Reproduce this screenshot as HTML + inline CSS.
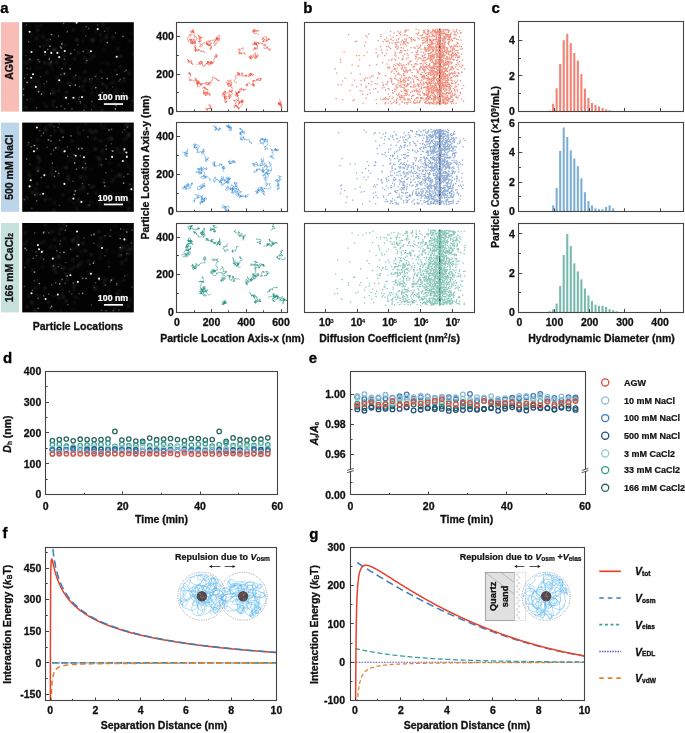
<!DOCTYPE html>
<html><head><meta charset="utf-8"><style>
html,body{margin:0;padding:0;background:#fff;}
svg{display:block;will-change:transform;}
text{font-family:"Liberation Sans",sans-serif;font-weight:bold;}
</style></head><body>
<svg width="685" height="733" viewBox="0 0 685 733">
<rect width="685" height="733" fill="#fff"/>
<defs><filter id="bl" x="-50%" y="-50%" width="200%" height="200%"><feGaussianBlur stdDeviation="0.55"/></filter><filter id="bl2" x="-50%" y="-50%" width="200%" height="200%"><feGaussianBlur stdDeviation="0.9"/></filter></defs>
<text x="0.3" y="13.1" font-size="15" text-anchor="start" fill="#000" stroke="#000" stroke-width="0.30" >a</text>
<text x="303.2" y="12.9" font-size="15" text-anchor="start" fill="#000" stroke="#000" stroke-width="0.30" >b</text>
<text x="491.6" y="13.3" font-size="15" text-anchor="start" fill="#000" stroke="#000" stroke-width="0.30" >c</text>
<text x="2.9" y="363" font-size="15" text-anchor="start" fill="#000" stroke="#000" stroke-width="0.30" >d</text>
<text x="308.8" y="363" font-size="15" text-anchor="start" fill="#000" stroke="#000" stroke-width="0.30" >e</text>
<text x="2.4" y="538.3" font-size="15" text-anchor="start" fill="#000" stroke="#000" stroke-width="0.30" >f</text>
<text x="309.2" y="538.7" font-size="15" text-anchor="start" fill="#000" stroke="#000" stroke-width="0.30" >g</text>
<rect x="1" y="22.2" width="18" height="89.4" fill="#F7BDB6"/>
<text transform="translate(13.2,66.9) rotate(-90)" font-size="10.5" text-anchor="middle" fill="#111" stroke="#111" stroke-width="0.3">AGW</text>
<rect x="22.2" y="22.2" width="111.6" height="89.4" fill="#030303"/>
<g fill="#fff" filter="url(#bl)"><circle cx="76.6" cy="22.7" r="1.05" fill-opacity="0.95"/><circle cx="90.9" cy="51.3" r="1.05" fill-opacity="0.95"/><circle cx="59.2" cy="57.0" r="1.05" fill-opacity="0.95"/><circle cx="73.4" cy="97.7" r="1.05" fill-opacity="0.95"/><circle cx="33.0" cy="74.2" r="1.05" fill-opacity="0.95"/><circle cx="35.9" cy="86.9" r="1.05" fill-opacity="0.95"/><circle cx="45.1" cy="52.1" r="1.05" fill-opacity="0.95"/><circle cx="31.5" cy="52.0" r="1.05" fill-opacity="0.95"/><circle cx="97.7" cy="29.1" r="1.05" fill-opacity="0.95"/><circle cx="116.7" cy="56.7" r="1.05" fill-opacity="0.95"/><circle cx="64.7" cy="51.0" r="1.05" fill-opacity="0.95"/><circle cx="57.4" cy="52.9" r="1.05" fill-opacity="0.95"/><circle cx="51.3" cy="52.9" r="1.05" fill-opacity="0.95"/><circle cx="29.6" cy="31.7" r="1.05" fill-opacity="0.95"/><circle cx="59.2" cy="80.2" r="1.05" fill-opacity="0.95"/><circle cx="82.0" cy="97.1" r="1.05" fill-opacity="0.95"/><circle cx="31.2" cy="77.8" r="1.05" fill-opacity="0.95"/><circle cx="66.0" cy="97.7" r="1.05" fill-opacity="0.95"/><circle cx="61.9" cy="43.9" r="0.85" fill-opacity="0.55"/><circle cx="61.4" cy="48.0" r="0.85" fill-opacity="0.55"/><circle cx="50.0" cy="46.2" r="0.85" fill-opacity="0.55"/><circle cx="70.8" cy="53.6" r="0.85" fill-opacity="0.55"/><circle cx="107.2" cy="42.6" r="0.85" fill-opacity="0.55"/><circle cx="64.4" cy="73.7" r="0.85" fill-opacity="0.55"/><circle cx="75.3" cy="85.1" r="0.85" fill-opacity="0.55"/><circle cx="51.6" cy="34.5" r="0.85" fill-opacity="0.55"/><circle cx="38.6" cy="91.7" r="0.85" fill-opacity="0.55"/><circle cx="27.1" cy="82.4" r="0.85" fill-opacity="0.55"/><circle cx="117.0" cy="74.5" r="0.85" fill-opacity="0.55"/><circle cx="107.2" cy="78.6" r="0.85" fill-opacity="0.55"/><circle cx="102.3" cy="92.5" r="0.85" fill-opacity="0.55"/><circle cx="115.4" cy="108.9" r="0.85" fill-opacity="0.55"/><circle cx="95.8" cy="87.6" r="0.85" fill-opacity="0.55"/><circle cx="41.5" cy="94.1" r="0.85" fill-opacity="0.55"/><circle cx="49.2" cy="59.0" r="0.85" fill-opacity="0.55"/><circle cx="69.9" cy="85.5" r="0.85" fill-opacity="0.55"/><circle cx="91.8" cy="101.6" r="0.8" fill-opacity="0.39"/><circle cx="47.8" cy="49.4" r="0.8" fill-opacity="0.41"/><circle cx="23.6" cy="95" r="0.8" fill-opacity="0.40"/><circle cx="74.5" cy="49.7" r="0.8" fill-opacity="0.28"/><circle cx="51" cy="62.1" r="0.8" fill-opacity="0.33"/><circle cx="83.9" cy="110.2" r="0.8" fill-opacity="0.39"/><circle cx="91.4" cy="109.6" r="0.8" fill-opacity="0.27"/><circle cx="40.6" cy="76.7" r="0.8" fill-opacity="0.23"/><circle cx="26.9" cy="68.2" r="0.8" fill-opacity="0.32"/><circle cx="123.9" cy="78.2" r="0.8" fill-opacity="0.33"/><circle cx="77.7" cy="44.8" r="0.8" fill-opacity="0.22"/><circle cx="44.2" cy="83.7" r="0.8" fill-opacity="0.26"/><circle cx="63.6" cy="23.5" r="0.8" fill-opacity="0.40"/><circle cx="40" cy="46.6" r="0.8" fill-opacity="0.41"/><circle cx="79.1" cy="97.2" r="0.8" fill-opacity="0.36"/><circle cx="104.6" cy="31.2" r="0.8" fill-opacity="0.34"/><circle cx="78.9" cy="99.4" r="0.8" fill-opacity="0.30"/><circle cx="88.8" cy="28.4" r="0.8" fill-opacity="0.31"/><circle cx="58.5" cy="36.3" r="0.8" fill-opacity="0.40"/><circle cx="64.7" cy="108.7" r="0.8" fill-opacity="0.35"/><circle cx="89.6" cy="79" r="0.8" fill-opacity="0.37"/><circle cx="39.6" cy="61.7" r="0.8" fill-opacity="0.27"/><circle cx="67.3" cy="31.7" r="0.8" fill-opacity="0.43"/><circle cx="46.7" cy="81.9" r="0.8" fill-opacity="0.29"/><circle cx="119.1" cy="81.1" r="0.8" fill-opacity="0.25"/><circle cx="116" cy="105.8" r="0.8" fill-opacity="0.42"/><circle cx="85.7" cy="35.9" r="0.8" fill-opacity="0.26"/><circle cx="125.1" cy="71.5" r="0.8" fill-opacity="0.26"/><circle cx="120.2" cy="79.3" r="0.8" fill-opacity="0.35"/><circle cx="64.4" cy="59.1" r="0.8" fill-opacity="0.27"/><circle cx="27.2" cy="99.8" r="0.8" fill-opacity="0.32"/><circle cx="83.2" cy="51.4" r="0.8" fill-opacity="0.39"/><circle cx="25.8" cy="55.7" r="0.8" fill-opacity="0.23"/><circle cx="36.5" cy="107.7" r="0.8" fill-opacity="0.36"/><circle cx="70.1" cy="69" r="0.8" fill-opacity="0.41"/><circle cx="60.9" cy="74.8" r="0.8" fill-opacity="0.37"/><circle cx="62.1" cy="68.6" r="0.8" fill-opacity="0.39"/><circle cx="123" cy="36.4" r="0.8" fill-opacity="0.43"/><circle cx="23.6" cy="89" r="0.8" fill-opacity="0.40"/><circle cx="38" cy="59.8" r="0.8" fill-opacity="0.40"/><circle cx="24.6" cy="78.1" r="0.8" fill-opacity="0.39"/><circle cx="79.4" cy="86.6" r="0.8" fill-opacity="0.27"/><circle cx="44.8" cy="54.9" r="0.8" fill-opacity="0.26"/><circle cx="61.1" cy="106.1" r="0.8" fill-opacity="0.35"/><circle cx="60.4" cy="46.9" r="0.8" fill-opacity="0.43"/><circle cx="71.9" cy="108.9" r="0.8" fill-opacity="0.33"/><circle cx="80.3" cy="101.6" r="0.8" fill-opacity="0.38"/><circle cx="86.9" cy="60.5" r="0.8" fill-opacity="0.41"/><circle cx="68.3" cy="103.8" r="0.8" fill-opacity="0.24"/><circle cx="70.3" cy="68.6" r="0.8" fill-opacity="0.43"/><circle cx="50.6" cy="93.6" r="0.8" fill-opacity="0.37"/><circle cx="101.9" cy="78.2" r="0.8" fill-opacity="0.43"/><circle cx="59.6" cy="58" r="0.8" fill-opacity="0.26"/><circle cx="28.6" cy="41.8" r="0.8" fill-opacity="0.42"/><circle cx="115.4" cy="33" r="0.8" fill-opacity="0.35"/><circle cx="75.7" cy="75.2" r="0.8" fill-opacity="0.37"/><circle cx="56.7" cy="107.2" r="0.8" fill-opacity="0.32"/><circle cx="92.1" cy="78.7" r="0.8" fill-opacity="0.26"/><circle cx="29.8" cy="59.2" r="0.8" fill-opacity="0.39"/><circle cx="112.7" cy="87" r="0.8" fill-opacity="0.24"/><circle cx="123.5" cy="93.3" r="0.8" fill-opacity="0.41"/><circle cx="80.6" cy="103.2" r="0.8" fill-opacity="0.23"/><circle cx="26.3" cy="25" r="0.8" fill-opacity="0.28"/><circle cx="50.3" cy="39.6" r="0.8" fill-opacity="0.34"/><circle cx="27.3" cy="74.8" r="0.8" fill-opacity="0.26"/><circle cx="97.6" cy="25" r="0.8" fill-opacity="0.29"/><circle cx="126.2" cy="70.3" r="0.8" fill-opacity="0.40"/><circle cx="95.4" cy="76.6" r="0.8" fill-opacity="0.26"/><circle cx="86.2" cy="26.7" r="0.8" fill-opacity="0.40"/><circle cx="128.6" cy="97.8" r="0.8" fill-opacity="0.23"/></g>
<g fill="#fff" filter="url(#bl2)"><circle cx="60.3" cy="51" r="1.1" fill-opacity="0.10"/><circle cx="91.9" cy="92.9" r="1.1" fill-opacity="0.13"/><circle cx="117.9" cy="92.9" r="1.1" fill-opacity="0.10"/><circle cx="107.4" cy="100.3" r="1.1" fill-opacity="0.11"/><circle cx="86.1" cy="79" r="1.1" fill-opacity="0.18"/><circle cx="33.6" cy="81" r="1.1" fill-opacity="0.18"/><circle cx="113.6" cy="93.4" r="1.1" fill-opacity="0.13"/><circle cx="102.4" cy="99" r="1.1" fill-opacity="0.22"/><circle cx="40.8" cy="25.5" r="1.1" fill-opacity="0.18"/><circle cx="46.6" cy="72.5" r="1.1" fill-opacity="0.23"/><circle cx="64.7" cy="45.3" r="1.1" fill-opacity="0.15"/><circle cx="95.3" cy="32" r="1.1" fill-opacity="0.14"/><circle cx="37.7" cy="81.1" r="1.1" fill-opacity="0.21"/><circle cx="64.5" cy="55.7" r="1.1" fill-opacity="0.17"/><circle cx="46.7" cy="44.8" r="1.1" fill-opacity="0.13"/><circle cx="73.3" cy="30.3" r="1.1" fill-opacity="0.20"/><circle cx="86.7" cy="49.4" r="1.1" fill-opacity="0.09"/><circle cx="106.9" cy="34.7" r="1.1" fill-opacity="0.10"/><circle cx="37.4" cy="30.3" r="1.1" fill-opacity="0.23"/><circle cx="52.6" cy="50" r="1.1" fill-opacity="0.21"/><circle cx="91.2" cy="39.6" r="1.1" fill-opacity="0.15"/><circle cx="120.2" cy="56" r="1.1" fill-opacity="0.19"/><circle cx="33.6" cy="86.8" r="1.1" fill-opacity="0.20"/><circle cx="113.8" cy="82.1" r="1.1" fill-opacity="0.14"/><circle cx="30.1" cy="68.5" r="1.1" fill-opacity="0.20"/><circle cx="44" cy="46.5" r="1.1" fill-opacity="0.17"/><circle cx="105.3" cy="101.6" r="1.1" fill-opacity="0.10"/><circle cx="43.3" cy="93.1" r="1.1" fill-opacity="0.18"/><circle cx="102.3" cy="110.3" r="1.1" fill-opacity="0.23"/><circle cx="115.7" cy="91.1" r="1.1" fill-opacity="0.14"/><circle cx="93.5" cy="39.3" r="1.1" fill-opacity="0.20"/><circle cx="106.3" cy="86.2" r="1.1" fill-opacity="0.15"/><circle cx="64.6" cy="59.9" r="1.1" fill-opacity="0.09"/><circle cx="115.9" cy="70.6" r="1.1" fill-opacity="0.14"/><circle cx="83.3" cy="86.3" r="1.1" fill-opacity="0.14"/><circle cx="114.4" cy="103.6" r="1.1" fill-opacity="0.14"/><circle cx="38.2" cy="89.7" r="1.1" fill-opacity="0.24"/><circle cx="39.3" cy="85.5" r="1.1" fill-opacity="0.21"/><circle cx="124.3" cy="34" r="1.1" fill-opacity="0.09"/><circle cx="131.7" cy="33.4" r="1.1" fill-opacity="0.11"/><circle cx="86.2" cy="62.2" r="1.1" fill-opacity="0.20"/><circle cx="44" cy="103.1" r="1.1" fill-opacity="0.11"/><circle cx="107.6" cy="29.1" r="1.1" fill-opacity="0.16"/><circle cx="26.6" cy="50.6" r="1.1" fill-opacity="0.13"/><circle cx="102.2" cy="63" r="1.1" fill-opacity="0.09"/><circle cx="132.5" cy="100.9" r="1.1" fill-opacity="0.23"/><circle cx="50.1" cy="57.6" r="1.1" fill-opacity="0.12"/><circle cx="36.7" cy="26.1" r="1.1" fill-opacity="0.16"/><circle cx="36.5" cy="38.6" r="1.1" fill-opacity="0.22"/><circle cx="76.3" cy="39.3" r="1.1" fill-opacity="0.19"/><circle cx="52.2" cy="69.3" r="1.1" fill-opacity="0.13"/><circle cx="79.8" cy="78.1" r="1.1" fill-opacity="0.17"/><circle cx="66.5" cy="92.3" r="1.1" fill-opacity="0.22"/><circle cx="42.7" cy="35.1" r="1.1" fill-opacity="0.10"/><circle cx="130.8" cy="105.5" r="1.1" fill-opacity="0.12"/><circle cx="129.7" cy="41.4" r="1.1" fill-opacity="0.16"/><circle cx="77.7" cy="103.2" r="1.1" fill-opacity="0.09"/><circle cx="57.7" cy="75.6" r="1.1" fill-opacity="0.09"/><circle cx="49" cy="63.8" r="1.1" fill-opacity="0.22"/><circle cx="106.7" cy="95.7" r="1.1" fill-opacity="0.20"/><circle cx="100.8" cy="97.5" r="1.1" fill-opacity="0.19"/><circle cx="103.9" cy="49.6" r="1.1" fill-opacity="0.11"/><circle cx="106.2" cy="37.7" r="1.1" fill-opacity="0.23"/><circle cx="88.6" cy="52" r="1.1" fill-opacity="0.23"/><circle cx="40.1" cy="68.2" r="1.1" fill-opacity="0.09"/><circle cx="129.2" cy="73.5" r="1.1" fill-opacity="0.21"/><circle cx="54" cy="93.3" r="1.1" fill-opacity="0.19"/><circle cx="93.8" cy="106.3" r="1.1" fill-opacity="0.15"/><circle cx="68.7" cy="83.7" r="1.1" fill-opacity="0.21"/><circle cx="59.9" cy="81.7" r="1.1" fill-opacity="0.11"/><circle cx="83.7" cy="90.4" r="1.1" fill-opacity="0.09"/><circle cx="103.1" cy="24.5" r="1.1" fill-opacity="0.23"/><circle cx="74.6" cy="59" r="1.1" fill-opacity="0.20"/><circle cx="80.6" cy="87.1" r="1.1" fill-opacity="0.09"/><circle cx="84.9" cy="72" r="1.1" fill-opacity="0.23"/><circle cx="27.4" cy="62.8" r="1.1" fill-opacity="0.18"/><circle cx="83.6" cy="29.7" r="1.1" fill-opacity="0.17"/><circle cx="47.4" cy="40.3" r="1.1" fill-opacity="0.22"/><circle cx="44.8" cy="62.9" r="1.1" fill-opacity="0.20"/><circle cx="100.8" cy="71.6" r="1.1" fill-opacity="0.21"/><circle cx="74.2" cy="77.4" r="1.1" fill-opacity="0.21"/><circle cx="97.6" cy="79.3" r="1.1" fill-opacity="0.14"/><circle cx="84.4" cy="57.8" r="1.1" fill-opacity="0.20"/><circle cx="64.8" cy="64" r="1.1" fill-opacity="0.20"/><circle cx="78.4" cy="52.7" r="1.1" fill-opacity="0.21"/><circle cx="64.9" cy="97" r="1.1" fill-opacity="0.21"/><circle cx="72.2" cy="85.5" r="1.1" fill-opacity="0.09"/><circle cx="65.9" cy="98.4" r="1.1" fill-opacity="0.17"/><circle cx="84.4" cy="81.3" r="1.1" fill-opacity="0.19"/><circle cx="87.2" cy="60" r="1.1" fill-opacity="0.11"/><circle cx="55.2" cy="48.8" r="1.1" fill-opacity="0.15"/><circle cx="132.9" cy="54" r="1.1" fill-opacity="0.15"/><circle cx="63.9" cy="74" r="1.1" fill-opacity="0.23"/><circle cx="120.8" cy="56.2" r="1.1" fill-opacity="0.12"/><circle cx="120.3" cy="66.4" r="1.1" fill-opacity="0.19"/><circle cx="31.1" cy="98.9" r="1.1" fill-opacity="0.13"/><circle cx="77.4" cy="40.5" r="1.1" fill-opacity="0.15"/><circle cx="114.1" cy="95.5" r="1.1" fill-opacity="0.16"/><circle cx="107.5" cy="63.2" r="1.1" fill-opacity="0.14"/><circle cx="83" cy="40.8" r="1.1" fill-opacity="0.13"/><circle cx="100.7" cy="90.5" r="1.1" fill-opacity="0.09"/><circle cx="103.6" cy="94.6" r="1.1" fill-opacity="0.15"/><circle cx="29.9" cy="82.9" r="1.1" fill-opacity="0.12"/><circle cx="93.8" cy="56.1" r="1.1" fill-opacity="0.18"/><circle cx="51.4" cy="64.8" r="1.1" fill-opacity="0.16"/><circle cx="92.4" cy="41" r="1.1" fill-opacity="0.23"/><circle cx="54.8" cy="49.9" r="1.1" fill-opacity="0.12"/><circle cx="30.4" cy="60.2" r="1.1" fill-opacity="0.20"/><circle cx="101.1" cy="40.3" r="1.1" fill-opacity="0.10"/><circle cx="58.4" cy="90.3" r="1.1" fill-opacity="0.16"/><circle cx="124.6" cy="80.6" r="1.1" fill-opacity="0.18"/><circle cx="107.4" cy="88.8" r="1.1" fill-opacity="0.14"/><circle cx="51.3" cy="61.4" r="1.1" fill-opacity="0.16"/><circle cx="38.6" cy="61.8" r="1.1" fill-opacity="0.18"/><circle cx="37.9" cy="35.3" r="1.1" fill-opacity="0.11"/><circle cx="54.2" cy="107.3" r="1.1" fill-opacity="0.08"/><circle cx="43.2" cy="37.6" r="1.1" fill-opacity="0.16"/><circle cx="24.7" cy="63.2" r="1.1" fill-opacity="0.11"/><circle cx="52.7" cy="92.5" r="1.1" fill-opacity="0.11"/><circle cx="90.9" cy="58.7" r="1.1" fill-opacity="0.15"/><circle cx="112.9" cy="37.3" r="1.1" fill-opacity="0.23"/><circle cx="121.3" cy="81.6" r="1.1" fill-opacity="0.09"/><circle cx="96" cy="75.7" r="1.1" fill-opacity="0.20"/><circle cx="46.5" cy="106.5" r="1.1" fill-opacity="0.22"/><circle cx="35.6" cy="50.7" r="1.1" fill-opacity="0.09"/><circle cx="114.4" cy="103.2" r="1.1" fill-opacity="0.24"/><circle cx="90.3" cy="81.4" r="1.1" fill-opacity="0.19"/><circle cx="85.7" cy="106.4" r="1.1" fill-opacity="0.18"/><circle cx="59.9" cy="68" r="1.1" fill-opacity="0.08"/><circle cx="102.7" cy="83.8" r="1.1" fill-opacity="0.15"/><circle cx="116.7" cy="89.2" r="1.1" fill-opacity="0.13"/><circle cx="31.5" cy="34.8" r="1.1" fill-opacity="0.11"/><circle cx="56.4" cy="62.3" r="1.1" fill-opacity="0.23"/><circle cx="53.6" cy="101.7" r="1.1" fill-opacity="0.19"/><circle cx="116.9" cy="58.4" r="1.1" fill-opacity="0.08"/><circle cx="109.6" cy="44.7" r="1.1" fill-opacity="0.10"/><circle cx="110.9" cy="83.2" r="1.1" fill-opacity="0.11"/><circle cx="52.4" cy="105.3" r="1.1" fill-opacity="0.12"/><circle cx="100.3" cy="34.5" r="1.1" fill-opacity="0.21"/><circle cx="35.9" cy="68.3" r="1.1" fill-opacity="0.09"/><circle cx="83.5" cy="97.2" r="1.1" fill-opacity="0.09"/><circle cx="53.2" cy="90" r="1.1" fill-opacity="0.18"/><circle cx="57.4" cy="78.2" r="1.1" fill-opacity="0.15"/><circle cx="117.9" cy="48.8" r="1.1" fill-opacity="0.20"/><circle cx="92.9" cy="87.9" r="1.1" fill-opacity="0.14"/><circle cx="102.7" cy="84.2" r="1.1" fill-opacity="0.14"/><circle cx="25.9" cy="107.4" r="1.1" fill-opacity="0.19"/><circle cx="45.5" cy="87.1" r="1.1" fill-opacity="0.12"/><circle cx="74.6" cy="98.4" r="1.1" fill-opacity="0.15"/><circle cx="54.7" cy="49.9" r="1.1" fill-opacity="0.09"/></g>
<text x="128.2" y="100.3" font-size="8.8" text-anchor="end" fill="#fff" stroke="#fff" stroke-width="0.21" >100 nm</text>
<rect x="103.9" y="103.2" width="19.1" height="1.7" fill="#fff"/>
<rect x="1" y="122.6" width="18" height="89.2" fill="#BDD5EA"/>
<text transform="translate(13.2,167.2) rotate(-90)" font-size="10.5" text-anchor="middle" fill="#111" stroke="#111" stroke-width="0.3">500 mM NaCl</text>
<rect x="22.2" y="122.6" width="111.6" height="89.2" fill="#030303"/>
<g fill="#fff" filter="url(#bl)"><circle cx="36.9" cy="127.5" r="1.05" fill-opacity="0.95"/><circle cx="126.4" cy="152.5" r="1.05" fill-opacity="0.95"/><circle cx="124.4" cy="149.1" r="1.05" fill-opacity="0.95"/><circle cx="44.3" cy="175.2" r="1.05" fill-opacity="0.95"/><circle cx="43.1" cy="193.7" r="1.05" fill-opacity="0.95"/><circle cx="73.4" cy="198.6" r="1.05" fill-opacity="0.95"/><circle cx="81.4" cy="201.9" r="1.05" fill-opacity="0.95"/><circle cx="84.0" cy="157.3" r="1.05" fill-opacity="0.95"/><circle cx="75.8" cy="155.8" r="1.05" fill-opacity="0.95"/><circle cx="64.7" cy="151.2" r="1.05" fill-opacity="0.95"/><circle cx="34.0" cy="151.2" r="1.05" fill-opacity="0.95"/><circle cx="131.4" cy="189.3" r="1.05" fill-opacity="0.95"/><circle cx="64.4" cy="183.9" r="1.05" fill-opacity="0.95"/><circle cx="29.6" cy="186.4" r="1.05" fill-opacity="0.95"/><circle cx="30.7" cy="180.2" r="1.05" fill-opacity="0.95"/><circle cx="112.1" cy="156.9" r="1.05" fill-opacity="0.95"/><circle cx="126.8" cy="156.9" r="1.05" fill-opacity="0.95"/><circle cx="122.8" cy="161.0" r="1.05" fill-opacity="0.95"/><circle cx="63.1" cy="137.0" r="0.85" fill-opacity="0.55"/><circle cx="48.4" cy="139.8" r="0.85" fill-opacity="0.55"/><circle cx="34.5" cy="145.5" r="0.85" fill-opacity="0.55"/><circle cx="37.2" cy="148.4" r="0.85" fill-opacity="0.55"/><circle cx="55.7" cy="171.3" r="0.85" fill-opacity="0.55"/><circle cx="55.7" cy="147.9" r="0.85" fill-opacity="0.55"/><circle cx="78.6" cy="148.8" r="0.85" fill-opacity="0.55"/><circle cx="81.9" cy="148.4" r="0.85" fill-opacity="0.55"/><circle cx="74.2" cy="194.5" r="0.85" fill-opacity="0.55"/><circle cx="75.3" cy="190.9" r="0.85" fill-opacity="0.55"/><circle cx="104.8" cy="186.0" r="0.85" fill-opacity="0.55"/><circle cx="123.6" cy="183.1" r="0.85" fill-opacity="0.55"/><circle cx="82.7" cy="167.6" r="0.85" fill-opacity="0.55"/><circle cx="112.9" cy="151.2" r="0.85" fill-opacity="0.55"/><circle cx="108.9" cy="130.0" r="0.85" fill-opacity="0.55"/><circle cx="47.1" cy="147.2" r="0.8" fill-opacity="0.26"/><circle cx="29.9" cy="164.2" r="0.8" fill-opacity="0.27"/><circle cx="104.3" cy="204" r="0.8" fill-opacity="0.28"/><circle cx="85.9" cy="167.8" r="0.8" fill-opacity="0.24"/><circle cx="36.7" cy="200.8" r="0.8" fill-opacity="0.32"/><circle cx="111.5" cy="129.4" r="0.8" fill-opacity="0.35"/><circle cx="118.2" cy="199.2" r="0.8" fill-opacity="0.22"/><circle cx="80.4" cy="155.8" r="0.8" fill-opacity="0.39"/><circle cx="31.1" cy="146.7" r="0.8" fill-opacity="0.40"/><circle cx="74.7" cy="163.1" r="0.8" fill-opacity="0.43"/><circle cx="58.2" cy="127.2" r="0.8" fill-opacity="0.31"/><circle cx="39.9" cy="130.7" r="0.8" fill-opacity="0.34"/><circle cx="127.9" cy="174.1" r="0.8" fill-opacity="0.36"/><circle cx="58.6" cy="173.4" r="0.8" fill-opacity="0.39"/><circle cx="87.8" cy="193.6" r="0.8" fill-opacity="0.34"/><circle cx="44.8" cy="174.4" r="0.8" fill-opacity="0.33"/><circle cx="41.3" cy="177.6" r="0.8" fill-opacity="0.40"/><circle cx="37.9" cy="171.1" r="0.8" fill-opacity="0.38"/><circle cx="67.3" cy="147.1" r="0.8" fill-opacity="0.30"/><circle cx="82.6" cy="183.5" r="0.8" fill-opacity="0.34"/><circle cx="34.8" cy="194.9" r="0.8" fill-opacity="0.42"/><circle cx="34.1" cy="145.4" r="0.8" fill-opacity="0.26"/><circle cx="116.4" cy="203" r="0.8" fill-opacity="0.23"/><circle cx="59.6" cy="140.4" r="0.8" fill-opacity="0.32"/><circle cx="124.4" cy="129.7" r="0.8" fill-opacity="0.26"/><circle cx="76.6" cy="169.3" r="0.8" fill-opacity="0.38"/><circle cx="71.1" cy="135.9" r="0.8" fill-opacity="0.30"/><circle cx="131" cy="189.1" r="0.8" fill-opacity="0.25"/><circle cx="111.9" cy="150.7" r="0.8" fill-opacity="0.39"/><circle cx="24.4" cy="199.6" r="0.8" fill-opacity="0.26"/><circle cx="73.1" cy="181.3" r="0.8" fill-opacity="0.33"/><circle cx="41.2" cy="135.7" r="0.8" fill-opacity="0.28"/><circle cx="28.8" cy="142.5" r="0.8" fill-opacity="0.25"/><circle cx="74.1" cy="154.7" r="0.8" fill-opacity="0.35"/><circle cx="53.9" cy="126.6" r="0.8" fill-opacity="0.29"/><circle cx="106.1" cy="145.9" r="0.8" fill-opacity="0.31"/><circle cx="106" cy="159.1" r="0.8" fill-opacity="0.42"/><circle cx="124" cy="150.7" r="0.8" fill-opacity="0.38"/><circle cx="50.8" cy="135.8" r="0.8" fill-opacity="0.32"/><circle cx="89.3" cy="205.2" r="0.8" fill-opacity="0.25"/><circle cx="101.4" cy="165.1" r="0.8" fill-opacity="0.25"/><circle cx="130" cy="184.3" r="0.8" fill-opacity="0.25"/><circle cx="122.6" cy="132.6" r="0.8" fill-opacity="0.24"/><circle cx="59.5" cy="205.4" r="0.8" fill-opacity="0.23"/><circle cx="124" cy="176.9" r="0.8" fill-opacity="0.23"/><circle cx="85.5" cy="163.6" r="0.8" fill-opacity="0.34"/><circle cx="104.1" cy="182.8" r="0.8" fill-opacity="0.44"/><circle cx="40.2" cy="194.5" r="0.8" fill-opacity="0.31"/><circle cx="109.2" cy="201.4" r="0.8" fill-opacity="0.44"/><circle cx="52.3" cy="163.1" r="0.8" fill-opacity="0.43"/><circle cx="127" cy="156.1" r="0.8" fill-opacity="0.43"/><circle cx="67.6" cy="156.3" r="0.8" fill-opacity="0.39"/><circle cx="74.8" cy="162.7" r="0.8" fill-opacity="0.30"/><circle cx="70.6" cy="135.8" r="0.8" fill-opacity="0.23"/><circle cx="105.9" cy="172.8" r="0.8" fill-opacity="0.37"/><circle cx="111.3" cy="143.7" r="0.8" fill-opacity="0.27"/><circle cx="53.6" cy="150.1" r="0.8" fill-opacity="0.39"/><circle cx="64.2" cy="151.8" r="0.8" fill-opacity="0.36"/><circle cx="43.5" cy="132.9" r="0.8" fill-opacity="0.37"/><circle cx="106.2" cy="149.4" r="0.8" fill-opacity="0.36"/><circle cx="26.7" cy="158.9" r="0.8" fill-opacity="0.35"/><circle cx="50.9" cy="154" r="0.8" fill-opacity="0.35"/><circle cx="87.9" cy="137" r="0.8" fill-opacity="0.38"/><circle cx="31.8" cy="208.2" r="0.8" fill-opacity="0.26"/><circle cx="50.9" cy="141.1" r="0.8" fill-opacity="0.44"/><circle cx="54.5" cy="176.4" r="0.8" fill-opacity="0.44"/><circle cx="127.5" cy="127.3" r="0.8" fill-opacity="0.33"/><circle cx="89.1" cy="184.8" r="0.8" fill-opacity="0.29"/><circle cx="59.1" cy="124" r="0.8" fill-opacity="0.23"/><circle cx="83.5" cy="130.2" r="0.8" fill-opacity="0.26"/></g>
<g fill="#fff" filter="url(#bl2)"><circle cx="59.7" cy="129.7" r="1.1" fill-opacity="0.08"/><circle cx="125" cy="161.6" r="1.1" fill-opacity="0.11"/><circle cx="100.9" cy="124.4" r="1.1" fill-opacity="0.12"/><circle cx="128.7" cy="201.9" r="1.1" fill-opacity="0.18"/><circle cx="33.3" cy="151.3" r="1.1" fill-opacity="0.08"/><circle cx="47.1" cy="125.8" r="1.1" fill-opacity="0.10"/><circle cx="92.7" cy="132.4" r="1.1" fill-opacity="0.10"/><circle cx="122.3" cy="152.9" r="1.1" fill-opacity="0.13"/><circle cx="32.5" cy="193" r="1.1" fill-opacity="0.19"/><circle cx="83.2" cy="177.5" r="1.1" fill-opacity="0.10"/><circle cx="51.6" cy="174.5" r="1.1" fill-opacity="0.23"/><circle cx="112.9" cy="179.5" r="1.1" fill-opacity="0.16"/><circle cx="24.7" cy="201.3" r="1.1" fill-opacity="0.09"/><circle cx="37.2" cy="184" r="1.1" fill-opacity="0.21"/><circle cx="109.5" cy="163" r="1.1" fill-opacity="0.11"/><circle cx="26.9" cy="197.8" r="1.1" fill-opacity="0.24"/><circle cx="49.9" cy="199.1" r="1.1" fill-opacity="0.14"/><circle cx="57.2" cy="167.6" r="1.1" fill-opacity="0.08"/><circle cx="71.7" cy="141" r="1.1" fill-opacity="0.19"/><circle cx="78.3" cy="199.4" r="1.1" fill-opacity="0.22"/><circle cx="57.8" cy="148" r="1.1" fill-opacity="0.23"/><circle cx="78.4" cy="132" r="1.1" fill-opacity="0.09"/><circle cx="131.9" cy="174.1" r="1.1" fill-opacity="0.09"/><circle cx="79.2" cy="167.6" r="1.1" fill-opacity="0.15"/><circle cx="127.6" cy="206.3" r="1.1" fill-opacity="0.10"/><circle cx="39.7" cy="159.1" r="1.1" fill-opacity="0.21"/><circle cx="91.6" cy="187.2" r="1.1" fill-opacity="0.17"/><circle cx="46.1" cy="194.9" r="1.1" fill-opacity="0.08"/><circle cx="99.8" cy="140.5" r="1.1" fill-opacity="0.16"/><circle cx="130.3" cy="170.6" r="1.1" fill-opacity="0.09"/><circle cx="70.2" cy="181.2" r="1.1" fill-opacity="0.09"/><circle cx="50.8" cy="125.2" r="1.1" fill-opacity="0.17"/><circle cx="65" cy="167.5" r="1.1" fill-opacity="0.13"/><circle cx="95.2" cy="138.7" r="1.1" fill-opacity="0.23"/><circle cx="128.6" cy="166.6" r="1.1" fill-opacity="0.15"/><circle cx="117.6" cy="148.9" r="1.1" fill-opacity="0.21"/><circle cx="54.6" cy="186.4" r="1.1" fill-opacity="0.13"/><circle cx="89.3" cy="204.3" r="1.1" fill-opacity="0.09"/><circle cx="111.8" cy="170.8" r="1.1" fill-opacity="0.14"/><circle cx="61.5" cy="129.7" r="1.1" fill-opacity="0.12"/><circle cx="91.5" cy="132.1" r="1.1" fill-opacity="0.19"/><circle cx="128.8" cy="209.1" r="1.1" fill-opacity="0.22"/><circle cx="111.7" cy="139.1" r="1.1" fill-opacity="0.24"/><circle cx="45.3" cy="199.4" r="1.1" fill-opacity="0.22"/><circle cx="91.4" cy="169.1" r="1.1" fill-opacity="0.11"/><circle cx="80.1" cy="148.9" r="1.1" fill-opacity="0.10"/><circle cx="37.1" cy="193.5" r="1.1" fill-opacity="0.23"/><circle cx="38.6" cy="124.8" r="1.1" fill-opacity="0.12"/><circle cx="37.8" cy="140" r="1.1" fill-opacity="0.17"/><circle cx="69.5" cy="161" r="1.1" fill-opacity="0.11"/><circle cx="96.1" cy="148.8" r="1.1" fill-opacity="0.14"/><circle cx="74" cy="202.5" r="1.1" fill-opacity="0.12"/><circle cx="102.1" cy="150.6" r="1.1" fill-opacity="0.22"/><circle cx="66.3" cy="167.7" r="1.1" fill-opacity="0.22"/><circle cx="97" cy="131.8" r="1.1" fill-opacity="0.10"/><circle cx="132" cy="126.1" r="1.1" fill-opacity="0.13"/><circle cx="128.5" cy="124.9" r="1.1" fill-opacity="0.11"/><circle cx="46.5" cy="131.1" r="1.1" fill-opacity="0.16"/><circle cx="88.2" cy="151.4" r="1.1" fill-opacity="0.10"/><circle cx="112.2" cy="193.7" r="1.1" fill-opacity="0.17"/><circle cx="38.2" cy="170.9" r="1.1" fill-opacity="0.18"/><circle cx="70.1" cy="198.9" r="1.1" fill-opacity="0.14"/><circle cx="79.2" cy="133.6" r="1.1" fill-opacity="0.17"/><circle cx="107.3" cy="187.4" r="1.1" fill-opacity="0.12"/><circle cx="132.1" cy="186.4" r="1.1" fill-opacity="0.15"/><circle cx="68.6" cy="191.6" r="1.1" fill-opacity="0.11"/><circle cx="93.4" cy="186.3" r="1.1" fill-opacity="0.16"/><circle cx="119.1" cy="164.5" r="1.1" fill-opacity="0.15"/><circle cx="54.3" cy="203.8" r="1.1" fill-opacity="0.13"/><circle cx="99.5" cy="159.3" r="1.1" fill-opacity="0.23"/><circle cx="127.3" cy="126.2" r="1.1" fill-opacity="0.24"/><circle cx="89.5" cy="130" r="1.1" fill-opacity="0.16"/><circle cx="28.4" cy="171.5" r="1.1" fill-opacity="0.11"/><circle cx="63.5" cy="150.2" r="1.1" fill-opacity="0.18"/><circle cx="113.5" cy="205.3" r="1.1" fill-opacity="0.13"/><circle cx="85.7" cy="124.1" r="1.1" fill-opacity="0.14"/><circle cx="128.7" cy="134" r="1.1" fill-opacity="0.22"/><circle cx="94.8" cy="149.2" r="1.1" fill-opacity="0.20"/><circle cx="54.8" cy="201.6" r="1.1" fill-opacity="0.09"/><circle cx="36.1" cy="189" r="1.1" fill-opacity="0.15"/><circle cx="39.2" cy="168.4" r="1.1" fill-opacity="0.13"/><circle cx="83.4" cy="188.5" r="1.1" fill-opacity="0.22"/><circle cx="29.5" cy="175.3" r="1.1" fill-opacity="0.24"/><circle cx="73.6" cy="190.7" r="1.1" fill-opacity="0.10"/><circle cx="119.1" cy="174.4" r="1.1" fill-opacity="0.22"/><circle cx="109.6" cy="199.4" r="1.1" fill-opacity="0.09"/><circle cx="101.7" cy="140.8" r="1.1" fill-opacity="0.12"/><circle cx="58.7" cy="175.2" r="1.1" fill-opacity="0.18"/><circle cx="125.5" cy="124.7" r="1.1" fill-opacity="0.11"/><circle cx="62.8" cy="194.9" r="1.1" fill-opacity="0.17"/><circle cx="79.3" cy="189.9" r="1.1" fill-opacity="0.18"/><circle cx="54.9" cy="131.2" r="1.1" fill-opacity="0.15"/><circle cx="119.8" cy="175.8" r="1.1" fill-opacity="0.09"/><circle cx="71.4" cy="157.1" r="1.1" fill-opacity="0.17"/><circle cx="87.6" cy="206.6" r="1.1" fill-opacity="0.13"/><circle cx="67.9" cy="177.1" r="1.1" fill-opacity="0.22"/><circle cx="100.7" cy="164.7" r="1.1" fill-opacity="0.21"/><circle cx="76.4" cy="207.6" r="1.1" fill-opacity="0.13"/><circle cx="37" cy="196" r="1.1" fill-opacity="0.13"/><circle cx="116.2" cy="176.7" r="1.1" fill-opacity="0.16"/><circle cx="32.6" cy="192.2" r="1.1" fill-opacity="0.09"/><circle cx="129.2" cy="200.1" r="1.1" fill-opacity="0.13"/><circle cx="37.1" cy="200.8" r="1.1" fill-opacity="0.16"/><circle cx="36.7" cy="167.1" r="1.1" fill-opacity="0.12"/><circle cx="67.9" cy="179.4" r="1.1" fill-opacity="0.23"/><circle cx="111.1" cy="137.6" r="1.1" fill-opacity="0.16"/><circle cx="77.1" cy="209.9" r="1.1" fill-opacity="0.09"/><circle cx="79.2" cy="203.3" r="1.1" fill-opacity="0.14"/><circle cx="51.8" cy="172.1" r="1.1" fill-opacity="0.13"/><circle cx="125" cy="131" r="1.1" fill-opacity="0.11"/><circle cx="32.2" cy="185.7" r="1.1" fill-opacity="0.13"/><circle cx="122" cy="201.5" r="1.1" fill-opacity="0.23"/><circle cx="51.2" cy="123.7" r="1.1" fill-opacity="0.14"/><circle cx="128.9" cy="190.2" r="1.1" fill-opacity="0.09"/><circle cx="100.3" cy="203.6" r="1.1" fill-opacity="0.23"/><circle cx="101.8" cy="198.9" r="1.1" fill-opacity="0.21"/><circle cx="62.4" cy="132.2" r="1.1" fill-opacity="0.20"/><circle cx="38.1" cy="157.1" r="1.1" fill-opacity="0.24"/><circle cx="84.6" cy="169.1" r="1.1" fill-opacity="0.23"/><circle cx="54.2" cy="210.8" r="1.1" fill-opacity="0.23"/><circle cx="63" cy="152.1" r="1.1" fill-opacity="0.10"/><circle cx="123.7" cy="139.8" r="1.1" fill-opacity="0.08"/><circle cx="120.9" cy="175.8" r="1.1" fill-opacity="0.19"/><circle cx="103.6" cy="127.3" r="1.1" fill-opacity="0.09"/><circle cx="78" cy="128" r="1.1" fill-opacity="0.16"/><circle cx="104" cy="180.9" r="1.1" fill-opacity="0.18"/><circle cx="28.1" cy="144.2" r="1.1" fill-opacity="0.22"/><circle cx="36.6" cy="170.1" r="1.1" fill-opacity="0.09"/><circle cx="126.3" cy="138.6" r="1.1" fill-opacity="0.15"/><circle cx="83.1" cy="186.3" r="1.1" fill-opacity="0.23"/><circle cx="104" cy="153.9" r="1.1" fill-opacity="0.09"/><circle cx="100.8" cy="208.4" r="1.1" fill-opacity="0.08"/><circle cx="108.2" cy="139" r="1.1" fill-opacity="0.15"/><circle cx="80.5" cy="177.2" r="1.1" fill-opacity="0.24"/><circle cx="98.6" cy="157.8" r="1.1" fill-opacity="0.19"/><circle cx="74.3" cy="159.6" r="1.1" fill-opacity="0.14"/><circle cx="77.3" cy="148.1" r="1.1" fill-opacity="0.12"/><circle cx="39.3" cy="162" r="1.1" fill-opacity="0.13"/><circle cx="115.1" cy="197.5" r="1.1" fill-opacity="0.14"/><circle cx="91.1" cy="202.3" r="1.1" fill-opacity="0.14"/><circle cx="84" cy="162.3" r="1.1" fill-opacity="0.18"/><circle cx="128.6" cy="135.7" r="1.1" fill-opacity="0.23"/><circle cx="96.2" cy="193" r="1.1" fill-opacity="0.18"/><circle cx="118.7" cy="152" r="1.1" fill-opacity="0.19"/><circle cx="52.1" cy="168" r="1.1" fill-opacity="0.19"/><circle cx="45.1" cy="128.9" r="1.1" fill-opacity="0.21"/><circle cx="112" cy="181.6" r="1.1" fill-opacity="0.13"/><circle cx="95.4" cy="130.9" r="1.1" fill-opacity="0.19"/><circle cx="86.4" cy="177.4" r="1.1" fill-opacity="0.15"/><circle cx="47.8" cy="186.9" r="1.1" fill-opacity="0.15"/></g>
<text x="128.2" y="200.7" font-size="8.8" text-anchor="end" fill="#fff" stroke="#fff" stroke-width="0.21" >100 nm</text>
<rect x="103.9" y="203.6" width="19.1" height="1.7" fill="#fff"/>
<rect x="1" y="223.0" width="18" height="89.4" fill="#C7E1DB"/>
<text transform="translate(13.2,267.7) rotate(-90)" font-size="10.5" text-anchor="middle" fill="#111" stroke="#111" stroke-width="0.3">166 mM CaCl<tspan font-size="6.6" dy="-0.2">2</tspan></text>
<rect x="22.2" y="223.0" width="111.6" height="89.4" fill="#030303"/>
<g fill="#fff" filter="url(#bl)"><circle cx="77.0" cy="231.5" r="1.05" fill-opacity="0.95"/><circle cx="78.6" cy="244.7" r="1.05" fill-opacity="0.95"/><circle cx="102.0" cy="248.0" r="1.05" fill-opacity="0.95"/><circle cx="41.8" cy="251.9" r="1.05" fill-opacity="0.95"/><circle cx="37.9" cy="245.1" r="1.05" fill-opacity="0.95"/><circle cx="52.9" cy="258.6" r="1.05" fill-opacity="0.95"/><circle cx="90.9" cy="273.7" r="1.05" fill-opacity="0.95"/><circle cx="77.8" cy="281.9" r="1.05" fill-opacity="0.95"/><circle cx="70.4" cy="275.3" r="1.05" fill-opacity="0.95"/><circle cx="99.0" cy="278.6" r="1.05" fill-opacity="0.95"/><circle cx="45.6" cy="299.0" r="1.05" fill-opacity="0.95"/><circle cx="57.8" cy="294.6" r="1.05" fill-opacity="0.95"/><circle cx="31.5" cy="293.3" r="1.05" fill-opacity="0.95"/><circle cx="39.0" cy="249.2" r="1.05" fill-opacity="0.95"/><circle cx="124.4" cy="239.4" r="1.05" fill-opacity="0.95"/><circle cx="94.1" cy="234.4" r="0.85" fill-opacity="0.55"/><circle cx="120.3" cy="238.5" r="0.85" fill-opacity="0.55"/><circle cx="43.5" cy="232.8" r="0.85" fill-opacity="0.55"/><circle cx="63.9" cy="252.4" r="0.85" fill-opacity="0.55"/><circle cx="34.5" cy="272.1" r="0.85" fill-opacity="0.55"/><circle cx="39.4" cy="283.5" r="0.85" fill-opacity="0.55"/><circle cx="59.8" cy="283.8" r="0.85" fill-opacity="0.55"/><circle cx="86.0" cy="278.3" r="0.85" fill-opacity="0.55"/><circle cx="111.3" cy="280.2" r="0.85" fill-opacity="0.55"/><circle cx="93.3" cy="263.1" r="0.85" fill-opacity="0.55"/><circle cx="25.1" cy="248.3" r="0.85" fill-opacity="0.55"/><circle cx="120.3" cy="247.5" r="0.85" fill-opacity="0.55"/><circle cx="67.2" cy="276.1" r="0.85" fill-opacity="0.55"/><circle cx="51.6" cy="306.4" r="0.85" fill-opacity="0.55"/><circle cx="82.7" cy="293.3" r="0.85" fill-opacity="0.55"/><circle cx="126.8" cy="232.0" r="0.85" fill-opacity="0.55"/><circle cx="105" cy="255.8" r="0.8" fill-opacity="0.24"/><circle cx="82.7" cy="278.4" r="0.8" fill-opacity="0.42"/><circle cx="120.7" cy="229" r="0.8" fill-opacity="0.39"/><circle cx="51.7" cy="284.9" r="0.8" fill-opacity="0.30"/><circle cx="58.4" cy="266.7" r="0.8" fill-opacity="0.34"/><circle cx="99.4" cy="279.8" r="0.8" fill-opacity="0.37"/><circle cx="65.2" cy="283.2" r="0.8" fill-opacity="0.30"/><circle cx="89.8" cy="264.2" r="0.8" fill-opacity="0.34"/><circle cx="24.9" cy="267.6" r="0.8" fill-opacity="0.27"/><circle cx="65.4" cy="230.4" r="0.8" fill-opacity="0.36"/><circle cx="121.3" cy="255" r="0.8" fill-opacity="0.24"/><circle cx="91.2" cy="235.1" r="0.8" fill-opacity="0.42"/><circle cx="36.5" cy="255.6" r="0.8" fill-opacity="0.33"/><circle cx="36" cy="251.9" r="0.8" fill-opacity="0.28"/><circle cx="101.5" cy="310.2" r="0.8" fill-opacity="0.30"/><circle cx="110" cy="236.3" r="0.8" fill-opacity="0.35"/><circle cx="70.6" cy="249.2" r="0.8" fill-opacity="0.40"/><circle cx="105.1" cy="235.7" r="0.8" fill-opacity="0.28"/><circle cx="113.1" cy="310.7" r="0.8" fill-opacity="0.35"/><circle cx="118.9" cy="310" r="0.8" fill-opacity="0.38"/><circle cx="93.9" cy="243.3" r="0.8" fill-opacity="0.30"/><circle cx="91.6" cy="305" r="0.8" fill-opacity="0.29"/><circle cx="66.5" cy="225.9" r="0.8" fill-opacity="0.37"/><circle cx="71.8" cy="293.7" r="0.8" fill-opacity="0.27"/><circle cx="95.6" cy="282.8" r="0.8" fill-opacity="0.32"/><circle cx="43.7" cy="259.2" r="0.8" fill-opacity="0.38"/><circle cx="43.8" cy="231.9" r="0.8" fill-opacity="0.32"/><circle cx="48.8" cy="294" r="0.8" fill-opacity="0.40"/><circle cx="127" cy="297.4" r="0.8" fill-opacity="0.36"/><circle cx="43.6" cy="295.9" r="0.8" fill-opacity="0.38"/><circle cx="105.2" cy="285" r="0.8" fill-opacity="0.40"/><circle cx="55.8" cy="282.8" r="0.8" fill-opacity="0.33"/><circle cx="60.2" cy="252.6" r="0.8" fill-opacity="0.25"/><circle cx="77.1" cy="256.2" r="0.8" fill-opacity="0.31"/><circle cx="116.7" cy="283.6" r="0.8" fill-opacity="0.37"/><circle cx="131.2" cy="243" r="0.8" fill-opacity="0.33"/><circle cx="33.2" cy="258.3" r="0.8" fill-opacity="0.43"/><circle cx="32.5" cy="290.2" r="0.8" fill-opacity="0.41"/><circle cx="79" cy="293.7" r="0.8" fill-opacity="0.32"/><circle cx="61.9" cy="268.2" r="0.8" fill-opacity="0.26"/><circle cx="56.8" cy="250.7" r="0.8" fill-opacity="0.44"/><circle cx="59.9" cy="244" r="0.8" fill-opacity="0.43"/><circle cx="38.2" cy="308.4" r="0.8" fill-opacity="0.41"/><circle cx="94.2" cy="261.4" r="0.8" fill-opacity="0.26"/><circle cx="34.7" cy="233.1" r="0.8" fill-opacity="0.30"/><circle cx="67.8" cy="304.7" r="0.8" fill-opacity="0.34"/><circle cx="132" cy="287" r="0.8" fill-opacity="0.25"/><circle cx="83.9" cy="237.9" r="0.8" fill-opacity="0.23"/><circle cx="126.8" cy="253.5" r="0.8" fill-opacity="0.26"/><circle cx="34.2" cy="281" r="0.8" fill-opacity="0.32"/><circle cx="24.3" cy="286.5" r="0.8" fill-opacity="0.28"/><circle cx="108.9" cy="266.7" r="0.8" fill-opacity="0.34"/><circle cx="73.3" cy="283.1" r="0.8" fill-opacity="0.44"/><circle cx="110.8" cy="230" r="0.8" fill-opacity="0.33"/><circle cx="48.8" cy="232.9" r="0.8" fill-opacity="0.26"/><circle cx="50.3" cy="307.9" r="0.8" fill-opacity="0.38"/><circle cx="116.8" cy="285.1" r="0.8" fill-opacity="0.29"/><circle cx="66" cy="262.5" r="0.8" fill-opacity="0.28"/><circle cx="69.4" cy="291.4" r="0.8" fill-opacity="0.24"/><circle cx="53.4" cy="265.9" r="0.8" fill-opacity="0.37"/><circle cx="94.1" cy="287.4" r="0.8" fill-opacity="0.24"/><circle cx="42.9" cy="251" r="0.8" fill-opacity="0.28"/><circle cx="106.1" cy="310.8" r="0.8" fill-opacity="0.37"/><circle cx="26.6" cy="250" r="0.8" fill-opacity="0.40"/><circle cx="124.7" cy="276" r="0.8" fill-opacity="0.30"/><circle cx="62.1" cy="279.4" r="0.8" fill-opacity="0.41"/><circle cx="60.5" cy="240.7" r="0.8" fill-opacity="0.22"/><circle cx="38.1" cy="298.4" r="0.8" fill-opacity="0.36"/><circle cx="132" cy="230.1" r="0.8" fill-opacity="0.30"/><circle cx="110.5" cy="281.8" r="0.8" fill-opacity="0.23"/></g>
<g fill="#fff" filter="url(#bl2)"><circle cx="67.2" cy="279.7" r="1.1" fill-opacity="0.19"/><circle cx="72.7" cy="240.4" r="1.1" fill-opacity="0.23"/><circle cx="74.3" cy="286.7" r="1.1" fill-opacity="0.17"/><circle cx="31.9" cy="244.7" r="1.1" fill-opacity="0.09"/><circle cx="44" cy="241.5" r="1.1" fill-opacity="0.15"/><circle cx="58.4" cy="255.7" r="1.1" fill-opacity="0.21"/><circle cx="25.3" cy="233" r="1.1" fill-opacity="0.21"/><circle cx="81.7" cy="262.4" r="1.1" fill-opacity="0.12"/><circle cx="82.7" cy="243.4" r="1.1" fill-opacity="0.22"/><circle cx="113.6" cy="252.1" r="1.1" fill-opacity="0.08"/><circle cx="120.6" cy="250.1" r="1.1" fill-opacity="0.19"/><circle cx="117.4" cy="293.8" r="1.1" fill-opacity="0.22"/><circle cx="76.8" cy="297.6" r="1.1" fill-opacity="0.15"/><circle cx="52" cy="266" r="1.1" fill-opacity="0.13"/><circle cx="107.4" cy="296.7" r="1.1" fill-opacity="0.10"/><circle cx="41.1" cy="257.5" r="1.1" fill-opacity="0.15"/><circle cx="128.2" cy="306.3" r="1.1" fill-opacity="0.23"/><circle cx="103.3" cy="283.2" r="1.1" fill-opacity="0.12"/><circle cx="64" cy="224.2" r="1.1" fill-opacity="0.21"/><circle cx="53.4" cy="230.9" r="1.1" fill-opacity="0.13"/><circle cx="58.5" cy="287.3" r="1.1" fill-opacity="0.08"/><circle cx="48.3" cy="302.4" r="1.1" fill-opacity="0.22"/><circle cx="92.2" cy="272.9" r="1.1" fill-opacity="0.12"/><circle cx="119.3" cy="290.5" r="1.1" fill-opacity="0.16"/><circle cx="40.7" cy="242.9" r="1.1" fill-opacity="0.14"/><circle cx="59.4" cy="229.3" r="1.1" fill-opacity="0.15"/><circle cx="72.4" cy="249.1" r="1.1" fill-opacity="0.14"/><circle cx="59.6" cy="256.9" r="1.1" fill-opacity="0.18"/><circle cx="77.7" cy="241.3" r="1.1" fill-opacity="0.21"/><circle cx="79.5" cy="264.1" r="1.1" fill-opacity="0.19"/><circle cx="105.7" cy="298.2" r="1.1" fill-opacity="0.21"/><circle cx="96.6" cy="287" r="1.1" fill-opacity="0.11"/><circle cx="99.9" cy="246.2" r="1.1" fill-opacity="0.12"/><circle cx="36.2" cy="258.7" r="1.1" fill-opacity="0.08"/><circle cx="95.3" cy="289.4" r="1.1" fill-opacity="0.20"/><circle cx="37.2" cy="280" r="1.1" fill-opacity="0.21"/><circle cx="27" cy="240.9" r="1.1" fill-opacity="0.12"/><circle cx="73.8" cy="239" r="1.1" fill-opacity="0.17"/><circle cx="60.8" cy="281.3" r="1.1" fill-opacity="0.17"/><circle cx="98.5" cy="245.5" r="1.1" fill-opacity="0.19"/><circle cx="103.8" cy="287.1" r="1.1" fill-opacity="0.09"/><circle cx="127.1" cy="274.4" r="1.1" fill-opacity="0.12"/><circle cx="70.8" cy="269.2" r="1.1" fill-opacity="0.16"/><circle cx="50.3" cy="247.2" r="1.1" fill-opacity="0.14"/><circle cx="108.9" cy="262.2" r="1.1" fill-opacity="0.09"/><circle cx="72.7" cy="241.6" r="1.1" fill-opacity="0.08"/><circle cx="130.5" cy="249.7" r="1.1" fill-opacity="0.17"/><circle cx="62.4" cy="228.7" r="1.1" fill-opacity="0.22"/><circle cx="125.9" cy="240.3" r="1.1" fill-opacity="0.15"/><circle cx="64.1" cy="238.6" r="1.1" fill-opacity="0.19"/><circle cx="109" cy="290.4" r="1.1" fill-opacity="0.19"/><circle cx="24.9" cy="244.1" r="1.1" fill-opacity="0.16"/><circle cx="100.3" cy="257.8" r="1.1" fill-opacity="0.15"/><circle cx="115.5" cy="226.1" r="1.1" fill-opacity="0.12"/><circle cx="54.9" cy="310.8" r="1.1" fill-opacity="0.12"/><circle cx="28.2" cy="260.4" r="1.1" fill-opacity="0.18"/><circle cx="39.9" cy="297.4" r="1.1" fill-opacity="0.11"/><circle cx="100.5" cy="238.1" r="1.1" fill-opacity="0.22"/><circle cx="45.1" cy="287.9" r="1.1" fill-opacity="0.21"/><circle cx="51" cy="232.1" r="1.1" fill-opacity="0.17"/><circle cx="77.9" cy="265.9" r="1.1" fill-opacity="0.21"/><circle cx="73.9" cy="267.4" r="1.1" fill-opacity="0.16"/><circle cx="73" cy="259.5" r="1.1" fill-opacity="0.11"/><circle cx="55.5" cy="247.2" r="1.1" fill-opacity="0.12"/><circle cx="109.1" cy="234" r="1.1" fill-opacity="0.11"/><circle cx="80.9" cy="251.3" r="1.1" fill-opacity="0.12"/><circle cx="64.1" cy="267.9" r="1.1" fill-opacity="0.19"/><circle cx="129.9" cy="298.5" r="1.1" fill-opacity="0.15"/><circle cx="72.7" cy="260.3" r="1.1" fill-opacity="0.12"/><circle cx="127.7" cy="230" r="1.1" fill-opacity="0.11"/><circle cx="95.8" cy="275.5" r="1.1" fill-opacity="0.12"/><circle cx="126.1" cy="259.8" r="1.1" fill-opacity="0.18"/><circle cx="33" cy="301.9" r="1.1" fill-opacity="0.10"/><circle cx="66.3" cy="301.4" r="1.1" fill-opacity="0.23"/><circle cx="122.4" cy="296.3" r="1.1" fill-opacity="0.12"/><circle cx="26.5" cy="263.5" r="1.1" fill-opacity="0.09"/><circle cx="128.7" cy="224.7" r="1.1" fill-opacity="0.13"/><circle cx="45.4" cy="225.2" r="1.1" fill-opacity="0.16"/><circle cx="31.4" cy="302.7" r="1.1" fill-opacity="0.19"/><circle cx="63.7" cy="297.6" r="1.1" fill-opacity="0.21"/><circle cx="58.9" cy="298" r="1.1" fill-opacity="0.23"/><circle cx="91.2" cy="254.7" r="1.1" fill-opacity="0.22"/><circle cx="126.7" cy="254.4" r="1.1" fill-opacity="0.09"/><circle cx="118.5" cy="282.1" r="1.1" fill-opacity="0.12"/><circle cx="85.4" cy="250.9" r="1.1" fill-opacity="0.23"/><circle cx="60.6" cy="241.2" r="1.1" fill-opacity="0.09"/><circle cx="60.7" cy="310.5" r="1.1" fill-opacity="0.11"/><circle cx="73.4" cy="309" r="1.1" fill-opacity="0.08"/><circle cx="55.5" cy="295.8" r="1.1" fill-opacity="0.10"/><circle cx="125.1" cy="296.9" r="1.1" fill-opacity="0.10"/><circle cx="88.2" cy="272.6" r="1.1" fill-opacity="0.19"/><circle cx="56.8" cy="257.6" r="1.1" fill-opacity="0.12"/><circle cx="55.1" cy="239.4" r="1.1" fill-opacity="0.22"/><circle cx="120.6" cy="255.5" r="1.1" fill-opacity="0.19"/><circle cx="76.9" cy="248.5" r="1.1" fill-opacity="0.14"/><circle cx="129.2" cy="253.8" r="1.1" fill-opacity="0.17"/><circle cx="127" cy="250" r="1.1" fill-opacity="0.21"/><circle cx="35.5" cy="288.1" r="1.1" fill-opacity="0.21"/><circle cx="115.1" cy="309.2" r="1.1" fill-opacity="0.19"/><circle cx="130.5" cy="248.3" r="1.1" fill-opacity="0.16"/><circle cx="46.5" cy="231.3" r="1.1" fill-opacity="0.15"/><circle cx="102.2" cy="292" r="1.1" fill-opacity="0.08"/><circle cx="126.6" cy="245.6" r="1.1" fill-opacity="0.13"/><circle cx="114.6" cy="302.2" r="1.1" fill-opacity="0.20"/><circle cx="59.6" cy="264.5" r="1.1" fill-opacity="0.21"/><circle cx="62.3" cy="294.4" r="1.1" fill-opacity="0.21"/><circle cx="74.6" cy="302.4" r="1.1" fill-opacity="0.14"/><circle cx="105.5" cy="279.9" r="1.1" fill-opacity="0.13"/><circle cx="81.5" cy="277" r="1.1" fill-opacity="0.17"/><circle cx="35.2" cy="310.7" r="1.1" fill-opacity="0.23"/><circle cx="27.1" cy="306.5" r="1.1" fill-opacity="0.17"/><circle cx="36.8" cy="295.7" r="1.1" fill-opacity="0.15"/><circle cx="101.5" cy="296.3" r="1.1" fill-opacity="0.17"/><circle cx="28.5" cy="295.9" r="1.1" fill-opacity="0.19"/><circle cx="123.1" cy="247.6" r="1.1" fill-opacity="0.21"/><circle cx="119" cy="255" r="1.1" fill-opacity="0.15"/><circle cx="59.7" cy="224.5" r="1.1" fill-opacity="0.12"/><circle cx="59.5" cy="233.5" r="1.1" fill-opacity="0.20"/><circle cx="70" cy="273.7" r="1.1" fill-opacity="0.13"/><circle cx="62.6" cy="289.8" r="1.1" fill-opacity="0.16"/><circle cx="88.6" cy="260.9" r="1.1" fill-opacity="0.17"/><circle cx="121.7" cy="247.4" r="1.1" fill-opacity="0.16"/><circle cx="98.6" cy="231.6" r="1.1" fill-opacity="0.23"/><circle cx="77.9" cy="245.4" r="1.1" fill-opacity="0.20"/><circle cx="112.7" cy="279.1" r="1.1" fill-opacity="0.23"/><circle cx="32.8" cy="270.1" r="1.1" fill-opacity="0.20"/><circle cx="123.8" cy="280.1" r="1.1" fill-opacity="0.18"/><circle cx="65.7" cy="274" r="1.1" fill-opacity="0.17"/><circle cx="122.6" cy="296.3" r="1.1" fill-opacity="0.20"/><circle cx="124.6" cy="229.8" r="1.1" fill-opacity="0.20"/><circle cx="74" cy="289.7" r="1.1" fill-opacity="0.13"/><circle cx="74.4" cy="296.1" r="1.1" fill-opacity="0.09"/><circle cx="55" cy="266.7" r="1.1" fill-opacity="0.22"/><circle cx="52.7" cy="295.9" r="1.1" fill-opacity="0.12"/><circle cx="56.3" cy="272.4" r="1.1" fill-opacity="0.18"/><circle cx="119.8" cy="300.9" r="1.1" fill-opacity="0.12"/><circle cx="105" cy="279.5" r="1.1" fill-opacity="0.14"/><circle cx="108.4" cy="302.4" r="1.1" fill-opacity="0.16"/><circle cx="123.8" cy="235.2" r="1.1" fill-opacity="0.11"/><circle cx="107.1" cy="250.7" r="1.1" fill-opacity="0.17"/><circle cx="77.7" cy="236.7" r="1.1" fill-opacity="0.20"/><circle cx="104.6" cy="236.7" r="1.1" fill-opacity="0.12"/><circle cx="111.1" cy="303.7" r="1.1" fill-opacity="0.22"/><circle cx="78.2" cy="256.1" r="1.1" fill-opacity="0.15"/><circle cx="42.4" cy="267.3" r="1.1" fill-opacity="0.12"/><circle cx="40.8" cy="257.3" r="1.1" fill-opacity="0.09"/><circle cx="74.7" cy="284.8" r="1.1" fill-opacity="0.18"/><circle cx="130.3" cy="301.4" r="1.1" fill-opacity="0.18"/><circle cx="121.7" cy="262.8" r="1.1" fill-opacity="0.21"/><circle cx="54.3" cy="270" r="1.1" fill-opacity="0.24"/></g>
<text x="128.2" y="301.1" font-size="8.8" text-anchor="end" fill="#fff" stroke="#fff" stroke-width="0.21" >100 nm</text>
<rect x="103.9" y="304" width="19.1" height="1.7" fill="#fff"/>
<text x="78" y="329.6" font-size="10.5" text-anchor="middle" fill="#111" stroke="#111" stroke-width="0.30" >Particle Locations</text>
<path transform="scale(0.25)" d="M791 160l-6-3 3-4-4-7-6 4 2-6-5-3 2-6-1-10-6 2 4-6-4 3-2-3 2 1 5 4-3-1 0-7-5 5-8 4 3 2 6-2 8 3-5-2-4 0 1 11-9 4 2-3-1-3 0 5-7 6-3 7 2 6 3 5 0-4 3 3 10-10-1 5-6-1 10 7-5 7 6 3-3-2 4 1 9-2-12-2 1 2 0-4 7-3 4-2-6 7-13-4 2-2 4-1-2 11-7-5 3 3 0-4 3-8-2-2-4 1-3-4 9 3 5 1 5 3 6 12-2-16-7 0 3-3M805 163l-8 1-3 2 5 1 6-4-2-5 0-5 2-3 5 1-8-1-7 5 7-1 2-6-11-3-1-7 4 9 3-2 1 3-5 6 4-1-3 18 4 4 9 5 1 3-5 3-7 2 3-7 9-5 5-3 1-3 12 5 9 4 3 1-1 3-6-2 3-2-3-5-3-1-1 5-5-10 3-2 0 12 6 3 5 1 5-3-4-2 8 8-3 5 0 5-2 5-3-7 8-1-8-11-13-2 7-8-2-8 6 1 1 7 8 5-2-6-5-8 9-1 10-1 6 1-1-8 5-4-2 1 0 6-3 1 5-1 6-3-6 0 5-2-2-2 2-8 8 3-4 6 2 8-5 8 0-10 4-1-5-1-9 3 6-1-3-4 0 5-2-4 4 0 0 10-5 1-8-1 3 5-6 5 4-1 12 0-4 3-9 7 5-2 3 3M783 196l1 4-3 2 6 0-3 2 0 3-4-3 0-5 3-6-2-5-2 3 2 3 2-7 0-5-3 0-2 6 2 3 2 3 0 6-3 2 1-3 2 2-2-3 6-1 3 2 7 1-1-4-2 4 1-2 2 3-6 1 5-3 3 2 2 3 6 1-3-2 7 3 5-2-2 2 7 4-5-2M751 246l4-6 3 4 1 4-5-5-1 2-3-8 5 7-3 6 5-3 3 2 6-7 0 9-2-2 7 10 1-3-2-1-4-3 3 0-4 3 1-2M869 225l-3-4-3-5 5 5-5-1-1 4-3 6 0-5 8 1 3-3-6 4 3-1-1 4-9 4-1 2 0 11-2 4-9 0 3-5-7 0 4 4-3 1-5 6-2 5 5-4 5-1-3-3 4-1-2-5 4 4 2 3-12-2-4-1-4 0-2-2 4 0 0-5-2 3 3 0-9 6 4 0 5-5 5 1 3-1 4 4 2-2 5 0-4-3-6 0-4 0-3 3-5-5 5 1-6 5 5 4-7 0-3-1-5 6-3 1 3 2 2-2-8 4-2-2-1-5-4-6 1 4 0-4 5-1-6-7 1 5-1-2-1-3-5 4-3 2 6-5 4 4-1 5-8 1 3-1-1 4 0-4-3-2-1-5 6 3-8 4-4 1-4 4M776 323l3 1-3 0-5-3-4-1-3-2-1 5 2-2-2-2-5 1 1 3-1-5-3-5 3-2 3-5 2-6 2-1-5 0 0-4 1-3-2-2-2 1-1 3 2-2-5 0 2 3 6 1-3 1 1-4 3 4M876 323l-4 0 5-1 1-2-6 1-1 2-2-5-3 0-2-1 3-1-2-3-7 2 3-3-3-3-5-1-3 0 1 8-2 6-3 0-3 4 4 5-4 4-6 6-1-6 1-3 3-5 1 4-4 2 2-2-5 0-2 5-1 2-2-1 0 4-2-4 3 3 2-3 3 1-1-4 1-2-4-2-9 3 0-3 6 0-5 4-3 3-1-2-7-2-3 0-3 3-2-2 6 2-2 2-5-3-1-2-3 2-1-3-2-2 2 1-5 4 4-1-3 0-2 2 0 3-5-2-1-5 6 0 2-3 3 4 6 5 5-1-2 4-3 1-2-3 1-3-1 3-1 3-5 5-6 0 2-7-5-5 5-2 4-7-4-3-4 1-1-6-3-5-2-1-2 4 6 1-5 4 7-1 1 4 0 3 2-2-4 3 3 0 3 4-3 4 1-2 0-4 3 1-1-4 6 0-6-2-4 4 0-6-5 0M826 378l7-6-7 6-7 1 3 4 0-4 5 3 6-6 8 3-2 4 0-10-3 2 1 1-4-6-2 1-4-1-4-1-3-1-2 7-4-5 2 9-1-6 4-6-6 3 3-7-2 1 4-10 2-5-11 4 6-6 4 1 4 10 6 0-6-3-2-4 2 3 10 6-7 14-9-2 12 0 3 2M839 429l2-1-2-6-5-3 6 1 3 1 0 5 0 3 1-2-2 2-1 4-1 2 2-1-2-2 4 2 3 3 0 4-2-6-10-1 4-1-15 4 5-2 1 4-2-2 1 2 1 3 1-3-6-1-3-7M910 397l-6-7 2 4 0 3-6-1-2-2 2-11-2 4-1-4 1-5 3-3 5 1-4 0-7 5-3-7-1-3 0 6-1 6 8 8 1 5 5 5 0 5 4 1-4 2 2-5-4 5-1 3-1-5-3-9 2-6 8-3 1-4-6 0-3 9-1-9 0-4-2-3-3-7 6-4-2 6 1-2-3-2 5-6 0 3 3-1-3 1 2 0-1 5 4 0 6-1 6 3 0 4-2 7-3 2 4 1 4 6-4-2 2 1-4 0 5 1 6-8-5-6 1 7-5-1 5-4 9-4-4-7 2-7-2-2-2 1-3-3-4 4 5 2-6 0 2 4 0-3 8 0-3 1 4-1 2 1 0-13 0-5-4 1-2-9-7 6-4-2 2-1-1-8-4 1 0 4 3-2 0-3 2-3 2 2 5-4 0-6 4-1-3-4-3-1-1 5-9-2 7 6-9 6-1-5 3 3 2 2 6-1 3 10 0-6 6 1-5 6 4 0 1-7 1-9-5 6M981 305l-5-1-8 0 3-3-4-3 0-6 3 1-4 2 5-4-2 3-3 7-4 0-3 3-4-3 1-4-3-2-4 2 5 4 1-5 3-2 0 4-1-2-3-3 3 4 1-4-6-1 1-4-5 3 1 2-1-1 5 2 4 3-9 4-7 2-1 3 3 2 2 4-2 4-4 2-3 6 2 3 6 4 5-4M985 358l-9 0-4-3 4 9-3-5-9-3 2-5-4 5 4 5-4-4-5-1-1 2 3 2 3 4-4 7-1-4-3-1 0 6-3 0 6-5-4 4-5 2-3 3 7-3-4 0-4-5-3-1 6 4 5 3-2-4 3-3 6-2-3 2 1 2-2 2-5 2-6 1 1 4 2-4-1 3 3-2 2 6-3 2 4 6 2 1-5-5-6-1-4-7 5-1 4 6 6 0-9 2M935 422l2-3-1 11 2 1 6-9 7 2 1-4 4-3-3-7 6-4-3 2 3 8-3-7-2-4-4-5 2 4 3-10-10 5-7 4-5-2 12 3-2 10-2-3 3 7 3 8 7 7 1-2-3 0-4-1-8-10 13 8 1 5 4 0-6 6 2-6 4-1 11-12 2-5 0-9-7 1 1-6 5-1 0 6-7 0 4-7 8 4-4 7-2-3-5 3 4 1-5-3-5 1 7-1M982 305l3-4-4 0-2 2 3-1 4 2-4 1-1-4 3-1 1 4 5-1 3 4 2 1-1-2 1-2 3-2 3-2-3-1 5 3-4 4-1-5 6-1-3 3 4-4 2-2-3 0-3-2 4-1 3-1-2 5 2 1 2 4 2-5 3 0-3 1-4-3-5 5-1-4 1-2 1 3 0-3-4-3 3 2-4 0-2 3-5 2M991 336l-3 2-4 4 0 3 4-7-2 2 3-4-2 3-1 3 1 1 5-2-4-4 3-3 3-4 3 3 4 2 4 2 2 2 5-1 4-2-2 4 1 2-2-2 1 4 3 3-3-6-4 0 6-1 1-3-1 6-1-8-6-2 4-2 3-5 0-2-2 1 1-4-4 1-1 2 1 3 2-2 2 1 2-6 4 4 4 0 0-3 3 1 3-5 5 0-1-4 1-2 1 3 2 2 7-2-3 3 1-4 1 4-4 1-3 3 3 1 2-2-2 3-2-1-2 2-5-4-8-2 2 2 2-2-4 0M983 217l-6 0 2-7-6 2-3 1-4 1 0 4-1-7-2 2-3 0 3-2-4-1-1 6-3 1 2-7-2-5 2 4 3-5-1-4-5-5 4 0-2 2 2 3 6-4 9-6-1 7-2 4M1031 226l-7-3-5-5 1-8 2 5 0 9 2-2 0 4-5 1-3 5 4-1 1 3 3-1 4-3-4-3 1 1 2-5 4-6 3 6-2 4-5 3-7 0-2-2-3 1-2-10-4 6-8-3-2 1-1 5 3-3-6 3 3 5 5 0 1-2 0 7 0-5-4-5 5-2-1 4 2-5-4 4-2 5 12-4M1014 131l1-5-6 0 6 0-3-6 5-3 3 4 2-3 2 3-2 4 3-5 4 4 7-1-7 1-8 3-2-2 0-3-6-2 2 3 0-4 4 7-5 3 3 3-2 1 6 1 7-1 7 7M1055 162l1 7-3-5-3 3 8-9-3 3-5-3-3 0 7-4 0-3-4 5 2-6 5-4 4 3 3-1 2-1 1 5 0 5 5 1 3-2 5 3-2-2-3-5-1 4-1 4-4 1-4 5 3-5-4-3 2 7 2-2-5-3-6-1-4 8M1016 198l-3-2 1 5 9-6-1-3-4-1 2 6-1-8 2 3 3 5 7-3-5-3 5-2-2-6-4-5 1-4-2 2 4-8 2 2-3 4-2-4 0 9-4-4-2-4 0 2 6 2 1 6 0-5-6 0 2-6-7 7 7 0-3 1-2 2-2-3-6 0 10-7-3-4 4 2-2 6 4 2 6 7 6-8 0-7 1 7 4-2 5-1 5 4 0-5 4 9 2 4 2 2-2 7 7 1 7-3-1-4 1 3 1 3 4 6 2 1 5 1 0-7-3 5-4-5-3-2-4-5-5-4-1-2 1-2-2-1-1 5-2-3 3-6M1114 418l6-5 2-3-1 3 3 6-2 2-3 0-2-3 0-3-4-8 5 6 5 4-2 2-1-3-8-3 10-2-3 3-1 5-5-6 4 3-4 2 5 1 5-1 2 1-3-4-2 7 9 3-7 3 8 4-8-9 6 0-3-3 2-3-5-2-6-3 5 3 2-2 2-5-4-6-5-7" fill="none" stroke="#EE4634" stroke-width="2.0" stroke-linejoin="round"/>
<rect x="176.5" y="22.5" width="111" height="89" fill="none" stroke="#444" stroke-width="1.1"/>
<text x="173.9" y="115.2" font-size="10.5" text-anchor="end" fill="#111" stroke="#111" stroke-width="0.30" >0</text>
<line x1="176.8" y1="74.5" x2="180.2" y2="74.5" stroke="#444" stroke-width="1" />
<text x="173.9" y="77.6" font-size="10.5" text-anchor="end" fill="#111" stroke="#111" stroke-width="0.30" >200</text>
<line x1="176.8" y1="36.5" x2="180.2" y2="36.5" stroke="#444" stroke-width="1" />
<text x="173.9" y="40" font-size="10.5" text-anchor="end" fill="#111" stroke="#111" stroke-width="0.30" >400</text>
<line x1="176.8" y1="92.5" x2="178.9" y2="92.5" stroke="#444" stroke-width="1" />
<line x1="176.8" y1="55.5" x2="178.9" y2="55.5" stroke="#444" stroke-width="1" />
<line x1="194.5" y1="111.6" x2="194.5" y2="109.5" stroke="#444" stroke-width="1" />
<line x1="211.5" y1="111.6" x2="211.5" y2="108.2" stroke="#444" stroke-width="1" />
<line x1="228.5" y1="111.6" x2="228.5" y2="109.5" stroke="#444" stroke-width="1" />
<line x1="246.5" y1="111.6" x2="246.5" y2="108.2" stroke="#444" stroke-width="1" />
<line x1="263.5" y1="111.6" x2="263.5" y2="109.5" stroke="#444" stroke-width="1" />
<line x1="281.5" y1="111.6" x2="281.5" y2="108.2" stroke="#444" stroke-width="1" />
<path transform="scale(0.25)" d="M849 504l4 0 7-1 2 2 0 6 4 4 4 0 2 3 5-1 7-4-4 2-5-3 4-1 1 5-3 3-1-2 0 5-3 1-1-2-4-3-3-1 1-4-2-3 1-4-7 3 2 5 3-3 3 1 2 4-7 2 0 5 3-5-4 1M924 519l-1 4 2-9-8-7 8 4-6 3-3 6 5 3 2 0 2-3 0-5 1-7-6 0-3 2-3-9 4 1 3 9-9 0-3-6 5 0 6 5-3 2-1-8-5 1 3 5-1 3-1-7-8-4 1 4 11-4-2-6M1003 568l3 7-3-7-6 1 1-9-4-2-8 3 0-3-5-1-5 3 1-6 2 2-7-4 2-6 2 1-2 2 1 3-3-2 2-1-4 1-2 4-2 1-1 3-2 2 0-5-2-3-2 2 8 4-1 3 5 0-1-3-3-3-2-4-4-2 6-4-1-8-5-7-1 9-1-3 6-2 0-5-5 0 0 6 4 1-2 3-1-5 4-8 6 2-1 4 4-1 1 3 3 0 1-7-4-2-5 0 4 3-6 0 1-4 2-4-6 1-6-7 5-1 1 6-2-5-5 0M1058 583l3 3 2 2-2-2-4 2 2 1 4 4-5 5 4 0 0-3 4 0 4 2-2-6-1-2-4-4 7-5 3-6-4-9-1 3-5-3-6-3 4 8-4-5-9-7 4-3-6 3-2-2 2-2 6 4-7 0-7 5 3 0-1 5 3-12 10-3 1 7 4-2-1-2 7 0-7 4 5-6 2 6 2 0 6 0-3 0-10-1-1 4-5 10 0 5-3-7-2-2-1 4-8 2 8-5M1109 606l-2-1-1-4-5-7 4 7-5-2 3-2-2 3 5-1 4 4 6-4-12 3-3-3-3-3 2 4 6-2 4 0-9 0 1-6-2 7 2 4-9-1-11-6 3 1 1 5 4 0 2 6-2 2-3-2 4 6 3 5-4 6-4-3-4 1 3 5 2 4 10 2-4-2-6-6 1-3-5 3-8 2M748 598l5 1-4 0 0 7-3 6 0 7-2 4-1 5 3-3 4 0-1-3 2-2-2 2-1-5 0-5 4 2-6-3-3 4-4-4-3-1 8 0 0-3 1-3-4 6 3 3 1 2-5 5 0 3-2-6 0-3-4-3-7-5M826 638l-3-1-1 2 1 1 3 5-3 3-4-4 9-6 5-3 2-5-7 4 1 5 4 2-5-4-2 4-5-5-1-6 5 0-4-5-5-8-3-2-3 2-5-6 4 1 0-3 5-1 3-1 0-3-5 4 1-6 0-7 0 3 4 0-4 0-1 2-2 7-1 2 3 0 3-1-4-1-7 1-4-3-1 2-1 3-10 0-2-1 4-4 4 0-4-1-2-6 1-2-2 2 5 1 2-5-4-1-7-5 2 2-3 4-1-3-4-3 3 0-1-6 1-3 4-1-1 3-5-3 1-3 4 1 2 1 10 5 3 4-4 5-2-3-2 0-13 1 3 0-5 1-2-2 5 0 2-6-1-3-2 2-4-6M921 638l-2 2-1 2-2 6 2 1 2 2-1 4 5-3 4-5 3 3 3-7-3-3 0 5-4 2-7 0-8-1 4 1 1 7 4-2-1 5-2-1 5-3 0 3 5-5 4-1 3 0 4-2-3-1-1-5 1 7 6 1-4-3 3-1-2-2M854 659l-5-6 3-2 4 2 5-6-6 1 4 2 0 5-1-2 0 6 2 2-4-6 2 4 0 5-6-5 7 5-3-2 4-3-1 7 7-2 5-3 4 3 2 1 0-3 1-2-1-5 4-1 4 5-3 1 7-2-5-1 1 5 4 1 3 4 3 1-2-2 1 5-6-1 0 3 2-4 3 2-1 5 3 0-1-2 5 1 0-5-4-5 2 5 0 6-3-3-4-2 1 2 3 9-1 3 4 2M844 726l-6-8 5 0-2-2-7-4-7-9-4 10-2-9-6 3 2-4 2 2 3 2-5-1 0 4-3-8 2-3-7 8 0-4-6 8 11 3 6-2 4 0-5-11-1-12-7-3-4-5-3 1 14-7 6 2 4 2-4-4 5-1-3-4-8 6-4-6-10 6 6 1-9-5-1 4-8 0-4-3 2 3 6-1-2 5 5-2-4-1 12-10-4 11 1 3 4 2 0 4-8 2 4 3 4-1-7 2 6 2-3 0 2-5-7 8-3-4-3-12-5 5-5 1 9 3 4 2 4-1-5-7 6 4-2-5 4-6 7-2M813 737l-2 12-1-2-3 4-1 3-1-5-6-3 2 3-1-3-4-2-3 3-3 2 0 10 11-1 0-4-3 2 5-2 3-1 1-4 2-6 5 0 8 3-6-3 1-5 2-5-4 1-14 8 6 4 1 6 1-2 3-2 7-4-3-2-3 4 3-4M772 735l-5-2 3 0-6 1 6 3-2-2-3-2 3 4-6 2-7 2-3-1-2 3 6-8-3 0-1 5-4 4 11 5-6-6-8-1 2-5 2-3 4 3-5 2 1 6-3 1-8-3 0 9 4-1-2-4-2 4-2 2-1 5-7-7 13-6 4 5 2 6-3-1 0 4-4-10 1-4 3 5 9 4 2 3 3-4 3 0 2-5 1-6 3 0M887 715l5 1-3 1-2-3-2 10-3-3 6-1 5 0-3 1 10-2 2-3 9 0 3-5 1-2-10 0 2 6 5-1 11-2-8 8 5-7-4 9 0 7-1 5-5-7-9-4-4 0 1-2 5 1 6 8 0 4 3-6-8 2-7 3-4 6-6 2-2 1 0-7 2-3-4 0 1-4 2-3-4-2-1 3-4 0 4-2 0 4-2 1 9 1 5 7 7-3 5-6 3 2 1-4 3-4 0 4 0-9 1-1-2 4 5-3 1-2-5 0 6 2-2 1-6 6-4 4 8 4-3-6-10 2-7-13 1-8-5 3-3-4-2 4 2 3-4 5-4 6-2 6 2-3-7-7-3-4-7 1 0-5-3-3-1 1 3-3-7 13 1 8 4-2-1 4 0-3 2-4 6-5 5 2M997 778l-16 3 1 10 9-5-2-1-9-2 5 3-11 1-2-1-3-4 6 0-4 4-12 1 1 2-7-2-8-6-2-6 10 1 2 0 6 6 7 3-9 4 4-4 0-4 4 5-11-4-3-5 0 6 3-2-4-11-1-4-9 2-2-4-10-14 0 6 3-11 7 0 4 2-2-2 8-1-13-9 5-6-6 4 5 4-4-6 4-1 8 6-3-5-1 6-3 5 0 4 4-1-3-1 9 9 3 8-4-4-6-5 2 6-1-4 3 5 0 7 3 0 5-5 5 9 3-5 3 3-6-1-11 8-5-8-8 5-12-2 3-4-1-3 4-5 1-2-3 2 4-2 10-2 0 6-7 6-6 7-5-3 3-5 3-11-4 0 2 7 1 5-6-8 6-8-4 4-6-2 1 8-6-6-10 9-5-3 10-11-6 1 5-6 5 2-5 7 8-1 4 6 4-3-5-8 5-3 1-5 9 8 1 7-2-1-4 5-1-4 5 4M1011 662l5-4 1-5-9 1 13 14-7-12 19 5-2-3-6-11-2 7 8 10 7-1 11-1 7-8 9 3-5 6-4 6 12-5-2 4 1 3 2 9 7-1-14 14 6-4 8-5-7 8 0 5 3 0 9-5-14 5 9 7-10 8-12-2 2 3 7 0 1-9-4 0 0-4-8 4-2-4 9-2 2-2 2-8 8 11-1-6-7 3-4-1-5-6-10-6-6-6-13 2 2 3 1-2-14 8 3 1 4 0 3-3 6-4-6-4 13-3 9 5 10 3-2 5-3 3 6-7-2-3-4-7 0-5 1 17-2-4 0 6 2-6 6 0 6-7 9 7 13 1-5-1 4 0 2-11-10-17 0-4-2-3 5 2 6 9-6 6-11 5 0-5-11-4-10-1-6 5-3-8 11-1-6-10 6 5-2-7-4-8 1 3 11 12-2-5-1-14M1045 768l7 7 4 0 4 6-8-5 5-4-3-6 5 1-7-2-8-4 6 8 1-9 2 2 2-1-8-4 3 1-2-7-5 3 4-3 2 2-2-5-7 4 7-3-1 3-5 7-10 1 1-2 5 5-6-2 8 2-5 5-8 4-1 2 4-5 0 6 4-3-2-3-9-4-1 2 8-7 7-11-4 7 0 6 3 0-9 7 7-5 3-3 7 0-2-3 2 1 6-1 11-5-4 2 2-3 9 2 5 2 8-1 3-2 0-3-1-2-6-8 6-5-6-1-6 4-7 6 6-5 2-5-9 3 3-6-2-7-4-3 0-3 6 2 4-3-6 4M1112 704l2-3 5 4 3 3 4-4-4 4-7-1 3 1-3 4 4 0 0 6 2-3 3 2-4 2-4 1 1 4 2 3-7 0-7-1-5-2 7-8 1 6-1 3 3-2-1-5 3 0 1 4 3-2-6 8 1 8 2-3 3 3-3 5 3-1-1 5-1-5 2 2-3 2-3-3 5-2-3-2-4 2 1 3 3 5-2-2 0 3 3 1 4 1 1 4-9 0-1 2 2 2-3-2 5 2-1-4M779 809l-1-6 0 4-5-4 4 1 3-4-1 1-1-8 5 3 7-2 0-10-8-6 4 2 8 3 1-4 9 5 3 4 3 5-3 4-3 6 1-9 6 0 9-2-4 13 4 0-4-4-2 7-6-5-7 7 8-1 7-8-1-4 13-1-7-7-3 9-6 2-2-4-3-6 1 13 2 3-5 4-3 8-3-8 3-2 6-3 4 2-4 5 7-7 4-2-2-2-5-4-2 0-1-3-5-2 6-5 1-5-8 5-5 3-4 2 0-7-3 5-6-1M909 840l-4 0-4 0 5 1-3-7 1 2-1-2 0-5-4-4 2 6-3 3 2-1 2 8 12-1 0 4 1-5-3-6 4-4-1-1-2-5-7 3 1 3-8-2-7 0-5 5 7-1 11-2-10-8-8 1" fill="none" stroke="#3D8FD6" stroke-width="2.0" stroke-linejoin="round"/>
<rect x="176.5" y="122.5" width="111" height="89" fill="none" stroke="#444" stroke-width="1.1"/>
<text x="173.9" y="215.4" font-size="10.5" text-anchor="end" fill="#111" stroke="#111" stroke-width="0.30" >0</text>
<line x1="176.8" y1="174.5" x2="180.2" y2="174.5" stroke="#444" stroke-width="1" />
<text x="173.9" y="177.8" font-size="10.5" text-anchor="end" fill="#111" stroke="#111" stroke-width="0.30" >200</text>
<line x1="176.8" y1="136.5" x2="180.2" y2="136.5" stroke="#444" stroke-width="1" />
<text x="173.9" y="140.2" font-size="10.5" text-anchor="end" fill="#111" stroke="#111" stroke-width="0.30" >400</text>
<line x1="176.8" y1="193.5" x2="178.9" y2="193.5" stroke="#444" stroke-width="1" />
<line x1="176.8" y1="155.5" x2="178.9" y2="155.5" stroke="#444" stroke-width="1" />
<line x1="194.5" y1="211.8" x2="194.5" y2="209.7" stroke="#444" stroke-width="1" />
<line x1="211.5" y1="211.8" x2="211.5" y2="208.4" stroke="#444" stroke-width="1" />
<line x1="228.5" y1="211.8" x2="228.5" y2="209.7" stroke="#444" stroke-width="1" />
<line x1="246.5" y1="211.8" x2="246.5" y2="208.4" stroke="#444" stroke-width="1" />
<line x1="263.5" y1="211.8" x2="263.5" y2="209.7" stroke="#444" stroke-width="1" />
<line x1="281.5" y1="211.8" x2="281.5" y2="208.4" stroke="#444" stroke-width="1" />
<path transform="scale(0.25)" d="M752 984l-2-7-4 8-3 1 6 2 5-3 0-6-5-5-3 4 5-4 16-1 4 6 1-3-4-1-6-6-3-5 8 3-5-6-3 5-2-4-5 5 7-6 9 1-7-1-1 8-6-3 3 1 6 2 5 1 3-6-4 3-10-1 0-4-9-1 2-2-1 2 6 6-2-14 6-2 5 12-1 9-1 3-4 3-2-6-5 5-1 3-5 2 1 9 2-2-6 0 2 6-1 6 6-1 3 5 2-4 4 18 4-5-1-7-11 4 6 5-5 0 0 5 2-1-3 7-8 1 3-13-16 3-2 3 9 8 8-14 1 7 5-10-2-1 0 11-5-6-8-6 6-9 5 1-1-4 8 3-4 2 15-10-6 3-6-1-5-12 4 7-3-5 6 0 10 1-3 13-3-4-6 8-7-7 12 7-7 4M770 907l-6-1 7-4-7 6-6-1 8-2-1 3-3 0-1 3 0 6 0-5 3-1-3 3 6-12-4 1 3 0-3 2-9-2-3 5 3 1-2 7 7 1 2 2-2 2 7-8 3 4 1-5 5 7 1-3 2 0 8 1 6-5 4 6 2-6-2 3-5-4 7 2-4 2-10 6-4 6-3 0 3 5 1-2-2 3 0-4-6-2 3 0 0 5 4 1 1-3 5 4-1 3 2-5-3 3 6 5 6 4-2-1-2 4 8 1 3 0 5-3 4-5 4-5-4 2-6 2-2-4-5-3 2-2 6 0 5 1 0-4-4-2 1 6-5 0 2 2 6 1 1 8 0 9 2-6 5-3 1-2-7 0 6-4-5-3 1-3-5 1-3 5-1-4 2-1-4-3 7-5 6 5-2-3 1-9 2 1-3-6-2 7-3 6-1 3-5 3 0 7 2 3 0-4M854 914l2 4-6-3-2 1-10 5 6 2-4-13 6 4 3 4-1 4-3-2 8-5-3 3 8-2-3 5-1 7 6 0-4-3 3 2 5-3-6-1-1 2 4 2-2-5-2-4 3-2-4-8-5-6 10 0-8 3 7 4 7 0-1 3M939 924l-2 1 5-3-3 3-3 1 2-2 3 3 0 5 8 0 3-2 5-2-3-2 5 7 0-3-4 3 1 3-5 3 4 2 11-6 2-2 0 3-3 6-1-2-5 4-3-2 4 2-1 3 1-4 7 2 4-2 2 2 2 3-2-3 0 4-1 7 1 5 2-6 0-5-3-1 1 4 6-5-1-3 4-2-2-5-2 2-6 6-1-4M865 983l3-3 1-3 3 1-6-3 2 4 3-3-2-7 6-1 2-1-2 9 6 2-8-5 3 5 5-2-6 0 5 6 3-10 0-3-4-5-5 2 2 4 2-4-2 1 4 1-4-5 3-2 0-7 0 8 0 6-9 2-4-3-5 2-2 5 1-4-3-2-2 8 3 0 1-4 5 1-5-1-9-5 2 2-7-7-1 6 7-1-2 1-6-7 3-2 3 1 5-4-5 2-4-1 1 5 3 1-2 3-5-2 4-2-7 2-4-4-10-7-3 3 6-4 6 3-2 2-10 4 6-4 0 3 6 3-1-2 0 3-3-4 2-3M916 1001l-3-1-2 2-1-4-3-1-2 4-2 2 2 1-4 3-3-2-2-3 3 1 2-2-4-4-7-4 4-2 4-1-2-2-2-3 3 1 6-1 4-2-2 2-2 2 2-3 2-1 1-4 1-5 0-3M930 1002l-2 6 6 0-2-2-4-1 3 4-2-5 1-3 1-3 0 2 3 3 3 1 2-1 4 1 1-6 3-9-3-1 5-3 3 2 0-3-1 2M1029 954l-4 3 7-1 6 3-2-1 6 0 1 3-3 5 1 4-3-2 2-3 2 5-4 3 3 2 0-3-1 5-2-5-6-5 2 2-6 2 0-4M1054 985l4-1 11 0-4-4 6-6 5 5-3 1 0-6 7 0-6 5 2-2-4 4-3-6-1-2 4 9-3-1 3-1-1-3 7 4 6-3 2 6-2 3 2-3-2 1-1-2-1-2 2 1 7-2 0-5 0-5 4 1-3 4 4-1 2-1-10-4 0-3 2 4-1 5 0 7 6-6 5-4 5-1-4 0 6 2 4 0-5-4-9 3-1 7-9-5-2-4 0-5-5-5-2 1-1-5 2 3-3-3 2 8 3 3-2-6M1083 920l2 1 2 0 2-3-1-4 3 0 3 0 3-1 3-1-1 3-2-2-1-4-2-1-3-2 5 0-4 0-2 2 0-4 1-3 4-3-4 0M1136 1030l6 4-6 4-9 1-3-5-3-3-4 1-3 3 4 4-3-4 3 0-6 0-3-2 1-2-4-4 4-1-3 6 2-4 2-4 4 0 3 1-1-3-2-3 5 0 0-3 5-5-4-5 7-4 2 1 2-3-6 5 0 7 1-3-3 5 2 6 0-3 2 6 3-4-1 3-3 2-5-1-2-2 5 4M784 1062l6-4-8-2 2-3-1 6 0 3-5 9-5-1 0-7-7-1 2 1 4-2-2 2-2 2 2 4-2 0 3 3-1 3 5 0-2 3 5-4-2-5 3 2 3 1 1-1-4-5-7-7-4-3 4 4 2 6 0 4 6 3-2 1 2 2 5-6-2 2-3 3 6-2-4-6-3-1 4-2 2 1 7-1 1-3 5-2-4 5 3-5 3-5 11-3 9 1 0-5-2-9-2-2 2 4 7-3-2 0-1-7-1-3-7 4 1 3 2-6 4 3-7 6-4 2M879 1080l2-2 9-7-3-5 3 1 5 15-4 3 4 2 2-3 5 3 6 0-5 2 1-3-3 5-1 4-2-4-4 5 2 1 2 5-6 2-4-7 1-4 2-2-7-1-15 2-4 1 4-1-3 6-6 5-9-4-4-7 5 1 1-6 1-3 6-1 1-1-7-3 2 3-2 3 9 2-6-7-7 7-6 2 0 5 3-8-4 4 1-7 2-3 5 1 8 5-6 4-3-14 7 6 4 5-4 1 2-4 4 0 1-5 2 2 3 1 0-5 0-7 1-3-5-1-2-2 1-4 1-10 10-5-1 2-6-3 1-2 1-7-4 5-3 4 4-7-4 2-6-4-5 5 7-2-5 6-7-6 4-5M963 1069l-6 2-4-8-3-2 6-3-8-9 1-1 3 1 2 2-2 4-4 0 6 1-7 4 5 0-6 7 2-8 7-2-3 2-2 5-7-4-3-1-5-10-2-15-3-4 8 16 4-3-2 3-4 4 3 8-1 3 5-3 3 4-4-4-11-5 9 1 4-6-2 5 4 1 9 0 4-1 1-10 8-2 1-3-4-5-6-5 5 8-5-7 3-2-6 1M1026 1047l2 3 3 0-3 1-5-3-5-5 1 4 6-2-3 6-3 9-7-1-3 3-3-3-2-5-2 8 6-2 2-3 4 0 8 1 4 3 1-2 5 2-5 0-2-3 3 5 3-5 2 4 4-2 6 2-4-3 0-4 4 0 4 1 4 4-2-2 6 3-9-2 7-2-1 2 6 3-3 2-2-4 1-2-2-1 3 4 2 5-4-1-3-4-3-1-3 3-7 8 1-6-3 1-2-1 2 4 1 4 0-3-7 0-10 2 5 4-3 6-1-9-1-3 5-3 0-3-3-3-5 2 3 0M1061 1099l-3 3-2 2 11-3-4 0 4 1 2-5 0-6-3-2 3 5-1 4 1-4 3 1 2 1 3-4-5-6-9 0-6 3-6-1 5-1-6-1-3 7-2 5-1 5 3 0 5 1-5 0-3 1-5 0-3-3-4 0-4-3 2-2 2 3 3-2-3 6-6 1 5-3 2-4 0-5-8 4-3 3-4 6-3 1-2 2-4-5-1-3 1-2 4-3 1 9 3 1 0-3-4-4-4-2 5 1 5 3 1 4-2 1 3-3 0 7 4 0-5-5 2-2 1 3 4-3-3-1-5-1 2 1-8-4-3-3 5 1 6-2 1-2 1-9-1 2M959 1120l-6-6-2 2-5 0-2-3-4 2-4 2 4 5-7 4 5-2-7 1 5-6-2-8 2-3-4 3-1-6 3 1 0 3-5-5 3 8-2 3-1 3-4 0 1 4-7-3-2-2 1-3 1-2-4-3 2-4 5-1-6-3-2 3 3 1 2-3 1 2 4 0-5 7 0-5-4-1 1-2-4-4-6 6-4 0-3 3-5 4-4 2 0 5 3-2 4 0-3-2-4 3-4 5 2 2-4 1 0-4 3-1-4 1-2-2 8 0 4 4 3-5 4-5 1-3-3 5 1-2-2-3-3 2-3-4-2 1-2-2 1 4-2 7M990 1105l1 9 0-4 5 4-1 4-4 2-6 10 5 0-2 5 2 6-6-5 5-8-4 5 4 2-2 3-3-3-2-6 3-13 5 10 5 4 0-4 0 2 1-6 2-2 5 0 6-11 7 2-1 5 6 0-1-4-6 2 1 2-12 8 3-4 0 3-1 4-5-8 1-3 1 3 4-7-6 6 9 1 3-1-7-2 3-2-1-3M845 1173l-7 6-1 2-10-9-5-8-1 3-8 3-3-10-3 9 2 2-5 0 5-5 17 1 2-3-9-3 8 2 5-3-8 0-2 6-6-2-3 8 6 8-5 1 3 3 7 0 1-4-12-1-6-3-1-3-6 1 8 1 2-2-5 0 6-7 3-2-2-2-4 5-5 5-3 4-2-1 5-6 9-9-3 0 4-5-1 1 6-4 2 4-2-2-7-3 2-5 1 4-3 2 2-2 1-3 8 0-5 5 4 0-9 3-5 2-2 6 0-6 4 2-3-4-1-3 2 6 11 1 4-2-11-1 0 3 3 1-4-1-6 6-7 3 4-5 2-7-2-11 5-12 4-8 6 4-15-4-6 3 7-2 5 2-5-3 6 2 6 1-1-8-2-13-4 2 3 3 1-2 2 2M995 1171l10 4-3 0 4 9 7-3-9 2 13-5-4 5 7 6-7-1 4-6 7 2 4 5-2 3 5 8-5 5 10 3 1-2 6 0-7-1 2-4 0-4 3 0 2 7 1 2-4 0-3-8-6 7-4-2-3 3 3 4-10-3 2 3 5-2-2-8-1-2-2-7-6-1 4-8-4 3 2-1 7 1 2 5 7 7-6 6-9 8 6-8-1 6 3 5-4 2M1073 1170l-3-1 2-4 3 2 2-5-1 3 3 0 2-2-5 0 4 0-2-2 0-2 3-1 1 2-2-3 4 0 3-1 4 0-3 3 3 0-1-5 3-2 1-2 3-2 6 2 3 0-3 2 2 0 0-4 4 2-2 2M1075 1193l0-4 2-4 8 1 4-1 10-1 3 0 5 1 3-4-2 6 7-2 2 7-5-7-3 10 2 1-9 4-6 0-5 3 3 1 3 2 3 1-4-4-5 0-2-9 5 2-2-3 1-2 1 5 6-6-6-5 3-5-5 7 4 3-2-4 3-6-3-2 1 6-4-9-1 2 7-4-4 2 4 4-3 5 7 1-1 6 0-7-2 7 7-2 3-6-8 1-3 0 9 2 4 6-1 3 0-3-2-8-3-6 4 3 4 11 3 4 9-6 2-3 4 0 3 10 3-3 2 6 3-2-8 6 4-3-2-3 0-4-7 1-3-1 1-3-5 7-1 7 0-8 4 3 1 3 8-4 7 3-1-3 9 2-4 2-6-8-3 5 1 5-3 1 0 4-2 6 3-2-3-2 3-10-3-2 0 3M906 1200l-7 2 0 8-4 3-7 0 12 3 4-3-9-3 3 2-3 0 3-2-1-6 2 11-1-4 11 1-10-8 2 10-2-2-3 3-9 3 7 1 0-10 7 5 1-4-7-7-3 5-2 0-5-1" fill="none" stroke="#1E8C7E" stroke-width="2.0" stroke-linejoin="round"/>
<rect x="176.5" y="223.5" width="111" height="89" fill="none" stroke="#444" stroke-width="1.1"/>
<text x="173.9" y="316" font-size="10.5" text-anchor="end" fill="#111" stroke="#111" stroke-width="0.30" >0</text>
<line x1="176.8" y1="274.5" x2="180.2" y2="274.5" stroke="#444" stroke-width="1" />
<text x="173.9" y="278.4" font-size="10.5" text-anchor="end" fill="#111" stroke="#111" stroke-width="0.30" >200</text>
<line x1="176.8" y1="237.5" x2="180.2" y2="237.5" stroke="#444" stroke-width="1" />
<text x="173.9" y="240.8" font-size="10.5" text-anchor="end" fill="#111" stroke="#111" stroke-width="0.30" >400</text>
<line x1="176.8" y1="293.5" x2="178.9" y2="293.5" stroke="#444" stroke-width="1" />
<line x1="176.8" y1="255.5" x2="178.9" y2="255.5" stroke="#444" stroke-width="1" />
<line x1="194.5" y1="312.4" x2="194.5" y2="310.3" stroke="#444" stroke-width="1" />
<line x1="211.5" y1="312.4" x2="211.5" y2="309" stroke="#444" stroke-width="1" />
<line x1="228.5" y1="312.4" x2="228.5" y2="310.3" stroke="#444" stroke-width="1" />
<line x1="246.5" y1="312.4" x2="246.5" y2="309" stroke="#444" stroke-width="1" />
<line x1="263.5" y1="312.4" x2="263.5" y2="310.3" stroke="#444" stroke-width="1" />
<line x1="281.5" y1="312.4" x2="281.5" y2="309" stroke="#444" stroke-width="1" />
<text x="176.8" y="326.1" font-size="10.5" text-anchor="middle" fill="#111" stroke="#111" stroke-width="0.30" >0</text>
<text x="211.5" y="326.1" font-size="10.5" text-anchor="middle" fill="#111" stroke="#111" stroke-width="0.30" >200</text>
<text x="246.3" y="326.1" font-size="10.5" text-anchor="middle" fill="#111" stroke="#111" stroke-width="0.30" >400</text>
<text x="281" y="326.1" font-size="10.5" text-anchor="middle" fill="#111" stroke="#111" stroke-width="0.30" >600</text>
<text transform="translate(149,167.4) rotate(-90)" font-size="10.5" text-anchor="middle" fill="#111" stroke="#111" stroke-width="0.3">Particle Location Axis-y (nm)</text>
<text x="232.3" y="341.6" font-size="10.5" text-anchor="middle" fill="#111" stroke="#111" stroke-width="0.30" >Particle Location Axis-x (nm)</text>
<line x1="439.8" y1="28.7" x2="439.8" y2="104.6" stroke="#7a3b33" stroke-width="1.9" />
<path transform="scale(0.5)" d="M894 161h2.5M872 68h2.5M857 62h2.5M889 161h2.5M907 69h2.5M814 198h2.5M886 95h2.5M846 134h2.5M844 137h2.5M884 142h2.5M770 199h2.5M878 67h2.5M882 112h2.5M878 109h2.5M834 102h2.5M877 202h2.5M923 97h2.5M918 114h2.5M696 69h2.5M886 134h2.5M802 183h2.5M817 197h2.5M872 159h2.5M889 116h2.5M867 158h2.5M883 170h2.5M861 64h2.5M869 144h2.5M858 192h2.5M847 75h2.5M863 119h2.5M845 187h2.5M841 176h2.5M900 147h2.5M834 143h2.5M900 203h2.5M846 167h2.5M878 121h2.5M760 198h2.5M762 100h2.5M878 103h2.5M894 199h2.5M886 177h2.5M829 206h2.5M912 164h2.5M879 166h2.5M870 105h2.5M865 125h2.5M881 154h2.5M854 198h2.5M881 120h2.5M905 112h2.5M880 152h2.5M901 155h2.5M902 125h2.5M859 205h2.5M804 175h2.5M877 132h2.5M739 155h2.5M894 158h2.5M889 164h2.5M921 80h2.5M883 191h2.5M875 96h2.5M806 140h2.5M777 137h2.5M866 100h2.5M880 207h2.5M791 93h2.5M844 153h2.5M924 131h2.5M865 199h2.5M897 61h2.5M801 128h2.5M885 67h2.5M882 156h2.5M855 167h2.5M876 179h2.5M864 112h2.5M858 127h2.5M785 205h2.5M862 112h2.5M844 113h2.5M882 125h2.5M864 123h2.5M890 70h2.5M878 166h2.5M792 80h2.5M875 80h2.5M869 72h2.5M872 101h2.5M801 190h2.5M815 199h2.5M872 181h2.5M802 136h2.5M895 72h2.5M808 205h2.5M854 194h2.5M850 165h2.5M791 89h2.5M791 172h2.5M855 66h2.5M882 142h2.5M725 206h2.5M911 192h2.5M889 165h2.5M897 150h2.5M871 171h2.5M860 94h2.5M855 206h2.5M680 119h2.5M907 97h2.5M701 146h2.5M859 171h2.5M885 67h2.5M863 111h2.5M897 69h2.5M877 70h2.5M792 188h2.5M862 68h2.5M791 206h2.5M808 160h2.5M897 89h2.5M880 150h2.5M846 76h2.5M859 160h2.5M871 100h2.5M862 185h2.5M809 143h2.5M857 145h2.5M890 152h2.5M855 138h2.5M914 120h2.5M904 190h2.5M871 71h2.5M889 205h2.5M856 102h2.5M792 176h2.5M853 81h2.5M875 68h2.5M884 86h2.5M877 72h2.5M867 131h2.5M812 181h2.5M895 75h2.5M869 128h2.5M885 188h2.5M753 168h2.5M862 124h2.5M738 131h2.5M884 114h2.5M671 197h2.5M894 164h2.5M831 205h2.5M886 171h2.5M879 72h2.5M853 80h2.5M887 95h2.5M866 109h2.5M874 119h2.5M856 173h2.5M920 161h2.5M864 141h2.5M920 185h2.5M902 78h2.5M875 63h2.5M882 162h2.5M784 168h2.5M889 136h2.5M877 148h2.5M857 95h2.5M868 167h2.5M864 86h2.5M801 104h2.5M907 99h2.5M904 167h2.5M891 192h2.5M776 206h2.5M889 160h2.5M846 116h2.5M849 60h2.5M842 71h2.5M876 86h2.5M892 200h2.5M894 201h2.5M902 155h2.5M782 158h2.5M831 197h2.5M918 73h2.5M870 179h2.5M874 181h2.5M848 190h2.5M896 187h2.5M854 82h2.5M875 111h2.5M896 106h2.5M875 184h2.5M890 206h2.5M857 90h2.5M896 103h2.5M898 141h2.5M889 198h2.5M796 129h2.5M858 141h2.5M894 143h2.5M892 186h2.5M793 169h2.5M811 136h2.5M912 173h2.5M859 194h2.5M822 129h2.5M791 180h2.5M885 93h2.5M876 84h2.5M902 114h2.5M885 79h2.5M865 113h2.5M885 112h2.5M863 103h2.5M837 115h2.5M895 202h2.5M853 207h2.5M821 164h2.5M870 93h2.5M885 96h2.5M918 123h2.5M870 198h2.5M880 208h2.5M768 79h2.5M835 159h2.5M890 142h2.5M893 123h2.5M887 198h2.5M877 78h2.5M912 59h2.5M864 101h2.5M870 65h2.5M918 92h2.5M847 63h2.5M864 179h2.5M874 108h2.5M838 95h2.5M809 61h2.5M880 191h2.5M880 205h2.5M731 71h2.5M902 193h2.5M835 97h2.5M891 102h2.5M760 93h2.5M871 76h2.5M833 105h2.5M812 118h2.5M814 100h2.5M888 129h2.5M896 60h2.5M894 96h2.5M845 133h2.5M868 151h2.5M874 65h2.5M812 129h2.5M905 138h2.5M917 147h2.5M842 154h2.5M892 195h2.5M867 187h2.5M894 164h2.5M850 204h2.5M814 189h2.5M879 111h2.5M777 133h2.5M809 199h2.5M880 171h2.5M788 137h2.5M892 139h2.5M903 112h2.5M897 168h2.5M885 153h2.5M802 154h2.5M813 184h2.5M854 166h2.5M900 103h2.5M901 190h2.5M890 138h2.5M842 76h2.5M911 195h2.5M879 135h2.5M880 65h2.5M883 70h2.5M923 144h2.5M888 153h2.5M855 179h2.5M787 168h2.5M876 160h2.5M828 199h2.5M875 162h2.5M820 204h2.5M872 79h2.5M857 157h2.5M883 168h2.5M860 194h2.5M687 104h2.5M887 187h2.5M912 101h2.5M863 166h2.5M900 80h2.5M876 162h2.5M874 166h2.5M847 151h2.5M766 169h2.5M901 116h2.5M876 169h2.5M798 208h2.5M884 164h2.5M876 62h2.5M800 159h2.5M800 64h2.5M895 153h2.5M870 62h2.5M881 167h2.5M797 131h2.5M922 108h2.5M914 115h2.5M862 86h2.5M854 198h2.5M893 166h2.5M861 174h2.5M731 175h2.5M894 115h2.5M809 83h2.5M908 151h2.5M886 201h2.5M717 111h2.5M869 136h2.5M741 169h2.5M808 196h2.5M828 81h2.5M852 129h2.5M858 184h2.5M881 67h2.5M897 84h2.5M915 196h2.5M876 158h2.5M802 131h2.5M813 107h2.5M869 68h2.5M820 141h2.5M908 146h2.5M892 170h2.5M797 186h2.5M879 141h2.5M885 59h2.5M846 138h2.5M849 108h2.5M916 115h2.5M912 62h2.5M898 173h2.5M870 175h2.5M815 115h2.5M857 98h2.5M780 63h2.5M899 119h2.5M887 67h2.5M842 195h2.5M902 207h2.5M924 120h2.5M874 150h2.5M884 94h2.5M899 148h2.5M846 85h2.5M882 110h2.5M810 164h2.5M872 75h2.5M872 148h2.5M910 110h2.5M871 196h2.5M870 165h2.5M891 157h2.5M885 168h2.5M730 84h2.5M868 192h2.5M883 76h2.5M852 132h2.5M742 152h2.5M859 84h2.5M849 127h2.5M870 59h2.5M883 167h2.5M894 142h2.5M868 64h2.5M904 81h2.5M883 125h2.5M764 125h2.5M860 84h2.5M846 175h2.5M871 174h2.5M914 93h2.5M884 143h2.5M860 84h2.5M879 105h2.5M888 81h2.5M792 90h2.5M771 107h2.5M841 149h2.5M831 181h2.5M887 127h2.5M822 79h2.5M846 158h2.5M812 182h2.5M883 144h2.5M901 172h2.5M910 146h2.5M853 177h2.5M826 160h2.5M846 150h2.5M906 177h2.5M823 145h2.5M887 152h2.5M898 186h2.5M860 110h2.5M867 176h2.5M889 195h2.5M888 88h2.5M867 134h2.5M883 152h2.5M894 118h2.5M863 120h2.5M909 182h2.5M861 141h2.5M860 106h2.5M901 161h2.5M894 200h2.5M856 88h2.5M839 71h2.5M900 73h2.5M860 144h2.5M815 110h2.5M680 124h2.5M902 184h2.5M871 106h2.5M888 129h2.5M825 134h2.5M790 120h2.5M871 89h2.5M885 169h2.5M813 145h2.5M877 98h2.5M796 116h2.5M835 109h2.5M871 105h2.5M863 149h2.5M895 86h2.5M887 143h2.5M902 136h2.5M873 178h2.5M833 128h2.5M899 124h2.5M775 177h2.5M849 135h2.5M859 140h2.5M863 174h2.5M867 162h2.5M754 113h2.5M877 128h2.5M851 68h2.5M914 87h2.5M838 140h2.5M897 197h2.5M867 73h2.5M839 136h2.5M818 124h2.5M891 151h2.5M888 197h2.5M848 189h2.5M672 146h2.5M854 193h2.5M881 175h2.5M789 156h2.5M888 96h2.5M831 58h2.5M872 183h2.5M862 89h2.5M833 159h2.5M858 157h2.5M819 166h2.5M819 200h2.5M790 140h2.5M829 96h2.5M751 98h2.5M863 114h2.5M890 163h2.5M854 63h2.5M823 80h2.5M907 76h2.5M859 111h2.5M783 142h2.5M867 172h2.5M837 205h2.5M880 85h2.5M865 207h2.5M904 203h2.5M705 201h2.5M797 66h2.5M875 167h2.5M890 208h2.5M874 107h2.5M897 74h2.5M901 117h2.5M860 106h2.5M874 144h2.5M905 60h2.5M877 80h2.5M836 160h2.5M734 155h2.5M858 91h2.5M847 155h2.5M861 81h2.5M885 88h2.5M904 118h2.5M847 144h2.5M847 80h2.5M880 124h2.5M870 196h2.5M922 144h2.5M775 82h2.5M832 114h2.5M875 81h2.5M881 76h2.5M868 132h2.5M861 73h2.5M861 187h2.5M902 145h2.5M876 167h2.5M850 198h2.5M862 160h2.5M812 155h2.5M883 91h2.5M880 69h2.5M877 166h2.5M769 207h2.5M745 152h2.5M873 176h2.5M886 134h2.5M896 198h2.5M848 134h2.5M873 161h2.5M903 102h2.5M838 178h2.5M858 129h2.5M873 83h2.5M820 185h2.5M870 170h2.5M852 151h2.5M805 82h2.5M794 160h2.5M876 90h2.5M871 107h2.5M860 168h2.5M795 161h2.5M858 80h2.5M887 148h2.5M902 182h2.5M819 122h2.5M858 141h2.5M897 188h2.5M709 83h2.5M810 156h2.5M849 66h2.5M864 69h2.5M882 154h2.5M796 166h2.5M898 199h2.5M761 69h2.5M848 154h2.5M883 103h2.5M857 159h2.5M782 164h2.5M882 119h2.5M840 165h2.5M879 172h2.5M895 108h2.5M867 80h2.5M905 93h2.5M897 76h2.5M874 185h2.5M834 144h2.5M887 64h2.5M858 141h2.5M712 111h2.5M849 109h2.5M885 192h2.5M845 128h2.5M861 89h2.5M865 185h2.5M880 100h2.5M822 193h2.5M829 80h2.5M886 153h2.5M897 109h2.5M872 99h2.5M847 121h2.5M873 66h2.5M862 118h2.5M891 129h2.5M771 168h2.5M908 68h2.5M790 86h2.5M879 123h2.5M834 181h2.5M873 204h2.5M834 142h2.5M886 82h2.5M865 102h2.5M827 180h2.5M876 119h2.5M805 82h2.5M882 145h2.5M802 105h2.5M681 169h2.5M799 163h2.5M854 187h2.5M675 169h2.5M892 118h2.5M893 113h2.5M918 61h2.5M874 101h2.5M854 63h2.5M846 151h2.5M801 95h2.5M872 78h2.5M888 92h2.5M886 110h2.5M850 147h2.5M886 110h2.5M803 202h2.5M799 173h2.5M896 83h2.5M870 178h2.5M874 87h2.5M809 179h2.5M864 144h2.5M807 191h2.5M826 79h2.5M825 134h2.5M861 93h2.5M881 113h2.5M858 196h2.5M882 114h2.5M869 129h2.5M883 139h2.5M865 136h2.5M872 65h2.5M879 79h2.5M785 74h2.5M839 190h2.5M839 148h2.5M915 139h2.5M850 175h2.5M865 133h2.5M893 129h2.5M887 143h2.5M881 59h2.5M856 199h2.5M867 155h2.5M876 137h2.5M805 194h2.5M814 167h2.5M909 174h2.5M887 126h2.5M841 118h2.5M813 171h2.5M896 196h2.5M842 127h2.5M811 190h2.5M870 121h2.5M896 166h2.5M854 187h2.5M866 177h2.5M885 104h2.5M861 80h2.5M848 115h2.5M880 162h2.5M848 187h2.5M859 176h2.5M878 181h2.5M848 64h2.5M904 148h2.5M854 79h2.5M902 113h2.5M888 89h2.5M810 88h2.5M856 131h2.5M873 139h2.5M807 130h2.5M836 171h2.5M825 174h2.5M864 88h2.5M855 70h2.5M874 162h2.5M887 173h2.5M900 195h2.5M885 129h2.5M833 169h2.5M852 135h2.5M853 68h2.5M888 182h2.5M807 165h2.5M872 64h2.5M886 147h2.5M812 170h2.5M895 118h2.5M823 182h2.5M858 78h2.5M875 182h2.5M863 157h2.5M892 126h2.5M715 132h2.5M895 124h2.5M842 174h2.5M864 171h2.5M881 112h2.5M879 77h2.5M902 167h2.5M904 135h2.5M801 191h2.5M897 160h2.5M889 78h2.5M843 155h2.5M810 182h2.5M890 135h2.5M855 63h2.5M850 103h2.5M833 122h2.5M884 82h2.5M822 197h2.5M897 103h2.5M886 154h2.5M887 145h2.5M909 167h2.5M854 176h2.5M886 109h2.5M788 110h2.5M863 140h2.5M881 191h2.5M890 120h2.5M887 204h2.5M883 164h2.5M809 64h2.5M880 59h2.5M821 174h2.5M826 163h2.5M883 90h2.5M891 130h2.5M867 110h2.5M915 87h2.5M884 151h2.5M882 177h2.5M879 124h2.5M826 190h2.5M876 75h2.5M728 91h2.5M905 199h2.5M865 82h2.5M864 109h2.5M779 71h2.5M871 100h2.5M880 91h2.5M865 93h2.5M872 138h2.5M866 157h2.5M885 121h2.5M884 92h2.5M808 78h2.5M796 78h2.5M868 150h2.5M859 122h2.5M863 190h2.5M879 108h2.5M907 77h2.5M893 206h2.5M815 168h2.5M885 159h2.5M880 184h2.5M893 149h2.5M878 198h2.5M879 126h2.5M901 126h2.5M880 86h2.5M902 109h2.5M776 93h2.5M892 151h2.5M820 156h2.5M920 66h2.5M876 157h2.5M921 134h2.5M907 90h2.5M872 182h2.5M802 138h2.5M911 70h2.5M869 62h2.5M890 60h2.5M913 179h2.5M903 125h2.5M879 187h2.5M865 94h2.5M854 187h2.5M789 104h2.5M887 98h2.5M862 166h2.5M857 197h2.5M764 165h2.5M773 128h2.5M872 92h2.5M908 143h2.5M866 202h2.5M887 66h2.5M782 207h2.5M882 110h2.5M890 164h2.5M867 138h2.5M881 86h2.5M870 92h2.5M866 156h2.5M889 100h2.5M854 59h2.5M864 120h2.5M909 101h2.5M866 166h2.5M799 68h2.5M857 146h2.5M856 181h2.5M809 161h2.5M850 115h2.5M867 63h2.5M752 207h2.5M894 79h2.5M832 195h2.5M818 154h2.5M871 127h2.5M807 175h2.5M855 107h2.5M860 148h2.5M794 160h2.5M853 102h2.5M902 134h2.5M806 83h2.5M766 198h2.5M910 153h2.5M841 98h2.5M756 145h2.5M865 116h2.5M880 122h2.5M875 124h2.5M892 59h2.5M871 93h2.5M879 169h2.5M867 114h2.5M805 169h2.5M794 84h2.5M865 103h2.5M799 157h2.5M824 151h2.5M874 132h2.5M891 139h2.5M733 74h2.5M758 147h2.5M790 131h2.5M884 86h2.5M862 84h2.5M848 135h2.5M857 182h2.5M800 101h2.5M886 59h2.5M871 183h2.5M878 164h2.5M789 85h2.5M885 165h2.5M852 167h2.5M795 191h2.5M862 82h2.5M785 81h2.5M866 61h2.5M921 65h2.5M787 138h2.5M854 117h2.5M838 168h2.5M858 208h2.5M881 108h2.5M848 152h2.5M803 80h2.5M905 106h2.5M894 127h2.5M882 162h2.5M893 98h2.5M884 194h2.5M845 170h2.5M817 75h2.5M875 95h2.5M894 143h2.5M739 186h2.5M879 136h2.5M859 89h2.5M901 67h2.5M792 71h2.5M862 68h2.5M849 100h2.5M866 87h2.5M889 141h2.5M826 164h2.5M805 112h2.5M855 160h2.5M824 157h2.5M889 169h2.5M889 76h2.5M874 157h2.5M883 64h2.5M880 142h2.5M867 116h2.5M885 76h2.5M881 173h2.5M898 73h2.5M866 127h2.5M774 163h2.5M871 126h2.5M798 126h2.5M879 72h2.5M888 142h2.5M831 152h2.5M881 187h2.5M888 165h2.5M834 205h2.5M891 137h2.5M783 197h2.5M894 198h2.5M791 112h2.5M892 161h2.5M791 205h2.5M768 111h2.5M894 129h2.5M885 81h2.5M866 198h2.5M889 172h2.5M894 194h2.5M808 143h2.5M905 96h2.5M873 124h2.5M899 175h2.5M892 187h2.5M783 118h2.5M843 151h2.5M878 169h2.5M703 170h2.5M883 158h2.5M774 135h2.5M883 122h2.5M869 120h2.5M855 97h2.5M913 130h2.5M841 198h2.5M895 62h2.5M845 132h2.5M861 94h2.5M877 88h2.5M914 66h2.5M807 181h2.5M874 147h2.5M837 184h2.5M878 198h2.5M861 112h2.5M868 142h2.5M801 101h2.5M808 108h2.5M895 173h2.5M864 69h2.5M868 200h2.5M885 198h2.5M809 187h2.5M905 105h2.5M899 123h2.5M856 61h2.5M864 61h2.5M887 206h2.5M787 147h2.5M896 176h2.5M853 190h2.5M872 145h2.5M855 195h2.5M801 84h2.5M803 138h2.5M861 199h2.5M835 142h2.5M880 79h2.5M754 156h2.5M827 139h2.5M878 84h2.5M888 173h2.5M774 164h2.5M884 111h2.5M810 179h2.5M874 141h2.5M892 107h2.5M893 165h2.5M861 159h2.5M887 186h2.5M869 125h2.5M853 157h2.5M860 79h2.5M805 198h2.5M880 173h2.5M859 164h2.5M912 151h2.5M865 198h2.5M791 158h2.5M916 146h2.5M871 71h2.5M875 83h2.5M867 205h2.5M882 149h2.5M874 89h2.5M803 119h2.5M877 135h2.5M828 168h2.5M897 199h2.5M899 71h2.5M901 194h2.5M819 139h2.5M776 188h2.5M802 170h2.5M875 79h2.5M864 184h2.5M876 86h2.5M872 110h2.5M828 132h2.5M727 158h2.5M883 120h2.5M881 174h2.5M891 70h2.5M842 168h2.5M897 146h2.5M880 178h2.5M790 107h2.5M894 153h2.5M910 165h2.5M827 206h2.5M857 107h2.5M849 133h2.5M858 72h2.5M874 144h2.5M861 160h2.5M866 196h2.5M876 103h2.5M887 206h2.5M863 84h2.5M889 73h2.5M852 100h2.5M891 156h2.5M863 110h2.5M803 191h2.5M865 192h2.5M861 166h2.5M811 186h2.5M893 69h2.5M870 64h2.5M859 66h2.5M861 179h2.5M860 116h2.5M885 82h2.5M777 136h2.5M708 160h2.5M810 190h2.5M864 86h2.5M914 160h2.5M844 81h2.5M868 137h2.5M889 88h2.5M886 179h2.5M853 98h2.5M874 100h2.5M866 160h2.5M907 191h2.5M865 192h2.5M875 180h2.5M796 190h2.5M867 208h2.5M856 204h2.5M868 175h2.5M909 91h2.5M811 173h2.5M842 134h2.5M880 155h2.5M909 64h2.5M846 164h2.5M861 105h2.5M908 162h2.5M855 157h2.5M828 174h2.5M876 195h2.5M876 163h2.5M906 110h2.5M909 69h2.5M794 148h2.5M853 166h2.5M883 96h2.5M847 123h2.5M853 160h2.5M892 185h2.5M840 135h2.5M886 116h2.5M887 204h2.5M893 191h2.5M780 156h2.5M870 171h2.5M922 198h2.5M813 143h2.5M890 137h2.5M861 111h2.5M905 107h2.5M913 194h2.5M842 177h2.5M864 94h2.5M818 139h2.5M896 64h2.5M889 127h2.5M890 105h2.5M889 153h2.5M814 167h2.5M859 117h2.5M853 191h2.5M884 199h2.5M871 193h2.5M865 80h2.5M890 69h2.5M879 172h2.5M887 170h2.5M808 206h2.5M829 110h2.5M885 172h2.5M892 179h2.5M905 94h2.5M856 197h2.5M865 66h2.5M809 69h2.5M914 182h2.5M866 87h2.5M777 178h2.5M887 202h2.5M884 110h2.5M855 182h2.5M804 134h2.5M892 138h2.5M777 120h2.5M850 84h2.5M896 123h2.5M912 78h2.5M899 103h2.5M904 187h2.5M880 136h2.5M897 78h2.5M820 173h2.5M770 205h2.5M887 78h2.5M862 142h2.5M884 100h2.5M889 59h2.5M870 102h2.5M883 88h2.5M858 140h2.5M879 124h2.5M896 199h2.5M878 157h2.5M887 64h2.5M886 121h2.5M795 93h2.5M896 125h2.5M872 143h2.5M875 134h2.5M868 181h2.5M842 149h2.5M792 199h2.5M920 98h2.5M889 149h2.5M926 171h2.5M915 145h2.5M816 204h2.5M895 122h2.5M892 105h2.5M815 60h2.5M731 196h2.5M835 172h2.5M764 199h2.5M862 205h2.5M869 181h2.5M862 64h2.5M922 93h2.5M864 71h2.5M813 205h2.5M889 188h2.5M865 161h2.5M908 179h2.5M914 112h2.5M808 169h2.5M885 137h2.5M788 182h2.5M885 94h2.5M864 161h2.5M851 146h2.5M867 98h2.5M798 193h2.5M879 174h2.5M855 72h2.5M898 178h2.5M874 58h2.5M757 148h2.5M854 169h2.5M877 131h2.5M894 151h2.5M890 164h2.5M901 204h2.5M821 122h2.5M895 65h2.5M884 91h2.5M875 113h2.5M896 65h2.5M901 127h2.5M806 150h2.5M863 88h2.5M914 150h2.5M796 84h2.5M908 109h2.5M923 130h2.5M886 116h2.5M834 155h2.5M900 69h2.5M876 103h2.5M891 188h2.5M847 167h2.5M899 138h2.5M884 166h2.5M795 96h2.5M724 188h2.5M899 103h2.5M848 143h2.5M882 115h2.5M903 133h2.5M913 93h2.5M865 155h2.5M885 95h2.5M882 64h2.5M807 70h2.5M771 82h2.5M731 172h2.5M906 120h2.5M843 145h2.5M900 192h2.5M859 114h2.5M879 200h2.5M910 188h2.5M719 148h2.5M898 169h2.5M900 94h2.5M879 177h2.5M838 139h2.5M878 177h2.5M792 201h2.5M885 76h2.5M846 154h2.5M892 73h2.5M883 108h2.5M868 167h2.5M793 136h2.5M910 134h2.5M813 71h2.5M866 71h2.5M815 158h2.5M812 205h2.5M890 84h2.5M903 82h2.5M856 148h2.5M880 138h2.5M863 137h2.5M809 181h2.5M872 115h2.5M861 117h2.5M919 187h2.5M770 195h2.5M864 61h2.5M861 206h2.5M896 88h2.5M836 65h2.5M790 151h2.5M865 157h2.5M872 126h2.5M901 111h2.5M849 156h2.5M890 125h2.5M721 169h2.5M911 129h2.5M886 157h2.5M751 199h2.5M899 93h2.5M914 125h2.5M864 206h2.5M884 186h2.5M880 100h2.5M905 201h2.5M834 69h2.5M684 199h2.5M894 59h2.5M855 149h2.5M863 174h2.5M860 114h2.5M854 172h2.5M809 62h2.5M878 196h2.5M854 137h2.5M876 200h2.5M897 114h2.5M874 86h2.5M876 104h2.5M886 192h2.5M889 110h2.5M917 112h2.5M891 172h2.5M858 132h2.5M890 129h2.5M892 100h2.5M853 189h2.5M801 182h2.5M900 95h2.5M852 190h2.5M915 100h2.5M888 94h2.5M767 175h2.5M887 92h2.5M834 101h2.5M805 163h2.5M857 118h2.5M883 126h2.5M871 168h2.5M793 98h2.5M846 140h2.5M888 85h2.5M788 178h2.5M839 203h2.5M830 206h2.5M866 159h2.5M878 73h2.5M784 181h2.5M849 97h2.5M871 120h2.5M806 85h2.5M884 134h2.5M865 182h2.5M865 206h2.5M884 187h2.5M881 98h2.5M857 185h2.5M878 83h2.5M871 114h2.5M788 156h2.5M852 198h2.5M876 127h2.5M904 100h2.5M850 77h2.5M852 151h2.5M839 127h2.5M838 202h2.5M806 159h2.5M781 144h2.5M815 179h2.5M856 156h2.5M879 89h2.5M853 201h2.5M833 92h2.5M840 132h2.5M879 186h2.5M859 166h2.5M872 122h2.5M815 200h2.5M890 67h2.5M860 191h2.5M816 169h2.5M853 86h2.5M869 124h2.5M894 170h2.5M909 93h2.5M859 81h2.5M809 144h2.5M858 141h2.5M868 192h2.5M886 202h2.5M874 111h2.5M807 156h2.5M876 156h2.5M793 127h2.5M885 205h2.5M876 200h2.5M910 114h2.5M903 106h2.5M898 182h2.5M869 94h2.5M889 166h2.5M889 155h2.5M896 79h2.5M784 185h2.5M867 153h2.5M733 104h2.5M843 197h2.5M858 183h2.5M885 62h2.5M911 206h2.5M901 66h2.5M890 84h2.5M773 168h2.5M872 160h2.5M856 187h2.5M835 118h2.5M857 100h2.5M876 122h2.5M876 94h2.5M868 157h2.5M874 165h2.5M851 125h2.5M807 177h2.5M828 152h2.5M883 171h2.5M840 196h2.5M880 67h2.5M912 109h2.5M892 114h2.5M765 83h2.5M871 196h2.5M895 185h2.5M900 157h2.5M878 74h2.5M885 206h2.5M790 94h2.5M887 112h2.5M828 153h2.5M815 126h2.5M798 171h2.5M882 154h2.5M734 189h2.5M842 160h2.5M840 92h2.5M883 149h2.5M861 178h2.5M877 205h2.5M879 131h2.5M876 182h2.5M707 199h2.5M904 167h2.5M808 199h2.5M892 140h2.5M864 174h2.5M780 203h2.5M909 76h2.5M751 105h2.5M831 104h2.5M894 207h2.5M885 166h2.5M869 87h2.5M881 182h2.5M848 94h2.5M885 86h2.5M816 128h2.5M882 102h2.5M866 179h2.5M914 112h2.5M896 134h2.5M699 181h2.5M778 193h2.5M851 82h2.5M860 120h2.5M831 67h2.5M832 139h2.5M810 101h2.5M876 94h2.5M870 79h2.5M885 61h2.5M755 184h2.5M876 114h2.5M868 197h2.5M878 97h2.5M900 196h2.5M860 135h2.5M824 191h2.5M787 66h2.5M844 86h2.5M861 159h2.5M887 194h2.5M723 182h2.5M831 178h2.5M900 185h2.5M812 78h2.5M899 75h2.5M827 95h2.5M847 175h2.5M899 171h2.5M860 105h2.5M835 196h2.5M879 111h2.5M712 82h2.5M839 90h2.5M727 111h2.5M895 154h2.5M881 136h2.5M886 145h2.5M837 188h2.5M770 151h2.5M875 92h2.5M867 79h2.5M856 114h2.5M909 146h2.5M868 195h2.5M787 129h2.5M851 125h2.5M804 194h2.5M801 150h2.5M831 155h2.5M888 66h2.5M773 198h2.5M860 170h2.5M872 128h2.5M895 126h2.5M851 174h2.5M844 184h2.5M800 101h2.5M799 170h2.5M857 98h2.5M861 151h2.5M875 204h2.5M866 149h2.5M873 107h2.5M804 118h2.5M768 197h2.5M856 193h2.5M857 145h2.5M773 82h2.5M794 175h2.5M669 137h2.5M871 195h2.5M871 150h2.5M847 98h2.5M883 92h2.5M872 134h2.5M835 146h2.5M752 129h2.5M796 146h2.5M854 68h2.5M887 96h2.5M874 148h2.5M876 127h2.5M815 141h2.5M894 185h2.5M856 94h2.5M893 161h2.5M898 150h2.5M923 177h2.5M855 66h2.5M890 176h2.5M862 136h2.5M858 178h2.5M852 81h2.5M892 68h2.5M896 203h2.5M780 79h2.5M855 145h2.5M883 168h2.5M847 190h2.5M859 100h2.5M861 106h2.5M805 161h2.5M776 198h2.5M893 200h2.5M878 201h2.5M891 117h2.5M870 194h2.5M866 182h2.5M901 139h2.5M885 150h2.5M864 72h2.5M914 152h2.5M850 189h2.5M871 97h2.5M891 123h2.5M841 104h2.5M849 157h2.5M867 113h2.5M782 161h2.5M872 137h2.5M805 89h2.5M743 163h2.5M862 197h2.5M872 152h2.5M913 85h2.5M883 201h2.5M749 167h2.5M897 181h2.5M884 105h2.5M813 85h2.5M888 103h2.5M887 176h2.5M862 134h2.5M830 127h2.5M912 121h2.5M847 111h2.5M879 143h2.5M908 181h2.5M813 208h2.5M873 127h2.5M878 117h2.5M703 130h2.5M906 146h2.5M867 189h2.5M881 119h2.5M880 159h2.5M877 184h2.5M861 181h2.5M832 183h2.5M832 109h2.5M881 59h2.5M902 110h2.5M880 116h2.5M772 76h2.5M894 154h2.5M878 89h2.5M883 193h2.5M805 96h2.5M805 130h2.5M874 186h2.5M843 111h2.5M856 177h2.5M867 96h2.5M881 184h2.5M892 180h2.5M896 160h2.5M870 143h2.5M852 156h2.5M903 161h2.5M895 126h2.5M814 160h2.5M882 123h2.5M879 195h2.5M846 61h2.5M811 59h2.5M834 168h2.5M870 129h2.5M865 59h2.5M797 148h2.5M875 140h2.5M807 85h2.5M856 110h2.5M792 143h2.5M801 174h2.5M894 157h2.5M887 202h2.5M876 170h2.5M890 120h2.5M880 101h2.5M882 146h2.5M866 128h2.5M825 133h2.5M915 79h2.5M859 89h2.5M800 70h2.5M867 148h2.5M883 124h2.5M843 196h2.5M836 60h2.5M867 135h2.5M833 202h2.5M855 169h2.5M792 173h2.5M877 75h2.5M872 72h2.5M839 162h2.5M871 146h2.5M798 195h2.5M851 195h2.5M860 146h2.5M820 77h2.5M851 180h2.5M867 150h2.5M817 190h2.5M850 133h2.5M782 120h2.5M871 132h2.5M870 155h2.5M865 153h2.5M855 95h2.5M903 97h2.5M894 59h2.5M882 174h2.5M835 182h2.5M796 189h2.5M807 101h2.5M883 171h2.5M868 136h2.5M719 181h2.5M853 79h2.5M910 106h2.5M889 94h2.5M881 91h2.5M813 170h2.5M864 143h2.5M800 196h2.5M909 69h2.5M877 201h2.5M865 108h2.5M887 74h2.5M889 75h2.5M908 188h2.5M827 133h2.5M852 164h2.5M812 172h2.5M873 180h2.5M873 112h2.5M857 185h2.5M751 98h2.5M891 166h2.5M869 192h2.5M837 185h2.5M871 156h2.5M901 161h2.5M772 93h2.5M861 144h2.5M861 137h2.5M876 135h2.5M834 188h2.5M899 80h2.5M906 206h2.5M892 95h2.5M788 118h2.5M795 129h2.5M822 75h2.5M868 157h2.5M874 165h2.5M888 100h2.5M866 185h2.5M883 119h2.5M882 157h2.5M877 148h2.5M858 206h2.5M893 71h2.5M860 166h2.5M777 94h2.5M858 135h2.5M845 120h2.5M895 199h2.5M883 164h2.5M864 102h2.5M902 203h2.5M897 70h2.5M885 203h2.5M873 205h2.5M847 85h2.5M803 204h2.5M883 145h2.5M857 93h2.5M828 128h2.5M871 206h2.5M755 81h2.5M871 99h2.5M884 67h2.5M689 156h2.5M884 170h2.5M865 199h2.5M878 190h2.5M801 195h2.5M859 149h2.5M849 141h2.5M837 78h2.5M815 86h2.5M878 158h2.5M855 189h2.5M871 77h2.5M830 172h2.5M838 205h2.5M902 160h2.5M886 124h2.5M851 203h2.5M824 183h2.5M832 128h2.5M867 79h2.5M897 114h2.5M893 173h2.5M878 112h2.5M864 207h2.5M821 83h2.5M855 76h2.5M899 139h2.5M834 195h2.5M811 78h2.5M848 205h2.5M855 194h2.5M916 106h2.5M866 141h2.5M859 132h2.5M870 119h2.5M872 101h2.5M828 182h2.5M881 63h2.5M763 176h2.5M892 72h2.5M861 98h2.5M828 200h2.5M874 178h2.5M871 204h2.5M875 200h2.5M902 165h2.5M837 173h2.5M916 128h2.5M864 157h2.5M839 116h2.5M850 120h2.5M907 63h2.5M881 144h2.5M912 111h2.5M857 165h2.5M867 201h2.5M861 156h2.5M876 82h2.5M879 176h2.5M893 205h2.5M796 77h2.5M847 188h2.5M792 143h2.5M880 157h2.5M868 194h2.5M875 179h2.5M870 170h2.5M871 63h2.5M873 64h2.5M896 166h2.5M730 156h2.5M807 87h2.5M899 147h2.5M839 201h2.5M848 139h2.5M888 131h2.5M854 132h2.5M886 173h2.5M870 196h2.5M882 180h2.5M886 92h2.5M882 97h2.5M879 105h2.5M872 208h2.5M876 185h2.5M878 147h2.5M867 142h2.5M862 176h2.5M770 180h2.5M893 161h2.5M853 181h2.5M858 167h2.5M896 85h2.5M878 138h2.5M857 165h2.5M864 62h2.5M891 76h2.5M874 114h2.5M778 86h2.5M871 83h2.5M865 148h2.5M898 117h2.5M888 76h2.5M896 65h2.5M900 100h2.5M890 178h2.5M879 76h2.5M857 163h2.5M900 155h2.5M887 82h2.5M886 148h2.5M765 171h2.5M846 105h2.5M865 132h2.5M889 170h2.5M879 177h2.5M848 174h2.5M877 114h2.5M882 110h2.5M879 125h2.5M800 165h2.5M893 179h2.5M895 169h2.5M852 196h2.5M910 107h2.5M853 207h2.5M856 184h2.5M909 172h2.5M877 79h2.5M877 71h2.5M841 165h2.5M867 137h2.5M844 69h2.5M844 121h2.5M853 74h2.5M811 92h2.5M862 183h2.5M865 99h2.5M866 193h2.5M885 200h2.5M874 190h2.5M823 105h2.5M816 155h2.5M763 105h2.5M760 73h2.5M900 176h2.5M850 206h2.5M891 201h2.5M881 105h2.5M864 172h2.5M892 70h2.5M830 113h2.5M868 62h2.5M783 86h2.5M887 65h2.5M897 149h2.5M864 161h2.5M880 165h2.5M888 89h2.5M845 196h2.5M892 70h2.5M855 153h2.5M888 153h2.5M799 199h2.5M798 105h2.5M812 140h2.5M900 110h2.5M874 197h2.5M926 202h2.5M883 148h2.5M843 75h2.5M793 196h2.5M839 191h2.5M844 87h2.5M736 68h2.5M882 132h2.5M826 171h2.5M795 63h2.5M889 163h2.5M871 150h2.5M893 201h2.5M880 194h2.5M878 63h2.5M839 116h2.5M721 161h2.5M884 167h2.5M873 84h2.5M893 104h2.5M863 136h2.5M879 163h2.5M821 95h2.5M877 105h2.5M879 131h2.5M884 206h2.5M805 117h2.5M855 191h2.5M884 192h2.5M873 179h2.5M808 135h2.5M871 92h2.5M886 103h2.5M837 94h2.5M879 84h2.5M738 179h2.5M881 173h2.5M861 175h2.5M873 102h2.5M876 113h2.5M736 167h2.5M851 195h2.5M867 79h2.5M872 174h2.5M886 193h2.5M875 206h2.5M850 95h2.5M781 78h2.5M881 86h2.5M896 131h2.5M854 137h2.5M854 91h2.5M874 167h2.5M894 69h2.5M897 128h2.5M901 133h2.5M750 177h2.5M878 64h2.5M886 205h2.5M877 90h2.5M874 135h2.5M900 178h2.5M835 67h2.5M879 149h2.5M831 205h2.5M870 191h2.5M867 174h2.5M889 157h2.5M879 190h2.5M876 64h2.5M811 62h2.5M887 131h2.5M853 77h2.5M868 127h2.5M798 131h2.5M835 76h2.5M840 182h2.5M853 119h2.5M872 115h2.5M802 194h2.5M867 177h2.5M785 186h2.5M883 133h2.5M915 169h2.5M832 178h2.5M893 198h2.5M874 63h2.5M851 184h2.5M867 182h2.5M869 60h2.5M806 147h2.5M870 126h2.5M844 138h2.5M876 146h2.5M816 161h2.5M887 207h2.5M887 78h2.5M808 171h2.5M886 192h2.5M793 204h2.5M875 133h2.5M906 137h2.5M913 138h2.5M886 72h2.5M886 131h2.5M917 191h2.5M890 197h2.5M830 117h2.5M799 161h2.5M826 203h2.5M855 67h2.5M876 68h2.5M811 81h2.5M875 133h2.5M875 196h2.5M892 142h2.5M887 137h2.5M907 119h2.5M871 148h2.5M863 95h2.5M879 98h2.5M904 199h2.5M788 202h2.5M885 160h2.5M712 173h2.5M884 105h2.5M791 85h2.5M865 78h2.5M881 206h2.5M874 89h2.5M895 102h2.5M900 195h2.5M897 83h2.5M886 107h2.5M865 112h2.5M840 195h2.5M881 166h2.5M883 92h2.5M879 183h2.5M838 137h2.5M864 120h2.5M874 194h2.5M874 145h2.5M903 194h2.5M884 142h2.5M810 140h2.5M882 190h2.5M861 174h2.5M779 157h2.5M863 148h2.5M890 182h2.5M882 132h2.5M826 205h2.5M894 136h2.5M849 139h2.5M851 73h2.5M718 119h2.5M869 109h2.5M802 163h2.5M905 146h2.5M859 90h2.5M847 200h2.5M905 153h2.5M874 61h2.5M806 142h2.5M887 138h2.5M862 163h2.5M870 170h2.5M812 183h2.5M878 73h2.5M876 124h2.5M861 160h2.5M785 194h2.5M893 164h2.5M878 186h2.5M866 136h2.5M868 154h2.5M836 168h2.5M780 97h2.5M868 170h2.5M894 99h2.5M881 154h2.5M872 95h2.5M898 79h2.5M865 145h2.5M896 108h2.5M843 111h2.5M864 135h2.5M813 188h2.5M808 151h2.5M918 132h2.5M828 168h2.5M861 172h2.5M868 62h2.5M867 146h2.5M773 100h2.5M850 99h2.5M871 167h2.5M902 92h2.5M887 96h2.5M871 179h2.5M684 162h2.5M875 170h2.5M754 155h2.5M892 173h2.5M872 145h2.5M864 186h2.5M755 110h2.5M746 178h2.5M865 155h2.5M882 141h2.5M877 61h2.5M879 177h2.5M853 187h2.5M728 161h2.5M882 183h2.5M888 111h2.5M856 111h2.5M878 72h2.5M883 175h2.5M856 175h2.5M864 98h2.5M846 65h2.5M860 93h2.5M789 137h2.5M861 96h2.5M909 134h2.5M914 105h2.5M716 132h2.5M800 89h2.5M884 109h2.5M888 154h2.5M895 158h2.5M928 138h2.5M858 157h2.5M890 147h2.5M854 174h2.5M875 164h2.5M896 65h2.5M912 90h2.5M860 90h2.5M853 173h2.5M873 187h2.5M786 133h2.5M884 80h2.5" stroke="#F0907F" stroke-width="2.5"/>
<rect x="304.5" y="22.5" width="170" height="89" fill="none" stroke="#444" stroke-width="1.1"/>
<line x1="325.5" y1="111.6" x2="325.5" y2="108.2" stroke="#444" stroke-width="1" />
<line x1="357.5" y1="111.6" x2="357.5" y2="108.2" stroke="#444" stroke-width="1" />
<line x1="388.5" y1="111.6" x2="388.5" y2="108.2" stroke="#444" stroke-width="1" />
<line x1="420.5" y1="111.6" x2="420.5" y2="108.2" stroke="#444" stroke-width="1" />
<line x1="452.5" y1="111.6" x2="452.5" y2="108.2" stroke="#444" stroke-width="1" />
<line x1="439.8" y1="129.1" x2="439.8" y2="204.8" stroke="#3e5675" stroke-width="1.9" />
<path transform="scale(0.5)" d="M758 266h2.5M829 364h2.5M907 325h2.5M845 381h2.5M825 329h2.5M869 326h2.5M807 345h2.5M864 268h2.5M885 309h2.5M843 408h2.5M862 281h2.5M873 283h2.5M907 280h2.5M880 385h2.5M907 320h2.5M862 371h2.5M891 354h2.5M909 305h2.5M880 290h2.5M862 389h2.5M833 351h2.5M783 335h2.5M877 407h2.5M890 292h2.5M834 405h2.5M861 276h2.5M878 328h2.5M898 315h2.5M800 274h2.5M896 378h2.5M844 343h2.5M856 353h2.5M861 389h2.5M901 347h2.5M784 407h2.5M879 261h2.5M848 349h2.5M911 321h2.5M880 369h2.5M895 335h2.5M888 386h2.5M863 304h2.5M836 322h2.5M885 384h2.5M890 314h2.5M892 285h2.5M913 379h2.5M889 370h2.5M914 287h2.5M886 327h2.5M878 344h2.5M899 314h2.5M859 269h2.5M893 286h2.5M841 391h2.5M843 327h2.5M894 347h2.5M858 368h2.5M857 282h2.5M905 315h2.5M893 381h2.5M776 304h2.5M902 387h2.5M812 404h2.5M895 303h2.5M855 305h2.5M872 380h2.5M801 351h2.5M840 271h2.5M862 397h2.5M888 302h2.5M801 396h2.5M868 319h2.5M883 297h2.5M865 299h2.5M799 378h2.5M803 385h2.5M853 393h2.5M870 384h2.5M830 291h2.5M896 351h2.5M886 381h2.5M894 352h2.5M805 386h2.5M837 391h2.5M846 315h2.5M806 405h2.5M890 297h2.5M818 271h2.5M877 297h2.5M841 395h2.5M879 396h2.5M872 350h2.5M832 369h2.5M789 359h2.5M805 369h2.5M874 315h2.5M763 342h2.5M886 356h2.5M868 265h2.5M867 303h2.5M903 342h2.5M886 291h2.5M813 368h2.5M801 398h2.5M881 336h2.5M894 299h2.5M893 283h2.5M893 391h2.5M840 390h2.5M805 371h2.5M920 392h2.5M906 275h2.5M893 298h2.5M889 357h2.5M855 401h2.5M856 360h2.5M855 406h2.5M893 310h2.5M808 371h2.5M873 308h2.5M875 385h2.5M859 381h2.5M905 403h2.5M872 365h2.5M873 368h2.5M875 289h2.5M882 353h2.5M863 359h2.5M893 401h2.5M861 307h2.5M901 383h2.5M839 352h2.5M876 317h2.5M877 265h2.5M816 265h2.5M889 321h2.5M903 393h2.5M853 277h2.5M863 382h2.5M825 334h2.5M867 268h2.5M877 320h2.5M812 395h2.5M874 351h2.5M795 351h2.5M890 281h2.5M795 301h2.5M876 313h2.5M878 270h2.5M865 279h2.5M776 298h2.5M873 391h2.5M908 324h2.5M868 301h2.5M891 389h2.5M885 282h2.5M871 398h2.5M819 393h2.5M903 354h2.5M888 292h2.5M878 350h2.5M815 333h2.5M774 403h2.5M799 336h2.5M882 261h2.5M881 323h2.5M852 396h2.5M903 348h2.5M872 403h2.5M738 402h2.5M764 376h2.5M862 366h2.5M860 356h2.5M869 390h2.5M797 388h2.5M904 307h2.5M849 356h2.5M923 347h2.5M883 402h2.5M880 397h2.5M750 407h2.5M810 309h2.5M895 395h2.5M913 384h2.5M867 332h2.5M814 385h2.5M866 272h2.5M853 267h2.5M894 292h2.5M902 275h2.5M875 338h2.5M781 290h2.5M908 308h2.5M811 346h2.5M779 407h2.5M861 302h2.5M898 352h2.5M862 396h2.5M905 370h2.5M924 320h2.5M886 329h2.5M894 270h2.5M905 277h2.5M838 271h2.5M773 402h2.5M884 356h2.5M907 285h2.5M889 343h2.5M806 309h2.5M821 343h2.5M817 342h2.5M892 299h2.5M837 260h2.5M872 368h2.5M899 377h2.5M788 400h2.5M858 357h2.5M851 341h2.5M885 262h2.5M783 402h2.5M867 341h2.5M754 307h2.5M841 370h2.5M900 374h2.5M837 386h2.5M871 351h2.5M888 391h2.5M834 282h2.5M851 395h2.5M871 344h2.5M851 374h2.5M874 391h2.5M857 399h2.5M810 279h2.5M871 329h2.5M866 304h2.5M867 391h2.5M873 276h2.5M881 391h2.5M885 344h2.5M901 301h2.5M810 332h2.5M750 282h2.5M865 348h2.5M802 357h2.5M808 316h2.5M847 335h2.5M855 330h2.5M859 273h2.5M788 368h2.5M884 274h2.5M869 282h2.5M814 395h2.5M862 393h2.5M798 281h2.5M817 330h2.5M864 327h2.5M872 267h2.5M763 344h2.5M865 397h2.5M875 340h2.5M919 398h2.5M859 310h2.5M890 287h2.5M888 314h2.5M884 324h2.5M852 383h2.5M837 348h2.5M815 330h2.5M867 316h2.5M895 315h2.5M799 342h2.5M867 261h2.5M784 313h2.5M857 384h2.5M874 401h2.5M871 291h2.5M847 353h2.5M892 293h2.5M886 300h2.5M800 319h2.5M844 281h2.5M808 353h2.5M861 395h2.5M800 333h2.5M880 341h2.5M746 395h2.5M863 304h2.5M880 403h2.5M859 341h2.5M855 402h2.5M895 268h2.5M894 265h2.5M884 300h2.5M870 408h2.5M724 408h2.5M735 354h2.5M899 386h2.5M870 261h2.5M866 287h2.5M831 344h2.5M854 330h2.5M888 269h2.5M806 368h2.5M858 398h2.5M877 375h2.5M807 337h2.5M881 307h2.5M837 269h2.5M867 298h2.5M871 336h2.5M847 359h2.5M904 302h2.5M896 408h2.5M878 335h2.5M924 329h2.5M852 315h2.5M801 293h2.5M848 270h2.5M870 320h2.5M916 387h2.5M855 402h2.5M869 282h2.5M858 381h2.5M849 336h2.5M894 323h2.5M821 364h2.5M854 377h2.5M879 348h2.5M858 287h2.5M888 325h2.5M823 263h2.5M854 311h2.5M908 358h2.5M883 288h2.5M751 391h2.5M763 308h2.5M880 269h2.5M888 320h2.5M894 321h2.5M828 342h2.5M881 300h2.5M800 291h2.5M683 317h2.5M793 316h2.5M883 347h2.5M890 336h2.5M834 390h2.5M788 304h2.5M856 303h2.5M926 277h2.5M875 289h2.5M753 297h2.5M889 360h2.5M894 398h2.5M865 372h2.5M809 292h2.5M899 283h2.5M792 277h2.5M846 297h2.5M814 322h2.5M869 289h2.5M870 388h2.5M833 370h2.5M871 303h2.5M802 375h2.5M868 315h2.5M911 305h2.5M891 337h2.5M771 356h2.5M872 356h2.5M894 281h2.5M841 263h2.5M814 401h2.5M820 391h2.5M818 391h2.5M884 288h2.5M876 297h2.5M819 285h2.5M906 296h2.5M882 375h2.5M879 298h2.5M906 297h2.5M860 370h2.5M868 375h2.5M750 384h2.5M852 329h2.5M902 278h2.5M824 301h2.5M879 363h2.5M772 358h2.5M795 373h2.5M916 403h2.5M854 403h2.5M884 335h2.5M850 340h2.5M889 376h2.5M788 382h2.5M899 270h2.5M867 385h2.5M854 389h2.5M870 261h2.5M891 389h2.5M793 345h2.5M878 285h2.5M767 309h2.5M860 371h2.5M815 334h2.5M767 287h2.5M871 376h2.5M850 327h2.5M894 375h2.5M864 302h2.5M889 376h2.5M895 351h2.5M830 386h2.5M866 343h2.5M901 267h2.5M896 404h2.5M850 327h2.5M780 298h2.5M850 393h2.5M875 264h2.5M858 271h2.5M868 339h2.5M884 287h2.5M900 314h2.5M893 328h2.5M889 362h2.5M907 307h2.5M872 370h2.5M891 284h2.5M894 383h2.5M843 302h2.5M882 312h2.5M809 285h2.5M892 391h2.5M873 363h2.5M917 361h2.5M860 368h2.5M787 361h2.5M849 350h2.5M810 387h2.5M904 372h2.5M713 357h2.5M880 304h2.5M857 355h2.5M893 369h2.5M904 296h2.5M907 388h2.5M912 329h2.5M912 406h2.5M881 317h2.5M895 288h2.5M881 324h2.5M877 322h2.5M909 300h2.5M886 292h2.5M808 364h2.5M860 375h2.5M815 355h2.5M807 295h2.5M875 287h2.5M895 298h2.5M727 383h2.5M827 408h2.5M913 358h2.5M885 330h2.5M874 359h2.5M888 262h2.5M855 308h2.5M888 355h2.5M843 378h2.5M810 316h2.5M913 324h2.5M851 317h2.5M869 327h2.5M795 284h2.5M819 290h2.5M860 334h2.5M889 321h2.5M872 326h2.5M860 296h2.5M770 266h2.5M876 285h2.5M892 281h2.5M903 302h2.5M892 352h2.5M915 334h2.5M769 403h2.5M844 358h2.5M750 374h2.5M875 339h2.5M858 349h2.5M823 389h2.5M808 373h2.5M839 287h2.5M863 264h2.5M800 327h2.5M881 353h2.5M888 395h2.5M901 288h2.5M870 355h2.5M882 395h2.5M895 271h2.5M864 336h2.5M850 265h2.5M855 275h2.5M886 273h2.5M894 372h2.5M849 330h2.5M832 391h2.5M849 370h2.5M761 275h2.5M812 405h2.5M877 289h2.5M891 399h2.5M797 343h2.5M866 351h2.5M879 281h2.5M884 298h2.5M873 331h2.5M906 334h2.5M794 395h2.5M747 331h2.5M891 382h2.5M881 260h2.5M867 369h2.5M862 336h2.5M869 288h2.5M819 345h2.5M867 300h2.5M834 378h2.5M818 286h2.5M839 341h2.5M895 374h2.5M894 325h2.5M874 347h2.5M869 394h2.5M824 345h2.5M807 375h2.5M907 283h2.5M859 341h2.5M858 387h2.5M873 314h2.5M893 264h2.5M896 315h2.5M868 288h2.5M860 286h2.5M904 310h2.5M691 405h2.5M861 271h2.5M794 312h2.5M875 392h2.5M794 277h2.5M795 409h2.5M845 287h2.5M853 330h2.5M859 293h2.5M852 276h2.5M835 352h2.5M866 394h2.5M680 387h2.5M879 340h2.5M873 375h2.5M797 329h2.5M736 331h2.5M816 311h2.5M855 374h2.5M882 263h2.5M864 271h2.5M755 358h2.5M883 377h2.5M886 331h2.5M807 362h2.5M856 377h2.5M866 335h2.5M806 336h2.5M763 366h2.5M862 404h2.5M891 381h2.5M869 291h2.5M872 333h2.5M734 323h2.5M879 304h2.5M845 349h2.5M898 291h2.5M886 260h2.5M882 277h2.5M896 274h2.5M896 376h2.5M884 387h2.5M841 378h2.5M883 387h2.5M884 261h2.5M864 334h2.5M899 314h2.5M904 297h2.5M881 283h2.5M887 317h2.5M809 289h2.5M826 352h2.5M849 390h2.5M771 312h2.5M878 386h2.5M892 372h2.5M891 334h2.5M709 378h2.5M885 406h2.5M852 342h2.5M857 282h2.5M896 336h2.5M868 373h2.5M802 295h2.5M857 279h2.5M856 260h2.5M875 308h2.5M780 401h2.5M893 347h2.5M896 333h2.5M857 390h2.5M896 375h2.5M898 337h2.5M787 355h2.5M860 333h2.5M769 273h2.5M862 332h2.5M815 305h2.5M854 408h2.5M834 368h2.5M811 400h2.5M840 315h2.5M899 297h2.5M869 311h2.5M810 331h2.5M808 309h2.5M851 295h2.5M892 263h2.5M797 320h2.5M880 317h2.5M835 335h2.5M840 382h2.5M872 321h2.5M783 332h2.5M855 395h2.5M891 395h2.5M880 282h2.5M810 352h2.5M890 262h2.5M814 299h2.5M894 392h2.5M898 376h2.5M905 372h2.5M901 365h2.5M883 350h2.5M861 315h2.5M780 272h2.5M878 341h2.5M903 294h2.5M881 322h2.5M867 304h2.5M846 353h2.5M887 298h2.5M891 278h2.5M902 363h2.5M883 395h2.5M873 404h2.5M806 328h2.5M883 297h2.5M831 290h2.5M889 375h2.5M758 291h2.5M916 338h2.5M852 403h2.5M884 384h2.5M801 325h2.5M898 387h2.5M886 312h2.5M885 377h2.5M812 376h2.5M807 348h2.5M856 320h2.5M899 390h2.5M908 312h2.5M863 275h2.5M875 353h2.5M881 325h2.5M833 264h2.5M810 271h2.5M840 263h2.5M831 383h2.5M880 392h2.5M841 396h2.5M798 299h2.5M896 261h2.5M811 392h2.5M879 275h2.5M749 323h2.5M891 380h2.5M785 311h2.5M905 345h2.5M911 294h2.5M778 317h2.5M897 335h2.5M866 305h2.5M873 374h2.5M854 303h2.5M839 365h2.5M867 260h2.5M805 345h2.5M883 319h2.5M891 390h2.5M853 279h2.5M882 300h2.5M895 349h2.5M798 392h2.5M853 369h2.5M898 317h2.5M775 375h2.5M929 281h2.5M866 301h2.5M883 389h2.5M871 345h2.5M831 379h2.5M882 364h2.5M786 279h2.5M890 285h2.5M876 267h2.5M797 319h2.5M878 364h2.5M883 270h2.5M841 295h2.5M841 319h2.5M836 269h2.5M862 407h2.5M873 294h2.5M893 325h2.5M873 265h2.5M841 365h2.5M869 271h2.5M871 401h2.5M889 324h2.5M838 297h2.5M889 319h2.5M882 385h2.5M866 307h2.5M871 332h2.5M837 387h2.5M875 363h2.5M873 310h2.5M811 385h2.5M681 378h2.5M746 386h2.5M892 345h2.5M893 274h2.5M900 371h2.5M874 337h2.5M829 273h2.5M875 355h2.5M833 269h2.5M903 321h2.5M893 314h2.5M881 343h2.5M900 279h2.5M839 368h2.5M898 296h2.5M891 309h2.5M890 296h2.5M863 335h2.5M871 290h2.5M873 373h2.5M874 264h2.5M887 289h2.5M862 326h2.5M814 358h2.5M855 293h2.5M850 360h2.5M845 383h2.5M897 343h2.5M825 333h2.5M874 326h2.5M776 360h2.5M875 284h2.5M907 268h2.5M891 365h2.5M888 295h2.5M831 305h2.5M852 317h2.5M886 365h2.5M848 377h2.5M889 338h2.5M803 335h2.5M896 293h2.5M870 356h2.5M865 293h2.5M903 340h2.5M864 303h2.5M850 284h2.5M874 390h2.5M857 373h2.5M821 332h2.5M894 365h2.5M899 359h2.5M892 409h2.5M786 328h2.5M893 335h2.5M867 398h2.5M791 268h2.5M875 314h2.5M893 350h2.5M897 329h2.5M892 359h2.5M863 397h2.5M831 291h2.5M879 373h2.5M824 385h2.5M825 402h2.5M877 310h2.5M851 335h2.5M880 400h2.5M897 367h2.5M869 295h2.5M834 351h2.5M854 373h2.5M880 335h2.5M853 382h2.5M885 331h2.5M721 384h2.5M903 286h2.5M863 331h2.5M890 351h2.5M859 372h2.5M840 333h2.5M889 304h2.5M833 346h2.5M912 352h2.5M864 318h2.5M847 362h2.5M879 314h2.5M901 407h2.5M849 325h2.5M860 360h2.5M832 386h2.5M798 335h2.5M893 367h2.5M810 285h2.5M859 274h2.5M780 311h2.5M869 270h2.5M794 381h2.5M894 280h2.5M867 401h2.5M781 371h2.5M852 332h2.5M886 269h2.5M851 332h2.5M821 335h2.5M847 361h2.5M870 274h2.5M853 367h2.5M771 372h2.5M864 284h2.5M881 404h2.5M902 294h2.5M864 301h2.5M834 301h2.5M868 378h2.5M876 287h2.5M882 339h2.5M836 387h2.5M882 296h2.5M897 348h2.5M898 329h2.5M895 279h2.5M860 315h2.5M780 326h2.5M870 329h2.5M874 286h2.5M900 289h2.5M877 382h2.5M856 371h2.5M891 306h2.5M879 370h2.5M868 334h2.5M911 276h2.5M802 310h2.5M864 275h2.5M874 265h2.5M806 343h2.5M773 363h2.5M802 363h2.5M847 391h2.5M855 262h2.5M815 269h2.5M791 270h2.5M913 407h2.5M828 407h2.5M889 344h2.5M838 356h2.5M813 373h2.5M888 310h2.5M790 384h2.5M897 299h2.5M850 346h2.5M913 386h2.5M783 337h2.5M881 351h2.5M885 374h2.5M873 334h2.5M872 352h2.5M891 300h2.5M919 280h2.5M858 345h2.5M866 405h2.5M867 406h2.5M878 364h2.5M775 390h2.5M883 298h2.5M886 361h2.5M877 263h2.5M886 360h2.5M897 384h2.5M790 338h2.5M781 404h2.5M876 271h2.5M892 358h2.5M885 327h2.5M918 286h2.5M829 287h2.5M898 290h2.5M886 267h2.5M896 403h2.5M797 295h2.5M679 331h2.5M830 321h2.5M832 316h2.5M856 302h2.5M888 344h2.5M897 373h2.5M896 333h2.5M871 398h2.5M870 291h2.5M885 293h2.5M898 403h2.5M856 378h2.5M858 398h2.5M798 368h2.5M925 293h2.5M839 320h2.5M856 393h2.5M902 403h2.5M897 332h2.5M860 388h2.5M874 400h2.5M813 345h2.5M900 328h2.5M867 347h2.5M862 283h2.5M876 315h2.5M868 379h2.5M860 270h2.5M865 337h2.5M883 313h2.5M880 278h2.5M865 312h2.5M871 389h2.5M884 267h2.5M776 353h2.5M879 266h2.5M762 359h2.5M878 286h2.5M763 364h2.5M905 393h2.5M877 376h2.5M865 341h2.5M846 261h2.5M891 359h2.5M871 316h2.5M876 357h2.5M699 328h2.5M880 341h2.5M891 271h2.5M806 315h2.5M888 301h2.5M859 323h2.5M838 336h2.5M870 339h2.5M876 295h2.5M906 280h2.5M906 342h2.5M813 313h2.5M810 353h2.5M878 261h2.5M904 395h2.5M855 303h2.5M680 371h2.5M847 405h2.5M836 377h2.5M905 334h2.5M841 315h2.5M787 263h2.5M884 387h2.5M825 283h2.5M879 306h2.5M865 316h2.5M837 406h2.5M804 376h2.5M883 309h2.5M886 293h2.5M894 305h2.5M731 359h2.5M865 297h2.5M890 288h2.5M899 403h2.5M867 261h2.5M875 382h2.5M754 395h2.5M881 366h2.5M886 382h2.5M753 369h2.5M709 328h2.5M820 261h2.5M845 342h2.5M905 406h2.5M874 302h2.5M910 380h2.5M824 299h2.5M887 308h2.5M799 348h2.5M859 387h2.5M895 276h2.5M913 357h2.5M806 363h2.5M853 282h2.5M861 373h2.5M870 298h2.5M906 266h2.5M908 313h2.5M902 377h2.5M856 350h2.5M902 389h2.5M898 302h2.5M886 275h2.5M877 366h2.5M910 326h2.5M860 406h2.5M839 356h2.5M769 305h2.5M772 359h2.5M893 316h2.5M783 341h2.5M867 319h2.5M873 358h2.5M912 356h2.5M883 319h2.5M880 355h2.5M859 383h2.5M908 263h2.5M829 347h2.5M894 367h2.5M873 403h2.5M869 369h2.5M892 381h2.5M723 345h2.5M856 393h2.5M878 378h2.5M890 345h2.5M817 300h2.5M911 275h2.5M864 399h2.5M865 291h2.5M884 362h2.5M868 403h2.5M806 370h2.5M853 284h2.5M868 327h2.5M847 295h2.5M894 314h2.5M888 289h2.5M821 363h2.5M888 375h2.5M881 406h2.5M845 260h2.5M826 337h2.5M821 352h2.5M827 399h2.5M886 300h2.5M895 296h2.5M886 320h2.5M786 359h2.5M791 290h2.5M861 362h2.5M840 298h2.5M872 329h2.5M829 302h2.5M872 354h2.5M905 375h2.5M833 406h2.5M870 291h2.5M812 359h2.5M805 378h2.5M866 397h2.5M853 356h2.5M855 325h2.5M911 293h2.5M864 314h2.5M844 270h2.5M861 264h2.5M874 363h2.5M862 273h2.5M867 399h2.5M859 300h2.5M823 372h2.5M876 325h2.5M901 367h2.5M870 264h2.5M780 350h2.5M881 360h2.5M850 322h2.5M841 309h2.5M862 390h2.5M857 396h2.5M872 260h2.5M867 282h2.5M896 277h2.5M854 304h2.5M872 364h2.5M860 303h2.5M894 310h2.5M851 359h2.5M923 363h2.5M884 321h2.5M867 370h2.5M888 332h2.5M903 395h2.5M895 346h2.5M719 374h2.5M858 398h2.5M886 388h2.5M878 399h2.5M807 265h2.5M868 293h2.5M895 357h2.5M903 382h2.5M811 392h2.5M850 361h2.5M915 402h2.5M891 366h2.5M859 270h2.5M845 303h2.5M854 317h2.5M834 338h2.5M688 381h2.5M792 385h2.5M883 358h2.5M878 302h2.5M896 283h2.5M884 340h2.5M887 307h2.5M851 330h2.5M896 377h2.5M855 287h2.5M844 333h2.5M865 371h2.5M878 330h2.5M874 346h2.5M812 379h2.5M869 320h2.5M894 331h2.5M902 292h2.5M910 367h2.5M818 370h2.5M863 304h2.5M849 353h2.5M917 371h2.5M874 380h2.5M850 385h2.5M904 346h2.5M850 357h2.5M861 376h2.5M873 376h2.5M824 388h2.5M884 385h2.5M799 364h2.5M871 358h2.5M890 293h2.5M873 314h2.5M882 301h2.5M897 384h2.5M900 326h2.5M868 296h2.5M813 336h2.5M884 362h2.5M868 268h2.5M897 299h2.5M874 359h2.5M806 280h2.5M856 395h2.5M905 269h2.5M793 394h2.5M881 381h2.5M848 321h2.5M882 313h2.5M907 268h2.5M869 295h2.5M852 281h2.5M864 325h2.5M870 355h2.5M881 296h2.5M813 280h2.5M880 326h2.5M905 402h2.5M871 334h2.5M893 273h2.5M892 323h2.5M867 292h2.5M873 336h2.5M869 266h2.5M904 335h2.5M889 359h2.5M878 313h2.5M730 337h2.5M876 357h2.5M871 343h2.5M874 262h2.5M870 400h2.5M867 398h2.5M892 286h2.5M748 370h2.5M876 346h2.5M889 389h2.5M826 327h2.5M777 387h2.5M909 312h2.5M888 330h2.5M872 325h2.5M869 389h2.5M881 352h2.5M820 365h2.5M889 386h2.5M865 406h2.5M900 384h2.5M904 282h2.5M898 385h2.5M861 317h2.5M837 341h2.5M894 354h2.5M860 284h2.5M857 321h2.5M889 344h2.5M886 321h2.5M822 404h2.5M871 364h2.5M892 353h2.5M887 279h2.5M861 264h2.5M815 348h2.5M854 355h2.5M879 299h2.5M857 399h2.5M810 353h2.5M873 289h2.5M882 296h2.5M875 260h2.5M796 333h2.5M894 387h2.5M693 393h2.5M861 364h2.5M849 259h2.5M924 377h2.5M875 389h2.5M877 322h2.5M885 389h2.5M890 343h2.5M878 304h2.5M906 384h2.5M854 346h2.5M880 360h2.5M820 358h2.5M866 407h2.5M850 265h2.5M768 279h2.5M864 363h2.5M853 301h2.5M888 351h2.5M870 348h2.5M851 403h2.5M885 320h2.5M878 274h2.5M874 340h2.5M881 393h2.5M836 384h2.5M844 288h2.5M877 342h2.5M870 339h2.5M900 393h2.5M866 343h2.5M858 380h2.5M780 386h2.5M878 267h2.5M888 379h2.5M782 375h2.5M866 304h2.5M902 381h2.5M903 381h2.5M866 393h2.5M870 287h2.5M854 264h2.5M869 292h2.5M901 351h2.5M891 282h2.5M876 308h2.5M838 366h2.5M813 339h2.5M885 376h2.5M868 263h2.5M887 408h2.5M867 404h2.5M858 294h2.5M848 396h2.5M865 262h2.5M916 344h2.5M894 334h2.5M912 362h2.5M882 273h2.5M843 368h2.5M868 380h2.5M895 375h2.5M878 259h2.5M863 340h2.5M827 358h2.5M851 284h2.5M835 408h2.5M871 297h2.5M823 261h2.5M826 338h2.5M881 381h2.5M853 370h2.5M878 370h2.5M902 336h2.5M904 360h2.5M830 331h2.5M880 297h2.5M908 309h2.5M847 401h2.5M885 332h2.5M871 359h2.5M872 368h2.5M870 305h2.5M807 325h2.5M858 279h2.5M860 325h2.5M874 320h2.5M858 335h2.5M890 380h2.5M835 363h2.5M862 303h2.5M844 392h2.5M869 262h2.5M798 360h2.5M925 370h2.5M807 284h2.5M850 294h2.5M712 346h2.5M863 281h2.5M884 383h2.5M887 354h2.5M879 297h2.5M765 268h2.5M842 389h2.5M895 265h2.5M788 307h2.5M847 366h2.5M861 362h2.5M881 265h2.5M749 265h2.5M883 287h2.5M873 304h2.5M878 403h2.5M792 303h2.5M857 310h2.5M848 325h2.5M880 286h2.5M856 333h2.5M814 404h2.5M858 388h2.5M858 290h2.5M895 331h2.5M880 336h2.5M898 337h2.5M856 408h2.5M784 271h2.5M791 350h2.5M776 278h2.5M727 260h2.5M918 325h2.5M895 279h2.5M854 376h2.5M818 389h2.5M876 260h2.5M888 360h2.5M871 364h2.5M856 357h2.5M874 348h2.5M883 328h2.5M849 390h2.5M832 263h2.5M875 403h2.5M891 404h2.5M883 301h2.5M863 384h2.5M878 386h2.5M843 387h2.5M849 291h2.5M900 370h2.5M861 335h2.5M857 321h2.5M795 406h2.5M778 328h2.5M854 384h2.5M867 338h2.5M887 392h2.5M749 330h2.5M806 401h2.5M883 395h2.5M831 344h2.5M873 353h2.5M860 295h2.5M865 273h2.5M907 337h2.5M878 348h2.5M788 346h2.5M869 376h2.5M807 378h2.5M904 354h2.5M860 333h2.5M919 280h2.5M881 339h2.5M891 330h2.5M731 264h2.5M866 347h2.5M868 356h2.5M845 340h2.5M876 358h2.5M851 380h2.5M885 264h2.5M855 264h2.5M874 274h2.5M886 267h2.5M877 300h2.5M901 301h2.5M871 343h2.5M833 372h2.5M891 316h2.5M859 364h2.5M849 319h2.5M817 399h2.5M884 386h2.5M780 327h2.5M866 318h2.5M855 361h2.5M868 330h2.5M866 337h2.5M865 387h2.5M766 392h2.5M888 297h2.5M825 370h2.5M802 384h2.5M892 402h2.5M892 358h2.5M888 273h2.5M881 380h2.5M870 388h2.5M887 371h2.5M884 297h2.5M814 292h2.5M800 362h2.5M784 366h2.5M747 267h2.5M894 293h2.5M920 370h2.5M900 284h2.5M880 263h2.5M740 346h2.5M886 278h2.5M818 273h2.5M834 399h2.5M804 274h2.5M887 362h2.5M873 369h2.5M875 337h2.5M870 378h2.5M888 284h2.5M889 360h2.5M874 290h2.5M885 322h2.5M885 282h2.5M877 324h2.5M768 379h2.5M885 351h2.5M870 339h2.5M860 299h2.5M807 291h2.5M876 274h2.5M885 354h2.5M906 368h2.5M844 341h2.5M789 338h2.5M858 327h2.5M857 391h2.5M876 278h2.5M860 403h2.5M884 384h2.5M905 300h2.5M870 386h2.5M867 262h2.5M904 344h2.5M879 279h2.5M894 399h2.5M807 335h2.5M870 284h2.5M860 391h2.5M902 271h2.5M797 394h2.5M822 342h2.5M877 395h2.5M882 340h2.5M815 392h2.5M897 294h2.5M789 329h2.5M888 396h2.5M898 280h2.5M850 328h2.5M850 404h2.5M882 283h2.5M887 359h2.5M868 322h2.5M859 408h2.5M877 266h2.5M788 355h2.5M889 402h2.5M887 376h2.5M845 384h2.5M846 328h2.5M908 346h2.5M856 394h2.5M864 360h2.5M804 366h2.5M875 386h2.5M797 360h2.5M867 382h2.5M777 387h2.5M890 333h2.5M873 320h2.5M727 354h2.5M884 289h2.5M851 304h2.5M889 267h2.5M882 305h2.5M831 268h2.5M807 274h2.5M788 317h2.5M873 404h2.5M859 347h2.5M887 382h2.5M900 394h2.5M872 273h2.5M870 276h2.5M856 347h2.5M857 392h2.5M834 332h2.5M831 355h2.5M877 343h2.5M857 271h2.5M885 330h2.5M831 388h2.5M905 400h2.5M878 352h2.5M884 329h2.5M877 371h2.5M875 383h2.5M884 336h2.5M861 273h2.5M862 293h2.5M790 381h2.5M913 353h2.5M907 292h2.5M834 353h2.5M887 323h2.5M872 309h2.5M883 277h2.5M902 326h2.5M861 328h2.5M704 400h2.5M863 307h2.5M872 352h2.5M789 405h2.5M871 268h2.5M817 342h2.5M825 360h2.5M791 408h2.5M879 374h2.5M899 269h2.5M879 261h2.5M892 327h2.5M922 373h2.5M850 386h2.5M906 306h2.5M784 310h2.5M893 310h2.5M852 317h2.5M830 373h2.5M770 265h2.5M847 313h2.5M867 261h2.5M850 364h2.5M796 343h2.5M877 380h2.5M896 342h2.5M860 392h2.5M852 272h2.5M828 315h2.5M886 345h2.5M813 311h2.5M916 371h2.5M895 327h2.5M889 383h2.5M836 355h2.5M899 360h2.5M841 323h2.5M847 390h2.5M880 283h2.5M827 286h2.5M880 369h2.5M777 277h2.5M885 391h2.5M870 375h2.5M853 273h2.5M882 271h2.5M860 371h2.5M908 278h2.5M808 329h2.5M766 394h2.5M903 360h2.5M873 267h2.5M884 281h2.5M889 347h2.5M831 318h2.5M896 288h2.5M873 340h2.5M804 329h2.5M885 334h2.5M803 392h2.5M863 393h2.5M854 397h2.5M812 328h2.5M765 331h2.5M898 353h2.5M874 314h2.5M847 377h2.5M894 259h2.5M855 283h2.5M894 380h2.5M869 289h2.5M873 285h2.5M825 347h2.5M845 294h2.5M897 325h2.5M840 401h2.5M862 398h2.5M877 375h2.5M875 302h2.5M920 328h2.5M879 295h2.5M868 295h2.5M902 275h2.5M894 358h2.5M880 397h2.5M878 348h2.5M890 271h2.5M896 360h2.5M822 341h2.5M877 393h2.5M783 351h2.5M862 338h2.5M883 363h2.5M891 356h2.5M916 330h2.5M890 296h2.5M854 402h2.5M780 375h2.5M835 303h2.5M892 327h2.5M890 277h2.5M858 362h2.5M872 316h2.5M894 290h2.5M891 407h2.5M898 359h2.5M904 378h2.5M889 286h2.5M875 391h2.5M796 323h2.5M834 389h2.5M919 283h2.5M870 366h2.5M889 380h2.5M736 341h2.5M887 330h2.5M913 327h2.5M861 259h2.5M888 267h2.5M855 340h2.5M886 291h2.5M815 346h2.5M784 274h2.5M872 324h2.5M875 338h2.5M861 342h2.5M868 303h2.5M862 305h2.5M870 361h2.5M872 321h2.5M825 382h2.5M893 297h2.5M865 319h2.5M780 344h2.5M884 281h2.5M890 299h2.5M803 357h2.5M868 351h2.5M871 373h2.5M856 270h2.5M903 271h2.5M860 403h2.5M876 325h2.5M872 400h2.5M877 309h2.5M870 274h2.5M834 357h2.5M866 299h2.5M843 392h2.5M876 287h2.5M857 335h2.5M902 390h2.5M850 391h2.5M872 259h2.5M848 289h2.5M873 407h2.5M849 356h2.5M881 261h2.5M869 265h2.5M870 277h2.5M899 407h2.5M880 331h2.5M877 355h2.5M761 361h2.5M746 373h2.5M892 354h2.5M901 351h2.5M825 325h2.5M882 307h2.5M881 348h2.5M882 268h2.5M790 358h2.5M887 294h2.5M819 275h2.5M869 333h2.5M899 334h2.5M889 388h2.5M873 340h2.5M874 389h2.5M922 356h2.5M852 305h2.5M871 402h2.5M872 364h2.5M842 347h2.5M811 350h2.5M909 343h2.5M865 295h2.5M875 287h2.5M857 378h2.5M883 318h2.5M780 320h2.5M873 289h2.5M882 328h2.5M870 271h2.5M886 346h2.5M893 347h2.5M682 370h2.5M787 372h2.5M886 266h2.5M872 317h2.5M792 406h2.5M842 363h2.5M853 289h2.5M878 394h2.5M842 384h2.5M897 395h2.5M893 371h2.5M851 264h2.5M784 397h2.5M877 371h2.5M676 265h2.5M874 352h2.5M916 390h2.5M848 316h2.5M877 376h2.5M802 380h2.5M898 283h2.5M883 300h2.5M860 370h2.5M900 372h2.5M750 325h2.5M908 268h2.5M883 284h2.5M881 290h2.5M870 320h2.5M875 358h2.5M906 390h2.5M862 377h2.5M885 403h2.5M908 293h2.5M895 380h2.5M846 276h2.5M874 367h2.5M825 335h2.5M881 303h2.5M861 271h2.5M880 393h2.5M859 357h2.5M771 398h2.5M815 276h2.5M896 363h2.5M891 329h2.5" stroke="#90ADD5" stroke-width="2.5"/>
<rect x="304.5" y="122.5" width="170" height="89" fill="none" stroke="#444" stroke-width="1.1"/>
<line x1="325.5" y1="211.8" x2="325.5" y2="208.4" stroke="#444" stroke-width="1" />
<line x1="357.5" y1="211.8" x2="357.5" y2="208.4" stroke="#444" stroke-width="1" />
<line x1="388.5" y1="211.8" x2="388.5" y2="208.4" stroke="#444" stroke-width="1" />
<line x1="420.5" y1="211.8" x2="420.5" y2="208.4" stroke="#444" stroke-width="1" />
<line x1="452.5" y1="211.8" x2="452.5" y2="208.4" stroke="#444" stroke-width="1" />
<line x1="439.8" y1="229.5" x2="439.8" y2="305.4" stroke="#2f6b60" stroke-width="1.9" />
<path transform="scale(0.5)" d="M797 609h2.5M876 542h2.5M811 579h2.5M872 480h2.5M843 508h2.5M860 498h2.5M760 547h2.5M763 510h2.5M877 561h2.5M860 542h2.5M856 556h2.5M808 519h2.5M856 603h2.5M851 561h2.5M887 573h2.5M880 573h2.5M862 533h2.5M776 602h2.5M904 491h2.5M869 603h2.5M805 594h2.5M887 517h2.5M875 546h2.5M861 591h2.5M880 560h2.5M884 492h2.5M845 549h2.5M874 571h2.5M884 504h2.5M855 577h2.5M880 467h2.5M860 588h2.5M790 494h2.5M897 581h2.5M881 587h2.5M870 491h2.5M895 516h2.5M872 517h2.5M880 556h2.5M875 493h2.5M885 502h2.5M896 564h2.5M865 568h2.5M861 580h2.5M884 463h2.5M825 605h2.5M873 596h2.5M828 535h2.5M809 478h2.5M883 545h2.5M911 523h2.5M860 572h2.5M841 551h2.5M870 553h2.5M873 534h2.5M893 608h2.5M880 487h2.5M864 604h2.5M892 501h2.5M844 572h2.5M885 475h2.5M845 593h2.5M786 548h2.5M890 473h2.5M856 558h2.5M886 550h2.5M885 587h2.5M876 462h2.5M827 482h2.5M899 558h2.5M794 546h2.5M881 565h2.5M869 586h2.5M865 609h2.5M795 583h2.5M733 521h2.5M877 543h2.5M894 528h2.5M880 533h2.5M871 554h2.5M836 580h2.5M898 589h2.5M862 583h2.5M879 580h2.5M884 575h2.5M884 590h2.5M874 601h2.5M841 598h2.5M781 477h2.5M846 502h2.5M832 474h2.5M809 532h2.5M807 586h2.5M867 592h2.5M888 579h2.5M802 586h2.5M857 564h2.5M863 517h2.5M867 558h2.5M903 509h2.5M824 599h2.5M892 563h2.5M905 539h2.5M798 596h2.5M862 579h2.5M757 550h2.5M829 489h2.5M843 598h2.5M802 510h2.5M805 531h2.5M857 515h2.5M891 547h2.5M797 540h2.5M823 606h2.5M889 545h2.5M865 522h2.5M862 491h2.5M858 580h2.5M901 504h2.5M883 496h2.5M892 564h2.5M852 572h2.5M907 469h2.5M880 473h2.5M893 559h2.5M838 502h2.5M912 599h2.5M899 586h2.5M823 567h2.5M849 487h2.5M674 587h2.5M884 591h2.5M870 522h2.5M765 535h2.5M870 606h2.5M909 561h2.5M858 604h2.5M883 549h2.5M873 490h2.5M857 572h2.5M892 482h2.5M887 527h2.5M891 522h2.5M867 478h2.5M817 542h2.5M857 597h2.5M907 475h2.5M880 571h2.5M821 510h2.5M886 501h2.5M795 538h2.5M876 560h2.5M805 555h2.5M809 547h2.5M880 508h2.5M874 553h2.5M861 604h2.5M873 521h2.5M851 546h2.5M893 608h2.5M873 479h2.5M891 575h2.5M893 467h2.5M813 507h2.5M813 591h2.5M888 580h2.5M856 555h2.5M708 486h2.5M811 465h2.5M870 588h2.5M878 539h2.5M875 562h2.5M901 591h2.5M859 576h2.5M863 481h2.5M883 506h2.5M728 595h2.5M888 495h2.5M791 474h2.5M868 555h2.5M793 571h2.5M877 498h2.5M885 519h2.5M783 606h2.5M877 474h2.5M899 491h2.5M826 569h2.5M864 601h2.5M862 518h2.5M832 592h2.5M870 492h2.5M869 570h2.5M889 544h2.5M902 529h2.5M802 584h2.5M913 480h2.5M871 496h2.5M912 492h2.5M873 572h2.5M751 593h2.5M869 600h2.5M845 588h2.5M867 462h2.5M866 562h2.5M868 607h2.5M847 515h2.5M891 535h2.5M915 572h2.5M674 520h2.5M838 600h2.5M731 574h2.5M863 476h2.5M908 511h2.5M806 572h2.5M825 567h2.5M848 527h2.5M868 529h2.5M805 585h2.5M864 598h2.5M917 593h2.5M809 603h2.5M817 485h2.5M881 487h2.5M888 534h2.5M916 580h2.5M891 606h2.5M849 505h2.5M866 607h2.5M874 528h2.5M889 583h2.5M870 555h2.5M839 537h2.5M882 566h2.5M878 608h2.5M780 483h2.5M881 537h2.5M874 554h2.5M847 576h2.5M876 589h2.5M874 495h2.5M860 551h2.5M861 581h2.5M881 582h2.5M752 475h2.5M832 550h2.5M889 485h2.5M891 544h2.5M923 572h2.5M907 591h2.5M890 526h2.5M895 596h2.5M865 609h2.5M878 553h2.5M799 497h2.5M829 546h2.5M881 470h2.5M880 604h2.5M843 492h2.5M738 567h2.5M852 485h2.5M883 521h2.5M797 570h2.5M902 543h2.5M872 512h2.5M888 466h2.5M849 587h2.5M881 462h2.5M891 497h2.5M805 591h2.5M812 557h2.5M882 485h2.5M856 535h2.5M782 585h2.5M810 501h2.5M871 491h2.5M906 595h2.5M867 545h2.5M825 573h2.5M893 588h2.5M868 522h2.5M808 553h2.5M881 594h2.5M892 517h2.5M891 594h2.5M840 488h2.5M887 475h2.5M881 545h2.5M891 554h2.5M858 489h2.5M866 608h2.5M700 604h2.5M902 497h2.5M917 595h2.5M851 526h2.5M876 468h2.5M812 537h2.5M826 573h2.5M799 558h2.5M883 465h2.5M869 544h2.5M867 488h2.5M824 464h2.5M904 483h2.5M880 608h2.5M865 561h2.5M787 569h2.5M895 592h2.5M874 473h2.5M858 517h2.5M839 573h2.5M794 568h2.5M864 569h2.5M907 541h2.5M853 496h2.5M897 506h2.5M748 566h2.5M865 521h2.5M893 491h2.5M893 539h2.5M867 599h2.5M866 480h2.5M886 508h2.5M856 602h2.5M883 608h2.5M886 522h2.5M789 595h2.5M877 603h2.5M820 511h2.5M880 498h2.5M902 524h2.5M867 593h2.5M897 475h2.5M883 485h2.5M897 472h2.5M880 527h2.5M904 527h2.5M867 496h2.5M862 464h2.5M751 510h2.5M816 604h2.5M929 542h2.5M871 467h2.5M889 594h2.5M883 491h2.5M871 526h2.5M872 593h2.5M833 551h2.5M840 605h2.5M897 601h2.5M812 560h2.5M887 588h2.5M857 549h2.5M916 552h2.5M873 484h2.5M882 539h2.5M867 560h2.5M867 474h2.5M790 566h2.5M757 496h2.5M891 469h2.5M920 554h2.5M870 571h2.5M881 478h2.5M812 477h2.5M899 462h2.5M855 573h2.5M918 608h2.5M860 464h2.5M792 484h2.5M814 539h2.5M921 562h2.5M840 564h2.5M825 603h2.5M872 602h2.5M797 487h2.5M894 569h2.5M868 583h2.5M866 515h2.5M903 548h2.5M870 525h2.5M825 562h2.5M845 550h2.5M884 586h2.5M863 572h2.5M888 606h2.5M789 592h2.5M820 508h2.5M888 540h2.5M858 557h2.5M842 550h2.5M884 514h2.5M880 541h2.5M897 545h2.5M888 464h2.5M835 545h2.5M770 610h2.5M864 486h2.5M872 585h2.5M814 601h2.5M834 526h2.5M787 494h2.5M907 564h2.5M897 495h2.5M789 562h2.5M756 491h2.5M844 597h2.5M774 469h2.5M833 587h2.5M846 599h2.5M696 565h2.5M878 564h2.5M797 551h2.5M887 464h2.5M904 500h2.5M790 516h2.5M863 527h2.5M877 491h2.5M882 596h2.5M817 582h2.5M813 584h2.5M896 466h2.5M847 490h2.5M881 568h2.5M810 514h2.5M892 570h2.5M881 544h2.5M880 514h2.5M813 594h2.5M906 482h2.5M910 571h2.5M810 539h2.5M852 514h2.5M872 529h2.5M902 556h2.5M865 562h2.5M800 531h2.5M820 592h2.5M885 584h2.5M767 573h2.5M854 544h2.5M892 520h2.5M787 484h2.5M813 467h2.5M683 559h2.5M870 461h2.5M914 522h2.5M883 577h2.5M874 599h2.5M890 505h2.5M899 469h2.5M887 608h2.5M887 541h2.5M839 533h2.5M890 512h2.5M857 547h2.5M901 607h2.5M903 501h2.5M859 597h2.5M881 526h2.5M871 607h2.5M861 515h2.5M783 602h2.5M859 545h2.5M804 534h2.5M917 575h2.5M802 522h2.5M791 599h2.5M885 494h2.5M888 539h2.5M867 577h2.5M850 581h2.5M806 489h2.5M863 550h2.5M879 505h2.5M854 581h2.5M848 552h2.5M865 486h2.5M881 512h2.5M833 609h2.5M878 464h2.5M839 544h2.5M890 486h2.5M883 475h2.5M871 591h2.5M791 533h2.5M824 605h2.5M897 501h2.5M803 562h2.5M793 507h2.5M754 533h2.5M904 606h2.5M821 466h2.5M797 531h2.5M873 530h2.5M849 487h2.5M870 502h2.5M806 527h2.5M885 540h2.5M897 508h2.5M881 478h2.5M792 589h2.5M824 461h2.5M791 488h2.5M883 519h2.5M790 518h2.5M865 590h2.5M893 583h2.5M838 538h2.5M880 467h2.5M908 550h2.5M774 598h2.5M854 491h2.5M882 598h2.5M860 511h2.5M873 520h2.5M871 515h2.5M918 540h2.5M898 539h2.5M754 556h2.5M862 471h2.5M703 466h2.5M904 499h2.5M889 548h2.5M876 575h2.5M879 596h2.5M880 515h2.5M877 469h2.5M771 475h2.5M870 467h2.5M851 562h2.5M886 582h2.5M855 469h2.5M848 593h2.5M856 586h2.5M881 566h2.5M878 570h2.5M877 556h2.5M861 487h2.5M792 487h2.5M912 602h2.5M876 495h2.5M876 553h2.5M797 566h2.5M878 478h2.5M919 473h2.5M813 464h2.5M904 531h2.5M799 546h2.5M895 602h2.5M876 503h2.5M881 586h2.5M883 526h2.5M877 533h2.5M889 522h2.5M799 468h2.5M902 469h2.5M853 567h2.5M879 551h2.5M775 550h2.5M927 462h2.5M886 492h2.5M913 553h2.5M873 511h2.5M891 578h2.5M894 568h2.5M779 586h2.5M823 534h2.5M890 473h2.5M720 565h2.5M877 525h2.5M905 470h2.5M876 576h2.5M852 488h2.5M865 546h2.5M886 562h2.5M871 552h2.5M879 474h2.5M904 603h2.5M840 573h2.5M879 567h2.5M800 546h2.5M787 521h2.5M893 605h2.5M898 523h2.5M895 503h2.5M875 514h2.5M869 605h2.5M874 475h2.5M883 510h2.5M799 564h2.5M827 540h2.5M789 533h2.5M836 518h2.5M927 507h2.5M852 468h2.5M905 550h2.5M893 461h2.5M916 595h2.5M871 530h2.5M884 591h2.5M876 580h2.5M876 536h2.5M869 461h2.5M903 488h2.5M887 570h2.5M826 554h2.5M887 518h2.5M874 520h2.5M845 532h2.5M888 461h2.5M888 541h2.5M874 576h2.5M858 516h2.5M880 465h2.5M884 494h2.5M859 501h2.5M845 501h2.5M814 471h2.5M871 528h2.5M893 503h2.5M842 586h2.5M804 567h2.5M903 569h2.5M890 594h2.5M908 492h2.5M890 471h2.5M899 577h2.5M879 509h2.5M744 485h2.5M862 586h2.5M877 553h2.5M871 542h2.5M802 604h2.5M894 540h2.5M872 551h2.5M720 537h2.5M843 564h2.5M890 502h2.5M803 580h2.5M835 562h2.5M847 575h2.5M890 552h2.5M826 601h2.5M892 483h2.5M805 470h2.5M836 485h2.5M856 585h2.5M785 563h2.5M859 601h2.5M836 477h2.5M865 540h2.5M853 609h2.5M852 488h2.5M802 480h2.5M900 496h2.5M831 461h2.5M804 553h2.5M899 533h2.5M918 595h2.5M862 516h2.5M872 546h2.5M875 586h2.5M872 499h2.5M804 542h2.5M768 486h2.5M892 568h2.5M782 533h2.5M873 591h2.5M737 527h2.5M859 583h2.5M877 584h2.5M895 466h2.5M875 505h2.5M862 574h2.5M877 481h2.5M904 559h2.5M794 594h2.5M881 537h2.5M819 491h2.5M875 601h2.5M824 587h2.5M902 571h2.5M881 607h2.5M869 597h2.5M839 555h2.5M831 519h2.5M849 499h2.5M874 516h2.5M867 499h2.5M887 510h2.5M885 582h2.5M893 474h2.5M927 606h2.5M870 488h2.5M863 486h2.5M811 598h2.5M884 561h2.5M875 535h2.5M815 576h2.5M908 491h2.5M868 559h2.5M854 537h2.5M826 569h2.5M906 487h2.5M881 463h2.5M870 464h2.5M874 585h2.5M889 545h2.5M860 477h2.5M896 525h2.5M915 607h2.5M869 500h2.5M877 584h2.5M891 553h2.5M787 465h2.5M900 584h2.5M894 501h2.5M882 574h2.5M871 518h2.5M880 486h2.5M886 605h2.5M883 542h2.5M804 536h2.5M788 533h2.5M767 475h2.5M872 583h2.5M782 546h2.5M789 545h2.5M889 480h2.5M876 466h2.5M793 485h2.5M891 511h2.5M852 574h2.5M889 605h2.5M827 568h2.5M833 573h2.5M858 603h2.5M892 604h2.5M731 466h2.5M698 524h2.5M902 597h2.5M887 495h2.5M877 591h2.5M807 579h2.5M758 520h2.5M866 541h2.5M795 466h2.5M894 504h2.5M894 533h2.5M887 486h2.5M874 483h2.5M876 568h2.5M859 496h2.5M854 561h2.5M859 596h2.5M862 487h2.5M842 525h2.5M843 563h2.5M870 488h2.5M867 598h2.5M899 550h2.5M831 602h2.5M899 536h2.5M808 593h2.5M889 543h2.5M887 583h2.5M851 539h2.5M865 584h2.5M864 496h2.5M876 482h2.5M875 486h2.5M860 566h2.5M882 531h2.5M900 527h2.5M791 546h2.5M882 581h2.5M802 539h2.5M814 531h2.5M879 503h2.5M770 538h2.5M872 583h2.5M880 548h2.5M890 489h2.5M864 548h2.5M897 602h2.5M879 500h2.5M896 575h2.5M892 542h2.5M841 546h2.5M858 581h2.5M845 497h2.5M847 554h2.5M875 563h2.5M877 466h2.5M793 474h2.5M794 502h2.5M886 579h2.5M818 507h2.5M855 547h2.5M885 475h2.5M828 531h2.5M876 537h2.5M881 528h2.5M815 478h2.5M854 604h2.5M899 607h2.5M890 494h2.5M804 594h2.5M737 572h2.5M856 496h2.5M893 485h2.5M772 502h2.5M859 580h2.5M781 466h2.5M869 480h2.5M803 573h2.5M813 547h2.5M875 583h2.5M887 536h2.5M805 570h2.5M871 600h2.5M873 593h2.5M887 470h2.5M876 495h2.5M854 541h2.5M860 560h2.5M891 465h2.5M794 490h2.5M853 564h2.5M838 593h2.5M894 600h2.5M873 495h2.5M894 484h2.5M808 609h2.5M878 553h2.5M915 470h2.5M780 590h2.5M859 557h2.5M899 606h2.5M787 536h2.5M778 585h2.5M848 568h2.5M911 509h2.5M874 607h2.5M837 558h2.5M842 508h2.5M794 550h2.5M792 478h2.5M790 560h2.5M860 461h2.5M885 548h2.5M897 496h2.5M758 535h2.5M906 570h2.5M873 604h2.5M862 536h2.5M849 605h2.5M856 548h2.5M785 539h2.5M870 552h2.5M837 585h2.5M777 524h2.5M897 463h2.5M914 576h2.5M820 609h2.5M886 476h2.5M883 540h2.5M886 575h2.5M888 578h2.5M860 586h2.5M849 608h2.5M902 504h2.5M897 504h2.5M866 492h2.5M881 464h2.5M882 547h2.5M881 527h2.5M901 477h2.5M871 574h2.5M880 578h2.5M896 494h2.5M872 525h2.5M870 550h2.5M883 556h2.5M808 604h2.5M794 503h2.5M889 489h2.5M809 572h2.5M878 530h2.5M884 574h2.5M873 522h2.5M811 582h2.5M849 473h2.5M900 497h2.5M724 470h2.5M858 527h2.5M867 493h2.5M839 467h2.5M876 595h2.5M920 478h2.5M872 483h2.5M793 545h2.5M840 549h2.5M833 540h2.5M897 602h2.5M868 525h2.5M762 506h2.5M879 570h2.5M897 517h2.5M881 518h2.5M892 574h2.5M850 570h2.5M911 575h2.5M889 540h2.5M860 546h2.5M872 602h2.5M815 507h2.5M909 464h2.5M897 504h2.5M882 565h2.5M803 583h2.5M854 558h2.5M897 596h2.5M875 531h2.5M777 470h2.5M877 506h2.5M916 498h2.5M900 486h2.5M850 585h2.5M874 472h2.5M861 509h2.5M921 463h2.5M861 540h2.5M898 608h2.5M872 542h2.5M849 529h2.5M874 517h2.5M879 481h2.5M904 547h2.5M789 547h2.5M855 496h2.5M869 494h2.5M813 512h2.5M795 592h2.5M868 603h2.5M866 465h2.5M884 564h2.5M878 571h2.5M883 461h2.5M875 512h2.5M873 586h2.5M876 525h2.5M912 517h2.5M799 521h2.5M764 536h2.5M874 553h2.5M865 490h2.5M886 520h2.5M879 490h2.5M781 599h2.5M793 539h2.5M878 587h2.5M869 592h2.5M797 515h2.5M808 566h2.5M804 528h2.5M847 529h2.5M895 502h2.5M802 588h2.5M865 539h2.5M889 463h2.5M866 561h2.5M900 473h2.5M804 568h2.5M896 504h2.5M882 539h2.5M899 550h2.5M841 560h2.5M890 540h2.5M860 475h2.5M862 586h2.5M833 515h2.5M864 466h2.5M913 607h2.5M896 474h2.5M798 545h2.5M809 584h2.5M871 536h2.5M877 565h2.5M888 553h2.5M913 553h2.5M810 505h2.5M892 556h2.5M773 562h2.5M877 554h2.5M895 565h2.5M812 526h2.5M892 526h2.5M861 506h2.5M855 467h2.5M883 569h2.5M807 535h2.5M810 552h2.5M861 468h2.5M805 492h2.5M894 486h2.5M869 517h2.5M899 491h2.5M811 568h2.5M900 555h2.5M896 504h2.5M893 607h2.5M768 509h2.5M904 553h2.5M884 604h2.5M826 487h2.5M858 579h2.5M738 465h2.5M718 570h2.5M900 461h2.5M814 604h2.5M852 514h2.5M673 577h2.5M914 489h2.5M881 580h2.5M865 461h2.5M826 555h2.5M855 528h2.5M889 553h2.5M857 560h2.5M887 511h2.5M875 587h2.5M823 585h2.5M767 587h2.5M847 559h2.5M852 590h2.5M863 500h2.5M862 559h2.5M889 530h2.5M900 608h2.5M860 607h2.5M863 504h2.5M898 501h2.5M918 484h2.5M886 508h2.5M876 476h2.5M890 554h2.5M868 564h2.5M858 481h2.5M879 554h2.5M907 566h2.5M807 529h2.5M879 493h2.5M884 609h2.5M883 586h2.5M858 525h2.5M877 482h2.5M887 543h2.5M858 539h2.5M753 549h2.5M815 529h2.5M845 482h2.5M841 598h2.5M859 520h2.5M810 579h2.5M890 484h2.5M822 589h2.5M844 479h2.5M884 608h2.5M875 589h2.5M828 511h2.5M859 590h2.5M897 499h2.5M902 586h2.5M862 556h2.5M824 472h2.5M880 462h2.5M891 467h2.5M886 555h2.5M867 573h2.5M875 490h2.5M811 602h2.5M873 548h2.5M821 466h2.5M903 605h2.5M896 585h2.5M794 596h2.5M831 567h2.5M794 533h2.5M883 524h2.5M882 484h2.5M912 476h2.5M889 485h2.5M791 528h2.5M830 475h2.5M918 552h2.5M794 470h2.5M914 471h2.5M763 594h2.5M869 583h2.5M715 470h2.5M885 526h2.5M882 536h2.5M909 528h2.5M897 520h2.5M881 477h2.5M898 554h2.5M898 573h2.5M728 606h2.5M872 584h2.5M773 538h2.5M894 480h2.5M835 577h2.5M841 595h2.5M787 488h2.5M902 487h2.5M882 483h2.5M900 532h2.5M859 570h2.5M912 566h2.5M817 556h2.5M900 601h2.5M889 600h2.5M876 574h2.5M892 466h2.5M859 565h2.5M906 522h2.5M892 598h2.5M881 564h2.5M877 555h2.5M913 498h2.5M879 584h2.5M860 603h2.5M890 486h2.5M916 482h2.5M892 497h2.5M868 608h2.5M880 561h2.5M852 542h2.5M875 508h2.5M882 490h2.5M783 549h2.5M920 581h2.5M889 531h2.5M851 557h2.5M897 528h2.5M929 491h2.5M801 608h2.5M843 528h2.5M877 490h2.5M865 578h2.5M885 588h2.5M850 579h2.5M867 585h2.5M811 600h2.5M795 562h2.5M841 484h2.5M848 562h2.5M868 507h2.5M888 561h2.5M791 499h2.5M750 587h2.5M857 598h2.5M873 547h2.5M837 595h2.5M810 528h2.5M886 529h2.5M873 575h2.5M830 590h2.5M897 566h2.5M866 568h2.5M741 585h2.5M845 598h2.5M882 461h2.5M872 601h2.5M817 528h2.5M668 587h2.5M858 581h2.5M904 488h2.5M790 527h2.5M783 489h2.5M813 579h2.5M826 592h2.5M863 559h2.5M860 514h2.5M826 584h2.5M806 557h2.5M853 601h2.5M905 462h2.5M851 581h2.5M793 553h2.5M868 553h2.5M875 552h2.5M899 585h2.5M856 581h2.5M882 472h2.5M783 486h2.5M805 602h2.5M893 505h2.5M871 607h2.5M862 537h2.5M855 543h2.5M905 592h2.5M785 578h2.5M831 567h2.5M879 533h2.5M745 462h2.5M883 475h2.5M905 465h2.5M870 569h2.5M888 478h2.5M889 593h2.5M901 470h2.5M908 508h2.5M883 585h2.5M878 533h2.5M904 478h2.5M863 577h2.5M872 472h2.5M892 588h2.5M857 533h2.5M881 545h2.5M885 593h2.5M900 480h2.5M873 564h2.5M880 472h2.5M915 462h2.5M889 585h2.5M893 516h2.5M869 586h2.5M854 494h2.5M871 501h2.5M899 506h2.5M774 602h2.5M884 545h2.5M870 544h2.5M876 567h2.5M837 494h2.5M897 475h2.5M906 589h2.5M769 594h2.5M838 462h2.5M855 568h2.5M856 537h2.5M827 542h2.5M877 500h2.5M891 579h2.5M855 585h2.5M896 461h2.5M866 583h2.5M869 563h2.5M872 576h2.5M843 567h2.5M873 486h2.5M879 606h2.5M887 504h2.5M861 589h2.5M752 582h2.5M852 598h2.5M809 597h2.5M859 569h2.5M828 589h2.5M902 518h2.5M911 540h2.5M882 559h2.5M849 542h2.5M887 510h2.5M867 549h2.5M812 480h2.5M875 573h2.5M908 493h2.5M876 575h2.5M859 483h2.5M861 587h2.5M895 555h2.5M883 469h2.5M886 468h2.5M886 480h2.5M854 534h2.5M870 526h2.5M911 479h2.5M682 598h2.5M880 510h2.5M858 552h2.5M816 524h2.5M800 548h2.5M885 582h2.5M865 610h2.5M873 491h2.5M875 599h2.5M828 601h2.5M863 460h2.5M846 598h2.5M899 600h2.5M869 555h2.5M874 544h2.5M733 556h2.5M877 538h2.5M867 583h2.5M872 563h2.5M881 478h2.5M858 571h2.5M815 581h2.5M893 579h2.5M872 583h2.5M836 528h2.5M808 545h2.5M875 589h2.5M850 539h2.5M871 538h2.5M822 532h2.5M907 602h2.5M770 524h2.5M844 607h2.5M908 584h2.5M917 476h2.5M827 601h2.5M913 528h2.5M850 557h2.5M888 517h2.5M882 535h2.5M882 575h2.5M783 608h2.5M880 517h2.5M851 559h2.5M864 583h2.5M881 548h2.5M917 522h2.5M887 515h2.5M844 504h2.5M882 520h2.5M899 519h2.5M913 487h2.5M855 567h2.5M899 603h2.5M867 535h2.5M903 606h2.5M853 576h2.5M888 505h2.5M826 539h2.5M854 560h2.5M885 483h2.5M889 473h2.5M850 578h2.5M852 603h2.5M825 526h2.5M862 580h2.5M742 598h2.5M875 484h2.5M866 541h2.5M821 581h2.5M762 586h2.5M852 554h2.5M819 557h2.5M905 589h2.5M833 564h2.5M889 528h2.5M883 513h2.5M838 593h2.5M877 482h2.5M864 507h2.5M907 497h2.5M888 496h2.5M800 596h2.5M891 589h2.5M859 547h2.5M880 582h2.5M889 575h2.5M876 556h2.5M885 487h2.5M889 490h2.5M774 594h2.5M886 514h2.5M819 604h2.5M909 577h2.5M901 589h2.5M910 545h2.5M831 466h2.5M807 540h2.5M884 553h2.5M897 521h2.5M848 501h2.5M816 486h2.5M884 598h2.5M897 583h2.5M846 605h2.5M834 552h2.5M770 533h2.5M902 574h2.5M870 567h2.5M785 588h2.5M874 597h2.5M901 598h2.5M882 495h2.5M884 560h2.5M892 555h2.5M863 532h2.5M888 549h2.5M873 514h2.5M803 545h2.5M771 563h2.5M864 537h2.5M839 541h2.5M875 579h2.5M879 511h2.5M788 609h2.5M784 596h2.5M915 499h2.5M794 605h2.5M696 570h2.5M859 467h2.5M893 506h2.5M904 463h2.5M832 469h2.5M920 505h2.5M870 543h2.5M881 552h2.5M868 517h2.5M883 552h2.5M818 530h2.5M798 475h2.5M809 467h2.5M915 497h2.5M879 493h2.5M875 483h2.5M821 538h2.5M911 604h2.5M863 564h2.5M728 580h2.5M883 523h2.5M864 469h2.5M872 467h2.5M901 462h2.5M847 561h2.5M826 502h2.5M850 507h2.5M854 541h2.5M882 473h2.5M888 606h2.5M875 465h2.5M910 508h2.5M841 523h2.5M867 592h2.5M887 593h2.5M883 546h2.5M894 603h2.5M865 547h2.5M910 535h2.5M885 520h2.5M846 599h2.5M756 567h2.5M764 579h2.5M808 506h2.5M869 492h2.5M885 565h2.5M865 551h2.5M893 527h2.5M889 542h2.5M813 545h2.5M866 575h2.5M886 518h2.5M863 607h2.5M837 569h2.5M877 466h2.5M862 609h2.5M909 466h2.5M880 591h2.5M787 526h2.5M857 504h2.5M841 583h2.5M887 602h2.5M851 534h2.5M827 550h2.5M859 545h2.5M845 540h2.5M825 557h2.5M848 604h2.5M899 543h2.5M873 582h2.5M823 517h2.5M884 483h2.5M839 569h2.5M877 506h2.5M873 514h2.5M883 531h2.5M851 554h2.5M885 549h2.5M887 513h2.5M881 512h2.5M886 527h2.5M892 515h2.5M867 470h2.5M920 550h2.5M833 491h2.5M807 578h2.5M859 601h2.5M899 593h2.5M865 521h2.5M855 491h2.5M890 507h2.5M889 553h2.5M851 552h2.5M891 461h2.5M885 609h2.5M878 587h2.5M903 516h2.5M798 525h2.5M904 523h2.5M851 574h2.5M864 529h2.5M890 586h2.5M834 513h2.5M890 582h2.5M884 493h2.5M861 524h2.5M895 553h2.5M855 552h2.5M873 486h2.5M866 539h2.5M814 594h2.5M895 475h2.5M874 482h2.5M799 485h2.5M868 539h2.5M822 596h2.5M909 481h2.5M762 540h2.5M907 554h2.5M893 480h2.5M873 526h2.5M775 590h2.5M874 473h2.5M769 574h2.5M905 501h2.5M885 601h2.5M706 554h2.5M913 478h2.5M868 484h2.5M866 500h2.5M812 521h2.5M859 530h2.5M879 590h2.5M795 548h2.5M852 546h2.5M876 524h2.5M808 534h2.5M873 498h2.5M856 522h2.5M873 546h2.5M836 560h2.5M864 501h2.5M885 549h2.5M801 521h2.5M844 583h2.5M882 599h2.5M903 549h2.5M883 485h2.5M848 586h2.5M807 532h2.5M859 562h2.5M827 564h2.5M806 517h2.5M738 502h2.5M868 533h2.5M801 504h2.5M861 542h2.5M885 464h2.5M866 567h2.5M853 542h2.5M868 480h2.5M869 477h2.5M834 513h2.5M906 587h2.5M886 491h2.5M858 600h2.5M835 486h2.5M872 565h2.5M670 548h2.5M800 495h2.5M808 573h2.5M801 515h2.5M925 526h2.5M890 476h2.5M881 531h2.5M891 512h2.5M870 552h2.5M805 599h2.5M881 554h2.5M887 557h2.5M889 567h2.5M861 567h2.5M801 540h2.5M811 589h2.5M868 566h2.5M873 592h2.5M806 560h2.5M861 486h2.5M851 607h2.5M799 568h2.5M896 592h2.5M885 470h2.5M885 554h2.5M871 557h2.5M883 482h2.5M866 491h2.5M868 502h2.5M784 602h2.5M882 493h2.5M805 501h2.5M896 547h2.5M912 565h2.5M841 569h2.5M865 465h2.5M892 590h2.5M867 474h2.5M911 482h2.5M814 554h2.5M876 463h2.5M855 531h2.5M837 573h2.5M812 590h2.5M859 539h2.5M879 604h2.5M870 540h2.5M899 525h2.5M890 604h2.5M869 572h2.5M901 544h2.5M865 586h2.5M855 590h2.5M901 495h2.5M814 491h2.5M858 547h2.5M832 568h2.5M744 541h2.5M924 562h2.5M869 512h2.5M888 482h2.5M855 552h2.5M744 578h2.5M896 605h2.5M909 517h2.5M780 476h2.5M807 550h2.5M888 499h2.5M799 601h2.5M850 520h2.5M883 598h2.5M897 470h2.5M886 516h2.5M860 527h2.5M874 514h2.5M864 573h2.5M759 551h2.5M773 480h2.5M928 552h2.5M834 548h2.5M898 505h2.5M865 468h2.5M882 502h2.5M895 556h2.5M870 579h2.5M882 464h2.5M869 560h2.5M792 565h2.5M876 515h2.5M898 600h2.5M861 610h2.5M885 463h2.5M881 522h2.5M878 481h2.5M868 571h2.5M837 590h2.5M920 569h2.5M885 467h2.5M791 475h2.5M890 558h2.5M850 485h2.5M848 562h2.5M869 607h2.5M873 565h2.5M874 530h2.5M878 511h2.5M824 603h2.5M872 580h2.5M817 483h2.5M824 491h2.5M865 596h2.5M765 591h2.5M867 557h2.5M844 600h2.5M891 565h2.5M856 519h2.5M880 541h2.5M866 460h2.5M867 591h2.5M871 539h2.5M870 531h2.5M855 508h2.5M855 509h2.5M776 498h2.5M818 506h2.5M888 598h2.5M790 563h2.5M875 476h2.5M896 592h2.5M882 536h2.5M898 592h2.5M894 554h2.5M758 500h2.5M892 605h2.5M863 559h2.5M814 474h2.5M903 601h2.5M860 562h2.5M863 478h2.5M881 555h2.5M865 562h2.5M879 470h2.5M874 567h2.5M769 569h2.5M888 468h2.5M708 554h2.5M813 545h2.5M845 555h2.5M887 482h2.5M800 517h2.5M871 546h2.5M857 560h2.5M905 509h2.5M848 596h2.5M903 567h2.5M848 475h2.5M911 474h2.5M885 574h2.5M869 544h2.5M878 549h2.5M850 578h2.5M869 479h2.5M885 512h2.5M849 597h2.5M859 591h2.5M862 596h2.5M836 586h2.5M903 470h2.5M883 586h2.5M855 471h2.5M895 522h2.5M797 581h2.5M868 475h2.5M829 568h2.5M906 528h2.5M901 564h2.5M852 579h2.5M802 567h2.5M870 568h2.5M877 584h2.5M822 602h2.5M881 507h2.5M878 573h2.5M891 544h2.5M860 481h2.5M866 510h2.5M882 509h2.5M880 490h2.5M860 606h2.5M904 551h2.5M874 495h2.5M857 529h2.5M799 481h2.5M874 519h2.5M871 599h2.5M857 484h2.5M886 568h2.5M866 526h2.5M844 581h2.5M891 503h2.5M886 547h2.5M813 545h2.5M860 500h2.5M781 547h2.5M870 557h2.5M746 605h2.5M876 472h2.5M896 470h2.5M908 486h2.5M790 561h2.5M869 534h2.5M907 493h2.5M808 553h2.5M840 610h2.5M876 470h2.5M918 603h2.5M882 483h2.5M876 492h2.5M911 532h2.5M903 498h2.5M901 582h2.5M856 497h2.5M894 551h2.5M878 485h2.5M881 524h2.5M899 561h2.5M898 523h2.5M895 483h2.5M924 590h2.5M884 527h2.5M895 556h2.5M928 495h2.5M865 562h2.5M897 530h2.5M859 559h2.5M907 465h2.5M906 491h2.5M791 586h2.5M883 508h2.5M847 556h2.5M885 499h2.5M823 466h2.5M907 584h2.5M879 531h2.5M877 529h2.5M802 506h2.5M905 465h2.5M866 552h2.5M793 487h2.5M840 559h2.5M794 544h2.5M826 493h2.5M874 558h2.5M852 516h2.5M873 477h2.5M836 514h2.5M912 511h2.5M790 534h2.5M883 523h2.5M874 584h2.5M874 479h2.5M846 547h2.5M848 542h2.5M850 489h2.5M773 577h2.5M883 490h2.5M883 474h2.5M897 569h2.5M874 557h2.5M759 478h2.5M867 534h2.5M715 584h2.5M874 478h2.5M840 530h2.5M785 574h2.5M868 548h2.5M899 563h2.5M883 582h2.5M866 579h2.5M823 570h2.5M915 503h2.5M889 525h2.5M796 490h2.5M902 506h2.5M830 567h2.5M874 499h2.5M893 560h2.5M879 479h2.5M867 549h2.5M775 520h2.5M808 602h2.5M849 574h2.5M901 472h2.5M873 573h2.5M856 460h2.5M886 600h2.5M887 536h2.5M813 463h2.5M827 605h2.5M827 580h2.5M737 591h2.5M896 474h2.5M817 599h2.5M885 503h2.5M806 564h2.5M879 594h2.5M869 591h2.5M885 609h2.5M905 480h2.5M869 483h2.5M843 510h2.5M887 564h2.5M875 598h2.5M927 609h2.5M801 567h2.5M858 569h2.5M869 573h2.5M881 547h2.5M882 584h2.5M866 520h2.5M863 523h2.5M859 533h2.5M876 589h2.5M823 574h2.5M871 547h2.5M815 609h2.5M839 560h2.5M813 538h2.5M865 551h2.5M852 593h2.5M835 593h2.5M864 502h2.5M881 488h2.5M889 523h2.5M900 560h2.5M817 560h2.5M878 464h2.5M860 522h2.5M820 505h2.5M885 533h2.5M847 605h2.5M892 461h2.5M871 468h2.5M840 496h2.5M896 590h2.5M799 570h2.5M891 472h2.5M888 560h2.5M861 515h2.5M892 512h2.5M892 574h2.5M862 547h2.5M819 507h2.5M860 490h2.5M913 491h2.5M873 491h2.5M896 502h2.5M807 565h2.5M840 540h2.5M878 564h2.5M883 570h2.5M900 507h2.5M844 535h2.5M880 465h2.5M917 543h2.5M710 586h2.5M759 547h2.5M845 484h2.5M835 596h2.5M866 543h2.5M845 531h2.5M874 566h2.5M811 462h2.5M844 543h2.5M899 538h2.5M891 603h2.5M836 473h2.5M804 481h2.5M878 575h2.5M867 539h2.5M808 578h2.5M890 552h2.5M819 504h2.5M893 552h2.5M873 550h2.5M876 530h2.5M867 597h2.5M900 506h2.5M871 532h2.5M901 494h2.5M903 546h2.5M798 582h2.5M851 590h2.5M897 548h2.5M895 597h2.5M857 525h2.5M885 537h2.5M893 579h2.5M874 540h2.5M831 473h2.5M928 500h2.5M867 503h2.5M882 500h2.5M869 511h2.5M695 496h2.5M790 519h2.5M808 543h2.5M880 556h2.5M868 588h2.5M908 490h2.5M885 575h2.5M867 528h2.5M907 463h2.5M903 502h2.5M805 590h2.5M906 467h2.5M838 556h2.5M843 469h2.5M809 531h2.5M877 573h2.5M796 530h2.5M878 497h2.5M844 598h2.5M760 474h2.5M870 553h2.5M880 543h2.5M840 520h2.5M843 486h2.5M887 527h2.5M910 604h2.5M846 572h2.5M895 577h2.5M823 501h2.5M837 510h2.5M803 492h2.5M882 479h2.5M871 567h2.5M881 474h2.5M805 596h2.5M926 543h2.5M911 519h2.5M834 589h2.5M827 548h2.5M900 477h2.5M852 585h2.5M865 501h2.5M889 593h2.5M834 565h2.5M894 579h2.5M902 589h2.5M867 607h2.5M848 554h2.5M861 511h2.5M891 539h2.5M850 604h2.5M889 554h2.5M877 571h2.5M815 536h2.5M916 547h2.5M784 598h2.5M872 501h2.5M869 586h2.5M895 556h2.5" stroke="#86C6B7" stroke-width="2.5"/>
<rect x="304.5" y="223.5" width="170" height="89" fill="none" stroke="#444" stroke-width="1.1"/>
<line x1="325.5" y1="312.4" x2="325.5" y2="309" stroke="#444" stroke-width="1" />
<line x1="357.5" y1="312.4" x2="357.5" y2="309" stroke="#444" stroke-width="1" />
<line x1="388.5" y1="312.4" x2="388.5" y2="309" stroke="#444" stroke-width="1" />
<line x1="420.5" y1="312.4" x2="420.5" y2="309" stroke="#444" stroke-width="1" />
<line x1="452.5" y1="312.4" x2="452.5" y2="309" stroke="#444" stroke-width="1" />
<text x="324.9" y="326.4" font-size="10.5" text-anchor="middle" fill="#111" stroke="#111" stroke-width="0.30" >10</text>
<text x="330.2" y="323" font-size="6.2" text-anchor="start" fill="#111" stroke="#111" stroke-width="0.10" >3</text>
<text x="356.5" y="326.4" font-size="10.5" text-anchor="middle" fill="#111" stroke="#111" stroke-width="0.30" >10</text>
<text x="361.8" y="323" font-size="6.2" text-anchor="start" fill="#111" stroke="#111" stroke-width="0.10" >4</text>
<text x="388.2" y="326.4" font-size="10.5" text-anchor="middle" fill="#111" stroke="#111" stroke-width="0.30" >10</text>
<text x="393.5" y="323" font-size="6.2" text-anchor="start" fill="#111" stroke="#111" stroke-width="0.10" >5</text>
<text x="419.8" y="326.4" font-size="10.5" text-anchor="middle" fill="#111" stroke="#111" stroke-width="0.30" >10</text>
<text x="425.1" y="323" font-size="6.2" text-anchor="start" fill="#111" stroke="#111" stroke-width="0.10" >6</text>
<text x="451.4" y="326.4" font-size="10.5" text-anchor="middle" fill="#111" stroke="#111" stroke-width="0.30" >10</text>
<text x="456.7" y="323" font-size="6.2" text-anchor="start" fill="#111" stroke="#111" stroke-width="0.10" >7</text>
<text x="389.6" y="341.6" font-size="10.5" text-anchor="middle" fill="#111" stroke="#111" stroke-width="0.30" >Diffusion Coefficient (nm<tspan font-size="6.3" dy="-3.3">2</tspan><tspan dy="3.3">/s)</tspan></text>
<rect x="548.55" y="110.6" width="2.1" height="0.7" fill="#F38374"/>
<rect x="552.08" y="103.8" width="2.1" height="7.5" fill="#F38374"/>
<rect x="555.61" y="88.2" width="2.1" height="23.1" fill="#F38374"/>
<rect x="559.14" y="63.9" width="2.1" height="47.4" fill="#F38374"/>
<rect x="562.67" y="40.2" width="2.1" height="71.1" fill="#F38374"/>
<rect x="566.20" y="33.9" width="2.1" height="77.4" fill="#F38374"/>
<rect x="569.73" y="43.2" width="2.1" height="68.1" fill="#F38374"/>
<rect x="573.26" y="53.0" width="2.1" height="58.3" fill="#F38374"/>
<rect x="576.79" y="60.6" width="2.1" height="50.7" fill="#F38374"/>
<rect x="580.32" y="74.0" width="2.1" height="37.3" fill="#F38374"/>
<rect x="583.85" y="88.6" width="2.1" height="22.7" fill="#F38374"/>
<rect x="587.38" y="98.0" width="2.1" height="13.3" fill="#F38374"/>
<rect x="590.91" y="103.0" width="2.1" height="8.3" fill="#F38374"/>
<rect x="594.44" y="105.1" width="2.1" height="6.2" fill="#F38374"/>
<rect x="597.97" y="106.5" width="2.1" height="4.8" fill="#F38374"/>
<rect x="601.50" y="108.0" width="2.1" height="3.3" fill="#F38374"/>
<rect x="605.03" y="109.4" width="2.1" height="1.9" fill="#F38374"/>
<rect x="608.56" y="110.3" width="2.1" height="1.0" fill="#F38374"/>
<rect x="518.5" y="21.5" width="165" height="90" fill="none" stroke="#444" stroke-width="1.1"/>
<text x="514.9" y="114.9" font-size="10.5" text-anchor="end" fill="#111" stroke="#111" stroke-width="0.30" >0</text>
<line x1="518.9" y1="75.5" x2="522.3" y2="75.5" stroke="#444" stroke-width="1" />
<text x="514.9" y="79.5" font-size="10.5" text-anchor="end" fill="#111" stroke="#111" stroke-width="0.30" >2</text>
<line x1="518.9" y1="40.5" x2="522.3" y2="40.5" stroke="#444" stroke-width="1" />
<text x="514.9" y="44.1" font-size="10.5" text-anchor="end" fill="#111" stroke="#111" stroke-width="0.30" >4</text>
<line x1="518.9" y1="93.5" x2="521" y2="93.5" stroke="#444" stroke-width="1" />
<line x1="518.9" y1="58.5" x2="521" y2="58.5" stroke="#444" stroke-width="1" />
<line x1="554.5" y1="111.3" x2="554.5" y2="107.9" stroke="#444" stroke-width="1" />
<line x1="589.5" y1="111.3" x2="589.5" y2="107.9" stroke="#444" stroke-width="1" />
<line x1="624.5" y1="111.3" x2="624.5" y2="107.9" stroke="#444" stroke-width="1" />
<line x1="660.5" y1="111.3" x2="660.5" y2="107.9" stroke="#444" stroke-width="1" />
<rect x="548.55" y="211.0" width="2.1" height="0.7" fill="#7DB0D9"/>
<rect x="552.08" y="205.4" width="2.1" height="6.3" fill="#7DB0D9"/>
<rect x="555.61" y="187.9" width="2.1" height="23.8" fill="#7DB0D9"/>
<rect x="559.14" y="150.8" width="2.1" height="60.9" fill="#7DB0D9"/>
<rect x="562.67" y="127.5" width="2.1" height="84.2" fill="#7DB0D9"/>
<rect x="566.20" y="137.0" width="2.1" height="74.7" fill="#7DB0D9"/>
<rect x="569.73" y="150.4" width="2.1" height="61.3" fill="#7DB0D9"/>
<rect x="573.26" y="158.5" width="2.1" height="53.2" fill="#7DB0D9"/>
<rect x="576.79" y="166.1" width="2.1" height="45.6" fill="#7DB0D9"/>
<rect x="580.32" y="178.2" width="2.1" height="33.5" fill="#7DB0D9"/>
<rect x="583.85" y="192.2" width="2.1" height="19.5" fill="#7DB0D9"/>
<rect x="587.38" y="201.1" width="2.1" height="10.6" fill="#7DB0D9"/>
<rect x="590.91" y="205.4" width="2.1" height="6.3" fill="#7DB0D9"/>
<rect x="594.44" y="208.3" width="2.1" height="3.4" fill="#7DB0D9"/>
<rect x="597.97" y="209.2" width="2.1" height="2.5" fill="#7DB0D9"/>
<rect x="601.50" y="209.2" width="2.1" height="2.5" fill="#7DB0D9"/>
<rect x="605.03" y="207.0" width="2.1" height="4.7" fill="#7DB0D9"/>
<rect x="608.56" y="205.2" width="2.1" height="6.5" fill="#7DB0D9"/>
<rect x="612.09" y="208.4" width="2.1" height="3.3" fill="#7DB0D9"/>
<rect x="615.62" y="211.0" width="2.1" height="0.7" fill="#7DB0D9"/>
<rect x="518.5" y="122.5" width="165" height="89" fill="none" stroke="#444" stroke-width="1.1"/>
<text x="514.9" y="215.3" font-size="10.5" text-anchor="end" fill="#111" stroke="#111" stroke-width="0.30" >0</text>
<line x1="518.9" y1="182.5" x2="522.3" y2="182.5" stroke="#444" stroke-width="1" />
<text x="514.9" y="185.7" font-size="10.5" text-anchor="end" fill="#111" stroke="#111" stroke-width="0.30" >2</text>
<line x1="518.9" y1="152.5" x2="522.3" y2="152.5" stroke="#444" stroke-width="1" />
<text x="514.9" y="156.1" font-size="10.5" text-anchor="end" fill="#111" stroke="#111" stroke-width="0.30" >4</text>
<text x="514.9" y="126.5" font-size="10.5" text-anchor="end" fill="#111" stroke="#111" stroke-width="0.30" >6</text>
<line x1="518.9" y1="196.5" x2="521" y2="196.5" stroke="#444" stroke-width="1" />
<line x1="518.9" y1="167.5" x2="521" y2="167.5" stroke="#444" stroke-width="1" />
<line x1="518.9" y1="137.5" x2="521" y2="137.5" stroke="#444" stroke-width="1" />
<line x1="554.5" y1="211.7" x2="554.5" y2="208.3" stroke="#444" stroke-width="1" />
<line x1="589.5" y1="211.7" x2="589.5" y2="208.3" stroke="#444" stroke-width="1" />
<line x1="624.5" y1="211.7" x2="624.5" y2="208.3" stroke="#444" stroke-width="1" />
<line x1="660.5" y1="211.7" x2="660.5" y2="208.3" stroke="#444" stroke-width="1" />
<rect x="548.55" y="311.2" width="2.1" height="1.2" fill="#78BBAE"/>
<rect x="552.08" y="309.4" width="2.1" height="3.0" fill="#78BBAE"/>
<rect x="555.61" y="303.6" width="2.1" height="8.8" fill="#78BBAE"/>
<rect x="559.14" y="286.0" width="2.1" height="26.4" fill="#78BBAE"/>
<rect x="562.67" y="255.1" width="2.1" height="57.3" fill="#78BBAE"/>
<rect x="566.20" y="234.0" width="2.1" height="78.4" fill="#78BBAE"/>
<rect x="569.73" y="246.1" width="2.1" height="66.3" fill="#78BBAE"/>
<rect x="573.26" y="263.3" width="2.1" height="49.1" fill="#78BBAE"/>
<rect x="576.79" y="271.4" width="2.1" height="41.0" fill="#78BBAE"/>
<rect x="580.32" y="279.4" width="2.1" height="33.0" fill="#78BBAE"/>
<rect x="583.85" y="288.5" width="2.1" height="23.9" fill="#78BBAE"/>
<rect x="587.38" y="295.4" width="2.1" height="17.0" fill="#78BBAE"/>
<rect x="590.91" y="300.9" width="2.1" height="11.5" fill="#78BBAE"/>
<rect x="594.44" y="304.6" width="2.1" height="7.8" fill="#78BBAE"/>
<rect x="597.97" y="305.7" width="2.1" height="6.7" fill="#78BBAE"/>
<rect x="601.50" y="305.8" width="2.1" height="6.6" fill="#78BBAE"/>
<rect x="605.03" y="307.0" width="2.1" height="5.4" fill="#78BBAE"/>
<rect x="608.56" y="309.1" width="2.1" height="3.3" fill="#78BBAE"/>
<rect x="612.09" y="310.1" width="2.1" height="2.3" fill="#78BBAE"/>
<rect x="615.62" y="311.3" width="2.1" height="1.1" fill="#78BBAE"/>
<rect x="518.5" y="223.5" width="165" height="89" fill="none" stroke="#444" stroke-width="1.1"/>
<text x="514.9" y="316" font-size="10.5" text-anchor="end" fill="#111" stroke="#111" stroke-width="0.30" >0</text>
<line x1="518.9" y1="273.5" x2="522.3" y2="273.5" stroke="#444" stroke-width="1" />
<text x="514.9" y="276.8" font-size="10.5" text-anchor="end" fill="#111" stroke="#111" stroke-width="0.30" >2</text>
<line x1="518.9" y1="233.5" x2="522.3" y2="233.5" stroke="#444" stroke-width="1" />
<text x="514.9" y="237.6" font-size="10.5" text-anchor="end" fill="#111" stroke="#111" stroke-width="0.30" >4</text>
<line x1="518.9" y1="292.5" x2="521" y2="292.5" stroke="#444" stroke-width="1" />
<line x1="518.9" y1="253.5" x2="521" y2="253.5" stroke="#444" stroke-width="1" />
<line x1="554.5" y1="312.4" x2="554.5" y2="309" stroke="#444" stroke-width="1" />
<line x1="589.5" y1="312.4" x2="589.5" y2="309" stroke="#444" stroke-width="1" />
<line x1="624.5" y1="312.4" x2="624.5" y2="309" stroke="#444" stroke-width="1" />
<line x1="660.5" y1="312.4" x2="660.5" y2="309" stroke="#444" stroke-width="1" />
<text x="519.3" y="326.1" font-size="10.5" text-anchor="middle" fill="#111" stroke="#111" stroke-width="0.30" >0</text>
<text x="554.5" y="326.1" font-size="10.5" text-anchor="middle" fill="#111" stroke="#111" stroke-width="0.30" >100</text>
<text x="589.7" y="326.1" font-size="10.5" text-anchor="middle" fill="#111" stroke="#111" stroke-width="0.30" >200</text>
<text x="624.9" y="326.1" font-size="10.5" text-anchor="middle" fill="#111" stroke="#111" stroke-width="0.30" >300</text>
<text x="660.1" y="326.1" font-size="10.5" text-anchor="middle" fill="#111" stroke="#111" stroke-width="0.30" >400</text>
<text transform="translate(499,167) rotate(-90)" font-size="10.5" text-anchor="middle" fill="#111" stroke="#111" stroke-width="0.3">Particle Concentration (×10<tspan font-size="6.3" dy="-3.3">9</tspan><tspan dy="3.3">/mL)</tspan></text>
<text x="601.5" y="341.6" font-size="10.5" text-anchor="middle" fill="#111" stroke="#111" stroke-width="0.30" >Hydrodynamic Diameter (nm)</text>
<g fill="none" stroke="#29685E" stroke-width="1.3"><circle cx="52.4" cy="440.5" r="2.2"/><circle cx="59.3" cy="439.5" r="2.2"/><circle cx="66.3" cy="439.0" r="2.2"/><circle cx="73.2" cy="440.8" r="2.2"/><circle cx="80.2" cy="439.2" r="2.2"/><circle cx="87.1" cy="439.5" r="2.2"/><circle cx="94.1" cy="439.8" r="2.2"/><circle cx="101.0" cy="439.6" r="2.2"/><circle cx="108.0" cy="439.0" r="2.2"/><circle cx="114.9" cy="431.4" r="2.2"/><circle cx="121.9" cy="440.0" r="2.2"/><circle cx="128.8" cy="439.0" r="2.2"/><circle cx="135.8" cy="441.0" r="2.2"/><circle cx="142.7" cy="441.3" r="2.2"/><circle cx="149.7" cy="438.1" r="2.2"/><circle cx="156.6" cy="439.7" r="2.2"/><circle cx="163.6" cy="439.0" r="2.2"/><circle cx="170.5" cy="438.6" r="2.2"/><circle cx="177.5" cy="439.6" r="2.2"/><circle cx="184.4" cy="440.6" r="2.2"/><circle cx="191.4" cy="438.6" r="2.2"/><circle cx="198.3" cy="438.5" r="2.2"/><circle cx="205.3" cy="440.1" r="2.2"/><circle cx="212.2" cy="439.5" r="2.2"/><circle cx="219.2" cy="431.4" r="2.2"/><circle cx="226.1" cy="441.4" r="2.2"/><circle cx="233.1" cy="437.9" r="2.2"/><circle cx="240.0" cy="439.7" r="2.2"/><circle cx="247.0" cy="440.2" r="2.2"/><circle cx="253.9" cy="438.8" r="2.2"/><circle cx="260.9" cy="439.2" r="2.2"/><circle cx="267.8" cy="437.8" r="2.2"/></g>
<g fill="none" stroke="#29685E" stroke-width="1.3"><circle cx="357.3" cy="406.7" r="2.3"/><circle cx="364.4" cy="408.0" r="2.3"/><circle cx="371.4" cy="406.4" r="2.3"/><circle cx="378.5" cy="406.7" r="2.3"/><circle cx="385.5" cy="406.9" r="2.3"/><circle cx="392.5" cy="406.3" r="2.3"/><circle cx="399.6" cy="404.6" r="2.3"/><circle cx="406.6" cy="407.6" r="2.3"/><circle cx="413.6" cy="404.6" r="2.3"/><circle cx="420.7" cy="406.4" r="2.3"/><circle cx="427.7" cy="408.3" r="2.3"/><circle cx="434.8" cy="409.3" r="2.3"/><circle cx="441.8" cy="406.4" r="2.3"/><circle cx="448.8" cy="408.0" r="2.3"/><circle cx="455.9" cy="408.3" r="2.3"/><circle cx="462.9" cy="406.5" r="2.3"/><circle cx="470.0" cy="406.2" r="2.3"/><circle cx="477.0" cy="409.1" r="2.3"/><circle cx="484.0" cy="408.6" r="2.3"/><circle cx="491.1" cy="408.3" r="2.3"/><circle cx="498.1" cy="406.3" r="2.3"/><circle cx="505.1" cy="406.4" r="2.3"/><circle cx="512.2" cy="405.1" r="2.3"/><circle cx="519.2" cy="407.9" r="2.3"/><circle cx="526.3" cy="407.1" r="2.3"/><circle cx="533.3" cy="405.3" r="2.3"/><circle cx="540.3" cy="407.6" r="2.3"/><circle cx="547.4" cy="408.3" r="2.3"/><circle cx="554.4" cy="409.7" r="2.3"/><circle cx="561.4" cy="406.8" r="2.3"/><circle cx="568.5" cy="405.7" r="2.3"/><circle cx="575.5" cy="408.2" r="2.3"/></g>
<g fill="none" stroke="#3A9E92" stroke-width="1.3"><circle cx="52.4" cy="444.5" r="2.2"/><circle cx="59.3" cy="444.4" r="2.2"/><circle cx="66.3" cy="446.2" r="2.2"/><circle cx="73.2" cy="447.0" r="2.2"/><circle cx="80.2" cy="445.6" r="2.2"/><circle cx="87.1" cy="445.2" r="2.2"/><circle cx="94.1" cy="444.5" r="2.2"/><circle cx="101.0" cy="444.4" r="2.2"/><circle cx="108.0" cy="443.2" r="2.2"/><circle cx="114.9" cy="446.3" r="2.2"/><circle cx="121.9" cy="444.3" r="2.2"/><circle cx="128.8" cy="445.5" r="2.2"/><circle cx="135.8" cy="445.3" r="2.2"/><circle cx="142.7" cy="442.8" r="2.2"/><circle cx="149.7" cy="445.7" r="2.2"/><circle cx="156.6" cy="443.9" r="2.2"/><circle cx="163.6" cy="444.2" r="2.2"/><circle cx="170.5" cy="445.8" r="2.2"/><circle cx="177.5" cy="446.3" r="2.2"/><circle cx="184.4" cy="444.8" r="2.2"/><circle cx="191.4" cy="445.0" r="2.2"/><circle cx="198.3" cy="444.1" r="2.2"/><circle cx="205.3" cy="443.8" r="2.2"/><circle cx="212.2" cy="446.1" r="2.2"/><circle cx="219.2" cy="444.6" r="2.2"/><circle cx="226.1" cy="443.1" r="2.2"/><circle cx="233.1" cy="445.5" r="2.2"/><circle cx="240.0" cy="444.3" r="2.2"/><circle cx="247.0" cy="445.0" r="2.2"/><circle cx="253.9" cy="445.4" r="2.2"/><circle cx="260.9" cy="443.0" r="2.2"/><circle cx="267.8" cy="444.8" r="2.2"/></g>
<g fill="none" stroke="#3A9E92" stroke-width="1.3"><circle cx="357.3" cy="403.5" r="2.3"/><circle cx="364.4" cy="402.1" r="2.3"/><circle cx="371.4" cy="399.7" r="2.3"/><circle cx="378.5" cy="401.9" r="2.3"/><circle cx="385.5" cy="403.7" r="2.3"/><circle cx="392.5" cy="403.9" r="2.3"/><circle cx="399.6" cy="399.5" r="2.3"/><circle cx="406.6" cy="399.4" r="2.3"/><circle cx="413.6" cy="398.6" r="2.3"/><circle cx="420.7" cy="401.3" r="2.3"/><circle cx="427.7" cy="400.1" r="2.3"/><circle cx="434.8" cy="402.7" r="2.3"/><circle cx="441.8" cy="403.0" r="2.3"/><circle cx="448.8" cy="401.6" r="2.3"/><circle cx="455.9" cy="399.6" r="2.3"/><circle cx="462.9" cy="401.8" r="2.3"/><circle cx="470.0" cy="404.8" r="2.3"/><circle cx="477.0" cy="405.1" r="2.3"/><circle cx="484.0" cy="401.1" r="2.3"/><circle cx="491.1" cy="403.3" r="2.3"/><circle cx="498.1" cy="403.6" r="2.3"/><circle cx="505.1" cy="403.1" r="2.3"/><circle cx="512.2" cy="397.7" r="2.3"/><circle cx="519.2" cy="403.5" r="2.3"/><circle cx="526.3" cy="405.1" r="2.3"/><circle cx="533.3" cy="399.8" r="2.3"/><circle cx="540.3" cy="401.4" r="2.3"/><circle cx="547.4" cy="401.2" r="2.3"/><circle cx="554.4" cy="406.1" r="2.3"/><circle cx="561.4" cy="403.4" r="2.3"/><circle cx="568.5" cy="401.7" r="2.3"/><circle cx="575.5" cy="398.3" r="2.3"/></g>
<g fill="none" stroke="#8FD0C6" stroke-width="1.3"><circle cx="52.4" cy="448.3" r="2.2"/><circle cx="59.3" cy="447.8" r="2.2"/><circle cx="66.3" cy="447.7" r="2.2"/><circle cx="73.2" cy="448.2" r="2.2"/><circle cx="80.2" cy="448.0" r="2.2"/><circle cx="87.1" cy="447.6" r="2.2"/><circle cx="94.1" cy="447.0" r="2.2"/><circle cx="101.0" cy="448.0" r="2.2"/><circle cx="108.0" cy="447.8" r="2.2"/><circle cx="114.9" cy="447.0" r="2.2"/><circle cx="121.9" cy="447.9" r="2.2"/><circle cx="128.8" cy="447.4" r="2.2"/><circle cx="135.8" cy="447.6" r="2.2"/><circle cx="142.7" cy="446.5" r="2.2"/><circle cx="149.7" cy="448.0" r="2.2"/><circle cx="156.6" cy="447.8" r="2.2"/><circle cx="163.6" cy="447.2" r="2.2"/><circle cx="170.5" cy="447.9" r="2.2"/><circle cx="177.5" cy="446.9" r="2.2"/><circle cx="184.4" cy="447.6" r="2.2"/><circle cx="191.4" cy="448.9" r="2.2"/><circle cx="198.3" cy="447.8" r="2.2"/><circle cx="205.3" cy="449.2" r="2.2"/><circle cx="212.2" cy="447.8" r="2.2"/><circle cx="219.2" cy="448.2" r="2.2"/><circle cx="226.1" cy="448.5" r="2.2"/><circle cx="233.1" cy="446.9" r="2.2"/><circle cx="240.0" cy="447.9" r="2.2"/><circle cx="247.0" cy="446.8" r="2.2"/><circle cx="253.9" cy="446.7" r="2.2"/><circle cx="260.9" cy="446.9" r="2.2"/><circle cx="267.8" cy="447.4" r="2.2"/></g>
<g fill="none" stroke="#8FD0C6" stroke-width="1.3"><circle cx="357.3" cy="397.9" r="2.3"/><circle cx="364.4" cy="398.1" r="2.3"/><circle cx="371.4" cy="397.5" r="2.3"/><circle cx="378.5" cy="401.4" r="2.3"/><circle cx="385.5" cy="399.8" r="2.3"/><circle cx="392.5" cy="402.5" r="2.3"/><circle cx="399.6" cy="397.9" r="2.3"/><circle cx="406.6" cy="401.6" r="2.3"/><circle cx="413.6" cy="400.2" r="2.3"/><circle cx="420.7" cy="401.4" r="2.3"/><circle cx="427.7" cy="405.7" r="2.3"/><circle cx="434.8" cy="400.4" r="2.3"/><circle cx="441.8" cy="399.0" r="2.3"/><circle cx="448.8" cy="398.8" r="2.3"/><circle cx="455.9" cy="398.4" r="2.3"/><circle cx="462.9" cy="398.6" r="2.3"/><circle cx="470.0" cy="401.4" r="2.3"/><circle cx="477.0" cy="402.3" r="2.3"/><circle cx="484.0" cy="401.3" r="2.3"/><circle cx="491.1" cy="400.7" r="2.3"/><circle cx="498.1" cy="400.1" r="2.3"/><circle cx="505.1" cy="398.2" r="2.3"/><circle cx="512.2" cy="400.7" r="2.3"/><circle cx="519.2" cy="401.1" r="2.3"/><circle cx="526.3" cy="400.6" r="2.3"/><circle cx="533.3" cy="398.6" r="2.3"/><circle cx="540.3" cy="397.2" r="2.3"/><circle cx="547.4" cy="400.6" r="2.3"/><circle cx="554.4" cy="400.3" r="2.3"/><circle cx="561.4" cy="399.9" r="2.3"/><circle cx="568.5" cy="401.7" r="2.3"/><circle cx="575.5" cy="400.1" r="2.3"/></g>
<g fill="none" stroke="#25507D" stroke-width="1.3"><circle cx="52.4" cy="449.8" r="2.2"/><circle cx="59.3" cy="449.6" r="2.2"/><circle cx="66.3" cy="449.9" r="2.2"/><circle cx="73.2" cy="448.5" r="2.2"/><circle cx="80.2" cy="450.3" r="2.2"/><circle cx="87.1" cy="449.3" r="2.2"/><circle cx="94.1" cy="449.1" r="2.2"/><circle cx="101.0" cy="449.3" r="2.2"/><circle cx="108.0" cy="449.5" r="2.2"/><circle cx="114.9" cy="449.0" r="2.2"/><circle cx="121.9" cy="449.9" r="2.2"/><circle cx="128.8" cy="449.7" r="2.2"/><circle cx="135.8" cy="449.8" r="2.2"/><circle cx="142.7" cy="450.6" r="2.2"/><circle cx="149.7" cy="450.3" r="2.2"/><circle cx="156.6" cy="450.0" r="2.2"/><circle cx="163.6" cy="450.8" r="2.2"/><circle cx="170.5" cy="449.9" r="2.2"/><circle cx="177.5" cy="450.2" r="2.2"/><circle cx="184.4" cy="449.6" r="2.2"/><circle cx="191.4" cy="450.2" r="2.2"/><circle cx="198.3" cy="449.9" r="2.2"/><circle cx="205.3" cy="450.8" r="2.2"/><circle cx="212.2" cy="450.7" r="2.2"/><circle cx="219.2" cy="449.5" r="2.2"/><circle cx="226.1" cy="450.9" r="2.2"/><circle cx="233.1" cy="450.2" r="2.2"/><circle cx="240.0" cy="450.1" r="2.2"/><circle cx="247.0" cy="451.4" r="2.2"/><circle cx="253.9" cy="449.0" r="2.2"/><circle cx="260.9" cy="449.7" r="2.2"/><circle cx="267.8" cy="450.3" r="2.2"/></g>
<g fill="none" stroke="#25507D" stroke-width="1.3"><circle cx="357.3" cy="409.4" r="2.3"/><circle cx="364.4" cy="410.7" r="2.3"/><circle cx="371.4" cy="407.7" r="2.3"/><circle cx="378.5" cy="409.4" r="2.3"/><circle cx="385.5" cy="408.7" r="2.3"/><circle cx="392.5" cy="409.4" r="2.3"/><circle cx="399.6" cy="408.9" r="2.3"/><circle cx="406.6" cy="407.0" r="2.3"/><circle cx="413.6" cy="410.5" r="2.3"/><circle cx="420.7" cy="409.7" r="2.3"/><circle cx="427.7" cy="407.9" r="2.3"/><circle cx="434.8" cy="407.8" r="2.3"/><circle cx="441.8" cy="408.9" r="2.3"/><circle cx="448.8" cy="410.9" r="2.3"/><circle cx="455.9" cy="410.1" r="2.3"/><circle cx="462.9" cy="410.1" r="2.3"/><circle cx="470.0" cy="409.2" r="2.3"/><circle cx="477.0" cy="409.8" r="2.3"/><circle cx="484.0" cy="409.3" r="2.3"/><circle cx="491.1" cy="407.7" r="2.3"/><circle cx="498.1" cy="410.8" r="2.3"/><circle cx="505.1" cy="408.7" r="2.3"/><circle cx="512.2" cy="407.3" r="2.3"/><circle cx="519.2" cy="409.5" r="2.3"/><circle cx="526.3" cy="410.6" r="2.3"/><circle cx="533.3" cy="407.8" r="2.3"/><circle cx="540.3" cy="408.3" r="2.3"/><circle cx="547.4" cy="407.9" r="2.3"/><circle cx="554.4" cy="409.3" r="2.3"/><circle cx="561.4" cy="407.7" r="2.3"/><circle cx="568.5" cy="408.5" r="2.3"/><circle cx="575.5" cy="409.9" r="2.3"/></g>
<g fill="none" stroke="#3F7DB8" stroke-width="1.3"><circle cx="52.4" cy="450.1" r="2.2"/><circle cx="59.3" cy="451.7" r="2.2"/><circle cx="66.3" cy="449.9" r="2.2"/><circle cx="73.2" cy="449.7" r="2.2"/><circle cx="80.2" cy="450.4" r="2.2"/><circle cx="87.1" cy="450.7" r="2.2"/><circle cx="94.1" cy="451.2" r="2.2"/><circle cx="101.0" cy="451.6" r="2.2"/><circle cx="108.0" cy="449.9" r="2.2"/><circle cx="114.9" cy="450.0" r="2.2"/><circle cx="121.9" cy="449.5" r="2.2"/><circle cx="128.8" cy="451.0" r="2.2"/><circle cx="135.8" cy="451.3" r="2.2"/><circle cx="142.7" cy="450.7" r="2.2"/><circle cx="149.7" cy="451.3" r="2.2"/><circle cx="156.6" cy="450.6" r="2.2"/><circle cx="163.6" cy="450.3" r="2.2"/><circle cx="170.5" cy="450.4" r="2.2"/><circle cx="177.5" cy="450.6" r="2.2"/><circle cx="184.4" cy="451.0" r="2.2"/><circle cx="191.4" cy="450.7" r="2.2"/><circle cx="198.3" cy="450.6" r="2.2"/><circle cx="205.3" cy="451.2" r="2.2"/><circle cx="212.2" cy="450.9" r="2.2"/><circle cx="219.2" cy="451.0" r="2.2"/><circle cx="226.1" cy="450.3" r="2.2"/><circle cx="233.1" cy="451.7" r="2.2"/><circle cx="240.0" cy="451.7" r="2.2"/><circle cx="247.0" cy="451.5" r="2.2"/><circle cx="253.9" cy="450.2" r="2.2"/><circle cx="260.9" cy="451.3" r="2.2"/><circle cx="267.8" cy="449.7" r="2.2"/></g>
<g fill="none" stroke="#3F7DB8" stroke-width="1.3"><circle cx="357.3" cy="396.5" r="2.3"/><circle cx="364.4" cy="399.2" r="2.3"/><circle cx="371.4" cy="401.5" r="2.3"/><circle cx="378.5" cy="397.9" r="2.3"/><circle cx="385.5" cy="398.4" r="2.3"/><circle cx="392.5" cy="397.6" r="2.3"/><circle cx="399.6" cy="396.2" r="2.3"/><circle cx="406.6" cy="394.5" r="2.3"/><circle cx="413.6" cy="400.8" r="2.3"/><circle cx="420.7" cy="397.2" r="2.3"/><circle cx="427.7" cy="396.5" r="2.3"/><circle cx="434.8" cy="397.9" r="2.3"/><circle cx="441.8" cy="396.9" r="2.3"/><circle cx="448.8" cy="397.1" r="2.3"/><circle cx="455.9" cy="399.0" r="2.3"/><circle cx="462.9" cy="403.6" r="2.3"/><circle cx="470.0" cy="393.9" r="2.3"/><circle cx="477.0" cy="400.5" r="2.3"/><circle cx="484.0" cy="398.2" r="2.3"/><circle cx="491.1" cy="401.9" r="2.3"/><circle cx="498.1" cy="401.2" r="2.3"/><circle cx="505.1" cy="399.4" r="2.3"/><circle cx="512.2" cy="397.9" r="2.3"/><circle cx="519.2" cy="398.3" r="2.3"/><circle cx="526.3" cy="397.2" r="2.3"/><circle cx="533.3" cy="396.0" r="2.3"/><circle cx="540.3" cy="393.9" r="2.3"/><circle cx="547.4" cy="398.9" r="2.3"/><circle cx="554.4" cy="398.0" r="2.3"/><circle cx="561.4" cy="400.7" r="2.3"/><circle cx="568.5" cy="397.2" r="2.3"/><circle cx="575.5" cy="397.4" r="2.3"/></g>
<g fill="none" stroke="#91BADB" stroke-width="1.3"><circle cx="52.4" cy="453.7" r="2.2"/><circle cx="59.3" cy="452.9" r="2.2"/><circle cx="66.3" cy="451.1" r="2.2"/><circle cx="73.2" cy="453.0" r="2.2"/><circle cx="80.2" cy="450.5" r="2.2"/><circle cx="87.1" cy="453.2" r="2.2"/><circle cx="94.1" cy="452.8" r="2.2"/><circle cx="101.0" cy="453.2" r="2.2"/><circle cx="108.0" cy="452.7" r="2.2"/><circle cx="114.9" cy="453.2" r="2.2"/><circle cx="121.9" cy="451.6" r="2.2"/><circle cx="128.8" cy="451.6" r="2.2"/><circle cx="135.8" cy="453.8" r="2.2"/><circle cx="142.7" cy="450.6" r="2.2"/><circle cx="149.7" cy="452.0" r="2.2"/><circle cx="156.6" cy="453.3" r="2.2"/><circle cx="163.6" cy="453.5" r="2.2"/><circle cx="170.5" cy="451.1" r="2.2"/><circle cx="177.5" cy="450.4" r="2.2"/><circle cx="184.4" cy="450.7" r="2.2"/><circle cx="191.4" cy="451.8" r="2.2"/><circle cx="198.3" cy="451.5" r="2.2"/><circle cx="205.3" cy="451.7" r="2.2"/><circle cx="212.2" cy="450.7" r="2.2"/><circle cx="219.2" cy="451.9" r="2.2"/><circle cx="226.1" cy="449.3" r="2.2"/><circle cx="233.1" cy="451.7" r="2.2"/><circle cx="240.0" cy="451.9" r="2.2"/><circle cx="247.0" cy="451.1" r="2.2"/><circle cx="253.9" cy="453.0" r="2.2"/><circle cx="260.9" cy="452.6" r="2.2"/><circle cx="267.8" cy="454.3" r="2.2"/></g>
<g fill="none" stroke="#91BADB" stroke-width="1.3"><circle cx="357.3" cy="396.3" r="2.3"/><circle cx="364.4" cy="394.1" r="2.3"/><circle cx="371.4" cy="398.3" r="2.3"/><circle cx="378.5" cy="397.2" r="2.3"/><circle cx="385.5" cy="394.8" r="2.3"/><circle cx="392.5" cy="398.2" r="2.3"/><circle cx="399.6" cy="398.3" r="2.3"/><circle cx="406.6" cy="397.1" r="2.3"/><circle cx="413.6" cy="397.1" r="2.3"/><circle cx="420.7" cy="395.8" r="2.3"/><circle cx="427.7" cy="396.4" r="2.3"/><circle cx="434.8" cy="398.0" r="2.3"/><circle cx="441.8" cy="396.7" r="2.3"/><circle cx="448.8" cy="398.4" r="2.3"/><circle cx="455.9" cy="397.3" r="2.3"/><circle cx="462.9" cy="394.4" r="2.3"/><circle cx="470.0" cy="399.8" r="2.3"/><circle cx="477.0" cy="397.2" r="2.3"/><circle cx="484.0" cy="397.7" r="2.3"/><circle cx="491.1" cy="396.1" r="2.3"/><circle cx="498.1" cy="399.0" r="2.3"/><circle cx="505.1" cy="400.5" r="2.3"/><circle cx="512.2" cy="399.7" r="2.3"/><circle cx="519.2" cy="395.9" r="2.3"/><circle cx="526.3" cy="396.0" r="2.3"/><circle cx="533.3" cy="399.6" r="2.3"/><circle cx="540.3" cy="396.0" r="2.3"/><circle cx="547.4" cy="396.7" r="2.3"/><circle cx="554.4" cy="399.7" r="2.3"/><circle cx="561.4" cy="396.4" r="2.3"/><circle cx="568.5" cy="399.3" r="2.3"/><circle cx="575.5" cy="400.0" r="2.3"/></g>
<g fill="none" stroke="#DD4E3D" stroke-width="1.3"><circle cx="52.4" cy="454.0" r="2.2"/><circle cx="59.3" cy="453.8" r="2.2"/><circle cx="66.3" cy="453.8" r="2.2"/><circle cx="73.2" cy="453.9" r="2.2"/><circle cx="80.2" cy="453.8" r="2.2"/><circle cx="87.1" cy="453.8" r="2.2"/><circle cx="94.1" cy="453.8" r="2.2"/><circle cx="101.0" cy="454.1" r="2.2"/><circle cx="108.0" cy="453.8" r="2.2"/><circle cx="114.9" cy="453.7" r="2.2"/><circle cx="121.9" cy="454.1" r="2.2"/><circle cx="128.8" cy="453.5" r="2.2"/><circle cx="135.8" cy="453.8" r="2.2"/><circle cx="142.7" cy="453.8" r="2.2"/><circle cx="149.7" cy="453.8" r="2.2"/><circle cx="156.6" cy="453.8" r="2.2"/><circle cx="163.6" cy="454.0" r="2.2"/><circle cx="170.5" cy="453.3" r="2.2"/><circle cx="177.5" cy="454.4" r="2.2"/><circle cx="184.4" cy="453.0" r="2.2"/><circle cx="191.4" cy="454.1" r="2.2"/><circle cx="198.3" cy="454.3" r="2.2"/><circle cx="205.3" cy="453.7" r="2.2"/><circle cx="212.2" cy="453.9" r="2.2"/><circle cx="219.2" cy="454.1" r="2.2"/><circle cx="226.1" cy="453.6" r="2.2"/><circle cx="233.1" cy="453.6" r="2.2"/><circle cx="240.0" cy="453.9" r="2.2"/><circle cx="247.0" cy="454.2" r="2.2"/><circle cx="253.9" cy="453.8" r="2.2"/><circle cx="260.9" cy="454.2" r="2.2"/><circle cx="267.8" cy="453.5" r="2.2"/></g>
<g fill="none" stroke="#DD4E3D" stroke-width="1.3"><circle cx="357.3" cy="405.2" r="2.3"/><circle cx="364.4" cy="403.9" r="2.3"/><circle cx="371.4" cy="402.1" r="2.3"/><circle cx="378.5" cy="404.7" r="2.3"/><circle cx="385.5" cy="404.3" r="2.3"/><circle cx="392.5" cy="401.0" r="2.3"/><circle cx="399.6" cy="405.1" r="2.3"/><circle cx="406.6" cy="404.1" r="2.3"/><circle cx="413.6" cy="401.7" r="2.3"/><circle cx="420.7" cy="403.5" r="2.3"/><circle cx="427.7" cy="402.5" r="2.3"/><circle cx="434.8" cy="400.7" r="2.3"/><circle cx="441.8" cy="399.4" r="2.3"/><circle cx="448.8" cy="403.7" r="2.3"/><circle cx="455.9" cy="404.2" r="2.3"/><circle cx="462.9" cy="402.5" r="2.3"/><circle cx="470.0" cy="402.9" r="2.3"/><circle cx="477.0" cy="405.1" r="2.3"/><circle cx="484.0" cy="400.9" r="2.3"/><circle cx="491.1" cy="402.4" r="2.3"/><circle cx="498.1" cy="403.5" r="2.3"/><circle cx="505.1" cy="403.2" r="2.3"/><circle cx="512.2" cy="402.3" r="2.3"/><circle cx="519.2" cy="404.7" r="2.3"/><circle cx="526.3" cy="403.4" r="2.3"/><circle cx="533.3" cy="404.2" r="2.3"/><circle cx="540.3" cy="405.3" r="2.3"/><circle cx="547.4" cy="401.8" r="2.3"/><circle cx="554.4" cy="404.5" r="2.3"/><circle cx="561.4" cy="403.0" r="2.3"/><circle cx="568.5" cy="402.2" r="2.3"/><circle cx="575.5" cy="401.1" r="2.3"/></g>
<rect x="45.5" y="371.5" width="232" height="123" fill="none" stroke="#444" stroke-width="1.1"/>
<text x="41.3" y="498.4" font-size="10.5" text-anchor="end" fill="#111" stroke="#111" stroke-width="0.30" >0</text>
<line x1="45.6" y1="479.5" x2="47.7" y2="479.5" stroke="#444" stroke-width="1" />
<line x1="45.6" y1="463.5" x2="49" y2="463.5" stroke="#444" stroke-width="1" />
<text x="41.3" y="467.5" font-size="10.5" text-anchor="end" fill="#111" stroke="#111" stroke-width="0.30" >100</text>
<line x1="45.6" y1="448.5" x2="47.7" y2="448.5" stroke="#444" stroke-width="1" />
<line x1="45.6" y1="432.5" x2="49" y2="432.5" stroke="#444" stroke-width="1" />
<text x="41.3" y="436.6" font-size="10.5" text-anchor="end" fill="#111" stroke="#111" stroke-width="0.30" >200</text>
<line x1="45.6" y1="417.5" x2="47.7" y2="417.5" stroke="#444" stroke-width="1" />
<line x1="45.6" y1="402.5" x2="49" y2="402.5" stroke="#444" stroke-width="1" />
<text x="41.3" y="405.6" font-size="10.5" text-anchor="end" fill="#111" stroke="#111" stroke-width="0.30" >300</text>
<line x1="45.6" y1="386.5" x2="47.7" y2="386.5" stroke="#444" stroke-width="1" />
<text x="41.3" y="374.7" font-size="10.5" text-anchor="end" fill="#111" stroke="#111" stroke-width="0.30" >400</text>
<text x="45.6" y="510.3" font-size="10.5" text-anchor="middle" fill="#111" stroke="#111" stroke-width="0.30" >0</text>
<line x1="84.5" y1="494.8" x2="84.5" y2="492.7" stroke="#444" stroke-width="1" />
<line x1="122.5" y1="494.8" x2="122.5" y2="491.4" stroke="#444" stroke-width="1" />
<text x="122.8" y="510.3" font-size="10.5" text-anchor="middle" fill="#111" stroke="#111" stroke-width="0.30" >20</text>
<line x1="161.5" y1="494.8" x2="161.5" y2="492.7" stroke="#444" stroke-width="1" />
<line x1="200.5" y1="494.8" x2="200.5" y2="491.4" stroke="#444" stroke-width="1" />
<text x="200.1" y="510.3" font-size="10.5" text-anchor="middle" fill="#111" stroke="#111" stroke-width="0.30" >40</text>
<line x1="238.5" y1="494.8" x2="238.5" y2="492.7" stroke="#444" stroke-width="1" />
<text x="277.3" y="510.3" font-size="10.5" text-anchor="middle" fill="#111" stroke="#111" stroke-width="0.30" >60</text>
<text x="161.5" y="522.6" font-size="10.5" text-anchor="middle" fill="#111" stroke="#111" stroke-width="0.30" >Time (min)</text>
<text transform="translate(10.9,434) rotate(-90)" font-size="10.5" text-anchor="middle" fill="#111" stroke="#111" stroke-width="0.3"><tspan font-style="italic">D</tspan><tspan font-size="6.5" dy="1.2">h</tspan><tspan dy="-1.2"> (nm)</tspan></text>
<rect x="350.5" y="371.5" width="235" height="123" fill="none" stroke="#444" stroke-width="1.1"/>
<rect x="347.5" y="469.3" width="6" height="2.2" fill="#fff"/>
<line x1="347.2" y1="470.4" x2="353.8" y2="468.4" stroke="#444" stroke-width="0.9" />
<line x1="347.2" y1="472.6" x2="353.8" y2="470.6" stroke="#444" stroke-width="0.9" />
<rect x="582.1" y="469.3" width="6" height="2.2" fill="#fff"/>
<line x1="581.8" y1="470.4" x2="588.4" y2="468.4" stroke="#444" stroke-width="0.9" />
<line x1="581.8" y1="472.6" x2="588.4" y2="470.6" stroke="#444" stroke-width="0.9" />
<line x1="350.5" y1="394.5" x2="353.9" y2="394.5" stroke="#444" stroke-width="1" />
<text x="345.6" y="398.2" font-size="10.5" text-anchor="end" fill="#111" stroke="#111" stroke-width="0.30" >1.00</text>
<line x1="350.5" y1="424.5" x2="353.9" y2="424.5" stroke="#444" stroke-width="1" />
<text x="345.6" y="428.2" font-size="10.5" text-anchor="end" fill="#111" stroke="#111" stroke-width="0.30" >0.98</text>
<line x1="350.5" y1="454.5" x2="353.9" y2="454.5" stroke="#444" stroke-width="1" />
<text x="345.6" y="458.2" font-size="10.5" text-anchor="end" fill="#111" stroke="#111" stroke-width="0.30" >0.96</text>
<line x1="350.5" y1="409.5" x2="352.6" y2="409.5" stroke="#444" stroke-width="1" />
<line x1="350.5" y1="439.5" x2="352.6" y2="439.5" stroke="#444" stroke-width="1" />
<line x1="350.5" y1="482.5" x2="352.6" y2="482.5" stroke="#444" stroke-width="1" />
<text x="345.6" y="498.5" font-size="10.5" text-anchor="end" fill="#111" stroke="#111" stroke-width="0.30" >0.00</text>
<text x="350.5" y="510.3" font-size="10.5" text-anchor="middle" fill="#111" stroke="#111" stroke-width="0.30" >0</text>
<line x1="389.5" y1="494.9" x2="389.5" y2="492.8" stroke="#444" stroke-width="1" />
<line x1="428.5" y1="494.9" x2="428.5" y2="491.5" stroke="#444" stroke-width="1" />
<text x="428.7" y="510.3" font-size="10.5" text-anchor="middle" fill="#111" stroke="#111" stroke-width="0.30" >20</text>
<line x1="467.5" y1="494.9" x2="467.5" y2="492.8" stroke="#444" stroke-width="1" />
<line x1="506.5" y1="494.9" x2="506.5" y2="491.5" stroke="#444" stroke-width="1" />
<text x="506.9" y="510.3" font-size="10.5" text-anchor="middle" fill="#111" stroke="#111" stroke-width="0.30" >40</text>
<line x1="546.5" y1="494.9" x2="546.5" y2="492.8" stroke="#444" stroke-width="1" />
<text x="585.1" y="510.3" font-size="10.5" text-anchor="middle" fill="#111" stroke="#111" stroke-width="0.30" >60</text>
<text x="466.8" y="522.6" font-size="10.5" text-anchor="middle" fill="#111" stroke="#111" stroke-width="0.30" >Time (min)</text>
<text transform="translate(317.6,433.6) rotate(-90)" font-size="10.5" text-anchor="middle" fill="#111" stroke="#111" stroke-width="0.3"><tspan font-style="italic">A</tspan><tspan font-size="5.8" dy="1.2">t</tspan><tspan dy="-1.2">/</tspan><tspan font-style="italic">A</tspan><tspan font-size="5.8" dy="1.2">0</tspan></text>
<circle cx="605.2" cy="382.4" r="3.55" fill="none" stroke="#DD4E3D" stroke-width="1.35"/>
<text x="623.9" y="385.7" font-size="9.0" text-anchor="start" fill="#111" stroke="#111" stroke-width="0.22" >AGW</text>
<circle cx="605.2" cy="400.4" r="3.55" fill="none" stroke="#91BADB" stroke-width="1.35"/>
<text x="623.9" y="403.7" font-size="9.0" text-anchor="start" fill="#111" stroke="#111" stroke-width="0.22" >10 mM NaCl</text>
<circle cx="605.2" cy="418.1" r="3.55" fill="none" stroke="#3F7DB8" stroke-width="1.35"/>
<text x="623.9" y="421.4" font-size="9.0" text-anchor="start" fill="#111" stroke="#111" stroke-width="0.22" >100 mM NaCl</text>
<circle cx="605.2" cy="435.7" r="3.55" fill="none" stroke="#25507D" stroke-width="1.35"/>
<text x="623.9" y="439" font-size="9.0" text-anchor="start" fill="#111" stroke="#111" stroke-width="0.22" >500 mM NaCl</text>
<circle cx="605.2" cy="453.4" r="3.55" fill="none" stroke="#8FD0C6" stroke-width="1.35"/>
<text x="623.9" y="456.7" font-size="9.0" text-anchor="start" fill="#111" stroke="#111" stroke-width="0.22" >3 mM CaCl2</text>
<circle cx="605.2" cy="470.1" r="3.55" fill="none" stroke="#3A9E92" stroke-width="1.35"/>
<text x="623.9" y="473.4" font-size="9.0" text-anchor="start" fill="#111" stroke="#111" stroke-width="0.22" >33 mM CaCl2</text>
<circle cx="605.2" cy="487.8" r="3.55" fill="none" stroke="#29685E" stroke-width="1.35"/>
<text x="623.9" y="491.1" font-size="9.0" text-anchor="start" fill="#111" stroke="#111" stroke-width="0.22" >166 mM CaCl2</text>
<defs><clipPath id="cf"><rect x="45.7" y="547.4" width="230.7" height="153.5"/></clipPath><clipPath id="cg"><rect x="350.4" y="547.4" width="234.20000000000005" height="153.39999999999998"/></clipPath></defs>
<line x1="52.2" y1="662.9" x2="276.4" y2="662.9" stroke="#3AA396" stroke-width="1.6" stroke-dasharray="6.5,2.6"/>
<line x1="52.2" y1="662.9" x2="276.4" y2="662.9" stroke="#6B4FCB" stroke-width="1.2" stroke-dasharray="1.5,1.6" stroke-opacity="0.75"/>
<polyline points="50.31,991.59 50.34,937.42 50.36,898.58 50.38,869.37 50.40,846.60 50.42,828.35 50.45,813.40 50.47,800.93 50.49,790.37 50.51,781.31 50.54,773.45 50.56,766.57 50.58,760.50 50.60,755.09 50.63,750.26 50.65,745.91 50.67,741.97 50.69,738.38 50.71,735.11 50.74,732.11 50.76,729.35 50.78,726.80 50.80,724.44 50.83,722.25 50.85,720.21 50.87,718.30 50.89,716.52 50.92,714.84 50.94,713.27 50.96,711.79 50.98,710.40 51.00,709.08 51.03,707.84 51.05,706.66 51.07,705.54 51.09,704.47 51.12,703.46 51.14,702.50 51.16,701.58 51.18,700.70 51.21,699.86 51.23,699.06 51.25,698.29 51.27,697.55 51.30,696.85 51.32,696.17 51.34,695.52 51.36,694.89 51.38,694.29 51.41,693.71 51.43,693.15 51.45,692.61 51.47,692.09 51.50,691.59 51.52,691.10 51.54,690.63 51.56,690.18 51.59,689.74 51.61,689.31 51.63,688.90 51.65,688.50 51.67,688.11 51.70,687.74 51.72,687.37 51.74,687.02 51.76,686.67 51.79,686.34 51.81,686.01 51.83,685.70 51.85,685.39 51.88,685.09 51.90,684.80 51.92,684.51 51.94,684.24 51.96,683.97 51.99,683.70 52.01,683.45 52.03,683.20 52.05,682.95 52.08,682.71 52.10,682.48 52.12,682.25 52.14,682.03 52.17,681.81 52.19,681.60 52.21,681.39 52.23,681.19 52.25,680.99 52.28,680.80 52.30,680.61 52.32,680.42 52.34,680.24 52.37,680.06 52.39,679.89 52.41,679.71 52.43,679.55 52.46,679.38 52.48,679.22 52.50,679.06 52.52,678.91 52.54,678.75 52.57,678.60 52.59,678.46 52.61,678.31 52.63,678.17 52.66,678.03 52.68,677.90 52.70,677.76 52.72,677.63 52.75,677.50 52.77,677.38 52.79,677.25 52.81,677.13 52.83,677.01 52.86,676.89 52.88,676.77 52.90,676.66 52.92,676.55 52.95,676.44 52.97,676.33 52.99,676.22 53.01,676.11 53.04,676.01 53.06,675.91 53.08,675.81 53.10,675.71 53.13,675.61 53.15,675.51 53.17,675.42 53.19,675.32 53.21,675.23 53.24,675.14 53.26,675.05 53.28,674.96 53.30,674.88 53.33,674.79 53.35,674.71 53.37,674.62 53.39,674.54 53.42,674.46 53.44,674.38 53.46,674.30 53.48,674.23 53.50,674.15 53.53,674.07 53.55,674.00 53.57,673.93 53.59,673.85 53.62,673.78 53.64,673.71 53.66,673.64 53.68,673.57 53.71,673.51 53.73,673.44 53.75,673.37 53.77,673.31 53.79,673.24 53.82,673.18 53.84,673.12 53.86,673.05 53.88,672.99 53.91,672.93 53.93,672.87 53.95,672.81 53.97,672.75 54.00,672.69 54.02,672.64 54.04,672.58 54.06,672.52 54.08,672.47 54.11,672.41 54.13,672.36 54.15,672.31 54.17,672.25 54.20,672.20 54.22,672.15 54.24,672.10 54.26,672.05 54.29,672.00 54.31,671.95 54.33,671.90 54.35,671.85 54.37,671.80 54.40,671.76 54.42,671.71 54.44,671.66 54.46,671.62 54.49,671.57 54.51,671.53 54.53,671.48 54.55,671.44 54.58,671.40 54.60,671.35 54.62,671.31 54.64,671.27 54.66,671.23 54.69,671.18 54.71,671.14 54.73,671.10 54.75,671.06 54.78,671.02 54.80,670.98 54.82,670.94 54.84,670.91 54.87,670.87 54.89,670.83 54.91,670.79 54.93,670.75 54.96,670.72 54.98,670.68 55.00,670.65 55.02,670.61 55.04,670.57 55.07,670.54 55.09,670.50 55.11,670.47 55.13,670.43 55.16,670.40 55.18,670.37 55.20,670.33 55.22,670.30 55.25,670.27 55.27,670.24 55.29,670.20 55.31,670.17 55.33,670.14 55.36,670.11 55.38,670.08 55.40,670.05 55.42,670.02 55.45,669.99 55.47,669.96 55.49,669.93 55.51,669.90 55.54,669.87 55.56,669.84 55.58,669.81 55.60,669.78 55.62,669.75 55.65,669.72 55.67,669.70 55.69,669.67 55.71,669.64 55.74,669.61 55.76,669.59 55.78,669.56 55.80,669.53 55.83,669.51 55.85,669.48 55.87,669.46 55.89,669.43 55.91,669.41 55.94,669.38 55.96,669.35 55.98,669.33 56.00,669.31 56.03,669.28 56.05,669.26 56.07,669.23 56.09,669.21 56.12,669.18 56.14,669.16 56.16,669.14 56.18,669.11 56.20,669.09 56.23,669.07 56.25,669.05 56.27,669.02 56.29,669.00 56.32,668.98 56.34,668.96 56.36,668.93 56.38,668.91 56.41,668.89 56.43,668.87 56.45,668.85 56.47,668.83 56.50,668.81 56.52,668.78 56.54,668.76 56.56,668.74 56.58,668.72 56.61,668.70 56.63,668.68 56.65,668.66 56.67,668.64 56.70,668.62 56.72,668.60 56.74,668.58 56.76,668.56 56.79,668.55 56.81,668.53 56.83,668.51 56.85,668.49 56.87,668.47 56.90,668.45 56.92,668.43 56.94,668.41 56.96,668.40 56.99,668.38 56.99,668.38 57.72,667.84 58.45,667.40 59.19,667.04 59.92,666.72 60.66,666.46 61.39,666.22 62.12,666.02 62.86,665.84 63.59,665.68 64.32,665.53 65.06,665.40 65.79,665.28 66.53,665.18 67.26,665.08 67.99,664.99 68.73,664.91 69.46,664.83 70.19,664.76 70.93,664.69 71.66,664.63 72.40,664.57 73.13,664.52 73.86,664.47 74.60,664.42 75.33,664.38 76.07,664.34 76.80,664.30 77.53,664.26 78.27,664.22 79.00,664.19 79.73,664.16 80.47,664.13 81.20,664.10 81.94,664.07 82.67,664.04 83.40,664.02 84.14,664.00 84.87,663.97 85.61,663.95 86.34,663.93 87.07,663.91 87.81,663.89 88.54,663.87 89.27,663.85 90.01,663.83 90.74,663.82 91.48,663.80 92.21,663.78 92.94,663.77 93.68,663.76 94.41,663.74 95.14,663.73 95.88,663.71 96.61,663.70 97.35,663.69 98.08,663.68 98.81,663.66 99.55,663.65 100.28,663.64 101.02,663.63 101.75,663.62 102.48,663.61 103.22,663.60 103.95,663.59 104.68,663.58 105.42,663.57 106.15,663.56 106.89,663.56 107.62,663.55 108.35,663.54 109.09,663.53 109.82,663.52 110.56,663.52 111.29,663.51 112.02,663.50 112.76,663.49 113.49,663.49 114.22,663.48 114.96,663.47 115.69,663.47 116.43,663.46 117.16,663.46 117.89,663.45 118.63,663.44 119.36,663.44 120.10,663.43 120.83,663.43 121.56,663.42 122.30,663.42 123.03,663.41 123.76,663.41 124.50,663.40 125.23,663.40 125.97,663.39 126.70,663.39 127.43,663.38 128.17,663.38 128.90,663.37 129.63,663.37 130.37,663.36 131.10,663.36 131.84,663.36 132.57,663.35 133.30,663.35 134.04,663.34 134.77,663.34 135.51,663.34 136.24,663.33 136.97,663.33 137.71,663.32 138.44,663.32 139.17,663.32 139.91,663.31 140.64,663.31 141.38,663.31 142.11,663.30 142.84,663.30 143.58,663.30 144.31,663.30 145.05,663.29 145.78,663.29 146.51,663.29 147.25,663.28 147.98,663.28 148.71,663.28 149.45,663.27 150.18,663.27 150.92,663.27 151.65,663.27 152.38,663.26 153.12,663.26 153.85,663.26 154.58,663.26 155.32,663.25 156.05,663.25 156.79,663.25 157.52,663.25 158.25,663.24 158.99,663.24 159.72,663.24 160.46,663.24 161.19,663.23 161.92,663.23 162.66,663.23 163.39,663.23 164.12,663.23 164.86,663.22 165.59,663.22 166.33,663.22 167.06,663.22 167.79,663.22 168.53,663.21 169.26,663.21 170.00,663.21 170.73,663.21 171.46,663.21 172.20,663.20 172.93,663.20 173.66,663.20 174.40,663.20 175.13,663.20 175.87,663.20 176.60,663.19 177.33,663.19 178.07,663.19 178.80,663.19 179.53,663.19 180.27,663.19 181.00,663.18 181.74,663.18 182.47,663.18 183.20,663.18 183.94,663.18 184.67,663.18 185.41,663.17 186.14,663.17 186.87,663.17 187.61,663.17 188.34,663.17 189.07,663.17 189.81,663.17 190.54,663.16 191.28,663.16 192.01,663.16 192.74,663.16 193.48,663.16 194.21,663.16 194.95,663.16 195.68,663.16 196.41,663.15 197.15,663.15 197.88,663.15 198.61,663.15 199.35,663.15 200.08,663.15 200.82,663.15 201.55,663.15 202.28,663.14 203.02,663.14 203.75,663.14 204.49,663.14 205.22,663.14 205.95,663.14 206.69,663.14 207.42,663.14 208.15,663.14 208.89,663.13 209.62,663.13 210.36,663.13 211.09,663.13 211.82,663.13 212.56,663.13 213.29,663.13 214.02,663.13 214.76,663.13 215.49,663.12 216.23,663.12 216.96,663.12 217.69,663.12 218.43,663.12 219.16,663.12 219.90,663.12 220.63,663.12 221.36,663.12 222.10,663.12 222.83,663.12 223.56,663.11 224.30,663.11 225.03,663.11 225.77,663.11 226.50,663.11 227.23,663.11 227.97,663.11 228.70,663.11 229.44,663.11 230.17,663.11 230.90,663.11 231.64,663.10 232.37,663.10 233.10,663.10 233.84,663.10 234.57,663.10 235.31,663.10 236.04,663.10 236.77,663.10 237.51,663.10 238.24,663.10 238.97,663.10 239.71,663.10 240.44,663.10 241.18,663.09 241.91,663.09 242.64,663.09 243.38,663.09 244.11,663.09 244.85,663.09 245.58,663.09 246.31,663.09 247.05,663.09 247.78,663.09 248.51,663.09 249.25,663.09 249.98,663.09 250.72,663.09 251.45,663.08 252.18,663.08 252.92,663.08 253.65,663.08 254.39,663.08 255.12,663.08 255.85,663.08 256.59,663.08 257.32,663.08 258.05,663.08 258.79,663.08 259.52,663.08 260.26,663.08 260.99,663.08 261.72,663.08 262.46,663.08 263.19,663.07 263.92,663.07 264.66,663.07 265.39,663.07 266.13,663.07 266.86,663.07 267.59,663.07 268.33,663.07 269.06,663.07 269.80,663.07 270.53,663.07 271.26,663.07 272.00,663.07 272.73,663.07 273.46,663.07 274.20,663.07 274.93,663.07 275.67,663.06 276.40,663.06" fill="none" stroke="#E3832A" stroke-width="1.6" stroke-dasharray="5,3.5" clip-path="url(#cf)"/>
<polyline points="50.31,797.14 50.34,747.55 50.36,712.59 50.38,686.74 50.40,666.95 50.42,651.36 50.45,638.82 50.47,628.55 50.49,620.01 50.51,612.82 50.54,606.71 50.56,601.47 50.58,596.93 50.60,592.97 50.63,589.51 50.65,586.46 50.67,583.75 50.69,581.35 50.71,579.20 50.74,577.28 50.76,575.56 50.78,574.00 50.80,572.60 50.83,571.33 50.85,570.18 50.87,569.13 50.89,568.18 50.92,567.31 50.94,566.52 50.96,565.80 50.98,565.14 51.00,564.54 51.03,563.99 51.05,563.48 51.07,563.02 51.09,562.60 51.12,562.21 51.14,561.86 51.16,561.54 51.18,561.24 51.21,560.97 51.23,560.73 51.25,560.51 51.27,560.31 51.30,560.12 51.32,559.96 51.34,559.81 51.36,559.67 51.38,559.55 51.41,559.45 51.43,559.35 51.45,559.27 51.47,559.20 51.50,559.14 51.52,559.09 51.54,559.04 51.56,559.01 51.59,558.98 51.61,558.96 51.63,558.95 51.65,558.94 51.67,558.94 51.70,558.95 51.72,558.96 51.74,558.97 51.76,558.99 51.79,559.02 51.81,559.05 51.83,559.08 51.85,559.12 51.88,559.16 51.90,559.20 51.92,559.25 51.94,559.30 51.96,559.35 51.99,559.41 52.01,559.47 52.03,559.53 52.05,559.59 52.08,559.66 52.10,559.72 52.12,559.79 52.14,559.86 52.17,559.94 52.19,560.01 52.21,560.09 52.23,560.16 52.25,560.24 52.28,560.32 52.30,560.40 52.32,560.48 52.34,560.57 52.37,560.65 52.39,560.73 52.41,560.82 52.43,560.91 52.46,560.99 52.48,561.08 52.50,561.17 52.52,561.26 52.54,561.35 52.57,561.44 52.59,561.53 52.61,561.62 52.63,561.72 52.66,561.81 52.68,561.90 52.70,561.99 52.72,562.09 52.75,562.18 52.77,562.28 52.79,562.37 52.81,562.47 52.83,562.56 52.86,562.66 52.88,562.75 52.90,562.85 52.92,562.94 52.95,563.04 52.97,563.13 52.99,563.23 53.01,563.33 53.04,563.42 53.06,563.52 53.08,563.62 53.10,563.71 53.13,563.81 53.15,563.90 53.17,564.00 53.19,564.10 53.21,564.19 53.24,564.29 53.26,564.38 53.28,564.48 53.30,564.58 53.33,564.67 53.35,564.77 53.37,564.86 53.39,564.96 53.42,565.06 53.44,565.15 53.46,565.25 53.48,565.34 53.50,565.44 53.53,565.53 53.55,565.63 53.57,565.72 53.59,565.81 53.62,565.91 53.64,566.00 53.66,566.10 53.68,566.19 53.71,566.28 53.73,566.38 53.75,566.47 53.77,566.56 53.79,566.66 53.82,566.75 53.84,566.84 53.86,566.93 53.88,567.03 53.91,567.12 53.93,567.21 53.95,567.30 53.97,567.39 54.00,567.48 54.02,567.58 54.04,567.67 54.06,567.76 54.08,567.85 54.11,567.94 54.13,568.03 54.15,568.12 54.17,568.21 54.20,568.30 54.22,568.39 54.24,568.47 54.26,568.56 54.29,568.65 54.31,568.74 54.33,568.83 54.35,568.92 54.37,569.00 54.40,569.09 54.42,569.18 54.44,569.26 54.46,569.35 54.49,569.44 54.51,569.52 54.53,569.61 54.55,569.70 54.58,569.78 54.60,569.87 54.62,569.95 54.64,570.04 54.66,570.12 54.69,570.21 54.71,570.29 54.73,570.38 54.75,570.46 54.78,570.54 54.80,570.63 54.82,570.71 54.84,570.79 54.87,570.87 54.89,570.96 54.91,571.04 54.93,571.12 54.96,571.20 54.98,571.29 55.00,571.37 55.02,571.45 55.04,571.53 55.07,571.61 55.09,571.69 55.11,571.77 55.13,571.85 55.16,571.93 55.18,572.01 55.20,572.09 55.22,572.17 55.25,572.25 55.27,572.33 55.29,572.41 55.31,572.49 55.33,572.56 55.36,572.64 55.38,572.72 55.40,572.80 55.42,572.87 55.45,572.95 55.47,573.03 55.49,573.11 55.51,573.18 55.54,573.26 55.56,573.34 55.58,573.41 55.60,573.49 55.62,573.56 55.65,573.64 55.67,573.71 55.69,573.79 55.71,573.86 55.74,573.94 55.76,574.01 55.78,574.09 55.80,574.16 55.83,574.23 55.85,574.31 55.87,574.38 55.89,574.46 55.91,574.53 55.94,574.60 55.96,574.67 55.98,574.75 56.00,574.82 56.03,574.89 56.05,574.96 56.07,575.04 56.09,575.11 56.12,575.18 56.14,575.25 56.16,575.32 56.18,575.39 56.20,575.46 56.23,575.53 56.25,575.60 56.27,575.67 56.29,575.74 56.32,575.81 56.34,575.88 56.36,575.95 56.38,576.02 56.41,576.09 56.43,576.16 56.45,576.23 56.47,576.30 56.50,576.37 56.52,576.43 56.54,576.50 56.56,576.57 56.58,576.64 56.61,576.70 56.63,576.77 56.65,576.84 56.67,576.91 56.70,576.97 56.72,577.04 56.74,577.11 56.76,577.17 56.79,577.24 56.81,577.31 56.83,577.37 56.85,577.44 56.87,577.50 56.90,577.57 56.92,577.63 56.94,577.70 56.96,577.76 56.99,577.83 56.99,577.83 57.72,579.88 58.45,581.78 59.19,583.54 59.92,585.20 60.66,586.75 61.39,588.21 62.12,589.59 62.86,590.90 63.59,592.14 64.32,593.33 65.06,594.46 65.79,595.53 66.53,596.57 67.26,597.56 67.99,598.51 68.73,599.42 69.46,600.30 70.19,601.15 70.93,601.97 71.66,602.77 72.40,603.53 73.13,604.28 73.86,605.00 74.60,605.70 75.33,606.38 76.07,607.03 76.80,607.68 77.53,608.30 78.27,608.91 79.00,609.50 79.73,610.08 80.47,610.64 81.20,611.19 81.94,611.73 82.67,612.25 83.40,612.76 84.14,613.27 84.87,613.76 85.61,614.24 86.34,614.71 87.07,615.17 87.81,615.62 88.54,616.06 89.27,616.49 90.01,616.92 90.74,617.33 91.48,617.74 92.21,618.15 92.94,618.54 93.68,618.93 94.41,619.31 95.14,619.68 95.88,620.05 96.61,620.41 97.35,620.77 98.08,621.12 98.81,621.46 99.55,621.80 100.28,622.14 101.02,622.47 101.75,622.79 102.48,623.11 103.22,623.42 103.95,623.73 104.68,624.04 105.42,624.34 106.15,624.63 106.89,624.93 107.62,625.21 108.35,625.50 109.09,625.78 109.82,626.05 110.56,626.33 111.29,626.60 112.02,626.86 112.76,627.12 113.49,627.38 114.22,627.64 114.96,627.89 115.69,628.14 116.43,628.39 117.16,628.63 117.89,628.87 118.63,629.11 119.36,629.34 120.10,629.58 120.83,629.81 121.56,630.03 122.30,630.26 123.03,630.48 123.76,630.70 124.50,630.92 125.23,631.13 125.97,631.34 126.70,631.55 127.43,631.76 128.17,631.96 128.90,632.17 129.63,632.37 130.37,632.57 131.10,632.76 131.84,632.96 132.57,633.15 133.30,633.34 134.04,633.53 134.77,633.72 135.51,633.90 136.24,634.09 136.97,634.27 137.71,634.45 138.44,634.63 139.17,634.80 139.91,634.98 140.64,635.15 141.38,635.32 142.11,635.49 142.84,635.66 143.58,635.83 144.31,635.99 145.05,636.16 145.78,636.32 146.51,636.48 147.25,636.64 147.98,636.80 148.71,636.95 149.45,637.11 150.18,637.26 150.92,637.42 151.65,637.57 152.38,637.72 153.12,637.87 153.85,638.01 154.58,638.16 155.32,638.30 156.05,638.45 156.79,638.59 157.52,638.73 158.25,638.87 158.99,639.01 159.72,639.15 160.46,639.29 161.19,639.42 161.92,639.56 162.66,639.69 163.39,639.82 164.12,639.95 164.86,640.08 165.59,640.21 166.33,640.34 167.06,640.47 167.79,640.60 168.53,640.72 169.26,640.85 170.00,640.97 170.73,641.09 171.46,641.22 172.20,641.34 172.93,641.46 173.66,641.58 174.40,641.69 175.13,641.81 175.87,641.93 176.60,642.04 177.33,642.16 178.07,642.27 178.80,642.38 179.53,642.50 180.27,642.61 181.00,642.72 181.74,642.83 182.47,642.94 183.20,643.05 183.94,643.15 184.67,643.26 185.41,643.37 186.14,643.47 186.87,643.58 187.61,643.68 188.34,643.79 189.07,643.89 189.81,643.99 190.54,644.09 191.28,644.19 192.01,644.29 192.74,644.39 193.48,644.49 194.21,644.59 194.95,644.68 195.68,644.78 196.41,644.88 197.15,644.97 197.88,645.07 198.61,645.16 199.35,645.25 200.08,645.35 200.82,645.44 201.55,645.53 202.28,645.62 203.02,645.71 203.75,645.80 204.49,645.89 205.22,645.98 205.95,646.07 206.69,646.16 207.42,646.24 208.15,646.33 208.89,646.42 209.62,646.50 210.36,646.59 211.09,646.67 211.82,646.76 212.56,646.84 213.29,646.92 214.02,647.00 214.76,647.09 215.49,647.17 216.23,647.25 216.96,647.33 217.69,647.41 218.43,647.49 219.16,647.57 219.90,647.65 220.63,647.72 221.36,647.80 222.10,647.88 222.83,647.95 223.56,648.03 224.30,648.11 225.03,648.18 225.77,648.26 226.50,648.33 227.23,648.41 227.97,648.48 228.70,648.55 229.44,648.62 230.17,648.70 230.90,648.77 231.64,648.84 232.37,648.91 233.10,648.98 233.84,649.05 234.57,649.12 235.31,649.19 236.04,649.26 236.77,649.33 237.51,649.40 238.24,649.47 238.97,649.53 239.71,649.60 240.44,649.67 241.18,649.73 241.91,649.80 242.64,649.87 243.38,649.93 244.11,650.00 244.85,650.06 245.58,650.12 246.31,650.19 247.05,650.25 247.78,650.32 248.51,650.38 249.25,650.44 249.98,650.50 250.72,650.56 251.45,650.63 252.18,650.69 252.92,650.75 253.65,650.81 254.39,650.87 255.12,650.93 255.85,650.99 256.59,651.05 257.32,651.11 258.05,651.16 258.79,651.22 259.52,651.28 260.26,651.34 260.99,651.40 261.72,651.45 262.46,651.51 263.19,651.57 263.92,651.62 264.66,651.68 265.39,651.73 266.13,651.79 266.86,651.84 267.59,651.90 268.33,651.95 269.06,652.01 269.80,652.06 270.53,652.11 271.26,652.17 272.00,652.22 272.73,652.27 273.46,652.33 274.20,652.38 274.93,652.43 275.67,652.48 276.40,652.53" fill="none" stroke="#E8402B" stroke-width="1.5" clip-path="url(#cf)"/>
<polyline points="50.31,468.44 50.34,473.03 50.36,476.91 50.38,480.27 50.40,483.25 50.42,485.91 50.45,488.32 50.47,490.52 50.49,492.54 50.51,494.42 50.54,496.16 50.56,497.80 50.58,499.33 50.60,500.78 50.63,502.15 50.65,503.45 50.67,504.69 50.69,505.87 50.71,506.99 50.74,508.07 50.76,509.11 50.78,510.10 50.80,511.06 50.83,511.98 50.85,512.87 50.87,513.73 50.89,514.56 50.92,515.37 50.94,516.15 50.96,516.90 50.98,517.64 51.00,518.35 51.03,519.05 51.05,519.73 51.07,520.38 51.09,521.03 51.12,521.65 51.14,522.26 51.16,522.86 51.18,523.44 51.21,524.01 51.23,524.57 51.25,525.12 51.27,525.65 51.30,526.17 51.32,526.69 51.34,527.19 51.36,527.68 51.38,528.16 51.41,528.64 51.43,529.10 51.45,529.56 51.47,530.01 51.50,530.45 51.52,530.88 51.54,531.31 51.56,531.73 51.59,532.14 51.61,532.55 51.63,532.95 51.65,533.34 51.67,533.73 51.70,534.11 51.72,534.48 51.74,534.86 51.76,535.22 51.79,535.58 51.81,535.93 51.83,536.28 51.85,536.63 51.88,536.97 51.90,537.31 51.92,537.64 51.94,537.96 51.96,538.29 51.99,538.61 52.01,538.92 52.03,539.23 52.05,539.54 52.08,539.84 52.10,540.14 52.12,540.44 52.14,540.73 52.17,541.02 52.19,541.31 52.21,541.59 52.23,541.87 52.25,542.15 52.28,542.42 52.30,542.69 52.32,542.96 52.34,543.23 52.37,543.49 52.39,543.75 52.41,544.01 52.43,544.26 52.46,544.51 52.48,544.76 52.50,545.01 52.52,545.25 52.54,545.50 52.57,545.74 52.59,545.97 52.61,546.21 52.63,546.44 52.66,546.67 52.68,546.90 52.70,547.13 52.72,547.36 52.75,547.58 52.77,547.80 52.79,548.02 52.81,548.24 52.83,548.45 52.86,548.67 52.88,548.88 52.90,549.09 52.92,549.30 52.95,549.50 52.97,549.71 52.99,549.91 53.01,550.11 53.04,550.31 53.06,550.51 53.08,550.71 53.10,550.90 53.13,551.10 53.15,551.29 53.17,551.48 53.19,551.67 53.21,551.86 53.24,552.05 53.26,552.23 53.28,552.42 53.30,552.60 53.33,552.78 53.35,552.96 53.37,553.14 53.39,553.32 53.42,553.49 53.44,553.67 53.46,553.84 53.48,554.01 53.50,554.19 53.53,554.36 53.55,554.53 53.57,554.69 53.59,554.86 53.62,555.03 53.64,555.19 53.66,555.35 53.68,555.52 53.71,555.68 53.73,555.84 53.75,556.00 53.77,556.16 53.79,556.32 53.82,556.47 53.84,556.63 53.86,556.78 53.88,556.94 53.91,557.09 53.93,557.24 53.95,557.39 53.97,557.54 54.00,557.69 54.02,557.84 54.04,557.99 54.06,558.13 54.08,558.28 54.11,558.42 54.13,558.57 54.15,558.71 54.17,558.85 54.20,558.99 54.22,559.13 54.24,559.27 54.26,559.41 54.29,559.55 54.31,559.69 54.33,559.83 54.35,559.96 54.37,560.10 54.40,560.23 54.42,560.37 54.44,560.50 54.46,560.63 54.49,560.77 54.51,560.90 54.53,561.03 54.55,561.16 54.58,561.29 54.60,561.41 54.62,561.54 54.64,561.67 54.66,561.80 54.69,561.92 54.71,562.05 54.73,562.17 54.75,562.30 54.78,562.42 54.80,562.54 54.82,562.66 54.84,562.79 54.87,562.91 54.89,563.03 54.91,563.15 54.93,563.27 54.96,563.39 54.98,563.50 55.00,563.62 55.02,563.74 55.04,563.86 55.07,563.97 55.09,564.09 55.11,564.20 55.13,564.32 55.16,564.43 55.18,564.54 55.20,564.66 55.22,564.77 55.25,564.88 55.27,564.99 55.29,565.10 55.31,565.21 55.33,565.32 55.36,565.43 55.38,565.54 55.40,565.65 55.42,565.76 55.45,565.87 55.47,565.97 55.49,566.08 55.51,566.19 55.54,566.29 55.56,566.40 55.58,566.50 55.60,566.61 55.62,566.71 55.65,566.81 55.67,566.92 55.69,567.02 55.71,567.12 55.74,567.22 55.76,567.32 55.78,567.43 55.80,567.53 55.83,567.63 55.85,567.73 55.87,567.83 55.89,567.92 55.91,568.02 55.94,568.12 55.96,568.22 55.98,568.32 56.00,568.41 56.03,568.51 56.05,568.61 56.07,568.70 56.09,568.80 56.12,568.89 56.14,568.99 56.16,569.08 56.18,569.18 56.20,569.27 56.23,569.36 56.25,569.46 56.27,569.55 56.29,569.64 56.32,569.74 56.34,569.83 56.36,569.92 56.38,570.01 56.41,570.10 56.43,570.19 56.45,570.28 56.47,570.37 56.50,570.46 56.52,570.55 56.54,570.64 56.56,570.73 56.58,570.81 56.61,570.90 56.63,570.99 56.65,571.08 56.67,571.16 56.70,571.25 56.72,571.34 56.74,571.42 56.76,571.51 56.79,571.59 56.81,571.68 56.83,571.76 56.85,571.85 56.87,571.93 56.90,572.02 56.92,572.10 56.94,572.18 56.96,572.27 56.99,572.35 56.99,572.35 57.72,574.93 58.45,577.27 59.19,579.41 59.92,581.37 60.66,583.20 61.39,584.89 62.12,586.48 62.86,587.97 63.59,589.37 64.32,590.70 65.06,591.95 65.79,593.15 66.53,594.29 67.26,595.38 67.99,596.42 68.73,597.42 69.46,598.37 70.19,599.29 70.93,600.18 71.66,601.03 72.40,601.86 73.13,602.66 73.86,603.43 74.60,604.17 75.33,604.90 76.07,605.60 76.80,606.28 77.53,606.94 78.27,607.58 79.00,608.21 79.73,608.82 80.47,609.41 81.20,609.99 81.94,610.56 82.67,611.11 83.40,611.64 84.14,612.17 84.87,612.68 85.61,613.19 86.34,613.68 87.07,614.16 87.81,614.63 88.54,615.09 89.27,615.54 90.01,615.98 90.74,616.42 91.48,616.84 92.21,617.26 92.94,617.67 93.68,618.07 94.41,618.47 95.14,618.86 95.88,619.24 96.61,619.61 97.35,619.98 98.08,620.34 98.81,620.70 99.55,621.05 100.28,621.39 101.02,621.73 101.75,622.07 102.48,622.40 103.22,622.72 103.95,623.04 104.68,623.35 105.42,623.66 106.15,623.97 106.89,624.27 107.62,624.57 108.35,624.86 109.09,625.15 109.82,625.43 110.56,625.71 111.29,625.99 112.02,626.26 112.76,626.53 113.49,626.80 114.22,627.06 114.96,627.32 115.69,627.57 116.43,627.83 117.16,628.08 117.89,628.32 118.63,628.57 119.36,628.81 120.10,629.05 120.83,629.28 121.56,629.51 122.30,629.74 123.03,629.97 123.76,630.19 124.50,630.41 125.23,630.63 125.97,630.85 126.70,631.07 127.43,631.28 128.17,631.49 128.90,631.69 129.63,631.90 130.37,632.10 131.10,632.30 131.84,632.50 132.57,632.70 133.30,632.90 134.04,633.09 134.77,633.28 135.51,633.47 136.24,633.66 136.97,633.84 137.71,634.02 138.44,634.21 139.17,634.39 139.91,634.56 140.64,634.74 141.38,634.92 142.11,635.09 142.84,635.26 143.58,635.43 144.31,635.60 145.05,635.77 145.78,635.93 146.51,636.09 147.25,636.26 147.98,636.42 148.71,636.58 149.45,636.73 150.18,636.89 150.92,637.05 151.65,637.20 152.38,637.35 153.12,637.50 153.85,637.65 154.58,637.80 155.32,637.95 156.05,638.10 156.79,638.24 157.52,638.39 158.25,638.53 158.99,638.67 159.72,638.81 160.46,638.95 161.19,639.09 161.92,639.22 162.66,639.36 163.39,639.49 164.12,639.63 164.86,639.76 165.59,639.89 166.33,640.02 167.06,640.15 167.79,640.28 168.53,640.41 169.26,640.53 170.00,640.66 170.73,640.78 171.46,640.91 172.20,641.03 172.93,641.15 173.66,641.27 174.40,641.39 175.13,641.51 175.87,641.63 176.60,641.75 177.33,641.87 178.07,641.98 178.80,642.10 179.53,642.21 180.27,642.32 181.00,642.44 181.74,642.55 182.47,642.66 183.20,642.77 183.94,642.88 184.67,642.98 185.41,643.09 186.14,643.20 186.87,643.31 187.61,643.41 188.34,643.52 189.07,643.62 189.81,643.72 190.54,643.83 191.28,643.93 192.01,644.03 192.74,644.13 193.48,644.23 194.21,644.33 194.95,644.43 195.68,644.52 196.41,644.62 197.15,644.72 197.88,644.81 198.61,644.91 199.35,645.00 200.08,645.10 200.82,645.19 201.55,645.29 202.28,645.38 203.02,645.47 203.75,645.56 204.49,645.65 205.22,645.74 205.95,645.83 206.69,645.92 207.42,646.01 208.15,646.09 208.89,646.18 209.62,646.27 210.36,646.35 211.09,646.44 211.82,646.53 212.56,646.61 213.29,646.69 214.02,646.78 214.76,646.86 215.49,646.94 216.23,647.02 216.96,647.11 217.69,647.19 218.43,647.27 219.16,647.35 219.90,647.43 220.63,647.51 221.36,647.58 222.10,647.66 222.83,647.74 223.56,647.82 224.30,647.89 225.03,647.97 225.77,648.05 226.50,648.12 227.23,648.20 227.97,648.27 228.70,648.34 229.44,648.42 230.17,648.49 230.90,648.56 231.64,648.64 232.37,648.71 233.10,648.78 233.84,648.85 234.57,648.92 235.31,648.99 236.04,649.06 236.77,649.13 237.51,649.20 238.24,649.27 238.97,649.34 239.71,649.40 240.44,649.47 241.18,649.54 241.91,649.61 242.64,649.67 243.38,649.74 244.11,649.80 244.85,649.87 245.58,649.93 246.31,650.00 247.05,650.06 247.78,650.13 248.51,650.19 249.25,650.25 249.98,650.32 250.72,650.38 251.45,650.44 252.18,650.50 252.92,650.56 253.65,650.63 254.39,650.69 255.12,650.75 255.85,650.81 256.59,650.87 257.32,650.93 258.05,650.99 258.79,651.04 259.52,651.10 260.26,651.16 260.99,651.22 261.72,651.28 262.46,651.33 263.19,651.39 263.92,651.45 264.66,651.50 265.39,651.56 266.13,651.62 266.86,651.67 267.59,651.73 268.33,651.78 269.06,651.84 269.80,651.89 270.53,651.95 271.26,652.00 272.00,652.05 272.73,652.11 273.46,652.16 274.20,652.21 274.93,652.26 275.67,652.32 276.40,652.37" fill="none" stroke="#3A7DB8" stroke-width="1.5" stroke-dasharray="7.5,4" clip-path="url(#cf)"/>
<rect x="45.5" y="547.5" width="231" height="153" fill="none" stroke="#444" stroke-width="1.1"/>
<line x1="45.7" y1="694.5" x2="49.1" y2="694.5" stroke="#444" stroke-width="1" />
<text x="41.3" y="698.1" font-size="10.5" text-anchor="end" fill="#111" stroke="#111" stroke-width="0.30" >-150</text>
<line x1="45.7" y1="678.5" x2="47.8" y2="678.5" stroke="#444" stroke-width="1" />
<line x1="45.7" y1="662.5" x2="49.1" y2="662.5" stroke="#444" stroke-width="1" />
<text x="41.3" y="666.5" font-size="10.5" text-anchor="end" fill="#111" stroke="#111" stroke-width="0.30" >0</text>
<line x1="45.7" y1="647.5" x2="47.8" y2="647.5" stroke="#444" stroke-width="1" />
<line x1="45.7" y1="631.5" x2="49.1" y2="631.5" stroke="#444" stroke-width="1" />
<text x="41.3" y="634.9" font-size="10.5" text-anchor="end" fill="#111" stroke="#111" stroke-width="0.30" >150</text>
<line x1="45.7" y1="615.5" x2="47.8" y2="615.5" stroke="#444" stroke-width="1" />
<line x1="45.7" y1="599.5" x2="49.1" y2="599.5" stroke="#444" stroke-width="1" />
<text x="41.3" y="603.3" font-size="10.5" text-anchor="end" fill="#111" stroke="#111" stroke-width="0.30" >300</text>
<line x1="45.7" y1="583.5" x2="47.8" y2="583.5" stroke="#444" stroke-width="1" />
<line x1="45.7" y1="568.5" x2="49.1" y2="568.5" stroke="#444" stroke-width="1" />
<text x="41.3" y="571.7" font-size="10.5" text-anchor="end" fill="#111" stroke="#111" stroke-width="0.30" >450</text>
<line x1="45.7" y1="552.5" x2="47.8" y2="552.5" stroke="#444" stroke-width="1" />
<line x1="50.5" y1="700.9" x2="50.5" y2="697.5" stroke="#444" stroke-width="1" />
<text x="50.2" y="714" font-size="10.5" text-anchor="middle" fill="#111" stroke="#111" stroke-width="0.30" >0</text>
<line x1="72.5" y1="700.9" x2="72.5" y2="698.8" stroke="#444" stroke-width="1" />
<line x1="95.5" y1="700.9" x2="95.5" y2="697.5" stroke="#444" stroke-width="1" />
<text x="95.4" y="714" font-size="10.5" text-anchor="middle" fill="#111" stroke="#111" stroke-width="0.30" >2</text>
<line x1="118.5" y1="700.9" x2="118.5" y2="698.8" stroke="#444" stroke-width="1" />
<line x1="140.5" y1="700.9" x2="140.5" y2="697.5" stroke="#444" stroke-width="1" />
<text x="140.7" y="714" font-size="10.5" text-anchor="middle" fill="#111" stroke="#111" stroke-width="0.30" >4</text>
<line x1="163.5" y1="700.9" x2="163.5" y2="698.8" stroke="#444" stroke-width="1" />
<line x1="185.5" y1="700.9" x2="185.5" y2="697.5" stroke="#444" stroke-width="1" />
<text x="185.9" y="714" font-size="10.5" text-anchor="middle" fill="#111" stroke="#111" stroke-width="0.30" >6</text>
<line x1="208.5" y1="700.9" x2="208.5" y2="698.8" stroke="#444" stroke-width="1" />
<line x1="231.5" y1="700.9" x2="231.5" y2="697.5" stroke="#444" stroke-width="1" />
<text x="231.2" y="714" font-size="10.5" text-anchor="middle" fill="#111" stroke="#111" stroke-width="0.30" >8</text>
<line x1="253.5" y1="700.9" x2="253.5" y2="698.8" stroke="#444" stroke-width="1" />
<text x="276.4" y="714" font-size="10.5" text-anchor="middle" fill="#111" stroke="#111" stroke-width="0.30" >10</text>
<text x="164" y="729" font-size="10.5" text-anchor="middle" fill="#111" stroke="#111" stroke-width="0.30" >Separation Distance (nm)</text>
<text transform="translate(11,624.2) rotate(-90)" font-size="10.5" text-anchor="middle" fill="#111" stroke="#111" stroke-width="0.3">Interaction Energy (<tspan font-style="italic">k</tspan><tspan font-size="6.5" dy="1.2">B</tspan><tspan dy="-1.2">T)</tspan></text>
<line x1="350.4" y1="662.3" x2="584.6" y2="662.3" stroke="#6B4FCB" stroke-width="1.1" stroke-dasharray="1.6,1.2"/>
<polyline points="355.11,1528.47 355.14,1385.63 355.16,1283.21 355.18,1206.18 355.21,1146.14 355.23,1098.03 355.25,1058.61 355.27,1025.73 355.30,997.88 355.32,973.98 355.34,953.26 355.36,935.12 355.39,919.10 355.41,904.86 355.43,892.11 355.45,880.63 355.48,870.24 355.50,860.80 355.52,852.17 355.55,844.26 355.57,836.98 355.59,830.25 355.61,824.03 355.64,818.25 355.66,812.86 355.68,807.84 355.70,803.14 355.73,798.73 355.75,794.59 355.77,790.69 355.79,787.01 355.82,783.54 355.84,780.25 355.86,777.14 355.88,774.19 355.91,771.38 355.93,768.71 355.95,766.17 355.98,763.75 356.00,761.43 356.02,759.22 356.04,757.10 356.07,755.08 356.09,753.14 356.11,751.28 356.13,749.49 356.16,747.77 356.18,746.12 356.20,744.53 356.22,743.00 356.25,741.52 356.27,740.10 356.29,738.73 356.32,737.40 356.34,736.12 356.36,734.88 356.38,733.69 356.41,732.53 356.43,731.40 356.45,730.32 356.47,729.26 356.50,728.24 356.52,727.25 356.54,726.29 356.56,725.35 356.59,724.45 356.61,723.57 356.63,722.71 356.66,721.87 356.68,721.06 356.70,720.27 356.72,719.50 356.75,718.75 356.77,718.02 356.79,717.31 356.81,716.62 356.84,715.94 356.86,715.28 356.88,714.64 356.90,714.01 356.93,713.39 356.95,712.79 356.97,712.21 356.99,711.64 357.02,711.08 357.04,710.53 357.06,709.99 357.09,709.47 357.11,708.96 357.13,708.45 357.15,707.96 357.18,707.48 357.20,707.01 357.22,706.55 357.24,706.10 357.27,705.65 357.29,705.22 357.31,704.79 357.33,704.38 357.36,703.97 357.38,703.57 357.40,703.17 357.43,702.79 357.45,702.41 357.47,702.03 357.49,701.67 357.52,701.31 357.54,700.96 357.56,700.61 357.58,700.27 357.61,699.93 357.63,699.60 357.65,699.28 357.67,698.96 357.70,698.65 357.72,698.34 357.74,698.04 357.77,697.74 357.79,697.45 357.81,697.16 357.83,696.88 357.86,696.60 357.88,696.33 357.90,696.06 357.92,695.79 357.95,695.53 357.97,695.27 357.99,695.02 358.01,694.77 358.04,694.52 358.06,694.28 358.08,694.04 358.10,693.81 358.13,693.58 358.15,693.35 358.17,693.12 358.20,692.90 358.22,692.68 358.24,692.46 358.26,692.25 358.29,692.04 358.31,691.83 358.33,691.63 358.35,691.43 358.38,691.23 358.40,691.03 358.42,690.84 358.44,690.65 358.47,690.46 358.49,690.27 358.51,690.09 358.54,689.91 358.56,689.73 358.58,689.55 358.60,689.38 358.63,689.20 358.65,689.03 358.67,688.87 358.69,688.70 358.72,688.54 358.74,688.37 358.76,688.21 358.78,688.05 358.81,687.90 358.83,687.74 358.85,687.59 358.88,687.44 358.90,687.29 358.92,687.14 358.94,687.00 358.97,686.85 358.99,686.71 359.01,686.57 359.03,686.43 359.06,686.29 359.08,686.16 359.10,686.02 359.12,685.89 359.15,685.76 359.17,685.63 359.19,685.50 359.21,685.37 359.24,685.24 359.26,685.12 359.28,685.00 359.31,684.87 359.33,684.75 359.35,684.63 359.37,684.51 359.40,684.40 359.42,684.28 359.44,684.17 359.46,684.05 359.49,683.94 359.51,683.83 359.53,683.72 359.55,683.61 359.58,683.50 359.60,683.39 359.62,683.29 359.65,683.18 359.67,683.08 359.69,682.98 359.71,682.88 359.74,682.77 359.76,682.67 359.78,682.58 359.80,682.48 359.83,682.38 359.85,682.28 359.87,682.19 359.89,682.09 359.92,682.00 359.94,681.91 359.96,681.82 359.99,681.72 360.01,681.63 360.03,681.54 360.05,681.46 360.08,681.37 360.10,681.28 360.12,681.19 360.14,681.11 360.17,681.02 360.19,680.94 360.21,680.86 360.23,680.77 360.26,680.69 360.28,680.61 360.30,680.53 360.32,680.45 360.35,680.37 360.37,680.29 360.39,680.22 360.42,680.14 360.44,680.06 360.46,679.99 360.48,679.91 360.51,679.84 360.53,679.76 360.55,679.69 360.57,679.62 360.60,679.54 360.62,679.47 360.64,679.40 360.66,679.33 360.69,679.26 360.71,679.19 360.73,679.12 360.76,679.05 360.78,678.99 360.80,678.92 360.82,678.85 360.85,678.79 360.87,678.72 360.89,678.66 360.91,678.59 360.94,678.53 360.96,678.46 360.98,678.40 361.00,678.34 361.03,678.28 361.05,678.21 361.07,678.15 361.10,678.09 361.12,678.03 361.14,677.97 361.16,677.91 361.19,677.85 361.21,677.79 361.23,677.74 361.25,677.68 361.28,677.62 361.30,677.56 361.32,677.51 361.34,677.45 361.37,677.39 361.39,677.34 361.41,677.28 361.43,677.23 361.46,677.18 361.48,677.12 361.50,677.07 361.53,677.02 361.55,676.96 361.57,676.91 361.59,676.86 361.62,676.81 361.64,676.76 361.66,676.70 361.68,676.65 361.71,676.60 361.73,676.55 361.75,676.50 361.77,676.45 361.80,676.41 361.82,676.36 361.84,676.31 361.87,676.26 361.89,676.21 361.89,676.21 362.63,674.80 363.38,673.65 364.12,672.68 364.87,671.86 365.61,671.15 366.36,670.54 367.10,670.00 367.85,669.52 368.59,669.10 369.34,668.72 370.08,668.38 370.83,668.07 371.57,667.79 372.32,667.53 373.06,667.29 373.81,667.08 374.55,666.88 375.30,666.69 376.04,666.52 376.79,666.36 377.53,666.21 378.27,666.07 379.02,665.93 379.76,665.81 380.51,665.69 381.25,665.59 382.00,665.48 382.74,665.38 383.49,665.29 384.23,665.20 384.98,665.12 385.72,665.04 386.47,664.96 387.21,664.89 387.96,664.82 388.70,664.76 389.45,664.69 390.19,664.63 390.94,664.58 391.68,664.52 392.43,664.47 393.17,664.42 393.92,664.37 394.66,664.32 395.41,664.28 396.15,664.23 396.90,664.19 397.64,664.15 398.39,664.11 399.13,664.07 399.88,664.04 400.62,664.00 401.37,663.97 402.11,663.93 402.86,663.90 403.60,663.87 404.34,663.84 405.09,663.81 405.83,663.78 406.58,663.76 407.32,663.73 408.07,663.70 408.81,663.68 409.56,663.66 410.30,663.63 411.05,663.61 411.79,663.59 412.54,663.56 413.28,663.54 414.03,663.52 414.77,663.50 415.52,663.48 416.26,663.46 417.01,663.44 417.75,663.43 418.50,663.41 419.24,663.39 419.99,663.37 420.73,663.36 421.48,663.34 422.22,663.33 422.97,663.31 423.71,663.30 424.46,663.28 425.20,663.27 425.95,663.25 426.69,663.24 427.44,663.23 428.18,663.21 428.93,663.20 429.67,663.19 430.41,663.18 431.16,663.16 431.90,663.15 432.65,663.14 433.39,663.13 434.14,663.12 434.88,663.11 435.63,663.10 436.37,663.09 437.12,663.07 437.86,663.06 438.61,663.05 439.35,663.05 440.10,663.04 440.84,663.03 441.59,663.02 442.33,663.01 443.08,663.00 443.82,662.99 444.57,662.98 445.31,662.97 446.06,662.97 446.80,662.96 447.55,662.95 448.29,662.94 449.04,662.93 449.78,662.93 450.53,662.92 451.27,662.91 452.02,662.90 452.76,662.90 453.51,662.89 454.25,662.88 455.00,662.88 455.74,662.87 456.48,662.86 457.23,662.86 457.97,662.85 458.72,662.85 459.46,662.84 460.21,662.83 460.95,662.83 461.70,662.82 462.44,662.82 463.19,662.81 463.93,662.80 464.68,662.80 465.42,662.79 466.17,662.79 466.91,662.78 467.66,662.78 468.40,662.77 469.15,662.77 469.89,662.76 470.64,662.76 471.38,662.75 472.13,662.75 472.87,662.74 473.62,662.74 474.36,662.74 475.11,662.73 475.85,662.73 476.60,662.72 477.34,662.72 478.09,662.71 478.83,662.71 479.58,662.71 480.32,662.70 481.06,662.70 481.81,662.69 482.55,662.69 483.30,662.69 484.04,662.68 484.79,662.68 485.53,662.67 486.28,662.67 487.02,662.67 487.77,662.66 488.51,662.66 489.26,662.66 490.00,662.65 490.75,662.65 491.49,662.65 492.24,662.64 492.98,662.64 493.73,662.64 494.47,662.63 495.22,662.63 495.96,662.63 496.71,662.62 497.45,662.62 498.20,662.62 498.94,662.62 499.69,662.61 500.43,662.61 501.18,662.61 501.92,662.60 502.67,662.60 503.41,662.60 504.16,662.60 504.90,662.59 505.65,662.59 506.39,662.59 507.13,662.59 507.88,662.58 508.62,662.58 509.37,662.58 510.11,662.58 510.86,662.57 511.60,662.57 512.35,662.57 513.09,662.57 513.84,662.56 514.58,662.56 515.33,662.56 516.07,662.56 516.82,662.55 517.56,662.55 518.31,662.55 519.05,662.55 519.80,662.55 520.54,662.54 521.29,662.54 522.03,662.54 522.78,662.54 523.52,662.54 524.27,662.53 525.01,662.53 525.76,662.53 526.50,662.53 527.25,662.53 527.99,662.52 528.74,662.52 529.48,662.52 530.23,662.52 530.97,662.52 531.72,662.52 532.46,662.51 533.20,662.51 533.95,662.51 534.69,662.51 535.44,662.51 536.18,662.50 536.93,662.50 537.67,662.50 538.42,662.50 539.16,662.50 539.91,662.50 540.65,662.50 541.40,662.49 542.14,662.49 542.89,662.49 543.63,662.49 544.38,662.49 545.12,662.49 545.87,662.48 546.61,662.48 547.36,662.48 548.10,662.48 548.85,662.48 549.59,662.48 550.34,662.48 551.08,662.47 551.83,662.47 552.57,662.47 553.32,662.47 554.06,662.47 554.81,662.47 555.55,662.47 556.30,662.47 557.04,662.46 557.79,662.46 558.53,662.46 559.27,662.46 560.02,662.46 560.76,662.46 561.51,662.46 562.25,662.46 563.00,662.45 563.74,662.45 564.49,662.45 565.23,662.45 565.98,662.45 566.72,662.45 567.47,662.45 568.21,662.45 568.96,662.45 569.70,662.44 570.45,662.44 571.19,662.44 571.94,662.44 572.68,662.44 573.43,662.44 574.17,662.44 574.92,662.44 575.66,662.44 576.41,662.43 577.15,662.43 577.90,662.43 578.64,662.43 579.39,662.43 580.13,662.43 580.88,662.43 581.62,662.43 582.37,662.43 583.11,662.43 583.86,662.43 584.60,662.42" fill="none" stroke="#E3832A" stroke-width="1.3" stroke-dasharray="4,2.6" clip-path="url(#cg)"/>
<polyline points="357.31,562.58 357.33,562.60 357.36,562.61 357.38,562.63 357.40,562.64 357.43,562.66 357.45,562.67 357.47,562.69 357.49,562.70 357.52,562.72 357.54,562.73 357.56,562.75 357.58,562.76 357.61,562.78 357.63,562.79 357.65,562.81 357.67,562.82 357.70,562.84 357.72,562.85 357.74,562.87 357.77,562.88 357.79,562.90 357.81,562.91 357.83,562.93 357.86,562.94 357.88,562.96 357.90,562.97 357.92,562.99 357.95,563.00 357.97,563.02 357.99,563.03 358.01,563.04 358.04,563.06 358.06,563.07 358.08,563.09 358.10,563.10 358.13,563.12 358.15,563.13 358.17,563.15 358.20,563.16 358.22,563.18 358.24,563.19 358.26,563.21 358.29,563.22 358.31,563.24 358.33,563.25 358.35,563.27 358.38,563.28 358.40,563.30 358.42,563.31 358.44,563.33 358.47,563.34 358.49,563.36 358.51,563.37 358.54,563.39 358.56,563.40 358.58,563.42 358.60,563.43 358.63,563.45 358.65,563.46 358.67,563.48 358.69,563.49 358.72,563.51 358.74,563.52 358.76,563.54 358.78,563.55 358.81,563.56 358.83,563.58 358.85,563.59 358.88,563.61 358.90,563.62 358.92,563.64 358.94,563.65 358.97,563.67 358.99,563.68 359.01,563.70 359.03,563.71 359.06,563.73 359.08,563.74 359.10,563.76 359.12,563.77 359.15,563.79 359.17,563.80 359.19,563.82 359.21,563.83 359.24,563.85 359.26,563.86 359.28,563.88 359.31,563.89 359.33,563.91 359.35,563.92 359.37,563.94 359.40,563.95 359.42,563.96 359.44,563.98 359.46,563.99 359.49,564.01 359.51,564.02 359.53,564.04 359.55,564.05 359.58,564.07 359.60,564.08 359.62,564.10 359.65,564.11 359.67,564.13 359.69,564.14 359.71,564.16 359.74,564.17 359.76,564.19 359.78,564.20 359.80,564.22 359.83,564.23 359.85,564.25 359.87,564.26 359.89,564.28 359.92,564.29 359.94,564.31 359.96,564.32 359.99,564.33 360.01,564.35 360.03,564.36 360.05,564.38 360.08,564.39 360.10,564.41 360.12,564.42 360.14,564.44 360.17,564.45 360.19,564.47 360.21,564.48 360.23,564.50 360.26,564.51 360.28,564.53 360.30,564.54 360.32,564.56 360.35,564.57 360.37,564.59 360.39,564.60 360.42,564.62 360.44,564.63 360.46,564.64 360.48,564.66 360.51,564.67 360.53,564.69 360.55,564.70 360.57,564.72 360.60,564.73 360.62,564.75 360.64,564.76 360.66,564.78 360.69,564.79 360.71,564.81 360.73,564.82 360.76,564.84 360.78,564.85 360.80,564.87 360.82,564.88 360.85,564.90 360.87,564.91 360.89,564.92 360.91,564.94 360.94,564.95 360.96,564.97 360.98,564.98 361.00,565.00 361.03,565.01 361.05,565.03 361.07,565.04 361.10,565.06 361.12,565.07 361.14,565.09 361.16,565.10 361.19,565.12 361.21,565.13 361.23,565.15 361.25,565.16 361.28,565.18 361.30,565.19 361.32,565.20 361.34,565.22 361.37,565.23 361.39,565.25 361.41,565.26 361.43,565.28 361.46,565.29 361.48,565.31 361.50,565.32 361.53,565.34 361.55,565.35 361.57,565.37 361.59,565.38 361.62,565.40 361.64,565.41 361.66,565.43 361.68,565.44 361.71,565.45 361.73,565.47 361.75,565.48 361.77,565.50 361.80,565.51 361.82,565.53 361.84,565.54 361.87,565.56 361.89,565.57 361.89,565.57 362.63,566.05 363.38,566.54 364.12,567.01 364.87,567.49 365.61,567.97 366.36,568.45 367.10,568.92 367.85,569.40 368.59,569.87 369.34,570.34 370.08,570.81 370.83,571.28 371.57,571.75 372.32,572.21 373.06,572.68 373.81,573.14 374.55,573.60 375.30,574.07 376.04,574.53 376.79,574.99 377.53,575.44 378.27,575.90 379.02,576.36 379.76,576.81 380.51,577.26 381.25,577.72 382.00,578.17 382.74,578.62 383.49,579.07 384.23,579.51 384.98,579.96 385.72,580.40 386.47,580.85 387.21,581.29 387.96,581.73 388.70,582.17 389.45,582.61 390.19,583.05 390.94,583.48 391.68,583.92 392.43,584.35 393.17,584.79 393.92,585.22 394.66,585.65 395.41,586.08 396.15,586.50 396.90,586.93 397.64,587.36 398.39,587.78 399.13,588.20 399.88,588.63 400.62,589.05 401.37,589.47 402.11,589.88 402.86,590.30 403.60,590.72 404.34,591.13 405.09,591.55 405.83,591.96 406.58,592.37 407.32,592.78 408.07,593.19 408.81,593.60 409.56,594.00 410.30,594.41 411.05,594.81 411.79,595.21 412.54,595.61 413.28,596.02 414.03,596.41 414.77,596.81 415.52,597.21 416.26,597.60 417.01,598.00 417.75,598.39 418.50,598.78 419.24,599.17 419.99,599.56 420.73,599.95 421.48,600.34 422.22,600.72 422.97,601.11 423.71,601.49 424.46,601.87 425.20,602.26 425.95,602.63 426.69,603.01 427.44,603.39 428.18,603.77 428.93,604.14 429.67,604.52 430.41,604.89 431.16,605.26 431.90,605.63 432.65,606.00 433.39,606.37 434.14,606.73 434.88,607.10 435.63,607.46 436.37,607.83 437.12,608.19 437.86,608.55 438.61,608.91 439.35,609.26 440.10,609.62 440.84,609.98 441.59,610.33 442.33,610.68 443.08,611.04 443.82,611.39 444.57,611.74 445.31,612.09 446.06,612.43 446.80,612.78 447.55,613.12 448.29,613.47 449.04,613.81 449.78,614.15 450.53,614.49 451.27,614.83 452.02,615.17 452.76,615.50 453.51,615.84 454.25,616.17 455.00,616.51 455.74,616.84 456.48,617.17 457.23,617.50 457.97,617.83 458.72,618.15 459.46,618.48 460.21,618.80 460.95,619.12 461.70,619.45 462.44,619.77 463.19,620.09 463.93,620.41 464.68,620.72 465.42,621.04 466.17,621.35 466.91,621.67 467.66,621.98 468.40,622.29 469.15,622.60 469.89,622.91 470.64,623.22 471.38,623.52 472.13,623.83 472.87,624.13 473.62,624.43 474.36,624.74 475.11,625.04 475.85,625.33 476.60,625.63 477.34,625.93 478.09,626.22 478.83,626.52 479.58,626.81 480.32,627.10 481.06,627.39 481.81,627.68 482.55,627.97 483.30,628.26 484.04,628.54 484.79,628.83 485.53,629.11 486.28,629.39 487.02,629.68 487.77,629.96 488.51,630.23 489.26,630.51 490.00,630.79 490.75,631.06 491.49,631.34 492.24,631.61 492.98,631.88 493.73,632.15 494.47,632.42 495.22,632.69 495.96,632.95 496.71,633.22 497.45,633.48 498.20,633.75 498.94,634.01 499.69,634.27 500.43,634.53 501.18,634.79 501.92,635.04 502.67,635.30 503.41,635.55 504.16,635.81 504.90,636.06 505.65,636.31 506.39,636.56 507.13,636.81 507.88,637.05 508.62,637.30 509.37,637.54 510.11,637.79 510.86,638.03 511.60,638.27 512.35,638.51 513.09,638.75 513.84,638.99 514.58,639.22 515.33,639.46 516.07,639.69 516.82,639.93 517.56,640.16 518.31,640.39 519.05,640.62 519.80,640.85 520.54,641.07 521.29,641.30 522.03,641.52 522.78,641.75 523.52,641.97 524.27,642.19 525.01,642.41 525.76,642.63 526.50,642.84 527.25,643.06 527.99,643.27 528.74,643.49 529.48,643.70 530.23,643.91 530.97,644.12 531.72,644.33 532.46,644.54 533.20,644.74 533.95,644.95 534.69,645.15 535.44,645.35 536.18,645.56 536.93,645.76 537.67,645.96 538.42,646.15 539.16,646.35 539.91,646.55 540.65,646.74 541.40,646.93 542.14,647.12 542.89,647.32 543.63,647.50 544.38,647.69 545.12,647.88 545.87,648.07 546.61,648.25 547.36,648.43 548.10,648.62 548.85,648.80 549.59,648.98 550.34,649.16 551.08,649.33 551.83,649.51 552.57,649.68 553.32,649.86 554.06,650.03 554.81,650.20 555.55,650.37 556.30,650.54 557.04,650.71 557.79,650.87 558.53,651.04 559.27,651.20 560.02,651.37 560.76,651.53 561.51,651.69 562.25,651.85 563.00,652.01 563.74,652.16 564.49,652.32 565.23,652.47 565.98,652.63 566.72,652.78 567.47,652.93 568.21,653.08 568.96,653.23 569.70,653.38 570.45,653.52 571.19,653.67 571.94,653.81 572.68,653.95 573.43,654.09 574.17,654.23 574.92,654.37 575.66,654.51 576.41,654.65 577.15,654.78 577.90,654.92 578.64,655.05 579.39,655.18 580.13,655.31 580.88,655.44 581.62,655.57 582.37,655.69 583.11,655.82 583.86,655.94 584.60,656.07" fill="none" stroke="#3A7DB8" stroke-width="1.5" stroke-dasharray="7.5,4" clip-path="url(#cg)"/>
<polyline points="355.11,648.52 355.14,648.53 355.16,648.53 355.18,648.54 355.21,648.54 355.23,648.55 355.25,648.55 355.27,648.56 355.30,648.56 355.32,648.57 355.34,648.57 355.36,648.58 355.39,648.58 355.41,648.59 355.43,648.59 355.45,648.60 355.48,648.60 355.50,648.61 355.52,648.61 355.55,648.62 355.57,648.62 355.59,648.63 355.61,648.64 355.64,648.64 355.66,648.65 355.68,648.65 355.70,648.66 355.73,648.66 355.75,648.67 355.77,648.67 355.79,648.68 355.82,648.68 355.84,648.69 355.86,648.69 355.88,648.70 355.91,648.70 355.93,648.71 355.95,648.71 355.98,648.72 356.00,648.72 356.02,648.73 356.04,648.73 356.07,648.74 356.09,648.74 356.11,648.75 356.13,648.75 356.16,648.76 356.18,648.76 356.20,648.77 356.22,648.77 356.25,648.78 356.27,648.78 356.29,648.79 356.32,648.79 356.34,648.80 356.36,648.81 356.38,648.81 356.41,648.82 356.43,648.82 356.45,648.83 356.47,648.83 356.50,648.84 356.52,648.84 356.54,648.85 356.56,648.85 356.59,648.86 356.61,648.86 356.63,648.87 356.66,648.87 356.68,648.88 356.70,648.88 356.72,648.89 356.75,648.89 356.77,648.90 356.79,648.90 356.81,648.91 356.84,648.91 356.86,648.92 356.88,648.92 356.90,648.93 356.93,648.93 356.95,648.94 356.97,648.94 356.99,648.95 357.02,648.95 357.04,648.96 357.06,648.96 357.09,648.97 357.11,648.97 357.13,648.98 357.15,648.98 357.18,648.99 357.20,648.99 357.22,649.00 357.24,649.00 357.27,649.01 357.29,649.01 357.31,649.02 357.33,649.02 357.36,649.03 357.38,649.03 357.40,649.04 357.43,649.04 357.45,649.05 357.47,649.05 357.49,649.06 357.52,649.06 357.54,649.07 357.56,649.07 357.58,649.08 357.61,649.08 357.63,649.09 357.65,649.09 357.67,649.10 357.70,649.10 357.72,649.11 357.74,649.11 357.77,649.12 357.79,649.12 357.81,649.13 357.83,649.13 357.86,649.14 357.88,649.14 357.90,649.15 357.92,649.15 357.95,649.16 357.97,649.16 357.99,649.17 358.01,649.17 358.04,649.18 358.06,649.18 358.08,649.19 358.10,649.19 358.13,649.20 358.15,649.20 358.17,649.21 358.20,649.21 358.22,649.22 358.24,649.22 358.26,649.23 358.29,649.23 358.31,649.24 358.33,649.24 358.35,649.25 358.38,649.25 358.40,649.26 358.42,649.26 358.44,649.27 358.47,649.27 358.49,649.28 358.51,649.28 358.54,649.29 358.56,649.29 358.58,649.30 358.60,649.30 358.63,649.31 358.65,649.31 358.67,649.32 358.69,649.32 358.72,649.33 358.74,649.33 358.76,649.34 358.78,649.34 358.81,649.35 358.83,649.35 358.85,649.36 358.88,649.36 358.90,649.37 358.92,649.37 358.94,649.38 358.97,649.38 358.99,649.39 359.01,649.39 359.03,649.40 359.06,649.40 359.08,649.41 359.10,649.41 359.12,649.42 359.15,649.42 359.17,649.43 359.19,649.43 359.21,649.44 359.24,649.44 359.26,649.44 359.28,649.45 359.31,649.45 359.33,649.46 359.35,649.46 359.37,649.47 359.40,649.47 359.42,649.48 359.44,649.48 359.46,649.49 359.49,649.49 359.51,649.50 359.53,649.50 359.55,649.51 359.58,649.51 359.60,649.52 359.62,649.52 359.65,649.53 359.67,649.53 359.69,649.54 359.71,649.54 359.74,649.55 359.76,649.55 359.78,649.56 359.80,649.56 359.83,649.57 359.85,649.57 359.87,649.58 359.89,649.58 359.92,649.59 359.94,649.59 359.96,649.60 359.99,649.60 360.01,649.60 360.03,649.61 360.05,649.61 360.08,649.62 360.10,649.62 360.12,649.63 360.14,649.63 360.17,649.64 360.19,649.64 360.21,649.65 360.23,649.65 360.26,649.66 360.28,649.66 360.30,649.67 360.32,649.67 360.35,649.68 360.37,649.68 360.39,649.69 360.42,649.69 360.44,649.70 360.46,649.70 360.48,649.71 360.51,649.71 360.53,649.72 360.55,649.72 360.57,649.72 360.60,649.73 360.62,649.73 360.64,649.74 360.66,649.74 360.69,649.75 360.71,649.75 360.73,649.76 360.76,649.76 360.78,649.77 360.80,649.77 360.82,649.78 360.85,649.78 360.87,649.79 360.89,649.79 360.91,649.80 360.94,649.80 360.96,649.81 360.98,649.81 361.00,649.82 361.03,649.82 361.05,649.82 361.07,649.83 361.10,649.83 361.12,649.84 361.14,649.84 361.16,649.85 361.19,649.85 361.21,649.86 361.23,649.86 361.25,649.87 361.28,649.87 361.30,649.88 361.32,649.88 361.34,649.89 361.37,649.89 361.39,649.90 361.41,649.90 361.43,649.90 361.46,649.91 361.48,649.91 361.50,649.92 361.53,649.92 361.55,649.93 361.57,649.93 361.59,649.94 361.62,649.94 361.64,649.95 361.66,649.95 361.68,649.96 361.71,649.96 361.73,649.97 361.75,649.97 361.77,649.98 361.80,649.98 361.82,649.98 361.84,649.99 361.87,649.99 361.89,650.00 361.89,650.00 362.63,650.15 363.38,650.30 364.12,650.45 364.87,650.60 365.61,650.74 366.36,650.89 367.10,651.03 367.85,651.17 368.59,651.31 369.34,651.44 370.08,651.58 370.83,651.71 371.57,651.84 372.32,651.97 373.06,652.10 373.81,652.22 374.55,652.35 375.30,652.47 376.04,652.59 376.79,652.72 377.53,652.83 378.27,652.95 379.02,653.07 379.76,653.18 380.51,653.29 381.25,653.41 382.00,653.52 382.74,653.63 383.49,653.73 384.23,653.84 384.98,653.94 385.72,654.05 386.47,654.15 387.21,654.25 387.96,654.35 388.70,654.45 389.45,654.55 390.19,654.64 390.94,654.74 391.68,654.83 392.43,654.92 393.17,655.02 393.92,655.11 394.66,655.20 395.41,655.28 396.15,655.37 396.90,655.46 397.64,655.54 398.39,655.63 399.13,655.71 399.88,655.79 400.62,655.87 401.37,655.95 402.11,656.03 402.86,656.11 403.60,656.18 404.34,656.26 405.09,656.33 405.83,656.41 406.58,656.48 407.32,656.55 408.07,656.62 408.81,656.70 409.56,656.76 410.30,656.83 411.05,656.90 411.79,656.97 412.54,657.03 413.28,657.10 414.03,657.16 414.77,657.23 415.52,657.29 416.26,657.35 417.01,657.41 417.75,657.47 418.50,657.53 419.24,657.59 419.99,657.65 420.73,657.71 421.48,657.77 422.22,657.82 422.97,657.88 423.71,657.93 424.46,657.99 425.20,658.04 425.95,658.09 426.69,658.15 427.44,658.20 428.18,658.25 428.93,658.30 429.67,658.35 430.41,658.40 431.16,658.45 431.90,658.49 432.65,658.54 433.39,658.59 434.14,658.63 434.88,658.68 435.63,658.72 436.37,658.77 437.12,658.81 437.86,658.85 438.61,658.90 439.35,658.94 440.10,658.98 440.84,659.02 441.59,659.06 442.33,659.10 443.08,659.14 443.82,659.18 444.57,659.22 445.31,659.26 446.06,659.30 446.80,659.33 447.55,659.37 448.29,659.41 449.04,659.44 449.78,659.48 450.53,659.51 451.27,659.55 452.02,659.58 452.76,659.62 453.51,659.65 454.25,659.68 455.00,659.71 455.74,659.75 456.48,659.78 457.23,659.81 457.97,659.84 458.72,659.87 459.46,659.90 460.21,659.93 460.95,659.96 461.70,659.99 462.44,660.02 463.19,660.05 463.93,660.07 464.68,660.10 465.42,660.13 466.17,660.16 466.91,660.18 467.66,660.21 468.40,660.23 469.15,660.26 469.89,660.29 470.64,660.31 471.38,660.33 472.13,660.36 472.87,660.38 473.62,660.41 474.36,660.43 475.11,660.45 475.85,660.48 476.60,660.50 477.34,660.52 478.09,660.54 478.83,660.57 479.58,660.59 480.32,660.61 481.06,660.63 481.81,660.65 482.55,660.67 483.30,660.69 484.04,660.71 484.79,660.73 485.53,660.75 486.28,660.77 487.02,660.79 487.77,660.81 488.51,660.83 489.26,660.84 490.00,660.86 490.75,660.88 491.49,660.90 492.24,660.91 492.98,660.93 493.73,660.95 494.47,660.97 495.22,660.98 495.96,661.00 496.71,661.01 497.45,661.03 498.20,661.05 498.94,661.06 499.69,661.08 500.43,661.09 501.18,661.11 501.92,661.12 502.67,661.14 503.41,661.15 504.16,661.17 504.90,661.18 505.65,661.19 506.39,661.21 507.13,661.22 507.88,661.23 508.62,661.25 509.37,661.26 510.11,661.27 510.86,661.29 511.60,661.30 512.35,661.31 513.09,661.32 513.84,661.34 514.58,661.35 515.33,661.36 516.07,661.37 516.82,661.38 517.56,661.39 518.31,661.40 519.05,661.42 519.80,661.43 520.54,661.44 521.29,661.45 522.03,661.46 522.78,661.47 523.52,661.48 524.27,661.49 525.01,661.50 525.76,661.51 526.50,661.52 527.25,661.53 527.99,661.54 528.74,661.55 529.48,661.56 530.23,661.57 530.97,661.58 531.72,661.58 532.46,661.59 533.20,661.60 533.95,661.61 534.69,661.62 535.44,661.63 536.18,661.64 536.93,661.64 537.67,661.65 538.42,661.66 539.16,661.67 539.91,661.68 540.65,661.68 541.40,661.69 542.14,661.70 542.89,661.71 543.63,661.71 544.38,661.72 545.12,661.73 545.87,661.74 546.61,661.74 547.36,661.75 548.10,661.76 548.85,661.76 549.59,661.77 550.34,661.78 551.08,661.78 551.83,661.79 552.57,661.80 553.32,661.80 554.06,661.81 554.81,661.81 555.55,661.82 556.30,661.83 557.04,661.83 557.79,661.84 558.53,661.84 559.27,661.85 560.02,661.85 560.76,661.86 561.51,661.87 562.25,661.87 563.00,661.88 563.74,661.88 564.49,661.89 565.23,661.89 565.98,661.90 566.72,661.90 567.47,661.91 568.21,661.91 568.96,661.92 569.70,661.92 570.45,661.93 571.19,661.93 571.94,661.94 572.68,661.94 573.43,661.94 574.17,661.95 574.92,661.95 575.66,661.96 576.41,661.96 577.15,661.97 577.90,661.97 578.64,661.97 579.39,661.98 580.13,661.98 580.88,661.99 581.62,661.99 582.37,661.99 583.11,662.00 583.86,662.00 584.60,662.01" fill="none" stroke="#3AA396" stroke-width="1.3" stroke-dasharray="5,2.6" clip-path="url(#cg)"/>
<polyline points="355.11,1413.52 355.14,1270.70 355.16,1168.31 355.18,1091.30 355.21,1031.28 355.23,983.19 355.25,943.79 355.27,910.92 355.30,883.09 355.32,859.22 355.34,838.52 355.36,820.40 355.39,804.40 355.41,790.18 355.43,777.45 355.45,765.99 355.48,755.62 355.50,746.19 355.52,737.58 355.55,729.69 355.57,722.43 355.59,715.73 355.61,709.53 355.64,703.77 355.66,698.40 355.68,693.40 355.70,688.72 355.73,684.33 355.75,680.21 355.77,676.33 355.79,672.67 355.82,669.22 355.84,665.95 355.86,662.86 355.88,659.93 355.91,657.14 355.93,654.49 355.95,651.97 355.98,649.57 356.00,647.27 356.02,645.08 356.04,642.98 356.07,640.98 356.09,639.06 356.11,637.22 356.13,635.45 356.16,633.75 356.18,632.12 356.20,630.55 356.22,629.04 356.25,627.58 356.27,626.18 356.29,624.83 356.32,623.52 356.34,622.26 356.36,621.04 356.38,619.87 356.41,618.73 356.43,617.63 356.45,616.56 356.47,615.53 356.50,614.52 356.52,613.55 356.54,612.61 356.56,611.70 356.59,610.81 356.61,609.95 356.63,609.11 356.66,608.30 356.68,607.50 356.70,606.73 356.72,605.99 356.75,605.26 356.77,604.55 356.79,603.85 356.81,603.18 356.84,602.52 356.86,601.88 356.88,601.26 356.90,600.65 356.93,600.06 356.95,599.48 356.97,598.91 356.99,598.36 357.02,597.82 357.04,597.29 357.06,596.77 357.09,596.27 357.11,595.78 357.13,595.30 357.15,594.83 357.18,594.36 357.20,593.91 357.22,593.47 357.24,593.04 357.27,592.62 357.29,592.20 357.31,591.80 357.33,591.40 357.36,591.01 357.38,590.63 357.40,590.25 357.43,589.89 357.45,589.53 357.47,589.17 357.49,588.83 357.52,588.49 357.54,588.16 357.56,587.83 357.58,587.51 357.61,587.19 357.63,586.89 357.65,586.58 357.67,586.28 357.70,585.99 357.72,585.70 357.74,585.42 357.77,585.15 357.79,584.87 357.81,584.60 357.83,584.34 357.86,584.08 357.88,583.83 357.90,583.58 357.92,583.33 357.95,583.09 357.97,582.85 357.99,582.62 358.01,582.39 358.04,582.16 358.06,581.94 358.08,581.72 358.10,581.51 358.13,581.29 358.15,581.08 358.17,580.88 358.20,580.68 358.22,580.48 358.24,580.28 358.26,580.09 358.29,579.90 358.31,579.71 358.33,579.53 358.35,579.34 358.38,579.16 358.40,578.99 358.42,578.81 358.44,578.64 358.47,578.47 358.49,578.31 358.51,578.14 358.54,577.98 358.56,577.82 358.58,577.67 358.60,577.51 358.63,577.36 358.65,577.21 358.67,577.06 358.69,576.91 358.72,576.77 358.74,576.63 358.76,576.49 358.78,576.35 358.81,576.21 358.83,576.08 358.85,575.94 358.88,575.81 358.90,575.68 358.92,575.55 358.94,575.43 358.97,575.30 358.99,575.18 359.01,575.06 359.03,574.94 359.06,574.82 359.08,574.71 359.10,574.59 359.12,574.48 359.15,574.36 359.17,574.25 359.19,574.15 359.21,574.04 359.24,573.93 359.26,573.83 359.28,573.72 359.31,573.62 359.33,573.52 359.35,573.42 359.37,573.32 359.40,573.22 359.42,573.13 359.44,573.03 359.46,572.94 359.49,572.84 359.51,572.75 359.53,572.66 359.55,572.57 359.58,572.48 359.60,572.40 359.62,572.31 359.65,572.22 359.67,572.14 359.69,572.06 359.71,571.97 359.74,571.89 359.76,571.81 359.78,571.73 359.80,571.66 359.83,571.58 359.85,571.50 359.87,571.43 359.89,571.35 359.92,571.28 359.94,571.20 359.96,571.13 359.99,571.06 360.01,570.99 360.03,570.92 360.05,570.85 360.08,570.78 360.10,570.71 360.12,570.65 360.14,570.58 360.17,570.52 360.19,570.45 360.21,570.39 360.23,570.32 360.26,570.26 360.28,570.20 360.30,570.14 360.32,570.08 360.35,570.02 360.37,569.96 360.39,569.90 360.42,569.85 360.44,569.79 360.46,569.73 360.48,569.68 360.51,569.62 360.53,569.57 360.55,569.51 360.57,569.46 360.60,569.41 360.62,569.35 360.64,569.30 360.66,569.25 360.69,569.20 360.71,569.15 360.73,569.10 360.76,569.05 360.78,569.01 360.80,568.96 360.82,568.91 360.85,568.86 360.87,568.82 360.89,568.77 360.91,568.73 360.94,568.68 360.96,568.64 360.98,568.59 361.00,568.55 361.03,568.51 361.05,568.47 361.07,568.42 361.10,568.38 361.12,568.34 361.14,568.30 361.16,568.26 361.19,568.22 361.21,568.18 361.23,568.14 361.25,568.11 361.28,568.07 361.30,568.03 361.32,567.99 361.34,567.96 361.37,567.92 361.39,567.88 361.41,567.85 361.43,567.81 361.46,567.78 361.48,567.74 361.50,567.71 361.53,567.68 361.55,567.64 361.57,567.61 361.59,567.58 361.62,567.54 361.64,567.51 361.66,567.48 361.68,567.45 361.71,567.42 361.73,567.39 361.75,567.36 361.77,567.33 361.80,567.30 361.82,567.27 361.84,567.24 361.87,567.21 361.89,567.18 361.89,567.18 362.63,566.41 363.38,565.88 364.12,565.54 364.87,565.35 365.61,565.26 366.36,565.27 367.10,565.35 367.85,565.48 368.59,565.67 369.34,565.90 370.08,566.16 370.83,566.46 371.57,566.77 372.32,567.11 373.06,567.47 373.81,567.84 374.55,568.23 375.30,568.63 376.04,569.04 376.79,569.46 377.53,569.89 378.27,570.32 379.02,570.76 379.76,571.20 380.51,571.65 381.25,572.11 382.00,572.57 382.74,573.03 383.49,573.49 384.23,573.96 384.98,574.42 385.72,574.89 386.47,575.36 387.21,575.83 387.96,576.31 388.70,576.78 389.45,577.25 390.19,577.72 390.94,578.20 391.68,578.67 392.43,579.15 393.17,579.62 393.92,580.09 394.66,580.56 395.41,581.04 396.15,581.51 396.90,581.98 397.64,582.45 398.39,582.92 399.13,583.39 399.88,583.85 400.62,584.32 401.37,584.78 402.11,585.25 402.86,585.71 403.60,586.17 404.34,586.63 405.09,587.09 405.83,587.55 406.58,588.01 407.32,588.46 408.07,588.92 408.81,589.37 409.56,589.82 410.30,590.27 411.05,590.72 411.79,591.17 412.54,591.61 413.28,592.06 414.03,592.50 414.77,592.94 415.52,593.38 416.26,593.82 417.01,594.26 417.75,594.69 418.50,595.13 419.24,595.56 419.99,595.99 420.73,596.42 421.48,596.85 422.22,597.27 422.97,597.70 423.71,598.12 424.46,598.54 425.20,598.96 425.95,599.38 426.69,599.80 427.44,600.21 428.18,600.63 428.93,601.04 429.67,601.45 430.41,601.86 431.16,602.27 431.90,602.67 432.65,603.08 433.39,603.48 434.14,603.88 434.88,604.28 435.63,604.68 436.37,605.08 437.12,605.47 437.86,605.87 438.61,606.26 439.35,606.65 440.10,607.04 440.84,607.43 441.59,607.81 442.33,608.20 443.08,608.58 443.82,608.96 444.57,609.34 445.31,609.72 446.06,610.10 446.80,610.47 447.55,610.84 448.29,611.22 449.04,611.59 449.78,611.96 450.53,612.32 451.27,612.69 452.02,613.05 452.76,613.42 453.51,613.78 454.25,614.14 455.00,614.50 455.74,614.85 456.48,615.21 457.23,615.56 457.97,615.92 458.72,616.27 459.46,616.62 460.21,616.97 460.95,617.31 461.70,617.66 462.44,618.00 463.19,618.34 463.93,618.68 464.68,619.02 465.42,619.36 466.17,619.70 466.91,620.03 467.66,620.37 468.40,620.70 469.15,621.03 469.89,621.36 470.64,621.68 471.38,622.01 472.13,622.34 472.87,622.66 473.62,622.98 474.36,623.30 475.11,623.62 475.85,623.94 476.60,624.25 477.34,624.57 478.09,624.88 478.83,625.19 479.58,625.50 480.32,625.81 481.06,626.12 481.81,626.43 482.55,626.73 483.30,627.04 484.04,627.34 484.79,627.64 485.53,627.94 486.28,628.23 487.02,628.53 487.77,628.83 488.51,629.12 489.26,629.41 490.00,629.70 490.75,629.99 491.49,630.28 492.24,630.57 492.98,630.85 493.73,631.14 494.47,631.42 495.22,631.70 495.96,631.98 496.71,632.26 497.45,632.53 498.20,632.81 498.94,633.08 499.69,633.36 500.43,633.63 501.18,633.90 501.92,634.17 502.67,634.44 503.41,634.70 504.16,634.97 504.90,635.23 505.65,635.49 506.39,635.75 507.13,636.01 507.88,636.27 508.62,636.53 509.37,636.78 510.11,637.04 510.86,637.29 511.60,637.54 512.35,637.79 513.09,638.04 513.84,638.29 514.58,638.53 515.33,638.78 516.07,639.02 516.82,639.26 517.56,639.50 518.31,639.74 519.05,639.98 519.80,640.22 520.54,640.45 521.29,640.69 522.03,640.92 522.78,641.15 523.52,641.38 524.27,641.61 525.01,641.84 525.76,642.07 526.50,642.29 527.25,642.51 527.99,642.74 528.74,642.96 529.48,643.18 530.23,643.40 530.97,643.61 531.72,643.83 532.46,644.04 533.20,644.26 533.95,644.47 534.69,644.68 535.44,644.89 536.18,645.10 536.93,645.30 537.67,645.51 538.42,645.71 539.16,645.92 539.91,646.12 540.65,646.32 541.40,646.52 542.14,646.72 542.89,646.91 543.63,647.11 544.38,647.30 545.12,647.49 545.87,647.69 546.61,647.88 547.36,648.06 548.10,648.25 548.85,648.44 549.59,648.62 550.34,648.81 551.08,648.99 551.83,649.17 552.57,649.35 553.32,649.53 554.06,649.71 554.81,649.88 555.55,650.06 556.30,650.23 557.04,650.40 557.79,650.58 558.53,650.74 559.27,650.91 560.02,651.08 560.76,651.25 561.51,651.41 562.25,651.57 563.00,651.74 563.74,651.90 564.49,652.06 565.23,652.22 565.98,652.37 566.72,652.53 567.47,652.68 568.21,652.84 568.96,652.99 569.70,653.14 570.45,653.29 571.19,653.44 571.94,653.59 572.68,653.73 573.43,653.88 574.17,654.02 574.92,654.16 575.66,654.30 576.41,654.44 577.15,654.58 577.90,654.72 578.64,654.85 579.39,654.99 580.13,655.12 580.88,655.25 581.62,655.39 582.37,655.51 583.11,655.64 583.86,655.77 584.60,655.90" fill="none" stroke="#E8402B" stroke-width="1.5" clip-path="url(#cg)"/>
<rect x="350.5" y="547.5" width="234" height="153" fill="none" stroke="#444" stroke-width="1.1"/>
<text x="345" y="704.2" font-size="10.5" text-anchor="end" fill="#111" stroke="#111" stroke-width="0.30" >-100</text>
<line x1="350.4" y1="681.5" x2="352.5" y2="681.5" stroke="#444" stroke-width="1" />
<line x1="350.4" y1="662.5" x2="353.8" y2="662.5" stroke="#444" stroke-width="1" />
<text x="345" y="665.9" font-size="10.5" text-anchor="end" fill="#111" stroke="#111" stroke-width="0.30" >0</text>
<line x1="350.4" y1="643.5" x2="352.5" y2="643.5" stroke="#444" stroke-width="1" />
<line x1="350.4" y1="623.5" x2="353.8" y2="623.5" stroke="#444" stroke-width="1" />
<text x="345" y="627.5" font-size="10.5" text-anchor="end" fill="#111" stroke="#111" stroke-width="0.30" >100</text>
<line x1="350.4" y1="604.5" x2="352.5" y2="604.5" stroke="#444" stroke-width="1" />
<line x1="350.4" y1="585.5" x2="353.8" y2="585.5" stroke="#444" stroke-width="1" />
<text x="345" y="589.2" font-size="10.5" text-anchor="end" fill="#111" stroke="#111" stroke-width="0.30" >200</text>
<line x1="350.4" y1="566.5" x2="352.5" y2="566.5" stroke="#444" stroke-width="1" />
<text x="345" y="550.9" font-size="10.5" text-anchor="end" fill="#111" stroke="#111" stroke-width="0.30" >300</text>
<line x1="355.5" y1="700.8" x2="355.5" y2="697.4" stroke="#444" stroke-width="1" />
<text x="355" y="714" font-size="10.5" text-anchor="middle" fill="#111" stroke="#111" stroke-width="0.30" >0</text>
<line x1="377.5" y1="700.8" x2="377.5" y2="698.7" stroke="#444" stroke-width="1" />
<line x1="400.5" y1="700.8" x2="400.5" y2="697.4" stroke="#444" stroke-width="1" />
<text x="400.9" y="714" font-size="10.5" text-anchor="middle" fill="#111" stroke="#111" stroke-width="0.30" >2</text>
<line x1="423.5" y1="700.8" x2="423.5" y2="698.7" stroke="#444" stroke-width="1" />
<line x1="446.5" y1="700.8" x2="446.5" y2="697.4" stroke="#444" stroke-width="1" />
<text x="446.8" y="714" font-size="10.5" text-anchor="middle" fill="#111" stroke="#111" stroke-width="0.30" >4</text>
<line x1="469.5" y1="700.8" x2="469.5" y2="698.7" stroke="#444" stroke-width="1" />
<line x1="492.5" y1="700.8" x2="492.5" y2="697.4" stroke="#444" stroke-width="1" />
<text x="492.8" y="714" font-size="10.5" text-anchor="middle" fill="#111" stroke="#111" stroke-width="0.30" >6</text>
<line x1="515.5" y1="700.8" x2="515.5" y2="698.7" stroke="#444" stroke-width="1" />
<line x1="538.5" y1="700.8" x2="538.5" y2="697.4" stroke="#444" stroke-width="1" />
<text x="538.7" y="714" font-size="10.5" text-anchor="middle" fill="#111" stroke="#111" stroke-width="0.30" >8</text>
<line x1="561.5" y1="700.8" x2="561.5" y2="698.7" stroke="#444" stroke-width="1" />
<text x="584.6" y="714" font-size="10.5" text-anchor="middle" fill="#111" stroke="#111" stroke-width="0.30" >10</text>
<text x="467" y="729" font-size="10.5" text-anchor="middle" fill="#111" stroke="#111" stroke-width="0.30" >Separation Distance (nm)</text>
<text transform="translate(318,624.5) rotate(-90)" font-size="10.5" text-anchor="middle" fill="#111" stroke="#111" stroke-width="0.3">Interaction Energy (<tspan font-style="italic">k</tspan><tspan font-size="6.5" dy="1.2">B</tspan><tspan dy="-1.2">T)</tspan></text>
<line x1="599.3" y1="571.3" x2="620.8" y2="571.3" stroke="#E8402B" stroke-width="1.7" />
<text x="635" y="575.3" font-size="10.5" text-anchor="start" fill="#111" stroke="#111" stroke-width="0.30" ><tspan font-style="italic">V</tspan><tspan font-size="6.6" dy="0.6">tot</tspan></text>
<line x1="599.3" y1="598" x2="620.8" y2="598" stroke="#3A7DB8" stroke-width="1.7" stroke-dasharray="4.5,4"/>
<text x="635" y="602" font-size="10.5" text-anchor="start" fill="#111" stroke="#111" stroke-width="0.30" ><tspan font-style="italic">V</tspan><tspan font-size="6.6" dy="0.6">osm</tspan></text>
<line x1="599.3" y1="624.6" x2="620.8" y2="624.6" stroke="#3AA396" stroke-width="1.7" stroke-dasharray="3,2.6"/>
<text x="635" y="628.6" font-size="10.5" text-anchor="start" fill="#111" stroke="#111" stroke-width="0.30" ><tspan font-style="italic">V</tspan><tspan font-size="6.6" dy="0.6">elas</tspan></text>
<line x1="599.3" y1="651.5" x2="620.8" y2="651.5" stroke="#6B4FCB" stroke-width="1.7" stroke-dasharray="1.5,1.1"/>
<text x="635" y="655.5" font-size="10.5" text-anchor="start" fill="#111" stroke="#111" stroke-width="0.30" ><tspan font-style="italic">V</tspan><tspan font-size="6.6" dy="0.6">EDL</tspan></text>
<line x1="599.3" y1="678.1" x2="620.8" y2="678.1" stroke="#E3832A" stroke-width="1.7" stroke-dasharray="4.5,4"/>
<text x="635" y="682.1" font-size="10.5" text-anchor="start" fill="#111" stroke="#111" stroke-width="0.30" ><tspan font-style="italic">V</tspan><tspan font-size="6.6" dy="0.6">vdW</tspan></text>
<circle cx="201.9" cy="596.2" r="24.0" fill="none" stroke="#6a6060" stroke-width="0.7" stroke-dasharray="0.7,1.1"/>
<path transform="scale(0.25)" d="M829 2387l3 1 3 1 3 1 3 2 3 2 3 2 2 2 2 3 2 3 1 3 0 4-1 3-1 3-3 3-3 1-3 0-3-1-3-2-2-2-2-3-1-4 0-3 0-3 0-4 1-3 2-3 1-3 2-3 1-3 2-3 1-4 0-3 1-3 1-4 1-3 2-3 2-3 2-2 3-2 3-1 4 0 3 1 3 2 3 2 3 2 3 1 3 2 3 1 3 2 3 1 3 2 3 1 2 3 0 3-1 3-2 3-2 3-1 3-3 2-2 2-3 2-3 1-4 1M827 2392l3 2 3 1 3 2 3 2 3 2 3 2 3 2 2 2 2 3 2 2 2 3 2 3 2 3 1 3 2 3 1 3 1 3 2 3 1 3 2 3 1 4-1 3-3 2-3 1-3-1-4-1-3-2-2-2 0-4 1-3 1-3 2-3 2-3 3-1 3-1 4 0 3-1 3-1 4-1 3-1 3-1 3-2 2-2 1-4 1-3-1-3 0-4-1-3-1-3-1-3-1-4 0-3 0-4M824 2398l3 1 3 2 3 2 2 2 2 3 1 4 1 3 1 3 1 3 1 4 2 3 2 2 2 3 3 2 3 1 3 2 3 1 3 2 3 2 3 2 3 1 3-1 2-3 0-3 0-3-1-4-1-3-2-3-1-3-1-3-2-3-1-4-1-3-1-3-1-3 0-4 0-3 1-3 1-4 1-3 1-3 2-3 2-3 2-2 1-3 0-4 0-3-3-3-3-1-3-1-3 1-4 1-3 1-3 1-3 2-3 1-3 2-3 1-4 1-3 0-3 1-4 0-1-3M822 2401l2 2 2 3 2 3 3 1 4 0 3 0 3-1 3-1 3-2 3-3 1-3 2-3 2-2 2-3 3-2 3-2 3-1 3 0 4 1 3 2 3 2 2 2 3 2 2 2 3 3 2 2 1 3 0 4-2 3-3 1-2 3-3 2-3 2-3 1-3 0-4 0-3-1-3-2-2-2-1-4-1-3 0-3 1-4 1-3 2-3 2-2 3-2 2-2 3-2 3-2 2-3 3-2 3-1 3-2 3-2 3-2 3-1 2-2 0-4 0-3-1-4-1-3-1-3-2-3-1-3-2-3-3-2-2-2-4-1-3-2-3-1M819 2403l1 3 1 3 0 4 1 3 1 3 1 3 1 4-1 3-1 3-3 3-2 2-3 1-3 2-4 1-3 0-3-1-3-1-3-2-2-3-2-3-1-3 0-4-1-3-1-3-1-3-1-4 0-3 0-4 1-3-1-3 0-4-1-3-1-3-1-3-3-3-2-2-3-2-4 0-3 1-3 1-2 3 0 4 0 3 2 3 2 3 2 2 3 2 3 2 3 1 3 0 4 1 3 0 3 1 4 1 3 0 3 1 4 1 3 1 3 0 4 1 3 0 3 0 4 0 3 1 3 0M814 2405l1 3 1 3 2 3 2 3 3 2 3 1 3 1 4-1 2-3 1-3 0-3-1-4-1-3-3-2-2-3-3-1 3 0 4-1 3-2 3-1 2-3 2-2 2-3 1-3 1-4 1-3 2-3 2-3 1-3 2-3 3-2 3-1 3 0 4 1 2 2 1 3 1 4-1 3-2 3-2 2-3 2-3 1-4 0-3 0-3 0-4-2-3-1-3-1-3-2-3-2-2-2-3-2-3-2-3-2-3-2-2-1-3-2-3-2-3-1-2-3-1-3 0-4 1-3 3-2 3-2M809 2406l0 3 2 3 3 2 3 1 4 0 3 0 3-1 4-1 2-2 3-2 2-3 2-3 1-3 2-3 0-3 0-4 0-3-1-3-1-4-1-3-2-3 0-3-1-4 0-3 0-3 0-4-1-3-1-3-3-2-3-2-3-1-4 0-3-1-3-1-3 0-4 0-3 0-4 0-3-1-3 0-4 0-3 0-4-1-3 0-3 1-3 1-3 2-2 3-2 3-1 3 0 4-1 3-1 3-1 3-1 4-1 3 0 3-1 4-1 3-1 3-2 3-2 2-3 2-3 2-3 1-4 0-3 0-4 0-3 1-3 1-4 1-3 1-1 3 1 4M803 2406l2 3 2 2 2 3 2 2 3 3 3 2 3 1 3 1 3 1 4 0 3 1 3 0 4 1 3 1 3 1 3 1 4 1 3 1 3 1 3 1 4 2 3 1 3 1 3 0 4-1 2-2 0-4-1-3-1-3 0-4 0-3 0-3 1-4 1-3 2-3 1-3 2-3 1-3 2-3 2-3 3-2 1-3 0-3-1-4-2-2-2-3-1-3-2-3-2-3-3-2-3-2-3-1-3-2-3-1-3-1-3-1-4 0-3 1-3 2-2 3-1 3 0 3 1 4 1 3 2 3 3 2 3 1 3 0 4 0 3 0 4-1M800 2405l0 3-1 3-2 3-2 3-3 2-3 1-3 1-3 1-4 0-3 0-3-1-3-3-1-3 1-3 2-3 3-2 3 0 3 0 3 2 3 2 1 3 1 4 0 3 0 3 0 4-2 3-2 3-2 2-3 2-3 2-3 1-3 0-4 0-3 0-4-1-3-1-3-1-3-1-3-2-3-1-3-1-4-1-3 0-3-2-2-2-1-4 0-3 1-3 0-4-1-3-2-3-2-2-3-2-1-3-1-4 1-3 2-3 0-4 0-3-1-3-1-4 0-3 1-3 1-4 1-3 1-3 1-3 1-3 1-4 2-2 2-3M794 2401l-1 3 1 4 1 3 1 3 2 3 2 3 3 1 3 1 4 0 2-2 2-3 2-3 0-3 0-4 2-2 4 0 3 0 3-1 3-1 3-2 3-2 2-3 2-3 1-3 2-3 2-3 1-3 2-2 3-3 2-2 2-3 2-3 1-3 1-3 0-4 0-3-1-4 0-3-2-3-2-2-2-3-3-2-3-2-2-2-3-3-2-3-2-2-1-3-2-3-1-3-1-4-2-3-1-3-1-3-2-3-3-2-3 0-3 1-4-1-3 0-3-1-4 1-3 1-3 2-3 2M791 2398l-3 1-3-1-3-2-2-2-1-4-1-3 1-3 1-4 2-2 4-1-2 3-3 2-3 2-3 1-3 2-3 1-3 2-3 2-3 2-3 1-2 2-3 2-3 2-3 2-3 2-3 1-3 2-3 2-2 2-3 2-1 3 1 3 2 2 4 2 3 0 3 0 3-1 3-3 1-3 1-3 0-3-1-4-1-3-2-3-2-3-2-2-2-3-2-3-1-3-1-4 0-3-1-3-1-4-1-3 0-3 0-4M788 2393l-3 0-4 0-3-1-3-1-3-2-1-3-1-4-1-3 0-3 0-4 1-3 1-3 2-3 1-3 2-3 2-3 3-2 3-1 3 0 3 2 3 2 1 4-1 3 0 3-2 4-1 3-2 2-3 3-3 1-3 2-3 1-3 2-2 2-3 2-2 3-2 2-3 3-2 2-2 3-4 1-3 1-3 1-4 0-3 0-3 0-4 1-3 1-3 1-3 1-1 4 2 3 2 2 3 2M787 2389l-3 1-3 3-1 3-2 3-1 3-1 3-1 3-1 4-1 3-1 3-2 3-1 3-1 4-1 3 0 3 0 4 1 3 1 3 2 3 1 3 2 3 2 3 2 3 3 1 3 2 4 0 3 1 3-1 3-1 4-2 2-2 3-2 2-3 1-3 1-3 0-3-1-4-1-3-2-3-1-3-1-3 0-4 0-3 0-3 2-4 2-2 2-2 3-2 4 0 3 0 3 1 3 1 3 2M786 2387l-3 0-3 1-4-1-3 0-3-1-3-2-3-2-3-2-2-3-1-3 1-3 1-3 3-3 2-2 3-2 3-2 3-2 3-2 2-2 2-2 2-3 3-2 2-3 3-1 3-2 4-1 3 0 3 2 2 3 1 3-1 3-2 3-3 1-3 0-4-1-3-1-3-2-3-1-3-1-4 0-3 0-3 1-4 1-3 1-2 2-3 2-2 3-3 2-2 2-3 3-2 3-2 2-2 3-3 2-2 3-1 3-2 3-2 3-1 3-3 2-2 2-3 2-3 2-2 3-1 3 0 3 1 3 2 4 1 2 3 3 3 2 3 1M787 2381l-4 0-3 0-3-1-3-2-3-3-2-2-2-2-3-3-2-2-2-3-2-3-1-3-2-3-1-3-2-3-1-3-2-3-2-3-2-3-2-2-3-2-4 0-2 2 0 4 1 3 2 2 3 2 3 2 4 0 3-1 3-2 2-2 2-3 0-4 1-3 1-3 0-4 1-3 0-4 0-3 1-3 2-3 3-1 4 0 3-1 3-2 3-1 4-1 2-2 4 0 3 0 4 0 3-1 3-1 3 1 4 1 3 1 3 2 2 2 3 1 4 2 3 1 3 2M789 2375l-3-2-2-2-2-3-1-3-1-4 1-3 0-3 0-4 2-3 1-3 3-2 3-2 3-1 3-2 3-2 2-2 2-3 2-3 2-2 2-3 2-3 2-3 2-3 2-3 2-2 1-3 2-3 1-3 3-2 4 2 2 2 2 3 2 3 2 2 3 2 3 1 3 0 4 0 3-1 3 2 2 2 2 3 1 3 1 4 0 3 0 3 0 4 0 3 0 4-1 3-2 3-1 3-2 3-2 3M791 2372l-3-2-3-1-3-2-4-1-3 0-3 0-4-1-3 0-3-1-4 0-3-1-3-1-3-1-4-2-3-1-3-2-2-2-2-3-1-3-1-3 0-4 1-3 2-2 3-2 3-3 2-2 3-2 2-3 1-3 1-3 2-3 3-2 3-2 3-1 3 0 4-1 3-1 3-2 3-1 3-2 3-1 3-1 4 0 3 0 3 2 3 2 3 2 3 1 2 2 3 3 3 2 2 2 3 2 3 1 3 2 2 3 3 2 3 2 2 2 3 3 2 2 2 2 3 3 2 3 2 3M793 2369l-3-1-3-1-3 1-4 1-3 1-2 3-2 3-1 3 0 3 2 3 3 2 3 1 4 0 2 3-1 3-1 3 0 4 1 3 2 3 3 2 3 1 3 2 3 1 3 1 3 1 3 2 3 2 2 2 2 3 2 3 1 3 0 4 0 3 0 3-1 4 0 3-1 3-1 4-2 3-2 2-3 2-3 1-4 1-3 0-3-2-2-2-2-3 0-4 0-3 0-3 0-4 1-3 0-4 0-3 0-3 0-4 1-3 0-4 0-3 0-3 1-4 0-3 4 0M799 2365l-1-3-1-3 0-4 1-3 1-3 1-3 2-3 3-2 3 0 4 0 3 1 3 1 3 2 2 3 2 2 2 3 1 4 0 3-1 3-2 4-2 2-1-3 1-4 1-3 1-3 2-3 1-3 2-3 2-3 2-2 3-3 3-1 3-1 3-1 4 0 3 1 3 1 3 2 3 2 1 3 0 3 0 4-2 3-2 2-3 1-4 1-3 1-3 0-4 0-3-1-3-1-2-3-2-3-1-3 1-3 3-3 3-1 3 0 4 0 3 1 3 2M802 2364l2-3 2-2 3-3 2-2 2-3 2-3 1-3 2-3 2-2 3-2 3-2 4 0 3 0 3 2 2 2 2 3 2 3 1 3 2 3 2 3 2 3 1 3 2 3 1 3 1 3 0 4 0 3-2 3-1 3-2 3-3 2-3 2-3 1-3 0-4-1-2-2 3-2 3 0 3 2 3 2 1 3 1 3 1 4 1 3 0 3 0 4 0 3 0 3 0 4 0 3-1 4 0 3M810 2364l1-4 0-3 1-3 1-3 2-4 2-2 2-3 3-2 2-2 3-2 3-2 3-1 3-1 4 0 3 0 3 0 4 0 3 1 3 0 4 0 3 0 4 0 3-1 3 0 4 0 2 3 0 3 1 3 0 4-1 3-2 3-2 2-3 2-4 0-3-1-3-1-3-2-2-3-2-3-1-3 0-3 0-4 1-3 1-3 1-3 1-3 2-4 0-3-2-3-3 0-3 1-3 1-3 3-1 3 1 3 2 3 2 2 3 2 3 2 4 0 3 0 3-1 3-1 3-3 1-3-1-3-3-2-3-1-3 0-4 0-3-1-3-1M812 2364l0-3 0-4 1-3 1-3 1-3 2-4 1-3 1-3 2-3 1-3 0-4 0-3-1-3-1-3-2-3-3-3-2-2-2-3-2-3-2-2-3-2-3-2-4 0-2 2-3 2-1 3-1 4 0 3 2 3 3 2 3 1 3 0 4 1 3 0 4 0 3 1 3 0 4 0 3 0 3-1 3-2 3-1 4-1 3-1 3-1 4-1 3 0 3-1 3 2 2 2 2 3 2 3 1 3 1 4 0 3-1 3 0 4 0 3 0 4 0 3 0 3 1 4 0 3 1 4M817 2366l0-4 0-3-1-3-2-3-2-3-1-3-3-2-2-3-3-1-3-1-4 0-3 1-3 2-2 3 0 3 0 3 1 4 2 3 2 2 3 2 3 1-3 0-4 0-3 0-3 0-4-1-3-1-3 0-4 1-3 1-3 1-4 0-3 0-4-1-3 0-3-1-4 0-3 1-3 0-4 0-3-1-3-1-3-2-3-2-1-3 1-3 3-2 3-1 3 0 4 2 2 2 1 3 1 4 0 3-1 3-1 3-2 3-2 3-1 3-2 3-2 3-2 3-2 2-2 3-3 2 0 4 1 3 3 2 3 2 3 2M823 2371l3-3 2-2 3-2 3-2 2-3 1-3 1-3 1-3 2-4 1-3 0-3 1-4 1-3 0-3 1-4 1-3 1-3 0-3 1-4 1-3 1-3-2-4-3-1-3-1-3 1-3 2-3 2-2 2-3 2-3 2-3 1-3 2-3 1-3 2-3 3-1 3-2 3-1 3-3 2-2 2-3 2-3 2-3 1-4 0-3 0-4-1-3 0-3-2-3-1-3-1-3-2-2-3-1-3-1-4 0-3M825 2372l2-2 3-2 3-1 4 0 3 0 3 1 3 2 3 2 3 2 2 2 3 3 2 2 2 3 2 3 2 2 2 3 2 2 2 3 2 3 1 4 1 3 1 3 1 3 2 3 1 3 2 3 3 3 0 3-2 3-2 2-3 2-4 0-3-1-3-1-3-2-3-1-3-1-4-1-3 0-3 2-2 2-2 3-2 3-1 3-1 4 0 3 1 3 2 4 2 2 3 1M827 2376l3-1 3-2 3-1 4-1 3-1 3 0 4-1 3 0 3-1 3-2 2-3 2-3 1-3 1-3 1-3 0-4 1-3 1-3 1-4 1-3 1-3 2-3 1-3-1-3-1-3-3-2-3-2-3-2-3-1-3-1-4 1-3 1-3 2-3 1-2 3-2 2-2 3-1 4-1 3 0 3-1 3-2 4-1 3-2 3-2 3-1 2-2 3-2 3-1 3-1 3 1 4 2 3 2 2 3 2 2 3M829 2384l3 0 3-1 4-1 3-1 3-1 4 0 3-1 3 0 4 1 3 0 4 0 3 0 3 0 4 0 3 0 4 0 3 1 3 2 2 2 2 3 1 3-1 4-2 2-3 2-3 2-3 2-3 2-3 1-3 2-3 1-2 2-3 3-2 2-2 3-2 2-2 3-1 4-1 3-1 3-1 3 0 4 0 3 0 4 2 3 2 2 3 1 3-2 1-3 0-3-2-3-3-3-3-1-3 0-4 0-3 0-3 1-3 2-3 2-2 3-2 3-2 2-3 3-3 1-3 2-3 1" fill="none" stroke="#52B3EC" stroke-width="1.8"/>
<circle cx="201.9" cy="596.2" r="5.2" fill="#4d4a52"/>
<circle cx="202.2" cy="594.7" r="0.55" fill="#c24a3a"/><circle cx="200.5" cy="596.6" r="0.55" fill="#d07a3a"/><circle cx="200.0" cy="594.1" r="0.55" fill="#3a6a9a"/><circle cx="201.3" cy="597.2" r="0.55" fill="#c24a3a"/><circle cx="202.3" cy="598.1" r="0.55" fill="#d07a3a"/><circle cx="202.3" cy="595.8" r="0.55" fill="#3a6a9a"/><circle cx="203.6" cy="596.2" r="0.55" fill="#c24a3a"/><circle cx="203.9" cy="597.4" r="0.55" fill="#d07a3a"/><circle cx="201.4" cy="595.6" r="0.55" fill="#3a6a9a"/><circle cx="202.3" cy="596.3" r="0.55" fill="#c24a3a"/><circle cx="199.8" cy="593.2" r="0.55" fill="#d07a3a"/><circle cx="201.1" cy="597.8" r="0.55" fill="#3a6a9a"/><circle cx="205.3" cy="596.5" r="0.55" fill="#c24a3a"/><circle cx="200.5" cy="594.0" r="0.55" fill="#d07a3a"/>
<circle cx="243.1" cy="596.2" r="24.0" fill="none" stroke="#6a6060" stroke-width="0.7" stroke-dasharray="0.7,1.1"/>
<path transform="scale(0.25)" d="M994 2385l3 0 3-1 3-2 3-2 2-3 3-2 3-1 3-1 4 0 3 0 4 0 3 1 3 2 2 2 3 3 1 3 0 3 0 4 0 3-1 3-1 4-1 3 0 3-1 4 0 3-1 3 0 4-1 3-1 3 0 4 1 3 2 3 3 2 3 0 2-3-1-3-2-3-3-1-4 1-3 1-2 3 0 4 0 3 1 3 3 3 0 3 0 3-4 0-3-1-3-1-3-1-4-1-3-2-3-1-3-2-3-1-3-2-2-2-3-3-2-2-2-3-2-3-1-3-2-3-1-3-1-3 0-4 0-3 1-3 1-4 2 2 3 3M992 2394l3 0 3 0 4 0 3-1 3-2 3-2 1-3 2-3 1-3-1-4-2-2-3-2-3-2-3 0-4 0-3 0-4 1 1-4 1-3 1-3 3-2 3-2 3-1 3 1 3 2 2 2 2 3 2 3 1 3 0 4 1 3 1 3 1 4 0 3-1 3 0 4-1 3 0 4-1 3 0 3-1 4 0 3 0 3 1 4 1 3 3 3 2 1 4 1 3 0 4-1 3-1 2-2 2-3 0-4-1-3-2-3-3-2-3-1-3 1-3 2-2 3-1 3-1 4 0 3 1 3M990 2397l2 3 1 3 1 3 1 4-1 3-1 3-1 4-1 3-2 3-2 2-2 3-3 2-3 2-2 2-3 2-3 1-4 1-3 0-3-1-3-2-2-3 0-3 0-4 1-3 3-2 3-2 3 0 3 0 4 1 2 2 2 3 0 3-2 3-2 2-4 1-3-1-3-2-1-3 0-4 2-2 3-2 4 0 2 2 2 3 0 3 0 3-2 4-1 2-3 3-2 2-3 2-2 3-1 4 0 3 0 3M987 2400l3 2 2 3 2 2 3 3 1 3 2 3 1 3 1 3 1 4 0 3 2 3 1 3 1 3 1 4 0 3 1 3 0 4 2 3 2 3 2 2 3 0 3-3 1-3 1-3 1-3 0-4-1-3-3-2-3-1-3 1-3 2-1 3-1 3 0 4 1 3 1 3 1 3 2 4-1 3-3 2-3 0-3-1-2-3-1-4 1-3 2-3 2-2 3-2 3-2 3-1 4-1 3 0 3 0 4 2 2 2 4 1-3 2-3 0-3-2-3-2-1-4-1-3 1-3 2-3 3-2 3-1 3-1 3 1M983 2403l3 2 3 1 3 2 4 1 3 1 3 1 3 0 4 0 3-1 3-1 3-2 2-3 2-3 1-3-1-3-1-4-1-3-2-3-2-2-1-3-2-4-1-3-1-3 0-3 0-4 1-3 2-3 3-2 2-2 3-2 3-1 3-2 3-2 2-2 3-3 3-1 3-2 3-1 3 1 1 4 0 3-2 3-1 3-3 2-3 2-3 0-3-2-3-2-1-3-1-3 1-4 1-3 3-2 4 0 3 0 3 2 1 3 0 4-1 3-3 2-3 1-4-1M978 2405l2 3 3 2 3 2 3 1 3 1 3 0 4 1 3 1 3 1 4 0 3 1 3 1 4 1 3 1 3 1 3 1 3 2 3 2 2 2 3 2 2 3 2 3-1 3-3 1-4 0-3 0-3 0-4 0-3 2-3 2-2 2-2 3-1 3-1 3-2 3-1 4-3 1-3 0-4-1-3-1-3-1-3-2-3-2-3-2-2-2-2-3-2-3-1-3 0-3-1-4 0-3 1-4 1-3 2-3 2-2 2-3 2-3 2-2 2-3 2-3 1-3 0-4 0-3-1-3M972 2406l0 3 0 4 1 3 0 4 0 3 0 3 0 4 0 3 0 4 0 3-1 3-1 3-2 3-3 2-3 1-4-1-3-1-3-1-3-2-1-3 0-4 1-3 2-2 3-2 3-1 4 0 3 0 3 1 3 2 2 3 0 4 0 3-2 3-3 2-3 0-4 0-3-2-2-2-3-2-3-2-4 0-3-1-3 0-4-1-3-1-3-1-3-2-3-2-3-2-2-2-3-1-3-2-4-1-3-1-3-1-3-1-3-2-3-1-2-3 0-4 0-3 0-4M971 2406l-2 3-1 3-2 3-2 2-2 3-2 3-2 3-1 3-2 3-2 2-3 3-2 2-3 1-4 2-3 1-3 0-3 1-4 0-3 0-4 0-3 0-3-1-4-1-3-1-3-1-3-2-2-2-1-4-1-3 0-3-1-4 0-3-1-3 0-4-1-3-2-3-2-3-2-2-3-3 0-3 1-3 1-4 2-2 3-2 3-2 3-1 3-1 3-1 3-2 3-2 2-3 2-2 2-3M965 2405l-3 1-4 0-3 0-3-2-3-2-1-3-1-3-1-4 1-3 1-3 3-3-4 0-3-1-3-1-4-1-2-2-3-1-3-2-3-2-3-2-2-3-1-3-1-3 0-4 1-3 1-3 0-4 1-3 1-3 2-3 2-3 3-2 3 0 3 2 3 2 0 4-1 3-2 3-2 2-4 1-3 0-3-1-3-1-3-2-2-3-2-3-2-3-1-3 0-3 0-4 1-3 2-3 2-2M960 2402l-1 3-2 3-1 3-2 3-1 3-1 4-1 3-1 3 0 4 1 3 1 3 1 4 0 3 1 3 2 3 2 3 3 1 4 1 3 0 3-2 3-2 3-2 2-1 3-3 3-2 2-2 2-3 1-3 1-3 0-4-1-3-2-3-2-3-2-2-3-1-4-1-3-1-3-1-4 0-3 1-3 1-3 2-4 1-3 0-3 1-4 0-3 0-3-1-4-1-2-2-2-4 0-3 2-3 2-3 3-1 3-1 4-1 3 0 4 0 3 1 3 2M955 2397l-3 2-3 1-3 0-4-1-3-1-3-2-2-2-3-2-2-3-1-3 1-4 1-3 2-3 2-3 2-2 2-3 3-2 3-1 3-1 3 0 3 1 3 3-4 0-3 1-3 1-3 1-4 1-3 1-3 1-3 1-4 1-3 0-3 0-4 0-3 0-3 1-4 1-3 1-3 0-4 1-3 0-3 0-4 0-3 2-1 3 0 3 1 3 2 3 2 3 3 2 2 2 3 2 4 1 3 0M954 2395l-2 3-1 3-2 4-1 3 0 3 0 3 1 4 1 3 2 3 3 1 3 2 3 0 4 0 3 1 3 0 4 1 3 1 3 1 3 1 4 1 3 0 3 0 4 0 3-2 3-2 2-2 1-3 1-4 0-3-1-4 0-3-1-3-2-3-2-3-3-2-3-2-3 0 0-4 3 0 3-1 4 0 3-1 3-1 3-2 3-1 3-1 4 0 3 0 4 0 3 1 3 0 4 1 3 1 3 1 4 0 3-1 3-1 3-1 3-2 1-4 0-3-1-3-3-2-3-2-3-1-3 0-4 0-3 0M952 2392l-3 1-3 2-2 2-1 4 0 3 0 3 1 4 2 3 2 2 3 2 3 0 3-1 3-2 2-3 1-3 1-4 2 3 3 1 4 1 3-1 3-2 3-2 3 2 3 1 3 0 4 0 3-1 3-1 3-1 3-2 3-1 4 0 3 0 4 0 3 1 3 2 3 1 2 3 2 2 1 4 0 3-2 3-3 2-2 3-3 2-2 2-3 1-3 2-3 3M951 2386l-3-1-4 1-3 0-3 0-4 0-3 0-4 1-3 0-3 1-4 0-3 1-3 0-4 1-3 1-3 2-2 2 0 4 0 3 2 3 3 1 4 0 3-1 3-2 3-2 2-2 2-3 2-3 1-3 1-3 0-4-1-3-1-3-1-3 0-4 0-3 0-4 2-3 1-3 2-2 2-3 2-3 2-2 3-3 2-2 3-2 4-1 3 0 3 0 4 1 3 0 3 1 4-1 3 0 3-1 3-2 3-1 3-2 4-1 3-1 3-2 3-1 3-1 4 0 3 1 3 0 4 0 3 0 3-1M951 2381l-3 0-3-1-3-1-3-2-3-2-1-3-2-3-2-3-2-2-3-2-3-2-3-2-3-1-3-1-4 0-3-1-3 0-4 0-3-1-4 1-3 0-2 2-1 3 0 4 1 3 1 3 1 4-1 3-1 3-2 3-1 3 1 3 2 3 2 3 3 2 2 2 4 1 3 1 3 1 3 0 4-1 3-1 3-1 3-2 3-2 2-3 3-2 2-2 3-3 2-2 3-2 3-2 3-1 3 0 4 1-2 2-3 2-3 2-3 1-4 1-3 0-3 1-3 2-3 1-4 1M954 2374l-3-2-3-1-3 0-4 1-3 0-3 1-4 0-3 1-3 1-4 0-3 0-4 1-3 1-3 1-3 1-3 2-3 1-3 2-3 1-4 1-3 0-2 3-1 3 2 3 3 2 2 3 3 2 3 1 3 2 2 2 3 2 2 3 2 2 1 4 0 3 0 3-2 3-2 3-2 2-4 2-3-2-1-3 1-3 2-3 1-3 3-3 2-2 2-3 3-2 3-2 3-1 3-1 3-1 4 0 3 0 3 1 4 1 3 1M957 2370l-2-2-2-3-1-4 0-3 1-3 1-3 2-3 2-3 3-2 3-1 3 0 3 2 2 3 1 3 1 3-1 4-2 2-3 2-4 1-3 0-3 0-4-1-3-1-3-1-3-2-2-2-3-3-2-2-1-4-1-3 1-3 1-3 1-4 2-2 3-2 3-2 3-1 3-1 4 0 3 0 4 0 3 2 3 1 2 3 3 2 2 2 3 3 2 2 3 2 3 2 2 2 2 3 2 3 2 2 2 3 2 3 2 3M961 2367l-2-3-2-3-2-2-2-3-2-3-2-2-3-3-2-2-3-1-4-1-3 0-3 1-3 2-3 2-3 2-2 2-3 2-2 3-1 3-2 3-2 3-2 2-2 3-3 2-2 3-2 2-2 3-2 3-2 3-3 2-3 2-3 0-2 3-1 3 3 0 3 0 4 1 3 1 3 2 2 2 2 3 0 4-2 3-2 2-4 0-3 0-1-4 2-3 2-2 2-3 3-1 4-1M965 2365l-2-3-2-3-2-2-2-3-2-3-2-3-2-2-3-2-3-1-3-1-4 0-3 0-3 1-3 2-3 2-2 3-2 2-2 3-1 3-1 4 0 3 2 3 2 3 3 2 3 1 3 1 4 0 3 0 3 0 4-1 3-1 3-1 3-2 3-2 3-2 2-3 2-2 1-3 1-4 0-3 0-4 0-3-1-3-2-3-3-2-3-2-3 0-3 0-4 0-3 1M970 2364l-1-3-1-3-2-4-1-3-1-3-1-3-1-3-2-3-3-2-3-1-4-1-3 0-3 0-4 1-3 0-3 1-4 0-3 0-4 0-3-1-2-2-1-3 0-4 1-3 3-2 3-2 3-1 3 0 3 1 3 2 3 2 1 3 0 4 0 3-2 3-2 2-3 2-4 0-3-1-3-2-3-2-2-2-2-3-2-3 0-3 0-3 3-3 3-1 3-1 3-1M974 2364l1-4 2-2 2-3 2-3 2-2 3-3 2-2 3-2 3-1 3-2 4 0 3 0 3 0 4 1 3 1 3 1 3 1 3 3 2 2 2 3 2 3 2 3 2 2 2 3 3 2 3 2 3 1 2 2 3 2 3 1 3 2 3 2 1 3-1 3-3 3-3 2-3 1-3 1-3 0-4 1-3 1-3 1-3 2-1 3-2 3-1 4-1 3-1 3-1 3-1 4-1 3-2 3-2 2-2 3-2 3-2 3-1 3-2 3-1 3-1 3 1 4 1 3 1 3 2 3 2 3 3 1 3-2 3-2 1-3 1-3 0-4M977 2364l1-3 0-4 1-3 0-3 1-4 0-3 1-3 1-3 2-3 2-3 2-3 3-1 4-1 3 0 3 1 4 1 3 1 3 2 3 1 3 2 2 2 2 3 1 3 1 4 0 3 1 3 0 4 0 3-1 4 0 3 0 3 0 4 0 3 0 4 0 3 0 3 1 4 0 3 0 4 1 3 1 3 1 3 1 3 1 4 0 3 0 3 0 4-1 3-1 3-2 3-3 2-3 2-3 1-3 2-2 2-3 2-2 2-2 3-2 3-2 3-1 3-1 3 1 4 2 2 3 0 2-3 0-3 1-4-1-3M984 2367l1-3 1-3 1-3 2-3 1-4 1-3 0-3 0-4-1-3-2-3-2-3-2-3-2-2-3-1-4-1-3 0-3 2-3 2-2 3-1 3-1 3 0 4 0 3 2 3 1 3 2 3 2 3 3 2 3 1 3 0 4 0 3-2 2-3 1-3 0-3-2-3-2-3-2-2-4-1-3-1-3-1-4 1-3 0-3 1-3 2-3 2-2 2-2 3-1 3 0 4M986 2369l3-1 4-1 3-2 3-1 2-2 3-2 3-1 4-1 3 0 3 2 3 2 2 3 1 3 1 3 0 3-2 3-2 3-3 2-3 2-3 2-3 1-3 1-3 0-4 1-3 0 1-4 1-3 2-3 2-2 3-3 2-2 2-2 3-3 1-3 1-3 1-4-1-3 0-3-2-3-2-3-3-2-3-1-3-2-4 0-3 1-3 2-2 3-1 3 0 3 1 3 3 3 3 2 3 0 3-1 3-1 3-3 2-3 1-3 1-3 1-3 1-3 1-4 1-3 0-3M990 2373l3-2 3-1 3-1 3-2 3-2 2-2 3-3 2-2 3-2 3-2 3-1 3-2 3-1 2-3 2-3 1-3 0-3-2-3-3-2-3-1-3 0-3 1-3 2-2 2-2 3-1 4 1 3 0 3 1 4 2 2 3 2 3 2 3 1 4 1 3 1 3 1 3 1 3 2 2 3 2 3 1 3 0 3-1 4-2 2-2 3-3 1-4 1-3 0-3-1-4-1-2-2-3-2-2-3-2-3-1-3 0-4-1-3M993 2380l2-3 0-4 0-3-1-3-2-3-2-2-3-3-2-2-3-2-4 0-3-1-3 0-4 0-3 0-4 0-3 0-3 0-4-1-3 1-3 1-3 1-3 2-4 1-3 1-3 1-3 1-3 1-4 1-3 1-3 0-4 1-3 0-4-1-3 0-3-1-4-1-2-2-1-3 2-3 3-2 3-1 4-1 3-1 3-1 4 0 3-1 3-1 3-1 4 0 3-2 3-1 3-1 4-1 3 0 3 0 4 0 3 0 4 0 3 0 3 1 4 1 3 1 3 0 4 0 3-2 3-2 2-2 3-2 2-3 2-2 2-3M993 2381l4 0 3 0 3 1 4 1 3 1 3 1 3 2 3 1 3 2 3 2 2 2 3 2 2 3 1 3 2 3 0 4 0 3-1 3-2 3-2 3-3 2-3 2-2 2-3 2-1 3 0 4 1 3 2 2 3 2 4 1 3 1 3 2 3-2 2-2 2-3 1-3 0-4 1-3 2-3 3-2 3-1 3-2 2-3 2-3 1-3 1-3 1-3 1-4 1-3 0-3 0-4 0-3-2-3-1-3-2-3-1-3-1-3 0-4 0-3 1-3-1-4-1-3-2-3" fill="none" stroke="#52B3EC" stroke-width="1.8"/>
<circle cx="243.1" cy="596.2" r="5.2" fill="#4d4a52"/>
<circle cx="240.4" cy="594.1" r="0.55" fill="#c24a3a"/><circle cx="243.2" cy="595.7" r="0.55" fill="#d07a3a"/><circle cx="239.6" cy="597.4" r="0.55" fill="#3a6a9a"/><circle cx="240.6" cy="596.8" r="0.55" fill="#c24a3a"/><circle cx="243.9" cy="594.1" r="0.55" fill="#d07a3a"/><circle cx="245.2" cy="598.4" r="0.55" fill="#3a6a9a"/><circle cx="242.7" cy="592.6" r="0.55" fill="#c24a3a"/><circle cx="243.4" cy="598.7" r="0.55" fill="#d07a3a"/><circle cx="245.2" cy="594.5" r="0.55" fill="#3a6a9a"/><circle cx="244.0" cy="597.8" r="0.55" fill="#c24a3a"/><circle cx="243.5" cy="594.9" r="0.55" fill="#d07a3a"/><circle cx="239.4" cy="597.8" r="0.55" fill="#3a6a9a"/><circle cx="244.4" cy="593.6" r="0.55" fill="#c24a3a"/><circle cx="245.0" cy="599.8" r="0.55" fill="#d07a3a"/>
<text x="174.9" y="560.2" font-size="9.0" text-anchor="start" fill="#111" stroke="#111" stroke-width="0.22" >Repulsion due to <tspan font-style="italic">V</tspan><tspan font-size="6.6" dy="0.8">osm</tspan></text>
<line x1="211" y1="566.5" x2="220.4" y2="566.5" stroke="#222" stroke-width="0.8" />
<path d="M209.0,566.5 l3,-1.6 v3.2z" fill="#222"/>
<line x1="224.6" y1="566.5" x2="233.5" y2="566.5" stroke="#222" stroke-width="0.8" />
<path d="M235.5,566.5 l-3,-1.6 v3.2z" fill="#222"/>
<defs><pattern id="hatch" width="2.2" height="2.2" patternUnits="userSpaceOnUse" patternTransform="rotate(45)"><rect width="2.2" height="2.2" fill="#e3e3e3"/><line x1="0" y1="0" x2="0" y2="2.2" stroke="#d2d2d2" stroke-width="0.5"/></pattern></defs>
<rect x="485.3" y="572.3" width="29.2" height="48.2" fill="url(#hatch)" stroke="#8a8282" stroke-width="0.7"/>
<line x1="485.5" y1="572.5" x2="514.3" y2="594.2" stroke="#8a8a8a" stroke-width="0.5" />
<line x1="501" y1="572.5" x2="514.3" y2="582.5" stroke="#8a8a8a" stroke-width="0.5" />
<rect x="514.5" y="572.3" width="11" height="48.2" fill="#fff" stroke="#999" stroke-width="0.5" stroke-dasharray="0.8,0.8"/>
<circle cx="517.2" cy="574.5" r="0.9" fill="none" stroke="#aaa" stroke-width="0.4"/>
<circle cx="519.0" cy="577.4" r="0.9" fill="none" stroke="#aaa" stroke-width="0.4"/>
<circle cx="517.2" cy="580.3" r="0.9" fill="none" stroke="#aaa" stroke-width="0.4"/>
<circle cx="519.0" cy="583.2" r="0.9" fill="none" stroke="#aaa" stroke-width="0.4"/>
<circle cx="517.2" cy="586.1" r="0.9" fill="none" stroke="#aaa" stroke-width="0.4"/>
<circle cx="519.0" cy="589.0" r="0.9" fill="none" stroke="#aaa" stroke-width="0.4"/>
<circle cx="517.2" cy="591.9" r="0.9" fill="none" stroke="#aaa" stroke-width="0.4"/>
<circle cx="519.0" cy="594.8" r="0.9" fill="none" stroke="#aaa" stroke-width="0.4"/>
<circle cx="517.2" cy="597.7" r="0.9" fill="none" stroke="#aaa" stroke-width="0.4"/>
<circle cx="519.0" cy="600.6" r="0.9" fill="none" stroke="#aaa" stroke-width="0.4"/>
<circle cx="517.2" cy="603.5" r="0.9" fill="none" stroke="#aaa" stroke-width="0.4"/>
<circle cx="519.0" cy="606.4" r="0.9" fill="none" stroke="#aaa" stroke-width="0.4"/>
<circle cx="517.2" cy="609.3" r="0.9" fill="none" stroke="#aaa" stroke-width="0.4"/>
<circle cx="519.0" cy="612.2" r="0.9" fill="none" stroke="#aaa" stroke-width="0.4"/>
<circle cx="517.2" cy="615.1" r="0.9" fill="none" stroke="#aaa" stroke-width="0.4"/>
<circle cx="519.0" cy="618.0" r="0.9" fill="none" stroke="#aaa" stroke-width="0.4"/>
<text transform="translate(499.9,596.4) rotate(-90)" font-size="9.3" text-anchor="middle" fill="#111" stroke="#111" stroke-width="0.3"><tspan x="0" dy="-4.0">Quartz</tspan><tspan x="0" dy="12.2">sand</tspan></text>
<circle cx="546.1" cy="596.3" r="24.0" fill="none" stroke="#6a6060" stroke-width="0.7" stroke-dasharray="0.7,1.1"/>
<path transform="scale(0.25)" d="M2205 2388l4 1 3-1 3-1 3-2 2-3 1-3 1-3 1-4 0-3 0-3-2-4-2-2-2-3-3-2-3-1-4 0-3-1-3 0-4 0-3-1-3-1-4-1-3 0-3-1-3-1-4 0-3 0-4 1-3 0-3 1-4 1-3 1-2 2-3 3-2 2-2 3-1 4 0 3 0 3 1 4 0 3 2 3 1 3 3 2 3 2 3 0 4-1 1 3 2 3-2 2-2 3-2 3-2 2-2 3-2 3-2 3M2205 2391l3-1 4 0 3 1 3 1 3 2 3 2 2 2 3 3 2 2 3 2 2 3 1 3 1 4 0 3 1 3 0 4 0 3 0 3 0 4 0 3-1 4-1 3-2 3-2 2-3 2-2 3-2 2-3 2-3 2-3 1-4 0-3 0-4-1-3-1-2-2-3-3-2-2-2-3-2-3-3-1-3-1-4 0-3 0-3 1-3 2-3 2-2 2-3 2-3 2-3 2-3 2-3 1-3 2-3 1-3 0-3-2-2-3-1-3M2203 2396l3 0 4 0 3 0 3-2 3-1 3-2 3-2 2-2 3-3 2-3 1-2 2-3 1-4 2-3 1-3 0-3 0-4 0-3 0-4 0-3 1-3 1-3 0-4 0-3-1-3-2-3-2-3-3-2-2-3-3-2-3-1-3 0-4 0-3 1-3 2-2 3-2 3-1 3 0 4 2 3 2 2 3 2 3 0 4-1 3-2 2-2 0-4-1-3-2-3-3-1M2198 2401l2 3 2 3 2 2 3 2 3 2 4 1 3 0 3 0 3-1 3-2 2-3 1-4-1-3-1-3-3-2-2-2-4-1-3-1-3 0-4 0-3 1 3-2 2-2 3-2 2-2 4-2 3-1 3 0 4 1 3 1 3 2 2 2 3 2 2 3 2 3 0 3 0 4-2 2-2 3-3 1-3 2-3 2-3 1-3 2-3 2-3 2-3 1-3 1-4 0-3-1-3-2-2-2-2-3-1-3-1-4 0-3M2195 2403l3 3 2 3 1 3 2 3 2 2 1 4 0 3-2 3-2 3-3 1-3 0-4 0-3-1-3-2-2-3-2-2-2-3 0-4-1-3 1-4 3 2 3 2 2 2 3 2 3 2 3 2 2 2 3 1 4 1 3-1 3-2 2-3 2-2 1-4 1-3 0-3-1-4-3-2-3-2-3-1-3 0-3 2-2 3-2 3-1 3 0 3 0 4 1 3 2 3 3 2 3 2 2 2 4 1 2 2 3 2 3 1 4 1 3 1 3 1 4 0 3 0 3 0 4-1 3 0 3-2 3-2 2-3 2-3 0-3 0-3-1-3-3-2M2192 2405l2 3 2 2 3 3 2 2 3 2 2 3 3 2 3 1 3 0 4 0 3 0 3-1 4-1 3-2 2-2 3-3 1-2 2-4 1-3 1-3 0-3 0-4 0-3 0-4 0-3 0-3 1-4 1-3 2-3 2-3 2-2 2-3 3-2 3-1 4 0 3-1 3-1 1-4-2-3-3-1-3 0-4 1-3 1-3 2-2 3-2 3-1 3 0 3 2 3 2 3 3 1 3 1 4-1 2-2 2-3 1-3-1-4-2-2-3-3-3-1-3 0-3 1-3 2-3 2-2 3-1 3M2184 2406l-1 4-2 3-1 3 0 3-1 4 1 3 0 3 0 4 0 3 0 4 0 3 0 3 0 4 0 3-1 3-1 4-2 3-1 3-2 3-3 2-3 0-3-1-2-3-1-3-1-4 0-3 1-3 2-3 3-2 3-1 3-1 4 1 3 1 3 2 2 2 2 3 3 2 2 3 1 3 2 3 1 3 1 3 3 2 4-2 2-2 1-3 0-4-2-3-3-2-3-1-3-1-4 0-3 0-3 0-4 1-3 1-3 0-4 1-3 0-4 0-3-1-3-1M2182 2406l-1 3-1 4 0 3 1 3 1 3 3 2 3 1 4 0 3-1 2-3 0-4-1-3-3-2-3-1-4 1-2 2-2 3-1 3 0 3-1 4 0 3 0 3-1 4-1 3-2 3-1 3-2 3-1 3-2 3-2 3-3 1-3 1-4-1-3-1-2-2-2-3-2-3-2-3-1-3-1-3 1-4 1-3 2-2 3-2 4 1 3 1 2 2 2 3 2 3 0 3 0 4-1 3-1 3-2 3-3 1-4 1-3 1-3 0M2176 2405l-1 3 1 3 1 4 1 3 0 3 1 3 2 4 2 2 2 3 3 1 3 1 4-1 3-1 2-2 2-3 2-3 0-4-1-3-1-3-2-3-2-3-2-3 3-2 2-2 3-2 3-2 3-2 3-1 3-1 3 0 4 1 2 2 2 3 1 4 0 3-2 3-2 3-2 2-2 3-3 2-2 2-2 3-2 3-1 3 0 4 0 3 1 4 0 3 1 3 1 4 1 3-1 3-1 3-2 3-3 3-2 2-3 2-4 0M2173 2403l-2 3-2 3-1 3-2 3-2 3-2 2-2 3-3 1-3 1-4-1-3-1-2-2-2-3-1-3 0-4 3-2 2-2 4-1 3 0 3 2 3 1 3 3 1 3 0 3 0 4-2 3-2 3-2 2-2 3-3 2-3 1-3 0-4 0-3-2-2-2-2-3-1-3-1-4-1-3-1-3-1-4 0-3-1-3-1-3-1-4-1-3 0-3 0-4 0-3 1-3 1-4 2-3 1-3 0-3M2168 2399l-1 3-1 3-1 3 0 4-1 3 0 3-1 4 1 3 1 4 1 3 2 3 2 3 1 2 2 3 2 3 1 3 2 3 2 3 2 3 3 2 2 2 3 2 2 3 2 2 1 4 3 2 3 1 3-1 3-2 1-3 0-4 0-3-1-4 0-3-2-3-2-3-2-2-3-1-3-2-4-1-3-1-3-1-3-1-4-1-3 0-3-1-4 0-3-2-3-1-3-2-3-2-3-1-3-1-3-1-3-1-4-1-3-2-3-1-2-3-3-2-2-2-3-2-3-2-2-3-3-2-1-3-1-3-1-4 0-3 1-3M2166 2396l-3 2-3 1-3-1-4 0-3-1-3-1-3-2-3-2-3-2-1-3-1-3-1-4 0-3-1-3-2-3-2-3-3-2-3-2-3 0-3 0-4 0-3 1-3 2-3 1-3 1-4 1-2 3-1 3-1 3 0 4-1 3-1 3 0-3 2-3 3-1 3 1 3 2 1 3 0 4-1 3-1 3-1 3-2 3 1 3 2 3 3 2 3 1 3 2 3 1 4 0 3 1 3 1 4 1 3 1 3 2 3 1 2 3 3 2 2 2 2 3 3 2 2 3 2 2 3 3 2 3 2 2 2 3 1 3M2164 2389l-4 1-3 2-3 0-4 1-3 0-3 2-3 1-3 2-3 2-2 2-3 3-2 2-1 3 0 4 1 3 1 3 1 3 2 3 3 2 3 2 3 2 3 1 3 1 3 2 3 1 3 1 3 2 4 1 3 0 3 1 4-1 3-1 3-2 3-2 1-3 2-3 0-3-1-3-1-4-2-2-2-3-2-3-1-3-2-3 2 3 2 2 3 3 2 2 3 2 3 1 3 0 4 0 3-2 2-2 2-3 2-3 3-2 2-3 3-2 2-2 2-3 3-2M2163 2387l-3-2-2-2-3-2-3-2-2-3-2-2-2-3-3-2-2-3-2-2-3-3-2-2-3-2-2-2-3-2-3-2-3-1-3-2-3-2-3-1-3-3 1-3 2-3 3-1 3 1 3 1 3 2 3 2 3 2 2 2 3 3 2 2 2 3 1 3 0 4-1 3-1 3-2 3-1 3-2 3-2 3-1 3-2 3-1 3 0 4 0 3 0 3 2 3 1 3 2 4 1 3M2164 2382l-4-2-3-1-3-2-2-2-3-2-2-2-3-3-2-2-3-3-2-2-3-2-3-2-3-2-3-1-3 0-4 0-3 0-3 1-4 1-3 1-3 1-2 3 0 4 1 3 1 3 1 3 2 3 3 2 2 2 4 1 3 1 3 0 4 1 3 1 3 1 3 1 3 2 3 1 3 3 2 2 2 3 1 3 1 3 0 4-1 3-1 3-3 2-3 2-3 0-4-1-2-3 0-3 0-4 1-3 2-3 2-2 3-3 2-2M2166 2374l-2-2-3-2-3-1-4-1-3 0-3 0-4 0-3-1-4 0-3-1-3-1-3-1-3-2-2-3-2-3-3-2-1-3-1-3 1-4 2-3 2-2 3-2 2-2 3-3 3-2 2-2 3-2 2-3 1-3 0-4 0-3-2-3 1-3 3-3 3-1 3 1 3 0 4 1 3 0 3-1 4-1 3-1 2-3 3-1 4-1 3 1 3 1 3 1 4 0 3 0 4 0 3 1 3 1 4-1 3 1 3 0 4 1 3 1 3 1 3 1 4 0 3 2 3 2 2 2 1 3 1 4 0 3 0 3 0 4-1 3 0 4M2170 2370l-3-2-3-2-3-1-3-1-4-1-3-1-3 1-4 0-3 2-3 1-2 3-3 2-2 2-3 2-3 2-3 2-2 2-2 3-3 2-1 3-2 3-1 3-2 3-1 3-2 4 0 3-1 3 0 4 0 3 1 3 2 3 3 2 2 3 1 3 1 4 1 3 2 2 3 3 2 2 3 2 2 3 3 2 2 2 3 2 3 1 3 2 3 1 3 2 3 1 4 1 3 2 3 1 3 1 4 0 3 0 3-2 3-2 1-3 1-3-1-4-1-3-3-2-3-2-3 0-3-1-4 0-3 0-4 1-3 1-3 1-2 3-3 2-1 3-1 3M2174 2367l-2-3-2-3-1-3-2-3-1-3-2-3 0-4 0-3 0-3 1-4 1-3 1-3 2-3 2-3 3-2 3-1 3-1 3 0 4-1 3 0 4 0 3 1 3 0 4 1 3 1 3 1 3 2 2 3 3 2 2 2 3 3 2 2 3 2 3 1 3 2 3 0 4 0 3 0 4-1 3 0 3-1 3-1 4 1 2 2 1 4 0 3-1 3 0 4 0 3 0 4 1 3 1 3 1 3 2 3 1 3 2 3 1 3M2178 2365l-3-2-2-2-3-2-4-1-3 0-3 0-4 1-3 0-3 2-3 2-1 3-1 3 1 3 2 3 2 3 3 2 3 2 3 1 2 2-1 3-1 4-1 3-1 3 0 3-1 4-1 3 0 3-1 4-1 3 0 3 0 4 0 3 0 4-1 3-1 3-2 3-3 2-3 2-3 1-3 1-4 0-3-1-3-2-3-1-3-2-3-1-2-3 0-3-1-4 0-3 0-4 0-3 1-3 0-4 1-3M2180 2364l0-3 0-3 0-4 1-3 0-3 1-4 0-3 1-4 2-2 2-3 2-2 3-2 3-1 4 1 3 2 1 3 1 3-1 3-2 3-2 2-4 1-3-1-3-2-2-3-1-3-1-3 2-3 3-2 3-1 3 1 3 2 1 3 0 4-2 3-3 2-3 1-3 1-4 0-3-1-3-2-2-3-2-3-1-3 0-3 0-3 2-4 1-3 3-2 2-2 3-2 3-3 2-2 3-2 1-3 1-3 2-3 3-1 4 1M2183 2364l0-3-1-4 0-3-1-3-1-4-1-3-1-3 0-3-1-4 0-3-1-3-1-4-1-3 0-3 0-4 0-3 0-4 0-3 0-3 0-4 3-2 3-1 3 0 3 1 3 3 3 2 2 2 3 2 3 2 2 2 3 2 3 2 3 2 2 2 3 2 4 1 3 0 3 1 4 0 3 0 4-1 3-1 3 0 3 2 3 2 2 2 1 4 0 3-1 3-1 3-2 3-1 4 0 3 0 3 1 4 1 3 2 2 3 3 2 2 3 2 3 2 2 3 2 2 3 2 3 2 1 4M2192 2365l1-3 3-2 3-2 2-2 3-2 2-3 3-1 4-1 3-1 3 0 4 0 3 1 3 1 3 2 3 2 2 2 3 2 3 2 3 2 3 1 3 1 3 2 2 2 1 4 1 3 0 3 0 4 0 3 0 4 0 3 1 3 1 4 1 3 0 3-1 4 0 3-1 3-2 3-2 3-2 3-2 3-2 2-2 3-2 3-2 2-2 3-1 3-2 4-1 2-2 3-2 3-3 2-2 2-4 1M2197 2368l2-3 1-3 1-3 1-3 1-4 1-3 1-3 1-3 1-3 2-4 2-2 2-3 2-2 3-2 3-1 4-1 3-1 3-2 3-1 3-2 3-2 3-1 3 2 3 2 1 3 0 4-2 3-1 3-1 3-2 3 0 3-1 4-1 3 0 4 0 3 0 3 1 4 0 3 0 3-1 4-1 3-3 2-2 3-3 2-3 1-3 1-3 1-4 1-3 0-4-1M2200 2371l2-3 1-3 2-3 1-3 1-4 1-3 1-3 1-3 1-3 0-4-1-3 0-4-1-3-1-3 0-4-1-3 0-3-1-4 0-3 0-3 1-4 4 0 2 2 1 3 1 3 0 4 0 3-1 3-1 4-1 3-2 3-2 2-3 3-3 1-3 1-4 0-3 0-3-1-4-1-3-1-3-2-3-1-3-1-3-1-4 1-3 1-2 2-3 3-2 3-1 3-1 3 0 4 1 3 1 3M2202 2374l3-2 3-1 4-1 3 0 3-1 4 0 3-1 3-2 4 0 3-1 3 0 4 1 3 1 3 1 3 1 4 1 3 1 3 0 4 1 3-1 3 0 2-3-1-4-1-3-3-2-3-1-3-2-3-1-3-2-2-3-3-2-1-3-1-4 0-3 0-3 1-4 1-3-1-3-2-3-3-2-3-1-3 0-4-1-3-2-2-2-2-3-2-3-2-3-2-2-2-2M2204 2378l3-2 2-3 3-2 2-3 2-2 2-3 1-3 2-3 1-3 2-3 2-3 2-3 3-2 2-3 1-3 2-3 2-3 1-3 0-3-1-3-1-4-2-2-2-3-4-1-3 0-3-1-4 0-3 0-3-1-3-2-3-2-3-2-1-3-2-3-3-2-3 0-4 0-3 1-3 2-2 2-3 2-2 3-2 3-1 3-2 3 0 3-1 3 0 4 0 3-1 4 0 3M2205 2383l3-2 3-2 2-2 3-3 2-2 3-2 2-3 3-2 3-2 3-2 3-1 3-2 2-2 3-2 2-2 2-3 2-3 1-3 1-4 2-3 1-3-2-3-3-1-3 0-3 0-4 1-3 1-3 1-3 1-3 2-4 1-3 1-3 2-3 1-3 1-3 2-3 2-3 2-3 2-2 2-3 2-2 2-3 3-2 2-2 3-2-2-3-3-2-2-3-3-2-2-3-1-3-2-4-1-3 0-3 1-3 1-3 3-1 3-2 3-1 3" fill="none" stroke="#52B3EC" stroke-width="1.8"/>
<circle cx="546.1" cy="596.3" r="5.2" fill="#4d4a52"/>
<circle cx="545.3" cy="598.9" r="0.55" fill="#c24a3a"/><circle cx="547.1" cy="592.5" r="0.55" fill="#d07a3a"/><circle cx="544.4" cy="596.4" r="0.55" fill="#3a6a9a"/><circle cx="543.9" cy="593.6" r="0.55" fill="#c24a3a"/><circle cx="547.7" cy="596.0" r="0.55" fill="#d07a3a"/><circle cx="547.7" cy="598.1" r="0.55" fill="#3a6a9a"/><circle cx="545.3" cy="595.8" r="0.55" fill="#c24a3a"/><circle cx="546.0" cy="600.3" r="0.55" fill="#d07a3a"/><circle cx="545.9" cy="596.0" r="0.55" fill="#3a6a9a"/><circle cx="547.0" cy="597.5" r="0.55" fill="#c24a3a"/><circle cx="546.4" cy="596.4" r="0.55" fill="#d07a3a"/><circle cx="545.6" cy="595.0" r="0.55" fill="#3a6a9a"/><circle cx="547.3" cy="596.7" r="0.55" fill="#c24a3a"/><circle cx="546.2" cy="594.4" r="0.55" fill="#d07a3a"/>
<text x="459.8" y="560.2" font-size="9.0" text-anchor="start" fill="#111" stroke="#111" stroke-width="0.22" >Repulsion due to <tspan font-style="italic">V</tspan><tspan font-size="6.6" dy="0.8">osm</tspan><tspan dy="-0.8"> +</tspan><tspan font-style="italic">V</tspan><tspan font-size="6.6" dy="0.8">elas</tspan></text>
<line x1="516.1" y1="566.5" x2="524.4" y2="566.5" stroke="#222" stroke-width="0.8" />
<path d="M514.1,566.4 l3,-1.6 v3.2z" fill="#222"/>
<line x1="529.5" y1="566.5" x2="538.7" y2="566.5" stroke="#222" stroke-width="0.8" />
<path d="M540.7,566.4 l-3,-1.6 v3.2z" fill="#222"/>
</svg></body></html>
